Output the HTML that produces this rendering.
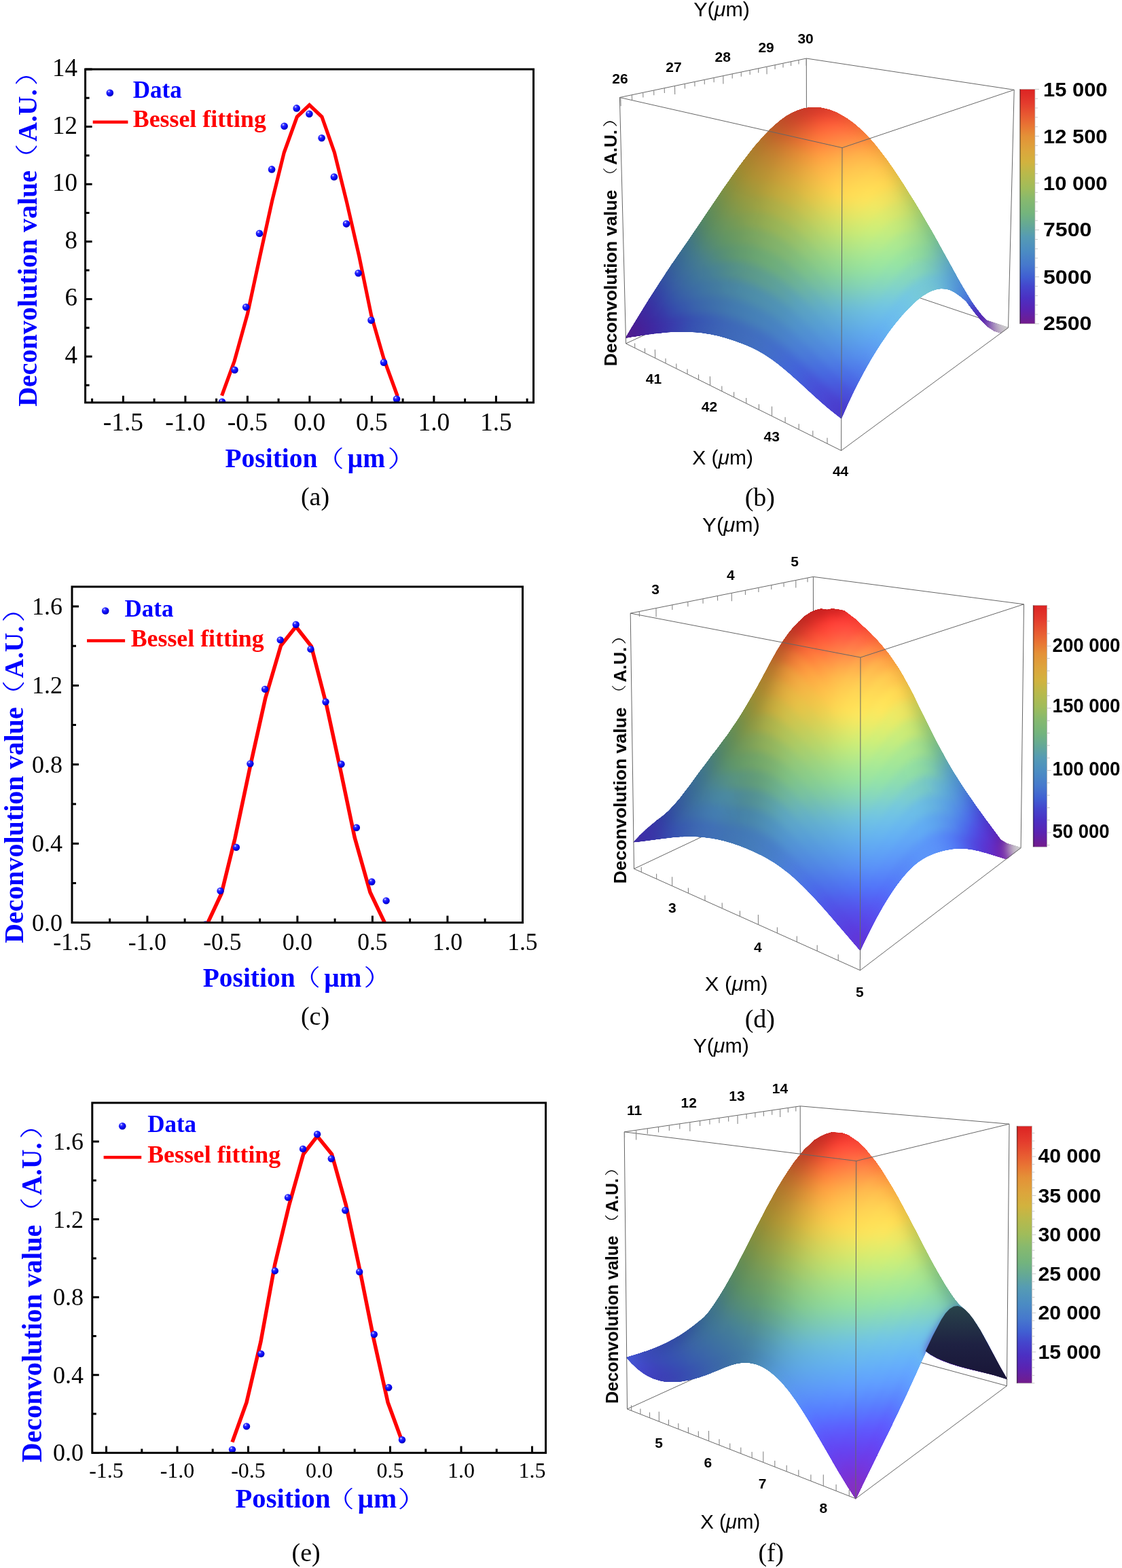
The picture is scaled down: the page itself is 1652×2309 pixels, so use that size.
<!DOCTYPE html>
<html><head><meta charset="utf-8"><title>Deconvolution profiles</title>
<style>html,body{margin:0;padding:0;background:#fff;}svg{display:block;}</style></head>
<body><svg width="1652" height="2309" viewBox="0 0 1652 2309" font-family="'Liberation Serif','Times New Roman',serif">
<rect width="1652" height="2309" fill="#fff"/>
<defs><linearGradient id="bkf" gradientUnits="userSpaceOnUse" x1="0" y1="1925" x2="0" y2="2025"><stop offset="0" stop-color="#28424a"/><stop offset="0.55" stop-color="#1e2142"/><stop offset="1" stop-color="#191638"/></linearGradient><filter id="sm" color-interpolation-filters="sRGB"><feGaussianBlur in="SourceGraphic" stdDeviation="6.5" result="b"/><feComponentTransfer in="b" result="o"><feFuncA type="linear" slope="100"/></feComponentTransfer><feComponentTransfer in="SourceAlpha" result="m"><feFuncA type="linear" slope="2.5"/></feComponentTransfer><feComposite in="o" in2="m" operator="in"/></filter><radialGradient id="ball" cx="0.35" cy="0.3" r="0.75"><stop offset="0" stop-color="#e8e8ff"/><stop offset="0.25" stop-color="#3030ff"/><stop offset="0.7" stop-color="#0000f0"/><stop offset="1" stop-color="#0000a0"/></radialGradient></defs>
<path d="M181.4 592.8v-10M272.9 592.8v-10M364.4 592.8v-10M455.9 592.8v-10M547.4 592.8v-10M638.9 592.8v-10M730.4 592.8v-10M135.6 592.8v-6M227.1 592.8v-6M318.6 592.8v-6M410.1 592.8v-6M501.6 592.8v-6M593.1 592.8v-6M684.6 592.8v-6M776.1 592.8v-6M125.6 525.0h10M125.6 440.4h10M125.6 355.8h10M125.6 271.2h10M125.6 186.6h10M125.6 102.0h10M125.6 567.3h6M125.6 482.7h6M125.6 398.1h6M125.6 313.5h6M125.6 228.9h6M125.6 144.3h6" stroke="#000" stroke-width="3" fill="none"/>
<clipPath id="clipa"><rect x="125.6" y="102" width="659.9" height="490.79999999999995"/></clipPath>
<g clip-path="url(#clipa)"><polyline points="326.6,582.6 345.1,531.8 364.5,462.0 382.8,377.0 400.6,296.0 418.3,224.5 437.3,172.0 455.6,154.5 473.9,172.0 492.4,224.5 510.6,298.0 528.7,377.0 546.8,465.0 565.0,528.0 585.3,583.5" fill="none" stroke="#ff0000" stroke-width="5.2" stroke-linejoin="miter"/>
<circle cx="327.0" cy="591.8" r="5.3" fill="url(#ball)"/>
<circle cx="345.5" cy="544.8" r="5.3" fill="url(#ball)"/>
<circle cx="362.2" cy="452.3" r="5.3" fill="url(#ball)"/>
<circle cx="382.0" cy="343.8" r="5.3" fill="url(#ball)"/>
<circle cx="400.1" cy="249.4" r="5.3" fill="url(#ball)"/>
<circle cx="418.6" cy="185.8" r="5.3" fill="url(#ball)"/>
<circle cx="436.7" cy="159.4" r="5.3" fill="url(#ball)"/>
<circle cx="455.4" cy="167.7" r="5.3" fill="url(#ball)"/>
<circle cx="473.6" cy="203.3" r="5.3" fill="url(#ball)"/>
<circle cx="491.9" cy="260.5" r="5.3" fill="url(#ball)"/>
<circle cx="510.0" cy="329.6" r="5.3" fill="url(#ball)"/>
<circle cx="527.6" cy="402.3" r="5.3" fill="url(#ball)"/>
<circle cx="546.5" cy="471.6" r="5.3" fill="url(#ball)"/>
<circle cx="565.0" cy="533.7" r="5.3" fill="url(#ball)"/>
<circle cx="584.0" cy="587.6" r="5.3" fill="url(#ball)"/>
</g>
<rect x="125.6" y="102" width="659.9" height="490.79999999999995" fill="none" stroke="#000" stroke-width="3"/>
<text x="181.4" y="634" font-size="37.5" text-anchor="middle">-1.5</text>
<text x="272.9" y="634" font-size="37.5" text-anchor="middle">-1.0</text>
<text x="364.4" y="634" font-size="37.5" text-anchor="middle">-0.5</text>
<text x="455.9" y="634" font-size="37.5" text-anchor="middle">0.0</text>
<text x="547.4" y="634" font-size="37.5" text-anchor="middle">0.5</text>
<text x="638.9" y="634" font-size="37.5" text-anchor="middle">1.0</text>
<text x="730.4" y="634" font-size="37.5" text-anchor="middle">1.5</text>
<text x="114" y="535.0" font-size="37" text-anchor="end">4</text>
<text x="114" y="450.4" font-size="37" text-anchor="end">6</text>
<text x="114" y="365.8" font-size="37" text-anchor="end">8</text>
<text x="114" y="281.2" font-size="37" text-anchor="end">10</text>
<text x="114" y="196.6" font-size="37" text-anchor="end">12</text>
<text x="114" y="112.0" font-size="37" text-anchor="end">14</text>
<g font-size="39.5" fill="#0000ff">
<text x="331.5" y="688.3" font-weight="bold" textLength="136" lengthAdjust="spacingAndGlyphs">Position</text>
<text transform="translate(456.91,687.03) scale(1.487,1)" font-size="33.33" font-family="'Liberation Sans','Noto Sans CJK SC',sans-serif" font-weight="300">（</text>
<text x="511.8" y="688.3" font-weight="bold">μm</text>
<text transform="translate(570.49,687.03) scale(1.565,1)" font-size="33.33" font-family="'Liberation Sans','Noto Sans CJK SC',sans-serif" font-weight="300">）</text>
</g>
<g transform="translate(54,598.8) rotate(-90)" font-size="41" fill="#0000ff">
<text x="0" y="0" font-weight="bold" textLength="347.8" lengthAdjust="spacingAndGlyphs">Deconvolution value</text>
<text transform="translate(333.62,-2.65) scale(1.628,1)" font-size="33.12" font-family="'Liberation Sans','Noto Sans CJK SC',sans-serif" font-weight="300">（</text>
<text x="390.4" y="0" font-weight="bold" textLength="77.0" lengthAdjust="spacingAndGlyphs">A.U.</text>
<text transform="translate(472.50,-2.65) scale(1.510,1)" font-size="33.12" font-family="'Liberation Sans','Noto Sans CJK SC',sans-serif" font-weight="300">）</text>
</g>
<circle cx="161.8" cy="136.7" r="5.3" fill="url(#ball)"/>
<text x="195.8" y="144" font-size="35" font-weight="bold" fill="#0000ff">Data</text>
<path d="M136.7 179.8H188.4" stroke="#ff0000" stroke-width="4.5"/>
<text x="195.8" y="187" font-size="35" font-weight="bold" fill="#ff0000" textLength="196" lengthAdjust="spacingAndGlyphs">Bessel fitting</text>
<text x="464" y="744.4" font-size="38" text-anchor="middle">(a)</text>
<path d="M216.9 1358.6v-10M327.4 1358.6v-10M437.9 1358.6v-10M548.4 1358.6v-10M658.9 1358.6v-10M161.6 1358.6v-6M272.1 1358.6v-6M382.6 1358.6v-6M493.1 1358.6v-6M603.6 1358.6v-6M714.1 1358.6v-6M106.0 1358.6h10M106.0 1242.2h10M106.0 1125.8h10M106.0 1009.4h10M106.0 893.0h10M106.0 1300.4h6M106.0 1184.0h6M106.0 1067.6h6M106.0 951.2h6" stroke="#000" stroke-width="3" fill="none"/>
<clipPath id="clipc"><rect x="106" y="864" width="663.5" height="494.5999999999999"/></clipPath>
<g clip-path="url(#clipc)"><polyline points="303.2,1364.7 326.0,1316.0 345.8,1235.3 369.0,1125.6 390.7,1028.3 413.5,950.7 435.7,922.8 458.4,951.7 480.8,1038.7 500.5,1129.8 522.2,1233.3 545.0,1314.0 567.7,1361.6" fill="none" stroke="#ff0000" stroke-width="5.5" stroke-linejoin="miter"/>
<circle cx="302.4" cy="1361.5" r="5.2" fill="url(#ball)"/>
<circle cx="324.5" cy="1311.9" r="5.2" fill="url(#ball)"/>
<circle cx="347.9" cy="1247.8" r="5.2" fill="url(#ball)"/>
<circle cx="368.4" cy="1124.6" r="5.2" fill="url(#ball)"/>
<circle cx="390.1" cy="1014.9" r="5.2" fill="url(#ball)"/>
<circle cx="412.7" cy="942.4" r="5.2" fill="url(#ball)"/>
<circle cx="435.7" cy="919.7" r="5.2" fill="url(#ball)"/>
<circle cx="457.4" cy="955.9" r="5.2" fill="url(#ball)"/>
<circle cx="479.5" cy="1033.5" r="5.2" fill="url(#ball)"/>
<circle cx="502.5" cy="1125.2" r="5.2" fill="url(#ball)"/>
<circle cx="524.9" cy="1218.8" r="5.2" fill="url(#ball)"/>
<circle cx="547.4" cy="1298.5" r="5.2" fill="url(#ball)"/>
<circle cx="568.6" cy="1326.4" r="5.2" fill="url(#ball)"/>
</g>
<rect x="106" y="864" width="663.5" height="494.5999999999999" fill="none" stroke="#000" stroke-width="3"/>
<text x="106.4" y="1399" font-size="35.5" text-anchor="middle">-1.5</text>
<text x="216.9" y="1399" font-size="35.5" text-anchor="middle">-1.0</text>
<text x="327.4" y="1399" font-size="35.5" text-anchor="middle">-0.5</text>
<text x="437.9" y="1399" font-size="35.5" text-anchor="middle">0.0</text>
<text x="548.4" y="1399" font-size="35.5" text-anchor="middle">0.5</text>
<text x="658.9" y="1399" font-size="35.5" text-anchor="middle">1.0</text>
<text x="769.4" y="1399" font-size="35.5" text-anchor="middle">1.5</text>
<text x="92" y="1370.6" font-size="36" text-anchor="end">0.0</text>
<text x="92" y="1254.2" font-size="36" text-anchor="end">0.4</text>
<text x="92" y="1137.8" font-size="36" text-anchor="end">0.8</text>
<text x="92" y="1021.4" font-size="36" text-anchor="end">1.2</text>
<text x="92" y="905.0" font-size="36" text-anchor="end">1.6</text>
<g font-size="39.5" fill="#0000ff">
<text x="298.7" y="1452.6" font-weight="bold" textLength="136" lengthAdjust="spacingAndGlyphs">Position</text>
<text transform="translate(422.85,1451.35) scale(1.487,1)" font-size="33.00" font-family="'Liberation Sans','Noto Sans CJK SC',sans-serif" font-weight="300">（</text>
<text x="477.2" y="1452.6" font-weight="bold">μm</text>
<text transform="translate(535.30,1451.35) scale(1.565,1)" font-size="33.00" font-family="'Liberation Sans','Noto Sans CJK SC',sans-serif" font-weight="300">）</text>
</g>
<g transform="translate(34.4,1389.1) rotate(-90)" font-size="41" fill="#0000ff">
<text x="0" y="0" font-weight="bold" textLength="347.8" lengthAdjust="spacingAndGlyphs">Deconvolution value</text>
<text transform="translate(333.62,-2.65) scale(1.628,1)" font-size="33.12" font-family="'Liberation Sans','Noto Sans CJK SC',sans-serif" font-weight="300">（</text>
<text x="390.4" y="0" font-weight="bold" textLength="77.0" lengthAdjust="spacingAndGlyphs">A.U.</text>
<text transform="translate(472.50,-2.65) scale(1.510,1)" font-size="33.12" font-family="'Liberation Sans','Noto Sans CJK SC',sans-serif" font-weight="300">）</text>
</g>
<circle cx="155.2" cy="899.5" r="5.3" fill="url(#ball)"/>
<text x="183.6" y="907.8" font-size="35" font-weight="bold" fill="#0000ff">Data</text>
<path d="M128 943.4H184.1" stroke="#ff0000" stroke-width="4.5"/>
<text x="192.7" y="951.7" font-size="35" font-weight="bold" fill="#ff0000" textLength="196" lengthAdjust="spacingAndGlyphs">Bessel fitting</text>
<text x="464" y="1509" font-size="38" text-anchor="middle">(c)</text>
<path d="M156.5 2139.4v-10M261.0 2139.4v-10M365.5 2139.4v-10M470.0 2139.4v-10M574.5 2139.4v-10M679.0 2139.4v-10M783.5 2139.4v-10M208.8 2139.4v-6M313.2 2139.4v-6M417.8 2139.4v-6M522.2 2139.4v-6M626.8 2139.4v-6M731.2 2139.4v-6M135.8 2139.4h10M135.8 2024.8h10M135.8 1910.2h10M135.8 1795.6h10M135.8 1681.0h10M135.8 2082.1h6M135.8 1967.5h6M135.8 1852.9h6M135.8 1738.3h6" stroke="#000" stroke-width="3" fill="none"/>
<clipPath id="clipe"><rect x="135.8" y="1624" width="667.7" height="515.4000000000001"/></clipPath>
<g clip-path="url(#clipe)"><polyline points="342.0,2123.6 363.0,2065.2 383.9,1976.0 404.8,1861.5 425.7,1774.4 446.7,1699.6 467.1,1673.1 488.5,1699.6 509.4,1774.4 530.3,1872.5 550.2,1971.6 571.1,2065.2 592.5,2123.6" fill="none" stroke="#ff0000" stroke-width="5.5" stroke-linejoin="miter"/>
<circle cx="342.0" cy="2134.6" r="5.2" fill="url(#ball)"/>
<circle cx="363.0" cy="2100.4" r="5.2" fill="url(#ball)"/>
<circle cx="384.3" cy="1993.6" r="5.2" fill="url(#ball)"/>
<circle cx="404.8" cy="1871.4" r="5.2" fill="url(#ball)"/>
<circle cx="424.0" cy="1763.4" r="5.2" fill="url(#ball)"/>
<circle cx="446.0" cy="1691.9" r="5.2" fill="url(#ball)"/>
<circle cx="467.1" cy="1670.3" r="5.2" fill="url(#ball)"/>
<circle cx="487.8" cy="1706.2" r="5.2" fill="url(#ball)"/>
<circle cx="508.3" cy="1782.2" r="5.2" fill="url(#ball)"/>
<circle cx="529.2" cy="1872.9" r="5.2" fill="url(#ball)"/>
<circle cx="550.8" cy="1965.0" r="5.2" fill="url(#ball)"/>
<circle cx="572.2" cy="2043.2" r="5.2" fill="url(#ball)"/>
<circle cx="592.0" cy="2120.3" r="5.2" fill="url(#ball)"/>
</g>
<rect x="135.8" y="1624" width="667.7" height="515.4000000000001" fill="none" stroke="#000" stroke-width="3"/>
<text x="156.5" y="2176" font-size="32" text-anchor="middle">-1.5</text>
<text x="261.0" y="2176" font-size="32" text-anchor="middle">-1.0</text>
<text x="365.5" y="2176" font-size="32" text-anchor="middle">-0.5</text>
<text x="470.0" y="2176" font-size="32" text-anchor="middle">0.0</text>
<text x="574.5" y="2176" font-size="32" text-anchor="middle">0.5</text>
<text x="679.0" y="2176" font-size="32" text-anchor="middle">1.0</text>
<text x="783.5" y="2176" font-size="32" text-anchor="middle">1.5</text>
<text x="123" y="2151.4" font-size="36" text-anchor="end">0.0</text>
<text x="123" y="2036.8" font-size="36" text-anchor="end">0.4</text>
<text x="123" y="1922.2" font-size="36" text-anchor="end">0.8</text>
<text x="123" y="1807.6" font-size="36" text-anchor="end">1.2</text>
<text x="123" y="1693.0" font-size="36" text-anchor="end">1.6</text>
<g font-size="41" fill="#0000ff">
<text x="346.5" y="2219.8" font-weight="bold" textLength="140" lengthAdjust="spacingAndGlyphs">Position</text>
<text transform="translate(471.91,2218.53) scale(1.487,1)" font-size="33.33" font-family="'Liberation Sans','Noto Sans CJK SC',sans-serif" font-weight="300">（</text>
<text x="526.8" y="2219.8" font-weight="bold">μm</text>
<text transform="translate(585.49,2218.53) scale(1.565,1)" font-size="33.33" font-family="'Liberation Sans','Noto Sans CJK SC',sans-serif" font-weight="300">）</text>
</g>
<g transform="translate(60.6,2153.6) rotate(-90)" font-size="41.5" fill="#0000ff">
<text x="0" y="0" font-weight="bold" textLength="350" lengthAdjust="spacingAndGlyphs">Deconvolution value</text>
<text transform="translate(336.29,-2.67) scale(1.628,1)" font-size="33.38" font-family="'Liberation Sans','Noto Sans CJK SC',sans-serif" font-weight="300">（</text>
<text x="393.5" y="0" font-weight="bold" textLength="77.6" lengthAdjust="spacingAndGlyphs">A.U.</text>
<text transform="translate(476.28,-2.67) scale(1.510,1)" font-size="33.38" font-family="'Liberation Sans','Noto Sans CJK SC',sans-serif" font-weight="300">）</text>
</g>
<circle cx="180.2" cy="1658.2" r="5.3" fill="url(#ball)"/>
<text x="217.2" y="1666.7" font-size="35" font-weight="bold" fill="#0000ff">Data</text>
<path d="M152.6 1704.2H208.2" stroke="#ff0000" stroke-width="4.5"/>
<text x="217.2" y="1711.7" font-size="35" font-weight="bold" fill="#ff0000" textLength="196" lengthAdjust="spacingAndGlyphs">Bessel fitting</text>
<text x="450.6" y="2298.5" font-size="38" text-anchor="middle">(e)</text>
<path d="M1484.5 482.6L1187.8 382.6M1187.8 382.6L921.6 505.9M1187.8 382.6L1187.3 86.0" stroke="#666" stroke-width="1.0" fill="none"/>
<g filter="url(#sm)">
<path d="M1181.2 350.7l7.5 -2.7 6.4 7.4 -7.4 2.2z" fill="#4b30c3"/>
<path d="M1188.3 348.2l7.4 -2.6 6.5 7.9 -7.5 2.1z" fill="#4937c6"/>
<path d="M1175.1 344l7.4 -3.2 6.5 7.6 -7.4 2.7z" fill="#463fca"/>
<path d="M1195.3 345.7l7.6 -2.4 6.4 8.5 -7.6 1.9z" fill="#473ec9"/>
<path d="M1182.1 341l7.5 -3.2 6.5 8.2 -7.5 2.6z" fill="#4446cd"/>
<path d="M1168.8 337.3l7.5 -3.8 6.6 7.7 -7.4 3.2z" fill="#4250cf"/>
<path d="M1202.5 343.4l7.6 -2.3 6.4 9.1 -7.6 1.7z" fill="#4544cc"/>
<path d="M1189.2 338l7.6 -3.1 6.5 8.9 -7.6 2.4z" fill="#4250cf"/>
<path d="M1175.9 333.6l7.5 -3.7 6.6 8.4 -7.5 3.1z" fill="#415bd1"/>
<path d="M1162.5 330.6l7.5 -4.5 6.7 7.8 -7.5 3.8z" fill="#4163d1"/>
<path d="M1209.7 341.2l7.7 -2.1 6.4 9.7 -7.7 1.5z" fill="#434bce"/>
<path d="M1196.3 335.1l7.7 -2.9 6.5 9.4 -7.7 2.3z" fill="#415ad1"/>
<path d="M1183 330.1l7.6 -3.7 6.5 9 -7.5 3.1z" fill="#4165d1"/>
<path d="M1169.6 326.3l7.5 -4.4 6.7 8.4 -7.5 3.8z" fill="#436dcf"/>
<path d="M1217 339.2l7.8 -1.8 6.3 10.2 -7.8 1.3z" fill="#4253d0"/>
<path d="M1156.1 324l7.5 -5.2 6.8 7.7 -7.5 4.5z" fill="#4573ce"/>
<path d="M1203.6 332.3l7.7 -2.6 6.5 10 -7.8 2.1z" fill="#4163d1"/>
<path d="M1190.1 326.6l7.7 -3.5 6.6 9.6 -7.7 2.9z" fill="#446ecf"/>
<path d="M1176.7 322.1l7.6 -4.3 6.6 9.1 -7.6 3.7z" fill="#4677cd"/>
<path d="M1224.3 337.5l7.9 -1.6 6.3 10.8 -7.8 1z" fill="#415bd1"/>
<path d="M1163.2 319.1l7.5 -5.1 6.8 8.4 -7.5 4.4z" fill="#477ccb"/>
<path d="M1210.9 329.8l7.8 -2.4 6.4 10.6 -7.8 1.8z" fill="#436ad0"/>
<path d="M1149.7 317.6l7.5 -5.8 6.8 7.4 -7.5 5.2z" fill="#487fc9"/>
<path d="M1197.4 323.3l7.7 -3.3 6.6 10.2 -7.8 2.7z" fill="#4676cd"/>
<path d="M1183.9 318l7.7 -4.1 6.6 9.7 -7.7 3.5z" fill="#477eca"/>
<path d="M1231.7 336l8 -1.2 6.3 11.3 -7.9 0.7z" fill="#4061d2"/>
<path d="M1170.3 314.3l7.6 -5 6.8 9 -7.6 4.3z" fill="#4983c7"/>
<path d="M1218.2 327.5l7.9 -2.2 6.4 11.2 -7.8 1.6z" fill="#4471ce"/>
<path d="M1156.7 312.1l7.6 -5.8 6.8 8.2 -7.5 5z" fill="#4a87c5"/>
<path d="M1143.1 311.5l7.5 -6.5 6.9 7.2 -7.4 5.8z" fill="#4a89c4"/>
<path d="M1204.7 320.1l7.8 -3 6.5 10.8 -7.8 2.5z" fill="#477ccb"/>
<path d="M1191.1 314.1l7.8 -4 6.6 10.4 -7.7 3.3z" fill="#4984c7"/>
<path d="M1239.2 334.8l8 -0.9 6.3 11.9 -8 0.3z" fill="#4266d1"/>
<path d="M1177.5 309.5l7.7 -4.8 6.7 9.7 -7.7 4.2z" fill="#4b8ac4"/>
<path d="M1225.7 325.4l7.9 -1.8 6.4 11.8 -7.9 1.2z" fill="#4677cd"/>
<path d="M1163.9 306.6l7.6 -5.7 6.8 8.9 -7.6 5z" fill="#4d8ec1"/>
<path d="M1212.1 317.2l7.9 -2.7 6.5 11.4 -7.9 2.2z" fill="#4881c8"/>
<path d="M1150.2 305.4l7.6 -6.5 6.9 7.8 -7.6 5.8z" fill="#4e90bf"/>
<path d="M1136.5 305.9l7.5 -7.2 7 6.7 -7.5 6.5z" fill="#4e91be"/>
<path d="M1246.8 334l8.1 -0.5 6.2 12.5 -8 -0.1z" fill="#436ad0"/>
<path d="M1198.4 310.3l7.9 -3.7 6.6 11.1 -7.8 3z" fill="#4b8ac4"/>
<path d="M1184.8 305l7.8 -4.7 6.7 10.4 -7.8 4z" fill="#4e90bf"/>
<path d="M1233.2 323.7l8 -1.4 6.4 12.3 -8 0.9z" fill="#477bcb"/>
<path d="M1171.1 301.2l7.7 -5.5 6.8 9.5 -7.7 4.9z" fill="#5094bb"/>
<path d="M1219.5 314.6l8 -2.4 6.5 12.1 -8 1.8z" fill="#4a86c6"/>
<path d="M1157.3 299.3l7.7 -6.4 6.9 8.5 -7.7 5.7z" fill="#5297b8"/>
<path d="M1254.4 333.5l8.2 0.1 6.2 12.9 -8.1 -0.5z" fill="#446ecf"/>
<path d="M1143.6 299.1l7.6 -7.1 7 7.3 -7.6 6.5z" fill="#5398b7"/>
<path d="M1205.9 306.8l7.9 -3.3 6.6 11.6 -7.9 2.7z" fill="#4d8fc0"/>
<path d="M1129.8 300.8l7.5 -7.8 7.1 6.1 -7.5 7.1z" fill="#5398b7"/>
<path d="M1240.8 322.3l8.1 -0.9 6.3 12.8 -8.1 0.5z" fill="#487eca"/>
<path d="M1192.1 300.6l7.9 -4.4 6.7 11 -7.9 3.7z" fill="#5195ba"/>
<path d="M1178.3 296l7.8 -5.3 6.8 10.2 -7.7 4.6z" fill="#549ab5"/>
<path d="M1227.1 312.3l8.1 -2 6.4 12.7 -8 1.4z" fill="#4b8ac4"/>
<path d="M1164.5 293.2l7.8 -6.2 6.9 9.2 -7.7 5.5z" fill="#579daf"/>
<path d="M1262.1 333.6l8.3 0.5 6.2 13.4 -8.2 -1z" fill="#4471ce"/>
<path d="M1213.3 303.6l8 -3 6.6 12.3 -8 2.4z" fill="#5093bc"/>
<path d="M1150.7 292.4l7.7 -7.1 7 8 -7.7 6.4z" fill="#5a9fab"/>
<path d="M1136.9 293.4l7.6 -7.8 7 6.8 -7.5 7.1z" fill="#5a9faa"/>
<path d="M1248.4 321.4l8.2 -0.5 6.4 13.4 -8.2 0z" fill="#4881c8"/>
<path d="M1199.5 296.5l8 -4 6.7 11.6 -8 3.4z" fill="#549ab5"/>
<path d="M1123 296.3l7.5 -8.3 7.2 5.3 -7.5 7.8z" fill="#589ead"/>
<path d="M1185.7 291l7.9 -5 6.8 10.8 -7.9 4.4z" fill="#5a9faa"/>
<path d="M1234.7 310.4l8.1 -1.5 6.5 13.2 -8.2 1z" fill="#4c8ec1"/>
<path d="M1269.9 334.1l8.4 1.1 6.1 13.8 -8.3 -1.5z" fill="#4573ce"/>
<path d="M1171.8 287.3l7.8 -5.9 6.9 9.8 -7.8 5.3z" fill="#5fa3a1"/>
<path d="M1220.9 300.8l8.1 -2.6 6.5 12.8 -8 2z" fill="#5296b9"/>
<path d="M1157.9 285.7l7.8 -6.9 7 8.7 -7.8 6.2z" fill="#62a69b"/>
<path d="M1256.2 320.9l8.3 0.1 6.2 13.9 -8.2 -0.6z" fill="#4984c7"/>
<path d="M1144 286.1l7.7 -7.8 7.1 7.4 -7.7 7.1z" fill="#63a799"/>
<path d="M1207 292.6l8.1 -3.5 6.6 12.2 -8 3z" fill="#589ead"/>
<path d="M1130.1 288.4l7.6 -8.4 7.2 6 -7.6 7.8z" fill="#62a69a"/>
<path d="M1116.2 292.6l7.5 -8.9 7.2 4.5 -7.5 8.4z" fill="#5fa4a0"/>
<path d="M1242.4 309l8.2 -1 6.4 13.7 -8.2 0.5z" fill="#4e90bf"/>
<path d="M1193.1 286.2l8 -4.6 6.8 11.5 -8 4z" fill="#60a49e"/>
<path d="M1277.8 335.1l8.4 1.8 6.1 14.1 -8.4 -2.1z" fill="#4574ce"/>
<path d="M1179.2 281.7l7.9 -5.7 6.9 10.6 -7.9 5z" fill="#66a993"/>
<path d="M1228.5 298.3l8.2 -2 6.5 13.4 -8.1 1.5z" fill="#549ab5"/>
<path d="M1165.2 279.1l7.9 -6.6 6.9 9.4 -7.8 6z" fill="#69ac8d"/>
<path d="M1264 321l8.3 0.7 6.3 14.3 -8.3 -1.2z" fill="#4985c6"/>
<path d="M1214.6 289.2l8.1 -3.1 6.7 12.8 -8.1 2.6z" fill="#5da2a4"/>
<path d="M1151.3 278.7l7.7 -7.6 7.1 8.1 -7.8 6.9z" fill="#6bae8a"/>
<path d="M1137.3 280.5l7.6 -8.4 7.2 6.6 -7.7 7.7z" fill="#6bae8a"/>
<path d="M1250.1 308l8.3 -0.3 6.4 14.1 -8.3 -0.1z" fill="#4f92bd"/>
<path d="M1123.3 284.2l7.5 -9 7.3 5.1 -7.6 8.4z" fill="#69ac8e"/>
<path d="M1200.7 281.8l8 -4.2 6.7 12.1 -8 3.6z" fill="#66a993"/>
<path d="M1285.7 336.8l8.5 2.4 6.1 14.3 -8.5 -2.7z" fill="#4574ce"/>
<path d="M1109.2 289.7l7.5 -9.3 7.4 3.5 -7.5 8.9z" fill="#65a995"/>
<path d="M1186.7 276.3l7.9 -5.3 6.9 11.2 -8 4.6z" fill="#6caf88"/>
<path d="M1236.2 296.4l8.3 -1.5 6.5 13.9 -8.3 0.9z" fill="#579db0"/>
<path d="M1271.9 321.7l8.4 1.4 6.2 14.6 -8.4 -1.8z" fill="#4a87c6"/>
<path d="M1172.6 272.8l7.9 -6.4 7 10.2 -7.9 5.6z" fill="#71b280"/>
<path d="M1222.3 286.2l8.2 -2.5 6.6 13.3 -8.2 2.1z" fill="#62a69b"/>
<path d="M1158.6 271.5l7.8 -7.3 7.1 8.8 -7.9 6.6z" fill="#74b47c"/>
<path d="M1258 307.7l8.4 0.3 6.3 14.5 -8.4 -0.7z" fill="#5094bb"/>
<path d="M1293.7 339.1l8.5 3.2 6.1 14.2 -8.5 -3.2z" fill="#4574ce"/>
<path d="M1144.5 272.5l7.7 -8.3 7.2 7.4 -7.7 7.6z" fill="#74b47c"/>
<path d="M1208.2 277.8l8.2 -3.7 6.7 12.7 -8.1 3.1z" fill="#6bad8b"/>
<path d="M1130.4 275.7l7.7 -9 7.2 5.7 -7.6 8.4z" fill="#73b47e"/>
<path d="M1116.3 280.9l7.6 -9.5 7.4 4.1 -7.6 9z" fill="#6fb184"/>
<path d="M1102.2 287.8l7.5 -9.7 7.5 2.5 -7.5 9.3z" fill="#6aad8c"/>
<path d="M1244 295l8.4 -0.9 6.4 14.4 -8.3 0.3z" fill="#5a9fab"/>
<path d="M1194.2 271.2l8.1 -4.8 6.8 11.9 -8.1 4.2z" fill="#72b47e"/>
<path d="M1279.8 323l8.5 2.3 6.2 14.8 -8.4 -2.5z" fill="#4a87c5"/>
<path d="M1180.1 266.8l8 -6 6.9 10.8 -8 5.3z" fill="#79b678"/>
<path d="M1230 283.8l8.3 -2 6.6 13.9 -8.3 1.5z" fill="#65a994"/>
<path d="M1265.9 307.9l8.5 1.2 6.3 14.9 -8.5 -1.5z" fill="#5195ba"/>
<path d="M1301.8 342.1l8.6 3.9 6 14.1 -8.6 -3.8z" fill="#4572ce"/>
<path d="M1166 264.5l7.9 -7 7 9.5 -7.9 6.3z" fill="#7db775"/>
<path d="M1215.9 274.3l8.2 -3.2 6.7 13.3 -8.2 2.6z" fill="#70b183"/>
<path d="M1151.8 264.7l7.8 -8.1 7.2 8 -7.8 7.4z" fill="#7fb774"/>
<path d="M1137.6 267.2l7.8 -9 7.3 6.4 -7.8 8.3z" fill="#7eb775"/>
<path d="M1251.9 294.2l8.4 -0.1 6.4 14.7 -8.4 -0.3z" fill="#5ca1a6"/>
<path d="M1123.5 271.9l7.7 -9.6 7.3 4.7 -7.7 9z" fill="#7bb677"/>
<path d="M1287.9 325.1l8.5 3.2 6.2 14.8 -8.6 -3.2z" fill="#4a87c6"/>
<path d="M1201.8 266.6l8.1 -4.3 6.9 12.5 -8.2 3.7z" fill="#79b678"/>
<path d="M1109.3 278.6l7.6 -9.9 7.4 2.9 -7.6 9.5z" fill="#75b47c"/>
<path d="M1095.2 287l7.5 -10.1 7.5 1.3 -7.5 9.7z" fill="#6eb086"/>
<path d="M1187.6 261.1l8.1 -5.5 6.9 11.4 -8 4.9z" fill="#81b872"/>
<path d="M1237.8 281.9l8.4 -1.3 6.5 14.3 -8.3 0.9z" fill="#69ac8e"/>
<path d="M1309.9 345.8l8.7 4.5 6 13.8 -8.7 -4.3z" fill="#4470cf"/>
<path d="M1273.9 309l8.5 2 6.3 15.1 -8.5 -2.2z" fill="#5195ba"/>
<path d="M1173.4 257.9l8 -6.7 7.1 10.2 -8 5.9z" fill="#87b96e"/>
<path d="M1223.7 271.3l8.3 -2.5 6.6 13.8 -8.2 1.9z" fill="#74b47c"/>
<path d="M1159.2 257l7.9 -7.7 7.2 8.7 -7.9 7z" fill="#8ab96b"/>
<path d="M1259.8 294l8.5 0.8 6.4 15.1 -8.5 -1.1z" fill="#5da2a3"/>
<path d="M1295.9 328.1l8.7 3.9 6.1 14.8 -8.6 -3.9z" fill="#4986c6"/>
<path d="M1145 258.7l7.8 -8.7 7.3 7 -7.9 8.1z" fill="#8ab96b"/>
<path d="M1209.5 262.5l8.2 -3.7 6.8 13 -8.2 3.2z" fill="#80b774"/>
<path d="M1130.7 262.9l7.8 -9.6 7.3 5.3 -7.7 8.9z" fill="#87b96e"/>
<path d="M1116.5 269.2l7.6 -10.1 7.5 3.4 -7.7 9.6z" fill="#81b872"/>
<path d="M1102.2 277.5l7.6 -10.5 7.5 1.8 -7.6 10z" fill="#7ab678"/>
<path d="M1088 287.4l7.5 -10.5 7.6 0 -7.5 10.1z" fill="#70b282"/>
<path d="M1318.1 350l8.8 5 6 13.6 -8.8 -4.7z" fill="#436dcf"/>
<path d="M1245.7 280.6l8.4 -0.5 6.6 14.8 -8.5 0.1z" fill="#6bae8a"/>
<path d="M1195.3 255.9l8.1 -5 6.9 12.1 -8.1 4.3z" fill="#89b96c"/>
<path d="M1281.9 310.8l8.6 3 6.3 15.3 -8.6 -3.1z" fill="#5195ba"/>
<path d="M1181 251.5l8.1 -6.1 7 10.8 -8.1 5.5z" fill="#92ba65"/>
<path d="M1231.5 268.9l8.4 -1.8 6.6 14.3 -8.3 1.3z" fill="#78b579"/>
<path d="M1304.1 331.8l8.7 4.6 6.1 14.7 -8.7 -4.5z" fill="#4984c7"/>
<path d="M1267.8 294.7l8.6 1.7 6.4 15.4 -8.6 -2z" fill="#5ea3a1"/>
<path d="M1166.7 249.7l8 -7.4 7.1 9.4 -8 6.7z" fill="#97bb61"/>
<path d="M1152.4 250.4l7.9 -8.5 7.2 7.8 -7.9 7.8z" fill="#98bb60"/>
<path d="M1217.3 259l8.3 -3 6.8 13.5 -8.3 2.5z" fill="#85b96f"/>
<path d="M1326.4 354.7l8.8 5.3 6 13.5 -8.8 -5.2z" fill="#4269d0"/>
<path d="M1138 253.8l7.9 -9.5 7.3 6 -7.8 8.8z" fill="#96bb62"/>
<path d="M1253.7 280.1l8.5 0.3 6.5 15.2 -8.5 -0.7z" fill="#6daf87"/>
<path d="M1290.1 313.6l8.6 3.9 6.3 15.4 -8.7 -4z" fill="#5195ba"/>
<path d="M1123.7 259.6l7.8 -10.2 7.4 4.1 -7.8 9.6z" fill="#90ba67"/>
<path d="M1109.4 267.6l7.7 -10.6 7.5 2.2 -7.7 10.2z" fill="#87b96e"/>
<path d="M1080.8 289.1l7.5 -10.8 7.6 -1.4 -7.5 10.4z" fill="#72b37f"/>
<path d="M1095.1 277.5l7.6 -10.8 7.5 0.4 -7.5 10.4z" fill="#7db775"/>
<path d="M1203 251.2l8.2 -4.3 6.9 12.6 -8.2 3.7z" fill="#92ba65"/>
<path d="M1312.4 336.1l8.8 5.1 6 14.6 -8.8 -5z" fill="#4882c8"/>
<path d="M1239.4 267.2l8.5 -1 6.6 14.7 -8.4 0.5z" fill="#7cb676"/>
<path d="M1188.6 245.7l8.2 -5.6 7 11.5 -8.2 4.9z" fill="#9cbb5d"/>
<path d="M1275.9 296.3l8.7 2.7 6.3 15.7 -8.6 -3z" fill="#5ea3a1"/>
<path d="M1174.3 242.7l8.1 -6.9 7.1 10.1 -8.1 6.2z" fill="#a2bc59"/>
<path d="M1225.1 256.1l8.4 -2.3 6.8 14.1 -8.4 1.8z" fill="#8bb96b"/>
<path d="M1334.7 359.7l9 5.5 5.9 13.5 -8.9 -5.5z" fill="#4265d1"/>
<path d="M1159.9 242.4l8 -8.1 7.2 8.5 -8 7.4z" fill="#a5bb57"/>
<path d="M1298.3 317.2l8.7 4.6 6.2 15.4 -8.7 -4.6z" fill="#5093bc"/>
<path d="M1261.7 280.4l8.6 1.3 6.5 15.6 -8.6 -1.7z" fill="#6eb085"/>
<path d="M1145.4 244.8l8 -9.1 7.3 6.6 -7.9 8.5z" fill="#a4bb57"/>
<path d="M1210.8 247.1l8.3 -3.6 6.9 13.2 -8.4 3z" fill="#99bb5f"/>
<path d="M1131 250l7.9 -10.1 7.4 4.7 -7.8 9.5z" fill="#a0bc5a"/>
<path d="M1116.6 257.6l7.8 -10.8 7.5 2.8 -7.8 10.2z" fill="#97bb61"/>
<path d="M1073.5 292.1l7.5 -11.1 7.7 -2.8 -7.5 10.7z" fill="#72b37e"/>
<path d="M1087.8 278.9l7.6 -11.2 7.7 -1 -7.6 10.8z" fill="#7fb774"/>
<path d="M1102.2 267.3l7.7 -11.1 7.6 0.8 -7.7 10.7z" fill="#8cba6a"/>
<path d="M1320.7 340.9l8.9 5.4 6 14.5 -8.9 -5.3z" fill="#487fc9"/>
<path d="M1247.4 266.2l8.6 0 6.6 15.1 -8.6 -0.4z" fill="#7fb774"/>
<path d="M1284.1 298.8l8.7 3.7 6.3 15.8 -8.7 -3.8z" fill="#5da2a3"/>
<path d="M1196.4 240.4l8.2 -4.9 7 12.1 -8.2 4.3z" fill="#a5bb57"/>
<path d="M1343.2 364.9l9 5.7 5.9 13.7 -9 -5.9z" fill="#4061d2"/>
<path d="M1181.9 236.2l8.2 -6.2 7.1 10.7 -8.2 5.6z" fill="#adba52"/>
<path d="M1233 253.9l8.5 -1.4 6.8 14.5 -8.5 1z" fill="#90ba67"/>
<path d="M1306.5 321.5l8.9 5.1 6.1 15.4 -8.8 -5z" fill="#4f91be"/>
<path d="M1269.8 281.6l8.7 2.4 6.4 15.9 -8.6 -2.7z" fill="#6eb085"/>
<path d="M1167.4 234.7l8.2 -7.5 7.2 9.2 -8.1 6.8z" fill="#b2ba4f"/>
<path d="M1152.9 236.2l8.1 -8.8 7.3 7.3 -8 8.1z" fill="#b2ba4f"/>
<path d="M1218.6 243.7l8.5 -2.8 6.8 13.7 -8.4 2.3z" fill="#a0bc5a"/>
<path d="M1329 346l9 5.5 6 14.5 -8.9 -5.5z" fill="#477ccb"/>
<path d="M1138.4 240.4l8 -9.8 7.4 5.4 -7.9 9.2z" fill="#afba51"/>
<path d="M1292.3 302.2l8.8 4.5 6.3 16 -8.8 -4.6z" fill="#5ca1a6"/>
<path d="M1066.1 296.4l7.5 -11.4 7.8 -4.2 -7.5 11.1z" fill="#71b380"/>
<path d="M1255.5 266.1l8.6 1 6.6 15.5 -8.6 -1.3z" fill="#80b773"/>
<path d="M1123.9 247.4l7.9 -10.7 7.5 3.4 -7.8 10.1z" fill="#a8bb55"/>
<path d="M1080.6 281.6l7.5 -11.5 7.8 -2.5 -7.6 11.2z" fill="#80b773"/>
<path d="M1109.5 256.8l7.7 -11.2 7.6 1.3 -7.7 10.8z" fill="#9dbc5c"/>
<path d="M1095 268.3l7.7 -11.5 7.6 -0.6 -7.6 11.1z" fill="#8fba67"/>
<path d="M1204.2 235.7l8.3 -4.1 7 12.6 -8.4 3.6z" fill="#adba52"/>
<path d="M1351.7 370.2l9.1 6.2 5.8 14 -9.1 -6.4z" fill="#415cd1"/>
<path d="M1314.9 326.3l8.9 5.5 6.1 15.3 -8.9 -5.3z" fill="#4d8fc0"/>
<path d="M1241.1 252.6l8.5 -0.5 6.7 14.9 -8.5 0z" fill="#93ba64"/>
<path d="M1189.6 230.3l8.3 -5.5 7.1 11.3 -8.3 4.9z" fill="#b7b94c"/>
<path d="M1278 283.8l8.8 3.5 6.4 16.1 -8.8 -3.7z" fill="#6eb086"/>
<path d="M1175.1 227.6l8.2 -6.9 7.2 9.8 -8.2 6.3z" fill="#bdb849"/>
<path d="M1337.5 351.2l9.1 5.7 5.9 14.5 -9 -5.7z" fill="#467acc"/>
<path d="M1226.6 241.1l8.5 -1.9 6.8 14.1 -8.5 1.4z" fill="#a5bb57"/>
<path d="M1300.6 306.5l8.9 5 6.2 16 -8.8 -5.1z" fill="#5a9faa"/>
<path d="M1160.5 227.8l8.2 -8.2 7.3 8.1 -8.2 7.5z" fill="#c0b747"/>
<path d="M1263.6 267l8.7 2 6.6 15.9 -8.7 -2.4z" fill="#81b773"/>
<path d="M1145.9 231.1l8.1 -9.4 7.4 6 -8 8.8z" fill="#beb848"/>
<path d="M1058.7 301.9l7.5 -11.7 7.9 -5.5 -7.5 11.4z" fill="#6fb183"/>
<path d="M1360.2 376.1l9.2 6.9 5.8 14 -9.1 -7z" fill="#4255d0"/>
<path d="M1073.2 285.6l7.6 -11.8 7.8 -3.9 -7.6 11.5z" fill="#7fb774"/>
<path d="M1131.4 237.3l7.9 -10.4 7.5 3.9 -7.9 9.9z" fill="#b8b94c"/>
<path d="M1212.1 231.8l8.4 -3.3 7 13.2 -8.5 2.7z" fill="#b4ba4e"/>
<path d="M1087.7 270.7l7.7 -11.8 7.7 -2.1 -7.7 11.4z" fill="#90ba66"/>
<path d="M1116.8 246.2l7.8 -11.2 7.6 1.9 -7.8 10.7z" fill="#aeba52"/>
<path d="M1102.2 257.5l7.8 -11.6 7.7 -0.3 -7.8 11.2z" fill="#a1bc5a"/>
<path d="M1323.3 331.5l9 5.6 6.1 15.2 -9 -5.5z" fill="#4c8dc2"/>
<path d="M1286.3 287l8.8 4.3 6.4 16.3 -8.8 -4.4z" fill="#6caf88"/>
<path d="M1249.2 252.1l8.6 0.5 6.7 15.3 -8.7 -0.9z" fill="#96bb62"/>
<path d="M1197.5 225l8.4 -4.7 7 12 -8.3 4.1z" fill="#c0b747"/>
<path d="M1346 356.5l9.2 6.2 5.9 14.6 -9.1 -6.3z" fill="#4576cd"/>
<path d="M1182.9 221l8.3 -6.1 7.2 10.5 -8.3 5.5z" fill="#c8b543"/>
<path d="M1309 311.2l8.9 5.5 6.2 16 -8.9 -5.5z" fill="#579daf"/>
<path d="M1234.6 239.3l8.6 -1 6.8 14.6 -8.6 0.5z" fill="#aabb54"/>
<path d="M1271.8 268.9l8.8 3.1 6.5 16.2 -8.7 -3.5z" fill="#80b773"/>
<path d="M1368.9 382.6l9.2 8 5.8 13.6 -9.2 -7.6z" fill="#434cce"/>
<path d="M1168.2 220l8.2 -7.6 7.3 8.8 -8.2 6.9z" fill="#ccb441"/>
<path d="M1051.2 308.5l7.5 -11.8 7.9 -6.8 -7.5 11.6z" fill="#6caf88"/>
<path d="M1331.8 336.8l9.1 5.8 6 15.1 -9.1 -5.7z" fill="#4b8bc4"/>
<path d="M1153.5 222.2l8.2 -9 7.4 6.8 -8.2 8.2z" fill="#ccb441"/>
<path d="M1220 228.7l8.6 -2.3 6.9 13.6 -8.5 1.8z" fill="#bab94a"/>
<path d="M1065.7 290.9l7.6 -12 7.9 -5.3 -7.6 11.8z" fill="#7db775"/>
<path d="M1138.9 227.4l8 -10.1 7.5 4.6 -8 9.5z" fill="#c8b543"/>
<path d="M1294.6 291.1l8.9 5 6.3 16.3 -8.8 -5z" fill="#6aad8c"/>
<path d="M1080.3 274.5l7.7 -12.1 7.8 -3.6 -7.7 11.8z" fill="#90ba67"/>
<path d="M1124.2 235.6l8 -10.9 7.5 2.3 -7.9 10.5z" fill="#bfb748"/>
<path d="M1094.9 259.6l7.8 -12 7.7 -1.8 -7.7 11.6z" fill="#a2bc59"/>
<path d="M1257.3 252.5l8.8 1.7 6.6 15.7 -8.7 -2z" fill="#97bb61"/>
<path d="M1109.6 246.5l7.8 -11.6 7.7 0.2 -7.9 11.2z" fill="#b2ba4f"/>
<path d="M1354.7 362.4l9.2 7 5.8 14.4 -9.1 -6.9z" fill="#4470cf"/>
<path d="M1205.4 220.6l8.5 -3.8 7 12.4 -8.4 3.3z" fill="#c8b543"/>
<path d="M1317.4 316.4l9.1 5.7 6.1 15.9 -9 -5.6z" fill="#559bb4"/>
<path d="M1242.8 238.4l8.7 0.1 6.7 15 -8.7 -0.6z" fill="#adba52"/>
<path d="M1280.1 271.8l8.9 4 6.5 16.5 -8.9 -4.3z" fill="#7fb774"/>
<path d="M1190.7 215.2l8.4 -5.3 7.2 11.1 -8.4 4.7z" fill="#d2b23e"/>
<path d="M1377.6 390.1l9.3 9.2 5.7 12.8 -9.2 -8.4z" fill="#4544cc"/>
<path d="M1340.3 342.2l9.2 6.4 6 15 -9.1 -6.2z" fill="#4a88c5"/>
<path d="M1176 212.8l8.3 -6.8 7.3 9.4 -8.3 6.2z" fill="#d4af3e"/>
<path d="M1043.6 316.2l7.5 -11.9 8 -8 -7.4 11.8z" fill="#68ac8f"/>
<path d="M1303 295.8l9 5.5 6.3 16.3 -9 -5.5z" fill="#68ab90"/>
<path d="M1228.1 226.4l8.6 -1.3 6.9 14 -8.6 0.9z" fill="#bfb748"/>
<path d="M1161.2 213.7l8.3 -8.3 7.4 7.5 -8.3 7.6z" fill="#d5ae3d"/>
<path d="M1058.2 297.4l7.6 -12.2 8 -6.6 -7.6 11.9z" fill="#7ab678"/>
<path d="M1265.6 254.1l8.8 2.7 6.6 16.1 -8.8 -3.1z" fill="#97bb61"/>
<path d="M1363.3 369l9.3 8.3 5.9 14.1 -9.3 -8z" fill="#4269d0"/>
<path d="M1072.9 279.6l7.6 -12.2 7.9 -5.2 -7.6 12z" fill="#8dba69"/>
<path d="M1146.5 217.9l8.1 -9.6 7.5 5.3 -8.1 8.9z" fill="#d4b03e"/>
<path d="M1087.5 263.1l7.8 -12.2 7.8 -3.4 -7.7 11.9z" fill="#a2bc59"/>
<path d="M1131.7 225.3l8.1 -10.7 7.5 2.9 -8 10.1z" fill="#cfb340"/>
<path d="M1102.2 248.3l7.9 -11.9 7.7 -1.6 -7.8 11.7z" fill="#b4ba4e"/>
<path d="M1117 235.5l7.9 -11.4 7.7 0.6 -8 11z" fill="#c4b645"/>
<path d="M1213.4 217l8.6 -2.8 7 12.9 -8.6 2.3z" fill="#ceb340"/>
<path d="M1326 321.8l9.1 6 6.1 15.6 -9.1 -5.8z" fill="#5398b7"/>
<path d="M1386.4 398.8l9.3 10.6 5.7 11.4 -9.3 -9.2z" fill="#473bc8"/>
<path d="M1288.5 275.6l9 4.8 6.4 16.6 -8.9 -5z" fill="#7cb676"/>
<path d="M1251 238.4l8.7 1.3 6.8 15.4 -8.8 -1.7z" fill="#aeba52"/>
<path d="M1198.6 210.2l8.5 -4.3 7.2 11.6 -8.5 3.7z" fill="#d5ae3d"/>
<path d="M1349 348.2l9.2 7.3 6 14.8 -9.2 -7.1z" fill="#4984c7"/>
<path d="M1311.5 301l9.1 5.8 6.2 16.2 -9 -5.7z" fill="#65a994"/>
<path d="M1183.8 206.4l8.5 -5.9 7.2 10 -8.4 5.2z" fill="#d8aa3d"/>
<path d="M1236.3 225.1l8.7 -0.2 6.8 14.4 -8.7 -0.1z" fill="#c2b646"/>
<path d="M1036 324.9l7.4 -11.9 8.1 -9.2 -7.4 11.9z" fill="#64a897"/>
<path d="M1273.9 256.6l8.9 3.8 6.6 16.3 -8.9 -4z" fill="#95bb63"/>
<path d="M1372.1 376.8l9.3 10 5.8 13.3 -9.3 -9.2z" fill="#4060d2"/>
<path d="M1050.7 305l7.5 -12.1 8 -8.1 -7.5 12.1z" fill="#75b57b"/>
<path d="M1169 205.9l8.3 -7.4 7.4 8 -8.3 6.8z" fill="#daa83c"/>
<path d="M1334.6 327.5l9.2 6.6 6.1 15.3 -9.2 -6.3z" fill="#5296b9"/>
<path d="M1065.4 285.9l7.6 -12.2 8 -6.7 -7.7 12.2z" fill="#89b96c"/>
<path d="M1395.2 408.8l9.4 11.6 5.7 9.7 -9.4 -9.9z" fill="#4a32c4"/>
<path d="M1154.2 208.8l8.2 -8.8 7.5 5.8 -8.3 8.3z" fill="#d9a93d"/>
<path d="M1080.1 268l7.7 -12.3 7.9 -5 -7.7 12.2z" fill="#a0bc5a"/>
<path d="M1221.5 214.3l8.6 -1.8 7 13.4 -8.6 1.3z" fill="#d3b13e"/>
<path d="M1297 280.1l9 5.6 6.4 16.5 -9 -5.5z" fill="#79b678"/>
<path d="M1139.3 215.2l8.2 -10.1 7.5 3.5 -8.1 9.5z" fill="#d7ab3d"/>
<path d="M1094.9 251.6l7.8 -12.1 7.8 -3.3 -7.8 12z" fill="#b4ba4e"/>
<path d="M1124.5 224.7l8 -11 7.7 1 -8.1 10.7z" fill="#d3b13e"/>
<path d="M1109.6 237l8 -11.7 7.8 -1.2 -8 11.4z" fill="#c6b544"/>
<path d="M1259.2 239.6l8.9 2.4 6.7 15.7 -8.8 -2.7z" fill="#aeba51"/>
<path d="M1357.7 355.1l9.3 8.7 5.9 14.3 -9.2 -8.3z" fill="#487fca"/>
<path d="M1206.6 206.1l8.6 -3.3 7.2 12.1 -8.6 2.8z" fill="#d8aa3d"/>
<path d="M1320.1 306.5l9.1 6.3 6.2 15.9 -9.1 -6z" fill="#62a69a"/>
<path d="M1380.9 386.2l9.4 11.6 5.8 12.3 -9.4 -10.6z" fill="#4254d0"/>
<path d="M1282.3 260.1l9 4.7 6.5 16.5 -8.9 -4.8z" fill="#92ba65"/>
<path d="M1244.5 224.8l8.8 0.9 6.8 14.8 -8.8 -1.2z" fill="#c4b645"/>
<path d="M1191.8 200.8l8.5 -4.9 7.2 10.6 -8.5 4.3z" fill="#dca53c"/>
<path d="M1028.3 334.4l7.4 -11.7 8.2 -10.2 -7.4 11.8z" fill="#5ea3a2"/>
<path d="M1343.3 333.7l9.2 7.7 6.1 15 -9.3 -7.3z" fill="#5093bc"/>
<path d="M1404.1 419.8l9.5 12.2 5.7 7.7 -9.5 -10.2z" fill="#502bbd"/>
<path d="M1043 313.7l7.6 -12 8.1 -9.3 -7.6 12.1z" fill="#70b182"/>
<path d="M1176.9 198.8l8.4 -6.4 7.4 8.6 -8.5 5.9z" fill="#dea13b"/>
<path d="M1057.8 293.6l7.6 -12.3 8.1 -8.1 -7.7 12.3z" fill="#84b870"/>
<path d="M1305.5 285.3l9.1 6.1 6.3 16.4 -9 -5.9z" fill="#76b57b"/>
<path d="M1229.7 212.6l8.7 -0.7 7 13.7 -8.8 0.3z" fill="#d4af3e"/>
<path d="M1366.5 363.3l9.4 10.5 5.9 13.7 -9.4 -9.9z" fill="#4679cd"/>
<path d="M1161.9 200.4l8.4 -8 7.5 6.4 -8.4 7.5z" fill="#dea03b"/>
<path d="M1072.6 274.4l7.7 -12.4 8 -6.6 -7.8 12.3z" fill="#9cbb5d"/>
<path d="M1267.6 241.8l8.9 3.4 6.7 16.1 -8.9 -3.8z" fill="#adba52"/>
<path d="M1087.4 256.4l7.9 -12.2 7.9 -5 -7.9 12.2z" fill="#b2ba4f"/>
<path d="M1147 205.6l8.3 -9.4 7.5 4 -8.2 8.9z" fill="#dda33c"/>
<path d="M1102.3 240.1l7.9 -11.9 7.8 -3 -7.9 11.7z" fill="#c6b544"/>
<path d="M1132.1 214.2l8.1 -10.5 7.7 1.5 -8.2 10.1z" fill="#d9a83d"/>
<path d="M1117.2 225.9l8 -11.4 7.8 -0.9 -8.1 11.1z" fill="#d4af3e"/>
<path d="M1328.7 312.5l9.2 7 6.2 15.5 -9.2 -6.6z" fill="#5fa3a1"/>
<path d="M1389.7 397.1l9.5 12.9 5.8 11 -9.5 -11.6z" fill="#4445cc"/>
<path d="M1214.8 202.9l8.6 -2.2 7.1 12.5 -8.6 1.8z" fill="#daa73c"/>
<path d="M1290.8 264.5l9.1 5.6 6.5 16.5 -9.1 -5.5z" fill="#8fba68"/>
<path d="M1252.8 225.6l8.9 2 6.8 15.2 -8.9 -2.4z" fill="#c5b645"/>
<path d="M1413.1 431.3l9.5 12.5 5.7 5.8 -9.6 -10.5z" fill="#5022a7"/>
<path d="M1352 341l9.3 9.1 6.1 14.6 -9.3 -8.8z" fill="#4d8fc0"/>
<path d="M1020.5 344.6l7.5 -11.4 8.2 -11.1 -7.4 11.7z" fill="#589daf"/>
<path d="M1199.8 196.2l8.6 -3.8 7.3 11 -8.6 3.3z" fill="#de9f3b"/>
<path d="M1035.3 323.3l7.5 -11.7 8.2 -10.5 -7.5 12z" fill="#6aad8c"/>
<path d="M1314.1 291l9.2 6.7 6.3 16 -9.2 -6.3z" fill="#72b37e"/>
<path d="M1375.3 373.2l9.5 12.3 5.8 13 -9.4 -11.6z" fill="#436dcf"/>
<path d="M1184.8 192.7l8.6 -5.4 7.3 9.2 -8.5 4.8z" fill="#e19939"/>
<path d="M1237.9 211.9l8.8 0.4 7 14.2 -8.8 -0.9z" fill="#d5ae3d"/>
<path d="M1050.1 302.4l7.7 -12.1 8.1 -9.5 -7.7 12.3z" fill="#7eb775"/>
<path d="M1276 245l9.1 4.5 6.6 16.2 -9 -4.6z" fill="#abbb54"/>
<path d="M1398.7 409.3l9.5 13.6 5.7 9.6 -9.5 -12.2z" fill="#4839c7"/>
<path d="M1065 282l7.7 -12.2 8.1 -8.2 -7.8 12.3z" fill="#96bb62"/>
<path d="M1169.8 192.8l8.5 -7 7.4 7 -8.4 6.5z" fill="#e29739"/>
<path d="M1337.4 319.1l9.3 8.1 6.2 15.1 -9.3 -7.7z" fill="#5ba0a9"/>
<path d="M1079.9 262.7l7.8 -12.2 8 -6.7 -7.8 12.3z" fill="#aeba51"/>
<path d="M1154.8 196.7l8.3 -8.5 7.6 4.5 -8.3 8z" fill="#e19939"/>
<path d="M1094.8 244.9l8 -12.1 7.9 -4.8 -8 11.9z" fill="#c4b645"/>
<path d="M1223 200.8l8.7 -1.1 7.1 12.9 -8.8 0.7z" fill="#dca53c"/>
<path d="M1299.4 269.7l9.1 6.3 6.5 16.3 -9.2 -6z" fill="#8ab96b"/>
<path d="M1139.8 204.3l8.2 -9.9 7.7 2 -8.3 9.4z" fill="#df9e3a"/>
<path d="M1109.8 228.8l8 -11.6 7.9 -2.8 -8.1 11.4z" fill="#d4af3e"/>
<path d="M1422.1 443.1l9.6 12.3 5.7 4.2 -9.6 -10.6z" fill="#5b20a1"/>
<path d="M1124.8 215.1l8.1 -10.9 7.8 -0.5 -8.2 10.6z" fill="#dba73c"/>
<path d="M1360.8 349.6l9.4 10.9 6 14.1 -9.4 -10.5z" fill="#4a89c4"/>
<path d="M1261.2 227.4l9 3.2 6.7 15.5 -8.9 -3.4z" fill="#c4b645"/>
<path d="M1012.7 355.4l7.4 -10.9 8.3 -11.9 -7.4 11.3z" fill="#5397b8"/>
<path d="M1384.2 384.8l9.5 13.8 5.8 12.1 -9.4 -12.9z" fill="#4060d2"/>
<path d="M1207.9 192.6l8.8 -2.7 7.2 11.5 -8.7 2.2z" fill="#e09a39"/>
<path d="M1322.7 297.3l9.3 7.5 6.3 15.6 -9.2 -7.1z" fill="#6fb084"/>
<path d="M1027.5 333.8l7.5 -11.4 8.3 -11.5 -7.5 11.8z" fill="#63a897"/>
<path d="M1407.6 422.2l9.6 13.8 5.8 8.2 -9.6 -12.4z" fill="#4d2ec0"/>
<path d="M1284.6 249.2l9.1 5.5 6.5 16.3 -9 -5.5z" fill="#a7bb56"/>
<path d="M1246.2 212.2l9 1.7 6.9 14.5 -8.9 -2z" fill="#d5ad3d"/>
<path d="M1042.4 312.2l7.6 -11.7 8.2 -10.8 -7.6 12.1z" fill="#77b57a"/>
<path d="M1192.9 187.6l8.6 -4.2 7.3 9.6 -8.6 3.7z" fill="#e39337"/>
<path d="M1346.2 326.7l9.4 9.6 6.1 14.7 -9.4 -9.2z" fill="#569cb3"/>
<path d="M1057.3 291l7.8 -12 8.1 -9.7 -7.8 12.2z" fill="#8eba68"/>
<path d="M1177.8 186.2l8.5 -5.9 7.5 7.5 -8.6 5.4z" fill="#e58d37"/>
<path d="M1431.2 454.8l9.8 11.7 5.6 2.9 -9.7 -10.5z" fill="#661e96"/>
<path d="M1308 275.6l9.2 7.1 6.4 15.9 -9.2 -6.6z" fill="#85b96f"/>
<path d="M1369.7 359.9l9.4 12.8 6 13.6 -9.4 -12.4z" fill="#4881c9"/>
<path d="M1072.3 270.5l7.8 -12.1 8.1 -8.3 -7.9 12.2z" fill="#a8bb55"/>
<path d="M1231.2 199.7l8.9 0.1 7 13.3 -8.8 -0.5z" fill="#dda33b"/>
<path d="M1162.7 188.6l8.4 -7.5 7.6 5.1 -8.5 6.9z" fill="#e58e37"/>
<path d="M1269.7 230.4l9 4.3 6.7 15.7 -9 -4.5z" fill="#c2b646"/>
<path d="M1087.3 251.2l7.9 -12.1 8 -6.6 -7.9 12z" fill="#c0b747"/>
<path d="M1393.2 397.8l9.5 14.6 5.8 11.1 -9.5 -13.6z" fill="#434dce"/>
<path d="M1102.3 233.5l8.1 -11.7 7.9 -4.8 -8.1 11.6z" fill="#d4b03e"/>
<path d="M1147.6 194.9l8.3 -9 7.7 2.4 -8.4 8.6z" fill="#e39338"/>
<path d="M1117.4 217.9l8.1 -11.1 7.9 -2.6 -8.2 10.8z" fill="#dba63c"/>
<path d="M1132.4 204.8l8.3 -10.2 7.8 -0.2 -8.3 9.9z" fill="#e09b3a"/>
<path d="M1331.5 304.4l9.3 8.6 6.3 15.1 -9.3 -8.1z" fill="#6aad8c"/>
<path d="M1004.7 366.6l7.5 -10.3 8.4 -12.5 -7.5 10.9z" fill="#3a6b8c"/>
<path d="M1416.7 435.3l9.7 13.6 5.7 6.8 -9.7 -12.2z" fill="#5024ab"/>
<path d="M1216.2 190.1l8.8 -1.5 7.1 11.8 -8.7 1.1z" fill="#e29738"/>
<path d="M1293.1 254.4l9.2 6.4 6.6 16.1 -9.2 -6.3z" fill="#a2bc59"/>
<path d="M1019.7 345.1l7.5 -10.9 8.3 -12.4 -7.5 11.4z" fill="#5ca1a6"/>
<path d="M1355.1 335.7l9.4 11.4 6.1 14.2 -9.4 -10.9z" fill="#5296b9"/>
<path d="M1254.7 213.8l9 2.8 6.9 14.8 -9 -3.1z" fill="#d5ae3d"/>
<path d="M1034.6 323.1l7.6 -11.4 8.3 -11.9 -7.6 11.8z" fill="#6fb183"/>
<path d="M1201 183.6l8.8 -3.1 7.3 10 -8.7 2.7z" fill="#e58b36"/>
<path d="M1378.6 372l9.5 14.3 5.9 13 -9.5 -13.8z" fill="#4677cd"/>
<path d="M1440.4 466l9.9 10.8 5.7 -3.8 -9.9 -4.1z" fill="#6b1b89"/>
<path d="M1316.7 282.2l9.3 8 6.4 15.5 -9.3 -7.5z" fill="#80b773"/>
<path d="M1049.6 301.1l7.7 -11.7 8.2 -11 -7.7 12z" fill="#85b96f"/>
<path d="M1402.2 411.6l9.6 14.9 5.8 10.1 -9.6 -13.9z" fill="#473dc9"/>
<path d="M1185.9 180.6l8.6 -4.7 7.4 8 -8.6 4.2z" fill="#e68235"/>
<path d="M1239.6 199.8l9 1.3 7 13.6 -9 -1.7z" fill="#dda23b"/>
<path d="M1278.2 234.4l9.1 5.4 6.7 15.8 -9.1 -5.5z" fill="#beb748"/>
<path d="M1064.6 279.6l7.9 -11.8 8.1 -9.9 -7.9 12.1z" fill="#a0bc5a"/>
<path d="M1340.3 312.5l9.4 10 6.2 14.7 -9.3 -9.6z" fill="#65a895"/>
<path d="M1079.7 259l7.9 -11.8 8.1 -8.5 -8 12z" fill="#bab94a"/>
<path d="M1170.7 181.5l8.5 -6.4 7.6 5.6 -8.6 5.8z" fill="#e77f35"/>
<path d="M1425.8 448.2l9.8 12.9 5.7 5.7 -9.8 -11.8z" fill="#5a20a0"/>
<path d="M1094.8 239.8l8 -11.7 8 -6.7 -8.1 11.7z" fill="#d2b23e"/>
<path d="M996.7 378.2l7.4 -9.5 8.5 -13.1 -7.4 10.3z" fill="#376791"/>
<path d="M1155.4 186.4l8.5 -7.9 7.7 2.8 -8.5 7.5z" fill="#e68335"/>
<path d="M1109.9 222.4l8.2 -11.2 7.9 -4.7 -8.2 11.2z" fill="#daa73c"/>
<path d="M1364 346.4l9.5 13.2 6 13.9 -9.5 -12.8z" fill="#4d90bf"/>
<path d="M1301.8 260.4l9.3 7.4 6.5 15.8 -9.2 -7.1z" fill="#9dbc5d"/>
<path d="M1140.2 195.2l8.4 -9.4 7.8 0.2 -8.4 9z" fill="#e48f37"/>
<path d="M1224.5 188.6l8.9 -0.2 7.1 12.1 -8.9 -0.1z" fill="#e39438"/>
<path d="M1125.1 207.4l8.2 -10.5 7.9 -2.4 -8.3 10.3z" fill="#e09a39"/>
<path d="M1011.7 356.9l7.6 -10.2 8.4 -13.2 -7.6 10.9z" fill="#3f7285"/>
<path d="M1263.2 216.4l9.1 4.1 6.8 15 -9.1 -4.3z" fill="#d4af3e"/>
<path d="M1387.6 385.5l9.6 15.2 5.8 12.4 -9.5 -14.6z" fill="#4267d0"/>
<path d="M1026.8 334.8l7.6 -10.8 8.3 -13 -7.6 11.4z" fill="#4c7e6a"/>
<path d="M1325.5 289.8l9.4 9.1 6.3 15 -9.3 -8.7z" fill="#7bb677"/>
<path d="M1449.7 476.5l10.1 3.7 5.8 -4.1 -10.1 -3.4z" fill="#cdcdcd"/>
<path d="M1411.2 425.7l9.7 14.6 5.8 9.1 -9.7 -13.6z" fill="#4b30c3"/>
<path d="M1209.3 180.6l8.8 -1.7 7.3 10.3 -8.8 1.5z" fill="#e68435"/>
<path d="M1041.8 312.4l7.7 -11.3 8.3 -12.3 -7.7 11.7z" fill="#7db676"/>
<path d="M1286.8 239.5l9.3 6.6 6.6 15.6 -9.2 -6.4z" fill="#bab94b"/>
<path d="M1248.1 201l9 2.6 7 13.8 -9 -2.8z" fill="#dda23b"/>
<path d="M1349.2 321.9l9.5 11.7 6.1 14.3 -9.4 -11.4z" fill="#5ea3a2"/>
<path d="M1435 460.4l9.9 11.6 5.7 4.9 -9.9 -10.8z" fill="#621d91"/>
<path d="M1194 176.1l8.8 -3.4 7.4 8.3 -8.8 3.1z" fill="#e87834"/>
<path d="M1056.9 290.1l7.8 -11.5 8.2 -11.4 -7.8 11.8z" fill="#97bb62"/>
<path d="M1372.9 358.8l9.6 14.7 6 13.6 -9.6 -14.3z" fill="#4a87c6"/>
<path d="M1072 268.4l7.9 -11.6 8.2 -10.2 -8 11.9z" fill="#b2ba4f"/>
<path d="M1178.7 175.5l8.7 -5.2 7.5 6 -8.6 4.7z" fill="#e87234"/>
<path d="M1310.6 267.4l9.3 8.4 6.5 15.3 -9.3 -8z" fill="#96bb62"/>
<path d="M1396.6 399.9l9.7 15.6 5.8 11.6 -9.6 -14.9z" fill="#4254d0"/>
<path d="M988.6 390.1l7.5 -8.5 8.5 -13.6 -7.4 9.4z" fill="#366195"/>
<path d="M1087.2 247.8l8 -11.5 8.1 -8.6 -8.1 11.7z" fill="#ccb441"/>
<path d="M1232.9 188.4l8.9 1.1 7.2 12.3 -9 -1.3z" fill="#e39337"/>
<path d="M1163.4 178.9l8.6 -6.8 7.7 3.3 -8.6 6.3z" fill="#e87434"/>
<path d="M1271.8 220.3l9.1 5.4 6.8 15 -9.1 -5.4z" fill="#d3b13e"/>
<path d="M1102.4 228.8l8.1 -11.2 8 -6.7 -8.2 11.2z" fill="#d9a93d"/>
<path d="M1003.7 369.3l7.5 -9.5 8.5 -13.9 -7.5 10.3z" fill="#3b6e8b"/>
<path d="M1148.1 186.3l8.5 -8.3 7.8 0.5 -8.5 8z" fill="#e77d35"/>
<path d="M1420.4 439.5l9.8 13.9 5.7 8.1 -9.8 -12.9z" fill="#5428b9"/>
<path d="M1117.6 211.8l8.3 -10.5 7.9 -4.6 -8.3 10.5z" fill="#e09c3a"/>
<path d="M1132.9 197.5l8.3 -9.6 7.9 -2.1 -8.4 9.3z" fill="#e58d37"/>
<path d="M1334.3 298.3l9.5 10.5 6.3 14.5 -9.4 -10z" fill="#74b47d"/>
<path d="M1018.8 347.3l7.6 -10.2 8.4 -13.9 -7.6 10.9z" fill="#477a76"/>
<path d="M1459.3 480l10.2 3.5 5.7 -4.2 -10.2 -3.4z" fill="#cdcdcd"/>
<path d="M1217.6 178.9l8.9 -0.5 7.3 10.7 -8.9 0.2z" fill="#e77f35"/>
<path d="M1358.1 332.9l9.6 13.4 6.1 14.1 -9.5 -13.2z" fill="#569cb2"/>
<path d="M1295.5 245.7l9.3 7.7 6.7 15.3 -9.3 -7.4z" fill="#b4ba4e"/>
<path d="M1033.9 324.6l7.8 -10.7 8.3 -13.5 -7.7 11.3z" fill="#55855d"/>
<path d="M1444.4 471.5l10 9.8 5.8 -1.2 -10.2 -3.7z" fill="#621980"/>
<path d="M1256.6 203.4l9.1 4 7 14 -9.1 -4.2z" fill="#dda33c"/>
<path d="M1381.9 372.6l9.7 15.6 5.9 13.3 -9.6 -15.3z" fill="#477ccb"/>
<path d="M1049.1 301.8l7.8 -11.1 8.3 -12.8 -7.8 11.5z" fill="#67894f"/>
<path d="M1202.3 172.9l8.8 -2.2 7.4 8.7 -8.8 1.8z" fill="#e87033"/>
<path d="M1405.7 414.6l9.8 15.4 5.8 10.9 -9.7 -14.6z" fill="#4641cb"/>
<path d="M1319.4 275.3l9.4 9.7 6.4 14.7 -9.4 -9.1z" fill="#8eba68"/>
<path d="M1064.3 279.2l7.9 -11.2 8.2 -11.8 -7.9 11.6z" fill="#a8bb55"/>
<path d="M980.5 402.3l7.4 -7.4 8.6 -14 -7.4 8.4z" fill="#355a99"/>
<path d="M1186.9 170.6l8.8 -3.8 7.5 6.3 -8.8 3.4z" fill="#e86833"/>
<path d="M1429.6 452.7l10 12.4 5.7 7.2 -9.9 -11.5z" fill="#5d22ae"/>
<path d="M1280.4 225.3l9.3 6.7 6.7 14.9 -9.2 -6.5z" fill="#d0b33f"/>
<path d="M1241.3 189.4l9.1 2.4 7.1 12.6 -9 -2.7z" fill="#e39337"/>
<path d="M1079.5 257.5l8 -11.3 8.2 -10.4 -8.1 11.5z" fill="#c3b646"/>
<path d="M1343.3 308.2l9.5 12 6.2 14.2 -9.4 -11.7z" fill="#6caf88"/>
<path d="M995.6 382.1l7.6 -8.5 8.5 -14.6 -7.5 9.5z" fill="#386991"/>
<path d="M1171.5 172.4l8.7 -5.4 7.6 3.6 -8.6 5.1z" fill="#e86733"/>
<path d="M1094.7 236.9l8.2 -11 8.1 -8.7 -8.2 11.1z" fill="#d6ad3d"/>
<path d="M1367.1 345.5l9.7 14.8 6 14 -9.5 -14.7z" fill="#5094bb"/>
<path d="M1110 218.2l8.3 -10.5 8 -6.8 -8.3 10.6z" fill="#de9f3a"/>
<path d="M1156.1 178.5l8.6 -7.2 7.7 0.9 -8.5 6.8z" fill="#e86d33"/>
<path d="M1468.9 483.3l10.3 3.5 5.7 -4.2 -10.3 -3.5z" fill="#cdcdcd"/>
<path d="M1010.8 360.4l7.6 -9.5 8.5 -14.6 -7.6 10.2z" fill="#417584"/>
<path d="M1125.4 201.8l8.4 -9.7 7.9 -4.4 -8.4 9.6z" fill="#e48f37"/>
<path d="M1140.7 188.4l8.5 -8.6 7.9 -1.8 -8.5 8.3z" fill="#e87b34"/>
<path d="M1304.3 252.9l9.4 8.9 6.6 14.9 -9.4 -8.5z" fill="#acbb53"/>
<path d="M1391 387.3l9.7 16 5.9 12.9 -9.6 -15.6z" fill="#436ccf"/>
<path d="M1226 178.4l9 0.9 7.2 10.8 -8.9 -1z" fill="#e77d35"/>
<path d="M1453.8 480.9l10.2 6.6 5.8 -4.2 -10.2 -3.5z" fill="#cdcdcd"/>
<path d="M1026 337.7l7.7 -10.1 8.4 -14.5 -7.7 10.7z" fill="#4f8168"/>
<path d="M1265.2 207.1l9.2 5.3 6.9 14.1 -9.2 -5.4z" fill="#dca63c"/>
<path d="M1414.9 429.2l9.9 14.7 5.7 10 -9.8 -13.8z" fill="#4a33c4"/>
<path d="M1328.3 284.4l9.5 10.9 6.4 14.3 -9.5 -10.4z" fill="#85b96f"/>
<path d="M1041.2 314.5l7.8 -10.5 8.4 -14 -7.8 11z" fill="#5f8855"/>
<path d="M1210.6 170.8l9 -0.7 7.3 8.9 -8.9 0.5z" fill="#e86b33"/>
<path d="M1439 464.5l10.1 10.5 5.6 6.5 -10 -9.8z" fill="#6620a0"/>
<path d="M1352.2 319.4l9.6 13.6 6.2 14.1 -9.5 -13.4z" fill="#64a896"/>
<path d="M1056.5 291.3l7.9 -10.7 8.3 -13.3 -8 11.3z" fill="#738b45"/>
<path d="M1289.1 231.6l9.4 8 6.7 14.7 -9.3 -7.8z" fill="#cab442"/>
<path d="M972.2 414.9l7.4 -6.3 8.8 -14.4 -7.4 7.3z" fill="#33519d"/>
<path d="M1249.9 191.6l9.2 3.9 7 12.6 -9.1 -3.9z" fill="#e39438"/>
<path d="M1376.2 359.4l9.7 15.7 6 13.9 -9.6 -15.6z" fill="#4b8bc3"/>
<path d="M1195.2 167l8.9 -2.4 7.4 6.6 -8.8 2.1z" fill="#e86032"/>
<path d="M1071.7 268.6l8.1 -10.8 8.2 -12.2 -8 11.3z" fill="#888938"/>
<path d="M987.5 395.4l7.5 -7.6 8.6 -15 -7.5 8.5z" fill="#376296"/>
<path d="M1400.2 402.4l9.8 16 5.8 12.3 -9.7 -15.4z" fill="#415ad1"/>
<path d="M1313.2 261.3l9.4 10.1 6.6 14.4 -9.5 -9.6z" fill="#a4bc58"/>
<path d="M1087.1 246.9l8.1 -10.8 8.2 -10.7 -8.2 11z" fill="#d3b13e"/>
<path d="M1179.7 167.2l8.8 -4.1 7.6 4 -8.8 3.8z" fill="#e85c32"/>
<path d="M1002.7 374.1l7.6 -8.6 8.6 -15.4 -7.6 9.5z" fill="#3c6f8c"/>
<path d="M1424.2 443.1l10 13.4 5.7 9.1 -9.9 -12.5z" fill="#512abc"/>
<path d="M1102.4 226.5l8.3 -10.4 8.1 -8.9 -8.3 10.6z" fill="#dca43c"/>
<path d="M1234.5 179.2l9.1 2.3 7.2 11 -9.1 -2.4z" fill="#e77c35"/>
<path d="M1164.2 171.7l8.7 -5.8 7.7 1.2 -8.6 5.5z" fill="#e86032"/>
<path d="M1273.9 212.1l9.3 6.7 6.9 14 -9.3 -6.7z" fill="#daa83c"/>
<path d="M1117.8 208.2l8.4 -9.7 8 -6.7 -8.4 9.7z" fill="#e39338"/>
<path d="M1463.4 487.2l10.4 3.6 5.8 -4.2 -10.4 -3.6z" fill="#cdcdcd"/>
<path d="M1148.7 180.3l8.6 -7.4 7.9 -1.6 -8.6 7.1z" fill="#e86a33"/>
<path d="M1337.2 294.7l9.6 12.2 6.3 14.1 -9.5 -12z" fill="#7cb676"/>
<path d="M1018 351.5l7.7 -9.4 8.5 -15.3 -7.7 10z" fill="#487c75"/>
<path d="M1133.3 192.6l8.5 -8.7 7.9 -4.2 -8.5 8.5z" fill="#e77c35"/>
<path d="M1361.3 332.2l9.6 14.8 6.2 14.1 -9.6 -14.8z" fill="#5ba0a8"/>
<path d="M1033.3 328.2l7.8 -9.9 8.4 -15.1 -7.8 10.5z" fill="#57875c"/>
<path d="M1448.5 474.5l10.2 7.9 5.7 5.2 -10.2 -6.6z" fill="#6c1e97"/>
<path d="M1219.1 170.1l9 0.7 7.3 9.1 -9 -0.9z" fill="#e86833"/>
<path d="M1298 239.1l9.4 9.2 6.7 14.4 -9.4 -8.9z" fill="#c2b646"/>
<path d="M1385.3 374.2l9.8 16.3 6 13.6 -9.7 -16z" fill="#4880c9"/>
<path d="M1048.6 304.6l7.9 -10.3 8.4 -14.5 -8 10.8z" fill="#6a8a4d"/>
<path d="M1258.5 195.2l9.3 5.2 7 12.8 -9.2 -5.3z" fill="#e29638"/>
<path d="M1409.4 417.5l9.9 15.5 5.8 11.5 -9.8 -14.7z" fill="#4445cd"/>
<path d="M963.9 427.9l7.4 -5.2 8.8 -14.9 -7.4 6.3z" fill="#3247a2"/>
<path d="M1203.5 164.7l9 -1 7.5 6.8 -9 0.8z" fill="#e75b31"/>
<path d="M1322.1 270.8l9.5 11.3 6.5 14 -9.5 -10.9z" fill="#9abb5f"/>
<path d="M1063.9 281.2l8.1 -10.5 8.3 -13.7 -8.1 10.9z" fill="#808b3d"/>
<path d="M979.2 409l7.5 -6.5 8.8 -15.5 -7.5 7.5z" fill="#355b9b"/>
<path d="M1433.6 455.8l10.1 11.5 5.7 8.1 -10.1 -10.5z" fill="#5924b4"/>
<path d="M1079.3 258.4l8.2 -10.5 8.2 -12.5 -8.2 10.8z" fill="#958632"/>
<path d="M994.6 388.3l7.6 -7.7 8.6 -16 -7.6 8.6z" fill="#396a92"/>
<path d="M1346.2 306.2l9.7 13.6 6.3 14 -9.6 -13.6z" fill="#72b37e"/>
<path d="M1188 163.3l8.9 -2.7 7.6 4.3 -8.9 2.4z" fill="#e75430"/>
<path d="M1282.7 218.4l9.3 8.1 6.9 13.9 -9.4 -8z" fill="#d7ac3d"/>
<path d="M1243.1 181.3l9.2 3.7 7.2 11.1 -9.2 -3.8z" fill="#e77e35"/>
<path d="M1094.8 236.7l8.2 -10.2 8.2 -11 -8.3 10.5z" fill="#a07d2d"/>
<path d="M1009.9 366l7.7 -8.5 8.6 -16.2 -7.7 9.3z" fill="#417684"/>
<path d="M1370.4 346.1l9.7 15.8 6.1 14 -9.6 -15.7z" fill="#5397b8"/>
<path d="M1172.4 166.2l8.8 -4.5 7.7 1.5 -8.8 4.2z" fill="#e75430"/>
<path d="M1110.2 216.7l8.4 -9.7 8.1 -9 -8.4 9.8z" fill="#e19839"/>
<path d="M1394.5 389.6l9.9 16.4 5.9 13.2 -9.8 -16z" fill="#4472ce"/>
<path d="M1156.9 173.3l8.6 -6.1 7.9 -1.3 -8.7 5.8z" fill="#e85c32"/>
<path d="M1125.7 199l8.5 -8.8 8 -6.6 -8.5 8.7z" fill="#e68235"/>
<path d="M1141.3 184.3l8.6 -7.6 7.9 -4 -8.6 7.4z" fill="#e86c33"/>
<path d="M1306.8 247.8l9.5 10.5 6.7 13.9 -9.5 -10.1z" fill="#b9b94b"/>
<path d="M1025.3 342.7l7.8 -9.2 8.5 -16.1 -7.8 9.9z" fill="#508268"/>
<path d="M1458.1 482.1l10.4 4.8 5.6 3.9 -10.3 -3.6z" fill="#6e1d94"/>
<path d="M1227.6 170.7l9.1 2.2 7.3 9.1 -9.1 -2.2z" fill="#e86833"/>
<path d="M1418.7 432.2l10 14.3 5.8 10.6 -10 -13.4z" fill="#4938c7"/>
<path d="M1267.3 200.1l9.3 6.7 7 12.8 -9.3 -6.7z" fill="#e09a39"/>
<path d="M1040.6 318.8l8 -9.6 8.4 -15.7 -7.9 10.2z" fill="#618955"/>
<path d="M1331.1 281.5l9.6 12.5 6.4 13.7 -9.5 -12.3z" fill="#8fba68"/>
<path d="M955.4 441.1l7.5 -4.1 8.9 -15.1 -7.4 5.1z" fill="#353aa2"/>
<path d="M1056.1 294.9l8 -9.9 8.3 -15.1 -8 10.5z" fill="#768c44"/>
<path d="M1212 163.7l9.1 0.6 7.4 7 -9 -0.8z" fill="#e75731"/>
<path d="M970.9 423l7.5 -5.5 8.8 -15.9 -7.5 6.6z" fill="#3351a0"/>
<path d="M1443.1 466.8l10.2 9 5.7 7 -10.2 -7.9z" fill="#5f22aa"/>
<path d="M1355.3 319l9.7 14.8 6.3 14 -9.7 -14.8z" fill="#69ac8e"/>
<path d="M1291.5 226l9.5 9.5 6.8 13.6 -9.5 -9.2z" fill="#d4b03e"/>
<path d="M1379.6 360.9l9.8 16.4 6 14 -9.7 -16.3z" fill="#4d8fc0"/>
<path d="M986.3 402.9l7.6 -6.7 8.8 -16.5 -7.6 7.7z" fill="#376398"/>
<path d="M1071.5 271.3l8.2 -10 8.2 -14.1 -8.1 10.4z" fill="#8c8937"/>
<path d="M1251.8 184.8l9.3 5.1 7.1 11.2 -9.3 -5.2z" fill="#e68335"/>
<path d="M1196.4 160.7l9 -1.1 7.5 4.4 -8.9 1z" fill="#e64e30"/>
<path d="M1403.8 405.1l9.9 16.1 5.9 12.5 -9.9 -15.5z" fill="#4060d2"/>
<path d="M1001.7 381.1l7.8 -7.7 8.6 -16.9 -7.7 8.6z" fill="#3d708d"/>
<path d="M1087 248.5l8.3 -9.8 8.2 -12.9 -8.3 10.2z" fill="#9e822e"/>
<path d="M1315.8 257.7l9.6 11.7 6.6 13.5 -9.5 -11.3z" fill="#afba51"/>
<path d="M1180.7 161.9l8.9 -2.9 7.7 1.8 -8.9 2.6z" fill="#e64b2f"/>
<path d="M1428.1 445.8l10.1 12.8 5.8 9.2 -10.1 -11.5z" fill="#4e2ec0"/>
<path d="M1102.5 227l8.4 -9.5 8.2 -11.1 -8.4 9.7z" fill="#a5772c"/>
<path d="M1017.2 358l7.8 -8.5 8.6 -16.9 -7.9 9.2z" fill="#497c76"/>
<path d="M1165.1 167.5l8.8 -4.7 7.8 -1.1 -8.8 4.5z" fill="#e65030"/>
<path d="M1118.1 207.5l8.5 -8.8 8.1 -9 -8.5 8.8z" fill="#aa6728"/>
<path d="M1236.2 172.7l9.2 3.6 7.3 9.3 -9.2 -3.7z" fill="#e86a33"/>
<path d="M1340.1 293.3l9.7 13.7 6.4 13.6 -9.6 -13.6z" fill="#83b871"/>
<path d="M1276.1 206.4l9.4 8.2 6.9 12.7 -9.3 -8.1z" fill="#dea03b"/>
<path d="M1149.4 177.1l8.7 -6.3 7.9 -3.8 -8.7 6.1z" fill="#e85d32"/>
<path d="M1133.7 190.6l8.6 -7.7 8 -6.5 -8.6 7.6z" fill="#e87133"/>
<path d="M1032.6 334l7.9 -9 8.5 -16.7 -7.9 9.6z" fill="#58885d"/>
<path d="M1364.5 332.9l9.7 15.8 6.3 13.9 -9.8 -15.7z" fill="#5fa4a0"/>
<path d="M946.9 454.8l7.5 -3.2 9 -15.4 -7.5 4.1z" fill="#3930a1"/>
<path d="M1388.8 376.4l9.9 16.7 6 13.6 -9.8 -16.3z" fill="#4983c7"/>
<path d="M1452.8 475.4l10.4 6.1 5.6 5.7 -10.4 -4.8z" fill="#6320a4"/>
<path d="M1048.1 309.8l8 -9.4 8.5 -16.3 -8.1 9.9z" fill="#6c8c4e"/>
<path d="M1220.6 164.2l9.1 2.1 7.4 7 -9.1 -2.1z" fill="#e75731"/>
<path d="M962.5 437.3l7.5 -4.4 8.9 -16.2 -7.5 5.4z" fill="#3345a4"/>
<path d="M1300.4 235l9.6 10.8 6.7 13.3 -9.5 -10.5z" fill="#cdb341"/>
<path d="M1413.2 420.3l10 15.4 5.8 11.5 -10 -14.4z" fill="#434cce"/>
<path d="M978 417.9l7.6 -5.7 8.8 -16.9 -7.6 6.7z" fill="#365b9f"/>
<path d="M1260.5 189.6l9.4 6.7 7.1 11.2 -9.3 -6.7z" fill="#e58936"/>
<path d="M1063.6 285.6l8.2 -9.5 8.3 -15.6 -8.1 10z" fill="#828c3d"/>
<path d="M1324.8 268.7l9.7 12.8 6.5 13.3 -9.6 -12.6z" fill="#a3bc58"/>
<path d="M1204.9 159.6l9 0.5 7.6 4.5 -9.1 -0.5z" fill="#e64a2f"/>
<path d="M993.5 396.6l7.7 -6.8 8.7 -17.4 -7.7 7.7z" fill="#396a95"/>
<path d="M1079.2 261.9l8.2 -9.5 8.3 -14.5 -8.2 9.9z" fill="#988731"/>
<path d="M1437.7 457.9l10.2 10.7 5.8 7.7 -10.3 -9.1z" fill="#5428b9"/>
<path d="M1349.3 306.2l9.7 14.9 6.4 13.5 -9.7 -14.8z" fill="#77b57a"/>
<path d="M1009 373.8l7.8 -7.6 8.7 -17.6 -7.8 8.4z" fill="#417687"/>
<path d="M1189.1 159.2l9 -1.3 7.7 1.9 -9 1.1z" fill="#e5452e"/>
<path d="M1094.8 239.2l8.4 -9.2 8.2 -13.1 -8.4 9.5z" fill="#a37d2d"/>
<path d="M1284.9 214.1l9.5 9.6 7 12.6 -9.5 -9.5z" fill="#dba63c"/>
<path d="M1244.9 176.1l9.3 5.1 7.3 9.3 -9.3 -5.2z" fill="#e86e33"/>
<path d="M1373.7 347.8l9.8 16.5 6.2 13.8 -9.8 -16.4z" fill="#559ab5"/>
<path d="M1110.4 218.1l8.5 -8.7 8.2 -11.3 -8.5 8.8z" fill="#a96f2a"/>
<path d="M1173.4 163l8.9 -3.1 7.8 -0.8 -8.9 2.9z" fill="#e5472f"/>
<path d="M1024.5 350l7.9 -8.3 8.6 -17.6 -7.9 9z" fill="#50826a"/>
<path d="M1398.1 392.2l10 16.7 6 13 -10 -16.1z" fill="#4677cd"/>
<path d="M1126.1 199.2l8.6 -7.8 8.1 -8.9 -8.6 7.7z" fill="#ad5b27"/>
<path d="M1157.6 171.1l8.8 -4.9 7.9 -3.6 -8.8 4.7z" fill="#e65130"/>
<path d="M1141.8 183.3l8.8 -6.5 7.9 -6.3 -8.7 6.3z" fill="#b04a26"/>
<path d="M1309.4 245.1l9.6 12.1 6.8 12.9 -9.6 -11.7z" fill="#c2b646"/>
<path d="M938.3 468.7l7.5 -2.3 9.1 -15.6 -7.5 3.1z" fill="#3e279e"/>
<path d="M1422.6 434.9l10.1 14.2 5.9 10.1 -10.1 -12.8z" fill="#473dc9"/>
<path d="M1040.1 325.6l8 -8.7 8.5 -17.4 -8 9.3z" fill="#618a57"/>
<path d="M1229.2 166.2l9.2 3.5 7.4 7.1 -9.2 -3.6z" fill="#e75831"/>
<path d="M954 451.8l7.5 -3.4 9 -16.4 -7.5 4.4z" fill="#3737a3"/>
<path d="M1269.4 195.8l9.4 8.2 7.1 11.2 -9.4 -8.1z" fill="#e49237"/>
<path d="M1333.9 280.8l9.7 14 6.6 13 -9.7 -13.8z" fill="#96bb62"/>
<path d="M969.6 433.2l7.6 -4.7 8.9 -17.2 -7.6 5.7z" fill="#334fa4"/>
<path d="M1055.7 301l8.1 -8.9 8.4 -16.9 -8.1 9.5z" fill="#778e45"/>
<path d="M1358.5 320.2l9.8 15.8 6.3 13.5 -9.8 -15.8z" fill="#6daf88"/>
<path d="M985.2 412.5l7.7 -5.8 8.8 -17.8 -7.7 6.8z" fill="#38629c"/>
<path d="M1213.4 160l9.2 2.1 7.5 4.5 -9.1 -2z" fill="#e6492f"/>
<path d="M1447.3 468.1l10.4 8.1 5.8 5.7 -10.4 -6.1z" fill="#5825b5"/>
<path d="M1071.3 276.6l8.2 -8.9 8.4 -16.1 -8.2 9.5z" fill="#8e8b37"/>
<path d="M1383 363.3l9.9 17 6.1 13.6 -9.9 -16.7z" fill="#4e91be"/>
<path d="M1293.9 223.1l9.6 11 6.8 12.4 -9.5 -10.8z" fill="#d8ab3d"/>
<path d="M1000.8 390.3l7.8 -6.8 8.7 -18.3 -7.8 7.7z" fill="#3d7091"/>
<path d="M1407.5 408l10.1 16.4 5.9 12 -10 -15.4z" fill="#4266d1"/>
<path d="M1253.7 180.9l9.4 6.6 7.2 9.3 -9.4 -6.6z" fill="#e87434"/>
<path d="M1087 253l8.3 -8.9 8.3 -14.9 -8.3 9.2z" fill="#a0832e"/>
<path d="M1197.6 157.9l9.1 0.4 7.7 2 -9.1 -0.5z" fill="#e5412e"/>
<path d="M1016.4 366.7l7.9 -7.6 8.6 -18.4 -7.9 8.3z" fill="#487c7b"/>
<path d="M1318.5 256.4l9.7 13.3 6.7 12.6 -9.7 -12.9z" fill="#b6b94d"/>
<path d="M1102.7 230.5l8.5 -8.4 8.2 -13.4 -8.5 8.7z" fill="#a8772c"/>
<path d="M1181.8 160l9 -1.4 7.8 -0.7 -9 1.3z" fill="#e5402e"/>
<path d="M1432.2 448.4l10.2 12.6 5.8 8.1 -10.2 -10.7z" fill="#4a33c4"/>
<path d="M1118.4 209.9l8.6 -7.7 8.2 -11.4 -8.6 7.8z" fill="#ae6629"/>
<path d="M1165.9 166.5l8.9 -3.3 7.9 -3.4 -8.9 3.1z" fill="#b83925"/>
<path d="M929.6 483l7.5 -1.6 9.2 -15.8 -7.5 2.3z" fill="#462198"/>
<path d="M1032 342.2l8 -8 8.6 -18.3 -8 8.7z" fill="#57885f"/>
<path d="M1134.2 191.8l8.7 -6.5 8.1 -8.9 -8.7 6.5z" fill="#b25227"/>
<path d="M1343.1 293.9l9.8 15.1 6.5 12.8 -9.8 -14.8z" fill="#87b96e"/>
<path d="M1150.1 177.2l8.8 -5.1 8 -6.2 -8.9 4.9z" fill="#b54326"/>
<path d="M1237.9 169.5l9.4 5.1 7.3 7.1 -9.3 -5.1z" fill="#e85d32"/>
<path d="M1278.3 203.5l9.5 9.7 7 11.2 -9.5 -9.7z" fill="#e19839"/>
<path d="M945.4 466.6l7.5 -2.6 9.1 -16.5 -7.5 3.4z" fill="#3b2ca1"/>
<path d="M1367.7 335.1l9.9 16.6 6.3 13.3 -9.9 -16.4z" fill="#62a69a"/>
<path d="M961.1 448.6l7.6 -3.7 9 -17.4 -7.6 4.7z" fill="#3540a5"/>
<path d="M1047.7 317.4l8.1 -8.4 8.5 -17.9 -8.1 8.9z" fill="#6b8d50"/>
<path d="M1392.3 379.4l10 17.3 6.1 12.9 -9.9 -16.7z" fill="#4a87c6"/>
<path d="M976.8 428.7l7.7 -4.8 8.9 -18.2 -7.7 5.9z" fill="#3558a2"/>
<path d="M1302.9 233.5l9.7 12.3 6.8 12.1 -9.6 -12.1z" fill="#d3b13e"/>
<path d="M1222.1 161.9l9.3 3.6 7.5 4.6 -9.3 -3.6z" fill="#e64b2f"/>
<path d="M1063.3 292.6l8.3 -8.5 8.4 -17.4 -8.2 9z" fill="#828d3f"/>
<path d="M1417 423.5l10.1 15.7 6 10.5 -10.2 -14.2z" fill="#4253d0"/>
<path d="M992.5 407.1l7.8 -5.9 8.8 -18.8 -7.8 6.8z" fill="#396999"/>
<path d="M1262.5 187.1l9.5 8.1 7.2 9.4 -9.4 -8.2z" fill="#e77d35"/>
<path d="M1327.6 268.9l9.8 14.4 6.6 12.2 -9.7 -14z" fill="#a9bb55"/>
<path d="M1079.1 268.2l8.3 -8.5 8.4 -16.5 -8.4 8.9z" fill="#988932"/>
<path d="M1206.2 158.2l9.2 2 7.6 2 -9.1 -2z" fill="#e4402e"/>
<path d="M1008.1 383.9l7.9 -6.7 8.8 -19.1 -7.9 7.5z" fill="#40768c"/>
<path d="M1441.8 460.4l10.4 10.6 5.9 5.6 -10.4 -8.1z" fill="#4f2dbf"/>
<path d="M1094.9 244.6l8.4 -8.1 8.3 -15.2 -8.5 8.4z" fill="#a57f2e"/>
<path d="M1352.3 308.1l9.9 16 6.4 12.6 -9.8 -15.8z" fill="#7bb677"/>
<path d="M1190.3 158.6l9.1 0.3 7.7 -0.6 -9.1 -0.4z" fill="#c13326"/>
<path d="M1287.3 212.6l9.6 11.2 7 11 -9.6 -11z" fill="#dea03b"/>
<path d="M1377.1 350.8l9.9 17.3 6.2 13 -9.9 -17z" fill="#579db0"/>
<path d="M1023.8 359.6l8 -7.3 8.7 -19.1 -8 8z" fill="#4f826f"/>
<path d="M1110.7 222.5l8.6 -7.5 8.2 -13.5 -8.6 7.7z" fill="#ad722b"/>
<path d="M1246.7 174.3l9.5 6.6 7.3 7.1 -9.4 -6.7z" fill="#e86332"/>
<path d="M920.9 497.7l7.4 -1.2 9.3 -16 -7.4 1.6z" fill="#501c8d"/>
<path d="M1174.3 163.3l9.1 -1.6 7.8 -3.2 -9 1.4z" fill="#bf3626"/>
<path d="M1401.8 395.7l10.1 17.4 6 12 -10.1 -16.4z" fill="#477acc"/>
<path d="M1126.5 202.6l8.7 -6.5 8.2 -11.4 -8.7 6.5z" fill="#b45d28"/>
<path d="M936.7 481.5l7.5 -1.8 9.2 -16.6 -7.5 2.6z" fill="#42249b"/>
<path d="M1158.4 172.4l8.9 -3.5 8 -6 -8.9 3.3z" fill="#bb3d26"/>
<path d="M1142.4 185.6l8.9 -5.1 8 -8.8 -8.8 5z" fill="#b84b28"/>
<path d="M1039.6 334.7l8.1 -7.7 8.6 -19 -8.2 8.3z" fill="#608b5a"/>
<path d="M952.5 464.2l7.6 -2.8 9.1 -17.5 -7.6 3.8z" fill="#3932a3"/>
<path d="M1312 245.1l9.8 13.6 6.8 11.7 -9.7 -13.3z" fill="#c8b543"/>
<path d="M1426.6 438.4l10.2 14.7 5.9 8.4 -10.2 -12.6z" fill="#4542cb"/>
<path d="M968.3 445.1l7.7 -3.9 9 -18.3 -7.7 4.8z" fill="#334aa7"/>
<path d="M1230.8 165.2l9.4 5.2 7.5 4.5 -9.4 -5.1z" fill="#e64f30"/>
<path d="M1055.3 309.5l8.2 -7.9 8.6 -18.5 -8.3 8.5z" fill="#768f48"/>
<path d="M1336.8 282.4l9.9 15.5 6.6 11.8 -9.8 -15z" fill="#9abb5f"/>
<path d="M1271.5 194.7l9.6 9.7 7.1 9.4 -9.5 -9.7z" fill="#e58936"/>
<path d="M984 424.2l7.9 -5 8.9 -19.1 -7.8 5.9z" fill="#3860a0"/>
<path d="M1071.1 284.6l8.4 -8 8.4 -17.8 -8.3 8.4z" fill="#8d8d3a"/>
<path d="M1361.6 323.2l10 16.9 6.4 12.3 -9.9 -16.6z" fill="#6fb184"/>
<path d="M1214.9 160.1l9.3 3.6 7.6 2 -9.3 -3.6z" fill="#c73a28"/>
<path d="M999.8 401.5l7.9 -5.8 8.8 -19.6 -7.9 6.7z" fill="#3c6f96"/>
<path d="M1386.5 367.1l10 17.9 6.2 12.4 -10 -17.3z" fill="#5093bc"/>
<path d="M1296.3 223.1l9.7 12.6 7 10.8 -9.7 -12.4z" fill="#daa83c"/>
<path d="M1087 260.2l8.4 -7.7 8.4 -16.9 -8.5 8.1z" fill="#a2872f"/>
<path d="M1411.3 412.1l10.2 17.2 6 10.5 -10.2 -15.7z" fill="#436ad0"/>
<path d="M1255.6 180.5l9.5 8.1 7.3 7.1 -9.4 -8.1z" fill="#e86c33"/>
<path d="M1198.9 158.9l9.2 2 7.7 -0.6 -9.2 -2z" fill="#c83527"/>
<path d="M1015.6 377.6l8 -6.6 8.7 -19.8 -8 7.3z" fill="#467c83"/>
<path d="M1102.8 236.9l8.6 -7.3 8.3 -15.4 -8.6 7.5z" fill="#ac7b2d"/>
<path d="M1321.2 257.9l9.8 14.9 6.8 11.1 -9.8 -14.3z" fill="#bab94a"/>
<path d="M1182.8 161.8l9.2 0.2 7.8 -3.2 -9.1 -0.3z" fill="#c73527"/>
<path d="M927.9 496.6l7.6 -1.3 9.3 -16.5 -7.6 1.8z" fill="#4b1d94"/>
<path d="M1118.8 215.4l8.7 -6.4 8.2 -13.6 -8.7 6.5z" fill="#b46b2a"/>
<path d="M1031.4 352.7l8.1 -7 8.7 -19.8 -8.2 7.7z" fill="#568866"/>
<path d="M1436.2 452.4l10.4 13.4 6 5.6 -10.4 -10.6z" fill="#4937c6"/>
<path d="M943.8 479.8l7.6 -1.9 9.2 -17.5 -7.6 2.8z" fill="#3e279f"/>
<path d="M1166.8 169.1l9 -1.7 8 -5.9 -9 1.5z" fill="#c23a27"/>
<path d="M1134.8 196.4l8.8 -5.2 8.1 -11.3 -8.8 5.1z" fill="#b95629"/>
<path d="M1150.8 180.7l8.9 -3.5 8.1 -8.7 -9 3.4z" fill="#be4528"/>
<path d="M1346.1 297l9.9 16.4 6.6 11.4 -9.9 -16z" fill="#8ab96b"/>
<path d="M1239.7 170l9.4 6.7 7.5 4.5 -9.5 -6.6z" fill="#d14e2c"/>
<path d="M959.7 461.6l7.7 -3 9.1 -18.4 -7.7 3.9z" fill="#3739a6"/>
<path d="M1280.5 203.8l9.7 11.3 7.1 9.2 -9.6 -11.1z" fill="#e39438"/>
<path d="M1047.2 327.4l8.2 -7.3 8.6 -19.6 -8.2 8z" fill="#688f55"/>
<path d="M1371 339.1l10 17.8 6.4 11.9 -10 -17.3z" fill="#64a897"/>
<path d="M975.6 441.5l7.8 -4.1 9 -19.2 -7.8 4.9z" fill="#3553a6"/>
<path d="M1395.9 384l10.2 18.3 6.1 11.5 -10.1 -17.4z" fill="#4a88c5"/>
<path d="M1063.1 302.1l8.3 -7.4 8.5 -19.1 -8.3 7.9z" fill="#809042"/>
<path d="M1223.6 163.4l9.4 5.2 7.6 1.9 -9.3 -5.1z" fill="#d1402a"/>
<path d="M1305.5 234.9l9.7 14.1 6.9 10.3 -9.7 -13.6z" fill="#d5ae3d"/>
<path d="M991.4 419.5l7.9 -5 8.9 -19.9 -7.9 5.8z" fill="#39679e"/>
<path d="M1420.9 428.4l10.3 16.8 6 8.4 -10.3 -14.7z" fill="#4157d0"/>
<path d="M1079 277.1l8.5 -7.3 8.4 -18.3 -8.5 7.7z" fill="#988d35"/>
<path d="M1264.6 188.1l9.6 9.7 7.3 7.1 -9.6 -9.7z" fill="#d76f30"/>
<path d="M1007.3 396l8 -5.7 8.8 -20.4 -8 6.5z" fill="#3f7592"/>
<path d="M1330.5 271.9l9.8 16 6.7 10.6 -9.8 -15.4z" fill="#abbb53"/>
<path d="M1207.6 160.7l9.3 3.6 7.7 -0.6 -9.3 -3.6z" fill="#cf3829"/>
<path d="M1094.9 252.9l8.6 -7 8.4 -17.2 -8.6 7.3z" fill="#a8842f"/>
<path d="M1355.5 312.5l9.9 17.4 6.5 10.9 -9.9 -16.9z" fill="#78af71"/>
<path d="M1023.1 371.4l8.2 -6.3 8.7 -20.5 -8.1 7z" fill="#4c8278"/>
<path d="M1191.5 162l9.2 1.9 7.8 -3.1 -9.2 -2.1z" fill="#ce3628"/>
<path d="M1110.9 230l8.7 -6.2 8.4 -15.6 -8.8 6.4z" fill="#b2772d"/>
<path d="M1380.5 355.9l10.1 18.5 6.3 11.3 -10.1 -17.9z" fill="#589dae"/>
<path d="M935 495.4l7.7 -1.2 9.3 -17.3 -7.7 2z" fill="#472098"/>
<path d="M1289.6 214.4l9.7 12.8 7.1 9.1 -9.7 -12.6z" fill="#d39537"/>
<path d="M1248.6 176.3l9.5 8.1 7.5 4.5 -9.6 -8.1z" fill="#db5a2f"/>
<path d="M1175.3 167.4l9.2 0.2 7.9 -5.8 -9.1 -0.3z" fill="#ca3928"/>
<path d="M1127 209.3l8.8 -5.1 8.2 -13.7 -8.8 5.2z" fill="#ba632a"/>
<path d="M1039 346.1l8.3 -6.7 8.6 -20.4 -8.2 7.3z" fill="#5d8d5f"/>
<path d="M951 478l7.7 -2 9.2 -18.4 -7.7 3z" fill="#3c2ca2"/>
<path d="M1405.5 401.3l10.2 18.6 6.1 10.1 -10.2 -17.2z" fill="#477ccb"/>
<path d="M1143.1 191.5l8.9 -3.6 8.2 -11.3 -9 3.6z" fill="#c05029"/>
<path d="M1159.2 177.3l9 -1.7 8.1 -8.6 -9 1.7z" fill="#c54229"/>
<path d="M967 458.8l7.8 -3.1 9.1 -19.3 -7.8 4z" fill="#3542a8"/>
<path d="M1314.7 248.2l9.8 15.4 6.9 9.8 -9.8 -14.9z" fill="#c3ad3f"/>
<path d="M1430.6 444.4l10.4 16.1 6 5.7 -10.4 -13.4z" fill="#4242c5"/>
<path d="M1055 320.5l8.3 -6.8 8.6 -20.1 -8.3 7.4z" fill="#73914e"/>
<path d="M1232.5 168.3l9.5 6.7 7.6 1.9 -9.5 -6.7z" fill="#dd4a2d"/>
<path d="M982.9 437.7l7.9 -4 9 -20.3 -7.9 5z" fill="#375ba5"/>
<path d="M1339.8 287l9.9 17.1 6.7 10 -9.9 -16.5z" fill="#97b65b"/>
<path d="M1273.7 197.2l9.6 11.3 7.3 7.1 -9.7 -11.3z" fill="#dc7f33"/>
<path d="M1071 295.1l8.4 -6.8 8.5 -19.6 -8.4 7.3z" fill="#8b913e"/>
<path d="M998.9 414.8l8 -4.8 8.9 -20.9 -8 5.8z" fill="#3b6d9c"/>
<path d="M1364.9 328.9l10 18.3 6.5 10.3 -10 -17.7z" fill="#6dad80"/>
<path d="M1216.4 164.1l9.4 5.2 7.7 -0.6 -9.4 -5.2z" fill="#dc3f2c"/>
<path d="M1087 270.2l8.5 -6.6 8.5 -18.7 -8.6 7z" fill="#a38c31"/>
<path d="M1390 373.3l10.1 19.2 6.3 10.4 -10.1 -18.3z" fill="#4e8fb7"/>
<path d="M1014.8 390.6l8.1 -5.5 8.8 -21.2 -8.1 6.3z" fill="#437a8e"/>
<path d="M1298.8 226.5l9.8 14.4 7 8.6 -9.7 -14z" fill="#d4a23b"/>
<path d="M1415.1 418.9l10.3 18.7 6.1 8.2 -10.3 -16.9z" fill="#4168cb"/>
<path d="M1200.2 163.8l9.3 3.6 7.8 -3.2 -9.3 -3.6z" fill="#d83a2b"/>
<path d="M1103 246.3l8.7 -6 8.4 -17.4 -8.7 6.2z" fill="#af822f"/>
<path d="M1257.6 183.9l9.6 9.8 7.4 4.4 -9.6 -9.7z" fill="#e36832"/>
<path d="M1030.8 365.5l8.2 -6 8.8 -21.2 -8.3 6.6z" fill="#53876f"/>
<path d="M1119.1 224.1l8.9 -5 8.3 -15.7 -8.8 5.1z" fill="#b8732c"/>
<path d="M1324 262.7l9.9 16.6 6.8 9.2 -9.9 -16z" fill="#b8b649"/>
<path d="M1183.9 167.5l9.3 2 7.9 -5.8 -9.2 -2z" fill="#d13a2a"/>
<path d="M942.2 494.3l7.8 -1.2 9.3 -18.2 -7.8 2.1z" fill="#44239c"/>
<path d="M1135.3 204.4l8.9 -3.6 8.3 -13.6 -9 3.6z" fill="#c05d2b"/>
<path d="M1167.7 175.6l9.2 0.1 8 -8.5 -9.1 -0.2z" fill="#cc402a"/>
<path d="M1151.5 188l9 -1.8 8.2 -11.2 -9.1 1.8z" fill="#c64c2a"/>
<path d="M958.3 476.1l7.8 -2.1 9.2 -19.3 -7.8 3z" fill="#3a32a5"/>
<path d="M1046.8 339.8l8.3 -6.2 8.7 -21.1 -8.3 6.9z" fill="#65905a"/>
<path d="M1349.2 303.1l10 18.1 6.6 9.3 -10 -17.4z" fill="#89b86b"/>
<path d="M1241.4 174.6l9.6 8.2 7.6 1.8 -9.6 -8.2z" fill="#e75631"/>
<path d="M1282.8 207.8l9.8 13 7.2 6.9 -9.8 -12.8z" fill="#e09137"/>
<path d="M974.3 456l7.9 -3.1 9.1 -20.4 -7.9 4.1z" fill="#344baa"/>
<path d="M1374.4 346.2l10.1 19.1 6.4 9.7 -10.1 -18.5z" fill="#62a697"/>
<path d="M1062.8 314.1l8.5 -6.3 8.6 -20.7 -8.5 6.9z" fill="#7d9448"/>
<path d="M1399.6 391.4l10.2 19.8 6.2 9.2 -10.2 -18.5z" fill="#4987c3"/>
<path d="M990.4 433.9l8 -4 9 -21.1 -8 4.9z" fill="#3963a3"/>
<path d="M1225.2 169l9.5 6.8 7.7 -0.8 -9.5 -6.7z" fill="#e84930"/>
<path d="M1308 240l9.9 15.9 7 8.2 -9.8 -15.4z" fill="#d4ae3d"/>
<path d="M1424.8 436.6l10.4 18.7 6.1 5.6 -10.4 -16.1z" fill="#4257d2"/>
<path d="M1078.9 288.6l8.6 -6.1 8.5 -20 -8.5 6.6z" fill="#95913a"/>
<path d="M1006.4 410.3l8.1 -4.8 8.9 -21.6 -8.1 5.5z" fill="#3e7298"/>
<path d="M1266.7 193.1l9.7 11.4 7.4 4.3 -9.7 -11.3z" fill="#eb7935"/>
<path d="M1333.3 278.4l10 17.8 6.8 8.4 -10 -17.1z" fill="#abbc55"/>
<path d="M1209 167.2l9.4 5.3 7.8 -3.3 -9.4 -5.2z" fill="#e4412e"/>
<path d="M1095.1 264l8.7 -5.7 8.4 -19 -8.7 6z" fill="#aa8b31"/>
<path d="M1022.5 385.4l8.2 -5.2 8.8 -21.9 -8.2 6z" fill="#498084"/>
<path d="M1358.6 320.2l10.1 19 6.6 8.6 -10.1 -18.3z" fill="#7db879"/>
<path d="M1111.2 240.6l8.9 -4.8 8.3 -17.6 -8.8 5z" fill="#b57f2f"/>
<path d="M1192.7 169.3l9.3 3.6 7.9 -5.7 -9.3 -3.7z" fill="#dd3e2c"/>
<path d="M1383.9 364.2l10.2 20 6.4 8.9 -10.2 -19.2z" fill="#589eb3"/>
<path d="M1127.5 219.4l8.9 -3.6 8.3 -15.8 -8.9 3.6z" fill="#be6e2c"/>
<path d="M949.5 493.2l7.8 -1.1 9.3 -19.2 -7.8 2.1z" fill="#4026a0"/>
<path d="M1038.5 359.8l8.4 -5.5 8.7 -21.9 -8.3 6.2z" fill="#598d66"/>
<path d="M1292 220l9.8 14.7 7.2 6.6 -9.8 -14.4z" fill="#e2a13c"/>
<path d="M1176.4 175.6l9.2 1.8 8 -8.4 -9.2 -1.9z" fill="#d3412b"/>
<path d="M1250.5 182.3l9.6 9.8 7.5 1.7 -9.6 -9.7z" fill="#f16636"/>
<path d="M1143.7 201l9.1 -2 8.2 -13.5 -9 1.8z" fill="#c65a2b"/>
<path d="M1160 186.2l9.2 -0.1 8.1 -11 -9.1 0z" fill="#cc4b2b"/>
<path d="M1409.2 410.1l10.3 20.3 6.2 7.7 -10.2 -18.8z" fill="#487ccf"/>
<path d="M965.7 474.2l7.9 -2.1 9.2 -20.4 -7.9 3.1z" fill="#3838a8"/>
<path d="M1054.7 333.9l8.4 -5.6 8.7 -21.7 -8.5 6.3z" fill="#6d9356"/>
<path d="M1317.4 255l9.9 17.3 7 7.5 -9.9 -16.6z" fill="#cdb945"/>
<path d="M981.8 453.1l8 -3 9.1 -21.3 -8 3.9z" fill="#3553a9"/>
<path d="M1234.2 175.4l9.6 8.3 7.7 -0.8 -9.6 -8.3z" fill="#f35835"/>
<path d="M1070.8 308.1l8.6 -5.6 8.6 -21.1 -8.6 6.1z" fill="#869543"/>
<path d="M1342.7 295.2l10.1 18.8 6.8 7.7 -10.1 -18.1z" fill="#9dc164"/>
<path d="M997.9 430.2l8.1 -3.9 9 -22 -8.1 4.7z" fill="#3a68a1"/>
<path d="M1275.8 203.8l9.8 13.1 7.4 4.2 -9.8 -12.9z" fill="#f08f3a"/>
<path d="M1368.1 338.1l10.2 19.8 6.6 8 -10.2 -19.2z" fill="#71b58c"/>
<path d="M1217.9 172.1l9.5 6.9 7.8 -3.3 -9.5 -6.8z" fill="#f24d33"/>
<path d="M1087 282.9l8.7 -5.3 8.5 -20.4 -8.7 5.7z" fill="#9f9136"/>
<path d="M1014.1 405.8l8.2 -4.4 8.9 -22.4 -8.2 5.2z" fill="#417795"/>
<path d="M1393.5 383.1l10.3 20.6 6.4 8 -10.3 -19.8z" fill="#5296c3"/>
<path d="M1301.3 233.8l9.9 16.4 7.1 6.2 -9.9 -16z" fill="#e3b141"/>
<path d="M1103.3 258.6l8.8 -4.6 8.4 -19.2 -8.8 4.8z" fill="#b08931"/>
<path d="M1201.5 172.7l9.4 5.2 7.9 -5.7 -9.4 -5.3z" fill="#eb4730"/>
<path d="M1419 429.3l10.3 20.7 6.2 5.7 -10.3 -18.7z" fill="#466cda"/>
<path d="M1030.2 380.5l8.3 -4.8 8.9 -22.7 -8.4 5.6z" fill="#4e857b"/>
<path d="M1259.6 191.5l9.7 11.5 7.5 1.6 -9.7 -11.4z" fill="#fa793a"/>
<path d="M1119.6 236l8.9 -3.5 8.4 -17.7 -9 3.6z" fill="#bb7d2f"/>
<path d="M1185.1 177.3l9.3 3.5 8.1 -8.3 -9.4 -3.6z" fill="#e0472e"/>
<path d="M1326.7 271.3l10.1 18.5 6.9 6.9 -10 -17.9z" fill="#c0c352"/>
<path d="M1135.9 215.9l9 -2 8.4 -15.7 -9.1 1.9z" fill="#c56a2d"/>
<path d="M956.9 492.2l7.9 -1.1 9.3 -20.1 -7.9 2z" fill="#3e2aa3"/>
<path d="M1168.7 186.1l9.2 1.6 8.2 -10.8 -9.3 -1.9z" fill="#d44c2c"/>
<path d="M1152.3 199.1l9.1 -0.3 8.3 -13.4 -9.2 0.1z" fill="#cc582c"/>
<path d="M1046.4 354.6l8.4 -5 8.8 -22.6 -8.5 5.7z" fill="#609161"/>
<path d="M1352.2 312.9l10.2 19.8 6.7 6.9 -10.1 -19z" fill="#8ec376"/>
<path d="M973.1 472.2l8 -2 9.2 -21.3 -8 3z" fill="#3740aa"/>
<path d="M1243.3 183.2l9.6 9.9 7.7 -0.9 -9.7 -9.9z" fill="#fe683a"/>
<path d="M1285.1 216.1l9.9 14.8 7.3 4.1 -9.9 -14.7z" fill="#f3a33f"/>
<path d="M1062.6 328.6l8.6 -5.1 8.7 -22.2 -8.6 5.6z" fill="#769550"/>
<path d="M1377.7 356.8l10.3 20.6 6.5 7.3 -10.2 -20z" fill="#66ada7"/>
<path d="M989.3 450.2l8.2 -2.8 9 -22.3 -8.1 3.8z" fill="#375ba8"/>
<path d="M1403.2 402.6l10.4 21.3 6.3 6.9 -10.3 -20.2z" fill="#4e8cd1"/>
<path d="M1226.9 178.5l9.6 8.4 7.7 -3.3 -9.6 -8.3z" fill="#fd5c38"/>
<path d="M1078.9 302.8l8.7 -4.8 8.6 -21.6 -8.7 5.3z" fill="#909640"/>
<path d="M1005.6 426.6l8.2 -3.6 9 -22.9 -8.2 4.5z" fill="#3c6e9f"/>
<path d="M1310.6 249.2l10 17.8 7.1 5.7 -9.9 -17.3z" fill="#e2be45"/>
<path d="M1095.2 277.9l8.8 -4.3 8.5 -20.7 -8.8 4.6z" fill="#a99234"/>
<path d="M1268.8 202.3l9.8 13.2 7.5 1.5 -9.8 -13.1z" fill="#ff8f3e"/>
<path d="M1210.4 177.6l9.6 6.8 7.8 -5.7 -9.5 -6.8z" fill="#f85436"/>
<path d="M1336.2 288.8l10.1 19.5 6.9 6.1 -10.1 -18.8z" fill="#b1c960"/>
<path d="M1021.8 401.7l8.3 -4.1 8.9 -23.2 -8.3 4.8z" fill="#447c92"/>
<path d="M1111.6 254.3l8.9 -3.4 8.5 -19.4 -9 3.5z" fill="#b68932"/>
<path d="M1361.8 331.6l10.2 20.5 6.7 6.3 -10.2 -19.9z" fill="#80c285"/>
<path d="M1193.9 180.5l9.5 5.2 8 -8.2 -9.5 -5.2z" fill="#ee5032"/>
<path d="M1038.1 375.9l8.4 -4.3 8.8 -23.3 -8.4 5z" fill="#548a73"/>
<path d="M1128 232.7l9 -2 8.4 -17.7 -9 2z" fill="#c17c2f"/>
<path d="M1177.4 187.6l9.4 3.3 8.1 -10.7 -9.4 -3.5z" fill="#e1522f"/>
<path d="M1387.4 376.3l10.3 21.2 6.5 6.7 -10.3 -20.7z" fill="#5ba4c3"/>
<path d="M1294.4 230l10 16.6 7.2 3.9 -9.9 -16.4z" fill="#f3b445"/>
<path d="M1144.4 214l9.2 -0.4 8.3 -15.6 -9.2 0.2z" fill="#cb692d"/>
<path d="M1160.9 198.8l9.3 1.5 8.2 -13.2 -9.3 -1.7z" fill="#d55a2e"/>
<path d="M1252.4 192.5l9.8 11.5 7.6 -1 -9.8 -11.4z" fill="#ff7b3e"/>
<path d="M964.4 491.2l8 -0.9 9.3 -21.3 -8 2z" fill="#3c2fa6"/>
<path d="M1413 422.7l10.4 21.9 6.3 5.7 -10.4 -20.7z" fill="#4c7edd"/>
<path d="M1054.4 349.9l8.5 -4.5 8.8 -23.1 -8.6 5z" fill="#67945d"/>
<path d="M980.7 470.4l8.1 -1.9 9.2 -22.4 -8.1 2.9z" fill="#3648ac"/>
<path d="M1320.1 266l10 19.1 7.1 5.1 -10.1 -18.5z" fill="#d4c850"/>
<path d="M1235.9 186.4l9.7 10 7.8 -3.4 -9.7 -9.9z" fill="#ff6d3d"/>
<path d="M1070.7 323.8l8.7 -4.3 8.7 -22.7 -8.7 4.8z" fill="#7f984b"/>
<path d="M997 447.5l8.2 -2.6 9.1 -23.2 -8.2 3.6z" fill="#3962a7"/>
<path d="M1345.7 307.2l10.2 20.4 6.8 5.4 -10.1 -19.7z" fill="#9fcc72"/>
<path d="M1278.1 214.7l9.9 14.9 7.4 1.5 -9.9 -14.9z" fill="#ffa643"/>
<path d="M1087.1 298.3l8.8 -3.9 8.6 -22 -8.8 4.3z" fill="#98973d"/>
<path d="M1371.4 350.9l10.3 21.2 6.6 5.7 -10.2 -20.6z" fill="#73bb9d"/>
<path d="M1013.3 423.2l8.3 -3.2 9 -23.7 -8.3 4.1z" fill="#3e739d"/>
<path d="M1219.4 184l9.7 8.4 7.8 -5.7 -9.6 -8.4z" fill="#ff623b"/>
<path d="M1397.1 396.3l10.4 21.9 6.4 6.1 -10.3 -21.3z" fill="#549ad1"/>
<path d="M1103.5 273.8l8.9 -3.1 8.6 -20.9 -9 3.3z" fill="#b09233"/>
<path d="M1303.8 245.6l10 18.1 7.2 3.6 -10 -17.8z" fill="#f0c248"/>
<path d="M1202.8 185.4l9.6 6.7 8 -8.1 -9.5 -6.8z" fill="#fa5c37"/>
<path d="M1029.6 397.8l8.5 -3.6 8.9 -23.9 -8.4 4.3z" fill="#49818b"/>
<path d="M1261.6 203.3l9.9 13.1 7.5 -0.9 -9.8 -13.2z" fill="#ff9042"/>
<path d="M1120 251.1l9 -2 8.5 -19.5 -9 2z" fill="#bb8832"/>
<path d="M1186.3 190.7l9.4 5 8.1 -10.5 -9.4 -5.2z" fill="#ed5a33"/>
<path d="M1136.5 230.8l9.2 -0.5 8.4 -17.6 -9.2 0.3z" fill="#c67b2f"/>
<path d="M1329.5 284l10.2 20.1 7 4.5 -10.1 -19.5z" fill="#c3cf5d"/>
<path d="M1169.7 200.2l9.3 3.1 8.3 -13 -9.4 -3.4z" fill="#e06031"/>
<path d="M1046 371.8l8.6 -3.7 8.8 -24 -8.5 4.4z" fill="#598f6c"/>
<path d="M1153.1 213.6l9.3 1.3 8.3 -15.4 -9.3 -1.5z" fill="#d36b2f"/>
<path d="M971.9 490.4l8.1 -0.8 9.3 -22.4 -8.1 1.9z" fill="#3b34a8"/>
<path d="M1355.3 326.5l10.3 21 6.8 4.9 -10.2 -20.5z" fill="#8ecb83"/>
<path d="M1245.1 195.8l9.8 11.5 7.7 -3.4 -9.8 -11.5z" fill="#ff7f41"/>
<path d="M1062.4 345.7l8.7 -3.7 8.8 -23.8 -8.7 4.3z" fill="#6d975a"/>
<path d="M1287.4 228.7l10 16.6 7.4 1.5 -10 -16.6z" fill="#ffb748"/>
<path d="M988.3 468.6l8.2 -1.7 9.2 -23.3 -8.2 2.7z" fill="#3550ad"/>
<path d="M1381.1 370.9l10.4 21.6 6.6 5.4 -10.4 -21.3z" fill="#66b0bb"/>
<path d="M1406.9 416.9l10.5 22.4 6.4 5.6 -10.5 -21.9z" fill="#518bdc"/>
<path d="M1078.9 319.8l8.8 -3.5 8.7 -23.1 -8.8 3.8z" fill="#879a48"/>
<path d="M1004.7 445l8.4 -2.3 9 -24.1 -8.3 3.3z" fill="#3b67a6"/>
<path d="M1228.5 191.9l9.7 9.9 7.9 -5.7 -9.7 -9.9z" fill="#ff7340"/>
<path d="M1313.3 262.7l10.1 19.3 7.1 3.3 -10 -19z" fill="#e5cd4f"/>
<path d="M1095.4 294.6l8.9 -2.8 8.6 -22.3 -8.9 3.1z" fill="#a0983b"/>
<path d="M1021.2 420.2l8.4 -2.9 9 -24.4 -8.4 3.6z" fill="#41779b"/>
<path d="M1270.9 215.7l10 14.8 7.5 -0.9 -9.9 -14.9z" fill="#ffa846"/>
<path d="M1211.9 191.7l9.6 8.3 8 -8 -9.6 -8.4z" fill="#ff6b3c"/>
<path d="M1339.1 302.9l10.2 21 7 4 -10.2 -20.4z" fill="#afd36d"/>
<path d="M1111.9 270.9l9.1 -1.8 8.5 -21.1 -9 1.9z" fill="#b59234"/>
<path d="M1195.2 195.3l9.6 6.6 8.1 -10.3 -9.6 -6.8z" fill="#fa6738"/>
<path d="M1365 346.4l10.3 21.6 6.8 4.4 -10.3 -21.2z" fill="#7ec695"/>
<path d="M1037.6 394.4l8.5 -3 9 -24.7 -8.6 3.8z" fill="#4d8683"/>
<path d="M1128.5 249.2l9.2 -0.4 8.5 -19.5 -9.2 0.4z" fill="#c18832"/>
<path d="M1178.5 203.1l9.5 4.7 8.2 -12.8 -9.5 -5z" fill="#eb6834"/>
<path d="M1145.2 230.3l9.2 1.2 8.4 -17.5 -9.3 -1.3z" fill="#cf7e31"/>
<path d="M1161.8 214.8l9.4 2.9 8.3 -15.2 -9.4 -3.1z" fill="#de7031"/>
<path d="M1390.9 391.3l10.4 22.1 6.6 5.1 -10.4 -21.8z" fill="#5ba4cf"/>
<path d="M1296.8 244.3l10.1 18.1 7.3 1.5 -10 -18.1z" fill="#fbc64c"/>
<path d="M1254.3 206.6l9.9 13.1 7.7 -3.4 -9.8 -13.1z" fill="#ff9445"/>
<path d="M1054.1 368.3l8.6 -3.1 8.9 -24.6 -8.7 3.7z" fill="#5f9466"/>
<path d="M979.6 489.6l8.2 -0.6 9.3 -23.4 -8.2 1.7z" fill="#3939ab"/>
<path d="M1322.8 280.9l10.2 20.4 7.1 3 -10.2 -20.1z" fill="#d2d55c"/>
<path d="M1070.6 342.2l8.8 -3 8.8 -24.2 -8.8 3.4z" fill="#749957"/>
<path d="M1237.7 201.2l9.8 11.4 7.8 -5.6 -9.8 -11.5z" fill="#ff8543"/>
<path d="M996.1 467l8.3 -1.4 9.2 -24.3 -8.3 2.4z" fill="#3756ad"/>
<path d="M1348.7 322.7l10.3 21.5 7 3.6 -10.3 -21.1z" fill="#9ad281"/>
<path d="M1280.3 229.6l10 16.5 7.5 -0.8 -10 -16.6z" fill="#ffba4a"/>
<path d="M1087.2 316.5l8.9 -2.4 8.7 -23.6 -8.9 2.8z" fill="#8e9b45"/>
<path d="M1012.6 442.8l8.4 -2 9.1 -24.8 -8.4 2.8z" fill="#3c6ca5"/>
<path d="M1221 199.4l9.7 9.8 8 -7.8 -9.7 -9.9z" fill="#ff7b41"/>
<path d="M1374.7 366.7l10.4 22 6.8 4.1 -10.4 -21.7z" fill="#70bbb1"/>
<path d="M1103.8 291.9l9 -1.6 8.7 -22.5 -9.1 1.8z" fill="#a89939"/>
<path d="M1400.7 412.1l10.6 22.3 6.5 5.2 -10.5 -22.3z" fill="#5496db"/>
<path d="M1029.1 417.5l8.5 -2.3 9.1 -25.2 -8.6 3z" fill="#437c98"/>
<path d="M1204.2 201.5l9.7 8 8.1 -10.1 -9.7 -8.2z" fill="#ff753d"/>
<path d="M1306.3 261.3l10.2 19.4 7.3 1.5 -10.1 -19.4z" fill="#f4d14f"/>
<path d="M1120.4 269.1l9.2 -0.4 8.6 -21.1 -9.2 0.5z" fill="#ba9334"/>
<path d="M1263.7 218.9l10 14.6 7.6 -3.1 -9.9 -14.9z" fill="#ffac48"/>
<path d="M1187.5 207.5l9.6 6.2 8.1 -12.5 -9.5 -6.5z" fill="#f67438"/>
<path d="M1137.2 248.7l9.2 1 8.5 -19.3 -9.3 -1.1z" fill="#c98c34"/>
<path d="M1045.7 391.5l8.6 -2.4 8.9 -25.3 -8.6 3.1z" fill="#528a7d"/>
<path d="M1170.7 217.5l9.5 4.4 8.3 -14.9 -9.5 -4.7z" fill="#e77734"/>
<path d="M1153.9 231.3l9.4 2.7 8.4 -17.2 -9.4 -2.9z" fill="#d88333"/>
<path d="M1332.4 300.1l10.2 21.3 7.1 2.7 -10.2 -21z" fill="#bcd96a"/>
<path d="M1358.4 343l10.4 22 6.9 3.2 -10.3 -21.6z" fill="#88cf90"/>
<path d="M1062.3 365.3l8.7 -2.3 8.9 -25.2 -8.8 3z" fill="#649664"/>
<path d="M1247 211.9l9.9 13 7.8 -5.5 -9.9 -13.1z" fill="#ff9a46"/>
<path d="M987.3 489.1l8.3 -0.5 9.3 -24.3 -8.3 1.4z" fill="#383fad"/>
<path d="M1289.8 245.1l10.1 17.9 7.4 -0.6 -10 -18.1z" fill="#ffc94e"/>
<path d="M1384.5 387.4l10.5 22.1 6.7 4.1 -10.4 -22z" fill="#61adcd"/>
<path d="M1078.9 339.4l8.9 -2.1 8.8 -24.6 -8.9 2.5z" fill="#7b9b53"/>
<path d="M1003.9 465.7l8.4 -1.1 9.2 -25.2 -8.4 2z" fill="#385cac"/>
<path d="M1230.2 208.6l9.8 11.3 8 -7.6 -9.9 -11.5z" fill="#ff8d44"/>
<path d="M1315.9 279.6l10.2 20.4 7.3 1.4 -10.2 -20.4z" fill="#ded95b"/>
<path d="M1095.6 314.2l9 -1.4 8.7 -23.8 -9 1.6z" fill="#959d44"/>
<path d="M1020.5 441l8.6 -1.6 9.1 -25.6 -8.6 2.3z" fill="#3d71a4"/>
<path d="M1273.1 232.7l10 16.2 7.7 -3 -10.1 -16.4z" fill="#ffbd4d"/>
<path d="M1213.4 209l9.7 9.6 8.1 -9.9 -9.8 -9.8z" fill="#ff8541"/>
<path d="M1342.1 320.2l10.3 21.8 7 2.4 -10.3 -21.5z" fill="#a6d87d"/>
<path d="M1112.3 290.4l9.2 -0.3 8.6 -22.6 -9.2 0.4z" fill="#af9b38"/>
<path d="M1196.5 213.3l9.7 7.8 8.2 -12.2 -9.7 -8.1z" fill="#ff813d"/>
<path d="M1037.2 415.3l8.6 -1.8 9 -25.9 -8.6 2.5z" fill="#467f96"/>
<path d="M1129.1 268.7l9.3 0.9 8.5 -21 -9.3 -1z" fill="#c29736"/>
<path d="M1368.2 363.7l10.5 22.1 6.8 3.1 -10.4 -22z" fill="#79c4a9"/>
<path d="M1179.6 221.6l9.6 6 8.3 -14.6 -9.6 -6.3z" fill="#f18338"/>
<path d="M1145.9 249.6l9.4 2.5 8.5 -19.1 -9.4 -2.7z" fill="#d19136"/>
<path d="M1162.8 233.8l9.5 4.2 8.3 -17 -9.5 -4.4z" fill="#e08a35"/>
<path d="M1299.3 261.9l10.2 19.2 7.4 -0.4 -10.2 -19.4z" fill="#fcd550"/>
<path d="M1256.3 224.1l10 14.5 7.8 -5.3 -10 -14.7z" fill="#ffb14a"/>
<path d="M1394.4 408.2l10.6 22.1 6.6 4.4 -10.5 -22.3z" fill="#58a0d9"/>
<path d="M1053.8 389.2l8.8 -1.8 8.9 -25.9 -8.7 2.4z" fill="#568e78"/>
<path d="M1325.5 298.8l10.3 21.3 7.2 1.4 -10.2 -21.2z" fill="#c8dd69"/>
<path d="M1070.5 363.1l8.9 -1.6 8.9 -25.6 -8.9 2.1z" fill="#699962"/>
<path d="M995.2 488.7l8.4 -0.2 9.3 -25.3 -8.5 1.1z" fill="#3745ae"/>
<path d="M1239.5 219.2l9.9 12.8 7.9 -7.5 -9.9 -12.9z" fill="#ffa248"/>
<path d="M1351.8 340.7l10.4 22.2 7 2.2 -10.4 -21.9z" fill="#92d48d"/>
<path d="M1282.6 247.9l10.1 17.6 7.6 -2.6 -10.1 -17.9z" fill="#ffcd51"/>
<path d="M1087.3 337.4l9 -1 8.8 -24.9 -9 1.3z" fill="#819e51"/>
<path d="M1011.9 464.7l8.5 -0.8 9.2 -25.9 -8.6 1.5z" fill="#3a62ac"/>
<path d="M1222.6 218l9.9 11 8 -9.6 -9.9 -11.3z" fill="#ff9745"/>
<path d="M1378.1 384.6l10.5 22 6.8 3.1 -10.5 -22.1z" fill="#69b6c7"/>
<path d="M1104.1 312.9l9.1 -0.2 8.8 -24 -9.2 0.4z" fill="#9ba043"/>
<path d="M1028.6 439.5l8.6 -1.1 9.1 -26.3 -8.6 1.8z" fill="#3f75a3"/>
<path d="M1205.7 220.6l9.7 9.3 8.2 -11.9 -9.8 -9.6z" fill="#ff9141"/>
<path d="M1308.9 280l10.3 20.3 7.3 -0.2 -10.2 -20.5z" fill="#e8dc5b"/>
<path d="M1120.9 290l9.3 1 8.7 -22.6 -9.3 -0.9z" fill="#b79f39"/>
<path d="M1265.8 237.7l10.1 15.9 7.7 -5 -10.1 -16.2z" fill="#ffc14e"/>
<path d="M1188.7 227.2l9.7 7.4 8.3 -14.3 -9.7 -7.7z" fill="#f9903d"/>
<path d="M1137.8 269.5l9.4 2.4 8.6 -20.9 -9.4 -2.5z" fill="#c99c38"/>
<path d="M1045.3 413.6l8.8 -1.2 9 -26.5 -8.8 1.8z" fill="#498393"/>
<path d="M1171.7 237.7l9.6 5.6 8.4 -16.6 -9.6 -6z" fill="#e89439"/>
<path d="M1154.8 251.9l9.5 3.9 8.4 -18.9 -9.5 -4.1z" fill="#d89738"/>
<path d="M1335.3 318.9l10.3 21.9 7.2 1.3 -10.3 -21.8z" fill="#b0dc7a"/>
<path d="M1062.1 387.5l8.9 -1.1 8.9 -26.4 -8.9 1.6z" fill="#5a9273"/>
<path d="M1248.9 231.2l10 14.2 7.9 -7.2 -10 -14.5z" fill="#ffb74c"/>
<path d="M1361.6 361.7l10.5 22.2 7 2.1 -10.5 -22.1z" fill="#80cba3"/>
<path d="M1292.1 264.5l10.3 18.8 7.5 -2.2 -10.2 -19.2z" fill="#ffd852"/>
<path d="M1078.9 361.6l9 -0.8 8.9 -25.9 -9 1.1z" fill="#6d9b60"/>
<path d="M1388 405.4l10.7 21.7 6.7 3.4 -10.6 -22z" fill="#5ea8d7"/>
<path d="M1003.1 488.5l8.5 0 9.3 -26.1 -8.5 0.8z" fill="#374bb0"/>
<path d="M1231.9 228.4l10 12.4 8 -9.3 -10 -12.7z" fill="#ffac49"/>
<path d="M1318.6 299.1l10.3 21.2 7.3 -0.1 -10.2 -21.3z" fill="#d1e068"/>
<path d="M1095.8 336.4l9.1 0 8.8 -25.1 -9.1 0.2z" fill="#87a250"/>
<path d="M1019.9 463.9l8.7 -0.4 9.1 -26.6 -8.6 1.1z" fill="#3b66ab"/>
<path d="M1214.9 229.3l9.9 10.7 8.1 -11.6 -9.9 -11z" fill="#ffa345"/>
<path d="M1275.3 252.6l10.2 17.3 7.7 -4.6 -10.2 -17.6z" fill="#ffd052"/>
<path d="M1112.7 312.6l9.3 1 8.7 -23.9 -9.3 -1z" fill="#a2a443"/>
<path d="M1345 339.6l10.5 22.3 7.1 1.1 -10.4 -22.2z" fill="#9ad98c"/>
<path d="M1036.7 438.4l8.8 -0.6 9.1 -26.9 -8.8 1.2z" fill="#4178a1"/>
<path d="M1197.8 234.1l9.9 8.9 8.2 -13.9 -9.8 -9.2z" fill="#ffa041"/>
<path d="M1129.7 290.9l9.4 2.2 8.6 -22.5 -9.4 -2.3z" fill="#bea43a"/>
<path d="M1180.8 242.9l9.7 7.1 8.4 -16.3 -9.7 -7.4z" fill="#f09e3d"/>
<path d="M1146.7 271.7l9.5 3.7 8.6 -20.7 -9.6 -3.9z" fill="#cfa13a"/>
<path d="M1163.7 255.6l9.6 5.3 8.5 -18.6 -9.6 -5.6z" fill="#df9e3a"/>
<path d="M1371.5 382.7l10.6 22.1 6.9 2 -10.5 -22.1z" fill="#70bdbf"/>
<path d="M1258.3 244.5l10.2 15.6 7.8 -6.9 -10.1 -15.9z" fill="#ffc650"/>
<path d="M1301.8 282.2l10.3 20 7.5 -2 -10.3 -20.3z" fill="#efdf5c"/>
<path d="M1053.6 412.5l8.9 -0.6 9 -27 -8.9 1.1z" fill="#4c868e"/>
<path d="M1070.5 386.4l9 -0.3 8.9 -26.7 -9 0.7z" fill="#5e9670"/>
<path d="M1328.3 319l10.5 21.9 7.2 -0.1 -10.3 -21.9z" fill="#b8e178"/>
<path d="M1241.3 240.1l10.1 13.8 8 -9 -10.1 -14.2z" fill="#ffbc4d"/>
<path d="M1087.4 360.9l9.2 0.2 8.8 -26.2 -9.1 0.1z" fill="#739f60"/>
<path d="M1284.9 268.9l10.2 18.4 7.7 -4.2 -10.2 -18.8z" fill="#ffdb54"/>
<path d="M1011.2 488.5l8.6 0.4 9.3 -26.9 -8.7 0.4z" fill="#3651b1"/>
<path d="M1354.9 360.6l10.6 22.4 7 1 -10.5 -22.2z" fill="#87d29d"/>
<path d="M1224.2 239.3l10 12.2 8.1 -11.3 -9.9 -12.4z" fill="#ffb44a"/>
<path d="M1104.4 336.4l9.3 1 8.8 -25.2 -9.3 -0.9z" fill="#8da650"/>
<path d="M1381.5 403.6l10.7 21.7 6.9 2 -10.7 -21.8z" fill="#63afd6"/>
<path d="M1028.1 463.6l8.7 0 9.2 -27.3 -8.7 0.6z" fill="#3c6aab"/>
<path d="M1207.1 242.5l9.9 10.3 8.3 -13.5 -9.9 -10.7z" fill="#ffae46"/>
<path d="M1121.5 313.5l9.3 2.2 8.8 -23.9 -9.4 -2.2z" fill="#a8a945"/>
<path d="M1311.5 301l10.4 20.9 7.4 -1.7 -10.3 -21.2z" fill="#d7e368"/>
<path d="M1267.9 259.2l10.2 16.8 7.8 -6.4 -10.2 -17.3z" fill="#ffd453"/>
<path d="M1190 249.5l9.8 8.5 8.3 -15.8 -9.8 -8.9z" fill="#f6aa42"/>
<path d="M1138.5 292.9l9.5 3.5 8.7 -22.3 -9.5 -3.6z" fill="#c3a93c"/>
<path d="M1045 437.9l8.9 -0.1 9.1 -27.5 -8.9 0.6z" fill="#437ba0"/>
<path d="M1155.7 275.1l9.6 5.1 8.5 -20.4 -9.6 -5.4z" fill="#d5a83c"/>
<path d="M1172.8 260.5l9.7 6.7 8.5 -18.2 -9.7 -7.1z" fill="#e6a83f"/>
<path d="M1338.2 339.6l10.5 22.3 7.2 0 -10.4 -22.3z" fill="#a1dd8b"/>
<path d="M1062 411.9l9 0.1 9 -27.4 -9 0.3z" fill="#508a8b"/>
<path d="M1250.8 253.1l10.2 15.2 7.9 -8.7 -10.1 -15.5z" fill="#ffcb51"/>
<path d="M1364.9 381.8l10.6 22.4 7 0.7 -10.6 -22.1z" fill="#77c4b9"/>
<path d="M1294.6 286.2l10.3 19.6 7.6 -3.8 -10.3 -19.9z" fill="#f2e25d"/>
<path d="M1079 386.1l9.1 0.5 9 -27 -9.2 -0.2z" fill="#629a6f"/>
<path d="M1233.6 250.7l10.1 13.5 8.1 -10.8 -10 -13.9z" fill="#ffc34e"/>
<path d="M1096 361l9.3 1.2 8.9 -26.2 -9.3 -1.1z" fill="#77a361"/>
<path d="M1321.3 320.7l10.5 21.6 7.4 -1.5 -10.4 -21.8z" fill="#bfe578"/>
<path d="M1019.3 488.9l8.8 0.6 9.2 -27.4 -8.7 -0.1z" fill="#3855b2"/>
<path d="M1216.5 252.1l10 11.8 8.2 -13.1 -10 -12.2z" fill="#ffbb4b"/>
<path d="M1277.5 275l10.3 18.1 7.8 -6.1 -10.3 -18.4z" fill="#ffde55"/>
<path d="M1113.2 337.3l9.3 2.2 8.8 -25.2 -9.3 -2.2z" fill="#92aa51"/>
<path d="M1348.1 360.7l10.6 22.6 7.2 -0.2 -10.6 -22.5z" fill="#8dd89a"/>
<path d="M1036.3 463.6l8.9 0.5 9.2 -27.8 -8.9 0z" fill="#3d6dab"/>
<path d="M1199.2 257.5l9.9 9.9 8.4 -15.5 -9.9 -10.3z" fill="#fbb647"/>
<path d="M1130.3 315.5l9.5 3.4 8.7 -23.8 -9.5 -3.5z" fill="#adad46"/>
<path d="M1147.5 296.2l9.6 4.8 8.7 -22.1 -9.7 -5z" fill="#c7ae3f"/>
<path d="M1182 266.8l9.8 8.1 8.5 -17.8 -9.9 -8.5z" fill="#ecb343"/>
<path d="M1164.7 279.8l9.8 6.4 8.5 -20.1 -9.7 -6.7z" fill="#daaf3f"/>
<path d="M1053.4 437.8l9 0.5 9.1 -27.9 -9 -0.1z" fill="#457fa1"/>
<path d="M1374.9 402.9l10.7 22.1 7 0.4 -10.7 -21.8z" fill="#68b7d6"/>
<path d="M1260.4 267.4l10.2 16.5 7.9 -8.3 -10.2 -16.9z" fill="#ffd754"/>
<path d="M1304.3 304.6l10.5 20.5 7.5 -3.4 -10.4 -20.8z" fill="#dbe76a"/>
<path d="M1070.5 412l9.1 0.7 9 -27.7 -9.1 -0.4z" fill="#538f89"/>
<path d="M1243.2 263.4l10.1 14.9 8.1 -10.5 -10.1 -15.2z" fill="#ffd052"/>
<path d="M1331.2 341.1l10.5 22.2 7.4 -1.4 -10.5 -22.3z" fill="#a6e18b"/>
<path d="M1087.6 386.5l9.2 1.4 9 -27.2 -9.3 -1.2z" fill="#659f6f"/>
<path d="M1287.2 292l10.4 19.1 7.8 -5.6 -10.4 -19.6z" fill="#f3e55f"/>
<path d="M1225.9 263.2l10.1 13.1 8.2 -12.8 -10.1 -13.5z" fill="#ffc94f"/>
<path d="M1358.1 382l10.7 22.7 7.1 -0.5 -10.6 -22.4z" fill="#7ccbb5"/>
<path d="M1104.8 362.1l9.3 2.2 8.9 -26.3 -9.3 -2.1z" fill="#7ba762"/>
<path d="M1027.6 489.5l8.8 1 9.3 -28 -8.9 -0.5z" fill="#3959b3"/>
<path d="M1208.6 266.8l10 11.3 8.3 -15 -10 -11.8z" fill="#fec24b"/>
<path d="M1122 339.3l9.5 3.3 8.8 -25.1 -9.5 -3.4z" fill="#96af53"/>
<path d="M1314.2 323.9l10.5 21.4 7.5 -3.1 -10.5 -21.7z" fill="#c3e878"/>
<path d="M1139.3 318.7l9.6 4.6 8.7 -23.6 -9.6 -4.8z" fill="#b0b249"/>
<path d="M1191.2 274.4l10 9.5 8.4 -17.4 -9.9 -9.9z" fill="#f0bc47"/>
<path d="M1270 282.9l10.4 17.7 7.9 -8 -10.3 -18z" fill="#ffe158"/>
<path d="M1156.6 300.7l9.7 6.1 8.6 -21.8 -9.7 -6.4z" fill="#c9b442"/>
<path d="M1173.9 285.8l9.8 7.8 8.6 -19.8 -9.8 -8.1z" fill="#dfb842"/>
<path d="M1044.7 464.1l9 0.9 9.2 -28.2 -9 -0.6z" fill="#3f71ac"/>
<path d="M1341.1 362l10.7 22.7 7.3 -1.5 -10.6 -22.6z" fill="#92dc99"/>
<path d="M1061.9 438.3l9.1 1.1 9.1 -28.2 -9.1 -0.8z" fill="#4782a1"/>
<path d="M1252.8 277.4l10.2 16.1 8.1 -10.1 -10.3 -16.5z" fill="#ffdb54"/>
<path d="M1297 310l10.5 20.2 7.7 -5.3 -10.4 -20.5z" fill="#dce96c"/>
<path d="M1079.1 412.7l9.2 1.5 9 -27.9 -9.2 -1.3z" fill="#569289"/>
<path d="M1368.2 403.4l10.7 22.5 7.1 -0.9 -10.7 -22.1z" fill="#6dbdd5"/>
<path d="M1235.4 275.5l10.2 14.5 8.2 -12.4 -10.2 -14.8z" fill="#ffd452"/>
<path d="M1096.3 387.8l9.4 2.2 9 -27.2 -9.4 -2.2z" fill="#68a270"/>
<path d="M1324.1 344.1l10.6 22.1 7.5 -3 -10.6 -22.3z" fill="#aae58c"/>
<path d="M1218 277.4l10.2 12.7 8.3 -14.6 -10.1 -13.1z" fill="#ffcd4e"/>
<path d="M1113.6 364.1l9.5 3.2 8.9 -26.2 -9.5 -3.2z" fill="#7fab64"/>
<path d="M1279.8 299.5l10.4 18.8 7.9 -7.5 -10.4 -19.2z" fill="#f0e863"/>
<path d="M1131 342.4l9.6 4.4 8.8 -24.9 -9.6 -4.6z" fill="#99b355"/>
<path d="M1200.6 283.3l10.1 10.9 8.4 -17 -10 -11.3z" fill="#f3c74a"/>
<path d="M1035.9 490.5l9 1.4 9.3 -28.5 -9 -0.9z" fill="#3a5db4"/>
<path d="M1148.3 323l9.8 5.8 8.7 -23.3 -9.7 -6.1z" fill="#b2b74d"/>
<path d="M1351.2 383.4l10.7 23 7.3 -1.8 -10.7 -22.7z" fill="#81d0b3"/>
<path d="M1183.2 293.1l9.9 9.1 8.6 -19.4 -10 -9.5z" fill="#e4c146"/>
<path d="M1165.8 306.4l9.8 7.4 8.6 -21.4 -9.8 -7.8z" fill="#cbbb48"/>
<path d="M1053.2 465l9.1 1.4 9.2 -28.6 -9.1 -1.1z" fill="#4074ad"/>
<path d="M1262.5 292.5l10.3 17.3 8 -9.7 -10.3 -17.7z" fill="#fce35b"/>
<path d="M1306.9 329l10.6 21 7.6 -4.9 -10.5 -21.4z" fill="#c5eb7b"/>
<path d="M1070.4 439.3l9.3 1.8 9.1 -28.5 -9.2 -1.5z" fill="#4985a3"/>
<path d="M1245.1 289.1l10.3 15.7 8.1 -11.9 -10.3 -16.2z" fill="#ffde56"/>
<path d="M1334.1 364.9l10.7 22.7 7.4 -3 -10.6 -22.7z" fill="#96df9b"/>
<path d="M1087.8 414.1l9.3 2.3 9.1 -28 -9.4 -2.2z" fill="#599689"/>
<path d="M1289.6 317.2l10.5 19.8 7.8 -7.2 -10.4 -20.1z" fill="#daec6f"/>
<path d="M1227.6 289.3l10.2 14.1 8.3 -14.2 -10.2 -14.5z" fill="#fed852"/>
<path d="M1105.1 389.8l9.5 3.2 9 -27.2 -9.5 -3.2z" fill="#6ba672"/>
<path d="M1361.3 405.1l10.8 23.1 7.3 -2.3 -10.8 -22.6z" fill="#71c2d4"/>
<path d="M1122.6 367.1l9.6 4.3 8.9 -26.1 -9.6 -4.4z" fill="#81af67"/>
<path d="M1210.1 293.5l10.1 12.3 8.4 -16.6 -10.1 -12.7z" fill="#f3d14e"/>
<path d="M1140 346.5l9.8 5.6 8.8 -24.6 -9.8 -5.9z" fill="#9ab759"/>
<path d="M1192.6 301.6l10 10.4 8.5 -18.9 -10 -10.8z" fill="#e1c94d"/>
<path d="M1316.9 348.8l10.6 21.9 7.6 -4.8 -10.6 -22z" fill="#ade88e"/>
<path d="M1272.2 308.8l10.5 18.4 8 -9.4 -10.5 -18.8z" fill="#e9ea66"/>
<path d="M1157.5 328.4l9.9 7.1 8.7 -23 -9.9 -7.4z" fill="#b3bc51"/>
<path d="M1175 313.3l10 8.7 8.6 -21 -9.9 -9.1z" fill="#cbc34e"/>
<path d="M1044.4 491.8l9.1 1.9 9.3 -28.9 -9.1 -1.4z" fill="#3b61b5"/>
<path d="M1061.7 466.4l9.3 1.9 9.2 -28.8 -9.2 -1.8z" fill="#4177af"/>
<path d="M1344.2 386.3l10.7 23.1 7.4 -3.1 -10.7 -23z" fill="#85d4b4"/>
<path d="M1254.8 303.9l10.4 16.9 8.1 -11.6 -10.4 -17.3z" fill="#f1e560"/>
<path d="M1079.1 441l9.4 2.4 9.1 -28.6 -9.3 -2.3z" fill="#4a88a4"/>
<path d="M1299.5 335.8l10.6 20.7 7.8 -6.8 -10.6 -21.1z" fill="#c4ec7f"/>
<path d="M1237.2 302.5l10.4 15.3 8.2 -13.7 -10.3 -15.7z" fill="#f2df5b"/>
<path d="M1096.6 416.3l9.5 3.1 9 -28 -9.4 -3.1z" fill="#5b998a"/>
<path d="M1219.7 305l10.2 13.6 8.4 -16.1 -10.2 -14z" fill="#ebd957"/>
<path d="M1114.1 392.8l9.6 4.1 9 -27 -9.6 -4.3z" fill="#6da974"/>
<path d="M1326.9 369.4l10.7 22.5 7.6 -4.5 -10.7 -22.7z" fill="#98e29d"/>
<path d="M1282.1 326.1l10.6 19.4 7.9 -9 -10.5 -19.8z" fill="#d5ed73"/>
<path d="M1131.6 371.1l9.8 5.3 8.9 -25.7 -9.8 -5.6z" fill="#82b26a"/>
<path d="M1202.1 311.4l10.1 11.7 8.5 -18.4 -10.1 -12.2z" fill="#ddd255"/>
<path d="M1149.2 351.7l9.9 6.8 8.8 -24.3 -9.9 -7.1z" fill="#9abb5e"/>
<path d="M1184.4 321.5l10.1 10 8.6 -20.6 -10 -10.4z" fill="#c9ca55"/>
<path d="M1166.8 335.1l10 8.3 8.7 -22.6 -10 -8.7z" fill="#b3c258"/>
<path d="M1354.3 408.1l10.9 23.5 7.3 -3.6 -10.8 -23z" fill="#74c6d4"/>
<path d="M1053 493.6l9.2 2.2 9.3 -29.1 -9.2 -2z" fill="#3d64b7"/>
<path d="M1264.6 319.8l10.5 17.9 8.1 -11.1 -10.5 -18.4z" fill="#e0ea6b"/>
<path d="M1309.5 355.3l10.7 21.5 7.8 -6.5 -10.7 -21.8z" fill="#ace991"/>
<path d="M1070.4 468.2l9.4 2.5 9.2 -29 -9.3 -2.3z" fill="#427ab0"/>
<path d="M1247 316.9l10.4 16.5 8.2 -13.3 -10.4 -16.9z" fill="#e4e665"/>
<path d="M1088 443.2l9.4 3.1 9.2 -28.5 -9.5 -3.1z" fill="#4c8ba6"/>
<path d="M1337 390.7l10.9 23.1 7.5 -4.6 -10.8 -23.1z" fill="#87d7b5"/>
<path d="M1292.1 344.3l10.6 20.3 7.9 -8.5 -10.6 -20.7z" fill="#bfed83"/>
<path d="M1229.3 317.8l10.4 14.8 8.3 -15.6 -10.3 -15.3z" fill="#e0e061"/>
<path d="M1105.5 419.2l9.6 3.9 9.1 -27.8 -9.6 -4.1z" fill="#5c9b8d"/>
<path d="M1123.1 396.6l9.8 5.1 9 -26.8 -9.8 -5.3z" fill="#6eac77"/>
<path d="M1211.6 322.4l10.3 13.1 8.5 -17.9 -10.3 -13.6z" fill="#d6d95e"/>
<path d="M1140.8 376.1l9.9 6.4 8.9 -25.5 -9.9 -6.7z" fill="#82b56e"/>
<path d="M1193.9 330.9l10.2 11.2 8.6 -20.1 -10.2 -11.7z" fill="#c5d15e"/>
<path d="M1158.5 358l10 7.9 8.8 -23.9 -10 -8.3z" fill="#9abf65"/>
<path d="M1176.2 342.8l10.1 9.5 8.7 -22.1 -10.1 -9.9z" fill="#b1c95f"/>
<path d="M1274.5 336.7l10.6 18.9 8 -10.7 -10.5 -19.4z" fill="#ccee78"/>
<path d="M1319.6 375.6l10.8 22.2 7.7 -6.2 -10.8 -22.5z" fill="#98e49f"/>
<path d="M1061.6 495.7l9.4 2.6 9.3 -29.2 -9.3 -2.5z" fill="#3d67b8"/>
<path d="M1256.8 332.4l10.5 17.5 8.2 -12.9 -10.5 -17.9z" fill="#d3ea71"/>
<path d="M1347.2 412.5l11 23.6 7.4 -4.7 -10.8 -23.5z" fill="#76c8d5"/>
<path d="M1079.2 470.6l9.5 3 9.3 -28.9 -9.5 -3.1z" fill="#437cb2"/>
<path d="M1302.1 363.5l10.7 21.1 7.9 -8.2 -10.7 -21.5z" fill="#a9ea95"/>
<path d="M1239.1 331.7l10.4 15.9 8.4 -15 -10.4 -16.5z" fill="#d3e56c"/>
<path d="M1096.9 446.1l9.6 3.8 9.1 -28.4 -9.6 -3.9z" fill="#4d8da8"/>
<path d="M1221.3 334.7l10.4 14.2 8.5 -17.3 -10.4 -14.8z" fill="#ccdf68"/>
<path d="M1114.6 422.8l9.7 4.8 9.1 -27.5 -9.7 -5z" fill="#5d9e90"/>
<path d="M1329.8 396.6l10.9 22.9 7.6 -6 -10.8 -23.1z" fill="#87d8b9"/>
<path d="M1284.5 354.5l10.6 19.8 8 -10.2 -10.6 -20.3z" fill="#b8ec8a"/>
<path d="M1132.3 401.3l9.9 6.1 9 -26.4 -9.9 -6.4z" fill="#6eae7c"/>
<path d="M1203.5 341.4l10.3 12.5 8.6 -19.5 -10.3 -13.1z" fill="#bfd767"/>
<path d="M1150.1 382.1l10 7.5 8.9 -25.1 -10 -7.9z" fill="#82b873"/>
<path d="M1185.7 351.8l10.2 10.7 8.7 -21.6 -10.2 -11.2z" fill="#adce68"/>
<path d="M1167.9 365.4l10.1 9.1 8.8 -23.5 -10.1 -9.5z" fill="#98c36d"/>
<path d="M1266.7 348.8l10.7 18.5 8.1 -12.4 -10.6 -18.9z" fill="#c1ec80"/>
<path d="M1312.2 383.3l10.8 21.9 7.8 -7.8 -10.7 -22.2z" fill="#96e5a3"/>
<path d="M1070.4 498.2l9.5 3 9.3 -29.2 -9.4 -3.1z" fill="#3e69b9"/>
<path d="M1249 346.6l10.5 16.9 8.3 -14.4 -10.5 -17.5z" fill="#c4e978"/>
<path d="M1088.2 473.4l9.5 3.6 9.3 -28.8 -9.6 -3.7z" fill="#447eb4"/>
<path d="M1340 418.2l11 23.4 7.6 -5.8 -10.9 -23.6z" fill="#76c9d9"/>
<path d="M1231.1 348l10.5 15.3 8.4 -16.6 -10.4 -15.9z" fill="#c1e374"/>
<path d="M1294.5 373.2l10.8 20.5 8 -9.7 -10.8 -21.1z" fill="#a4e999"/>
<path d="M1105.9 449.6l9.7 4.5 9.2 -28 -9.7 -4.8z" fill="#4e8fab"/>
<path d="M1123.7 427.3l9.9 5.7 9.1 -27.1 -9.9 -6.1z" fill="#5e9f95"/>
<path d="M1213.2 353.1l10.4 13.6 8.6 -18.8 -10.4 -14.3z" fill="#b7db72"/>
<path d="M1141.6 407l10 7.1 9 -26 -10 -7.5z" fill="#6eaf82"/>
<path d="M1195.3 361.8l10.3 11.9 8.7 -21 -10.3 -12.4z" fill="#a8d273"/>
<path d="M1159.5 389.1l10.1 8.5 8.9 -24.5 -10.1 -9z" fill="#81bc7a"/>
<path d="M1177.4 373.9l10.2 10.2 8.8 -22.9 -10.2 -10.7z" fill="#95c876"/>
<path d="M1276.8 366.2l10.7 19.2 8.1 -11.7 -10.7 -19.8z" fill="#aeea91"/>
<path d="M1322.4 403.9l10.9 22.5 7.8 -7.3 -10.9 -22.9z" fill="#86d7bd"/>
<path d="M1258.9 362.5l10.7 17.8 8.2 -13.8 -10.6 -18.4z" fill="#b4e888"/>
<path d="M1079.3 501l9.6 3.4 9.4 -29 -9.6 -3.6z" fill="#3f6bbb"/>
<path d="M1304.7 392.5l10.9 21.3 7.9 -9.1 -10.8 -21.9z" fill="#93e2aa"/>
<path d="M1241 362.4l10.6 16.2 8.4 -15.9 -10.6 -16.9z" fill="#b3e482"/>
<path d="M1097.2 476.8l9.7 4.2 9.3 -28.5 -9.7 -4.5z" fill="#4580b6"/>
<path d="M1223 365.9l10.5 14.6 8.6 -18.2 -10.5 -15.3z" fill="#acdd7f"/>
<path d="M1115.1 453.8l9.8 5.3 9.2 -27.7 -9.8 -5.6z" fill="#4f90ae"/>
<path d="M1286.9 384.3l10.8 19.9 8.1 -11.1 -10.8 -20.6z" fill="#9de79e"/>
<path d="M1133 432.7l10 6.5 9.1 -26.6 -10 -7.1z" fill="#5da19c"/>
<path d="M1332.7 425.1l11 23 7.7 -6.8 -10.9 -23.5z" fill="#75c9dd"/>
<path d="M1205 373l10.4 12.9 8.7 -20.3 -10.4 -13.6z" fill="#a0d57e"/>
<path d="M1151 413.6l10.1 8 9 -25.4 -10.1 -8.5z" fill="#6eb18a"/>
<path d="M1187 383.4l10.3 11.3 8.8 -22.3 -10.3 -11.8z" fill="#91cb7f"/>
<path d="M1169 397.1l10.2 9.6 8.9 -24 -10.2 -10.1z" fill="#7fbf81"/>
<path d="M1269 379.3l10.7 18.5 8.2 -13.1 -10.7 -19.2z" fill="#a4e796"/>
<path d="M1314.9 412.6l11 21.8 7.9 -8.5 -10.9 -22.5z" fill="#83d5c4"/>
<path d="M1251 377.7l10.6 17 8.4 -15.2 -10.6 -17.8z" fill="#a5e490"/>
<path d="M1088.4 504.2l9.7 3.8 9.3 -28.6 -9.7 -4.2z" fill="#406cbc"/>
<path d="M1232.9 379.6l10.6 15.5 8.5 -17.4 -10.5 -16.2z" fill="#a1de8c"/>
<path d="M1297.1 403.1l10.9 20.5 8 -10.4 -10.8 -21.2z" fill="#8edeb2"/>
<path d="M1106.3 480.7l9.9 4.9 9.2 -28.1 -9.8 -5.2z" fill="#4681b9"/>
<path d="M1214.8 385.1l10.5 13.9 8.7 -19.6 -10.5 -14.6z" fill="#99d689"/>
<path d="M1124.4 458.8l9.9 6.1 9.2 -27.2 -10 -6.6z" fill="#4f91b2"/>
<path d="M1142.4 438.8l10.1 7.5 9.1 -26.1 -10.1 -8.1z" fill="#5da1a3"/>
<path d="M1196.7 394l10.4 12.2 8.8 -21.5 -10.4 -12.9z" fill="#8ccd88"/>
<path d="M1160.5 421.1l10.2 9.1 9 -24.9 -10.2 -9.6z" fill="#6db294"/>
<path d="M1178.6 406.1l10.3 10.6 8.9 -23.3 -10.3 -11.3z" fill="#7dc28a"/>
<path d="M1279.1 396.7l10.8 19.2 8.2 -12.3 -10.8 -20z" fill="#95e3a4"/>
<path d="M1325.3 433.1l11.1 22.3 7.8 -7.7 -11 -23.1z" fill="#73c7e3"/>
<path d="M1261 393.7l10.8 17.8 8.4 -14.5 -10.8 -18.5z" fill="#98e29c"/>
<path d="M1307.4 422.4l11 21.1 8 -9.6 -11 -21.9z" fill="#7fd2cc"/>
<path d="M1242.9 394.2l10.7 16.2 8.5 -16.6 -10.7 -17z" fill="#97de97"/>
<path d="M1097.5 507.8l9.8 4.3 9.4 -28.1 -9.8 -4.9z" fill="#416ebf"/>
<path d="M1224.8 398.1l10.6 14.7 8.6 -18.8 -10.6 -15.4z" fill="#90d793"/>
<path d="M1115.6 485.3l10 5.5 9.2 -27.5 -9.9 -6.1z" fill="#4782bc"/>
<path d="M1206.6 405.5l10.5 13.1 8.7 -20.8 -10.5 -13.9z" fill="#86ce92"/>
<path d="M1133.8 464.5l10 7 9.2 -26.7 -10.1 -7.5z" fill="#4f92b7"/>
<path d="M1289.3 414.8l11 19.7 8.1 -11.5 -10.9 -20.6z" fill="#87d8bb"/>
<path d="M1151.9 445.9l10.2 8.4 9.1 -25.6 -10.2 -9z" fill="#5ca2ad"/>
<path d="M1188.3 416.1l10.5 11.5 8.8 -22.6 -10.4 -12.3z" fill="#7ac197"/>
<path d="M1170.1 429.6l10.3 10 9 -24.2 -10.3 -10.7z" fill="#6cb39f"/>
<path d="M1271.2 410.4l10.9 18.3 8.3 -13.5 -10.8 -19.2z" fill="#8cdbaf"/>
<path d="M1317.7 442.2l11.2 21.5 7.9 -8.7 -11.1 -22.4z" fill="#71c4e7"/>
<path d="M1253 409.4l10.8 16.9 8.5 -15.7 -10.8 -17.8z" fill="#8cdaa7"/>
<path d="M1234.8 411.9l10.7 15.3 8.6 -17.8 -10.7 -16.2z" fill="#88d4a2"/>
<path d="M1106.8 511.8l9.9 5 9.4 -27.5 -10 -5.6z" fill="#416ec1"/>
<path d="M1299.7 433.4l11 20.1 8.1 -10.6 -11 -21.1z" fill="#7acdd6"/>
<path d="M1216.5 417.8l10.6 13.8 8.8 -19.9 -10.7 -14.7z" fill="#80cba1"/>
<path d="M1125 490.5l10.1 6.4 9.3 -27 -10.1 -6.9z" fill="#4782c0"/>
<path d="M1198.2 426.9l10.5 12.3 8.9 -21.9 -10.5 -13z" fill="#76bfa4"/>
<path d="M1143.3 471l10.2 7.9 9.1 -26.1 -10.2 -8.4z" fill="#4f92bc"/>
<path d="M1179.9 439l10.4 10.8 9 -23.5 -10.5 -11.6z" fill="#69b2ac"/>
<path d="M1161.5 453.8l10.4 9.3 9.1 -24.9 -10.4 -10z" fill="#5aa2b9"/>
<path d="M1281.5 427.7l11 18.7 8.2 -12.6 -10.9 -19.7z" fill="#80d2c6"/>
<path d="M1263.2 425.3l10.9 17.3 8.5 -14.7 -10.9 -18.3z" fill="#82d2bb"/>
<path d="M1244.9 426.3l10.8 15.9 8.6 -16.9 -10.8 -16.8z" fill="#80ceb5"/>
<path d="M1310.1 452.3l11.2 20.4 8 -9.6 -11.1 -21.4z" fill="#6ec0ea"/>
<path d="M1226.5 430.8l10.8 14.4 8.7 -19 -10.7 -15.4z" fill="#7ac7b2"/>
<path d="M1116.1 516.5l10.1 5.8 9.4 -27 -10.1 -6.4z" fill="#426ec5"/>
<path d="M1208.1 438.4l10.7 13 8.8 -21 -10.6 -13.8z" fill="#71bdb4"/>
<path d="M1134.5 496.5l10.2 7.3 9.3 -26.4 -10.2 -7.9z" fill="#4882c4"/>
<path d="M1189.7 449.1l10.6 11.6 8.9 -22.8 -10.5 -12.3z" fill="#65b0bb"/>
<path d="M1291.8 445.3l11.2 19.1 8.2 -11.6 -11.1 -20.1z" fill="#73c7e0"/>
<path d="M1152.9 478.4l10.3 8.8 9.2 -25.5 -10.3 -9.4z" fill="#5093c3"/>
<path d="M1171.3 462.6l10.4 10.1 9.1 -24.3 -10.4 -10.8z" fill="#5aa2c2"/>
<path d="M1273.5 441.6l11.1 17.7 8.3 -13.7 -10.9 -18.7z" fill="#77c9d3"/>
<path d="M1255.1 441.2l11 16.3 8.5 -15.8 -10.9 -17.3z" fill="#77c7ca"/>
<path d="M1236.7 444.3l10.8 14.9 8.7 -18 -10.8 -15.9z" fill="#73c2c6"/>
<path d="M1302.3 463.2l11.2 19.3 8.2 -10.4 -11.2 -20.4z" fill="#6bbced"/>
<path d="M1218.2 450.6l10.7 13.5 8.9 -20.1 -10.8 -14.4z" fill="#6bb9c6"/>
<path d="M1125.6 522l10.2 6.7 9.4 -26.5 -10.2 -7.2z" fill="#426ec9"/>
<path d="M1199.7 460l10.6 12.1 9 -21.9 -10.7 -13z" fill="#61adc9"/>
<path d="M1144.1 503.3l10.3 8.2 9.3 -25.8 -10.3 -8.8z" fill="#4982c9"/>
<path d="M1181.1 472.1l10.6 10.8 9.1 -23.6 -10.6 -11.5z" fill="#59a1c9"/>
<path d="M1162.6 486.6l10.5 9.6 9.1 -24.9 -10.4 -10.1z" fill="#5093ca"/>
<path d="M1283.9 458.2l11.2 18 8.3 -12.6 -11.1 -19z" fill="#6ec0e5"/>
<path d="M1265.5 456.6l11 16.6 8.5 -14.8 -11 -17.7z" fill="#6ebfdf"/>
<path d="M1246.9 458.3l11 15.2 8.7 -16.9 -11 -16.3z" fill="#6bbbd9"/>
<path d="M1228.3 463.3l10.9 13.9 8.8 -19.1 -10.8 -14.9z" fill="#66b4d5"/>
<path d="M1209.7 471.4l10.8 12.6 9 -21.1 -10.8 -13.5z" fill="#5faad2"/>
<path d="M1135.2 528.3l10.4 7.6 9.4 -25.9 -10.4 -8.2z" fill="#436ccd"/>
<path d="M1191.1 482.3l10.7 11.3 9 -22.8 -10.6 -12.1z" fill="#579fd0"/>
<path d="M1153.8 511l10.5 9 9.3 -25.3 -10.5 -9.5z" fill="#4a81cf"/>
<path d="M1172.5 495.6l10.5 10.2 9.2 -24.3 -10.6 -10.8z" fill="#5091d0"/>
<path d="M1294.4 475.1l11.3 18 8.3 -11.3 -11.2 -19.2z" fill="#67b6ef"/>
<path d="M1275.9 472.2l11.2 16.7 8.4 -13.5 -11.1 -17.9z" fill="#68b7e9"/>
<path d="M1257.3 472.6l11.1 15.5 8.6 -15.8 -11.1 -16.6z" fill="#67b5e2"/>
<path d="M1238.6 476.4l11 14.1 8.8 -18 -11 -15.2z" fill="#63afdd"/>
<path d="M1219.9 483.2l10.9 13 8.9 -20.2 -10.9 -13.8z" fill="#5da6d9"/>
<path d="M1201.2 492.9l10.8 11.8 9 -22 -10.8 -12.5z" fill="#569cd7"/>
<path d="M1145 535.5l10.4 8.5 9.4 -25.5 -10.4 -9z" fill="#436ad1"/>
<path d="M1182.4 505.1l10.7 10.7 9.2 -23.5 -10.7 -11.4z" fill="#508ed5"/>
<path d="M1163.7 519.4l10.6 9.6 9.3 -24.6 -10.6 -10.2z" fill="#4a7fd4"/>
<path d="M1286.4 487.9l11.4 16.8 8.4 -12.3 -11.3 -18z" fill="#63aef1"/>
<path d="M1267.8 487.1l11.2 15.6 8.6 -14.6 -11.2 -16.7z" fill="#62aeeb"/>
<path d="M1249 489.7l11.1 14.3 8.8 -16.9 -11.1 -15.4z" fill="#5fa9e6"/>
<path d="M1230.2 495.4l11 13.1 8.9 -19.1 -11 -14.1z" fill="#5aa2e1"/>
<path d="M1211.4 504l10.9 12 9 -21 -10.9 -13z" fill="#5597dd"/>
<path d="M1192.5 515.2l10.8 11 9.2 -22.8 -10.8 -11.7z" fill="#508ada"/>
<path d="M1154.8 543.5l10.6 9.1 9.4 -25 -10.6 -9.6z" fill="#4367d6"/>
<path d="M1173.7 528.5l10.7 10 9.2 -24.1 -10.6 -10.6z" fill="#4a7bd8"/>
<path d="M1278.3 501.7l11.4 15.5 8.5 -13.3 -11.3 -16.7z" fill="#5fa4f1"/>
<path d="M1259.5 503.1l11.3 14.3 8.7 -15.6 -11.3 -15.5z" fill="#5da2ec"/>
<path d="M1240.6 507.7l11.2 13.2 8.8 -17.9 -11.1 -14.3z" fill="#599be6"/>
<path d="M1221.7 515.3l11 12.2 9 -20.1 -11 -13.1z" fill="#5491e2"/>
<path d="M1202.7 525.5l11 11.3 9.1 -22 -10.9 -12z" fill="#4f86de"/>
<path d="M1183.8 537.9l10.8 10.4 9.3 -23.4 -10.9 -11.1z" fill="#4975db"/>
<path d="M1164.8 552.1l10.7 9.6 9.4 -24.6 -10.7 -10z" fill="#4362d9"/>
<path d="M1270.1 516.6l11.4 14.1 8.7 -14.3 -11.4 -15.5z" fill="#5b99f1"/>
<path d="M1251.1 520.2l11.3 13.1 8.9 -16.8 -11.3 -14.3z" fill="#5794eb"/>
<path d="M1232.1 526.8l11.2 12.1 9 -19.1 -11.2 -13.1z" fill="#538be6"/>
<path d="M1213 536.1l11.1 11.3 9.1 -21.1 -11 -12.2z" fill="#4e7fe2"/>
<path d="M1194 547.7l10.9 10.6 9.3 -22.8 -11 -11.2z" fill="#486fde"/>
<path d="M1174.9 561.1l10.8 10 9.4 -24.1 -10.8 -10.4z" fill="#455cd9"/>
<path d="M1261.8 532.5l11.4 12.9 8.8 -15.5 -11.4 -14.2z" fill="#558bee"/>
<path d="M1242.6 538.2l11.4 12 8.9 -18 -11.3 -13.1z" fill="#5183e9"/>
<path d="M1223.5 546.8l11.2 11.2 9.1 -20.2 -11.2 -12.2z" fill="#4c76e4"/>
<path d="M1204.3 557.7l11.1 10.6 9.2 -22.1 -11 -11.3z" fill="#4768e0"/>
<path d="M1185.1 570.5l11 10.1 9.4 -23.6 -11 -10.6z" fill="#4754d8"/>
<path d="M1253.3 549.5l11.5 11.7 8.9 -16.8 -11.4 -12.9z" fill="#4f79ea"/>
<path d="M1234.1 557.3l11.3 11 9.1 -19.2 -11.3 -12z" fill="#4a6ee5"/>
<path d="M1214.8 567.7l11.2 10.4 9.2 -21.3 -11.2 -11.2z" fill="#485fdf"/>
<path d="M1195.5 580l11.1 10 9.3 -23 -11.1 -10.6z" fill="#484dd7"/>
<path d="M1244.8 567.7l11.4 10.6 9.1 -18.1 -11.5 -11.7z" fill="#4a65e4"/>
<path d="M1225.4 577.5l11.3 10.1 9.2 -20.4 -11.3 -11z" fill="#4956dc"/>
<path d="M1205.9 589.5l11.3 9.8 9.3 -22.5 -11.2 -10.4z" fill="#4a47d4"/>
<path d="M1236.1 587l11.5 9.6 9.1 -19.4 -11.4 -10.6z" fill="#494ed9"/>
<path d="M1216.5 598.7l11.4 9.4 9.3 -21.7 -11.3 -10.1z" fill="#4a41d0"/>
<path d="M1227.3 607.6l11.5 8.8 9.3 -20.9 -11.5 -9.7z" fill="#4a3ccc"/>
</g>
<path d="M921.6 505.9L1238.6 663.5M1238.6 663.5L1484.5 482.6M912.4 143.5L1240.0 217.6M1240.0 217.6L1493.2 132.3M1493.2 132.3L1187.3 86.0M1187.3 86.0L912.4 143.5M921.6 505.9L912.4 143.5M1238.6 663.5L1240.0 217.6M1484.5 482.6L1493.2 132.3" stroke="#666" stroke-width="1.0" fill="none"/>
<path d="M934.8 512.5L934.6 505.4M949.6 519.8L949.4 512.7M964.7 527.4L964.4 514.7M980.1 535.0L980.0 527.7M995.9 542.9L995.8 535.5M1012.1 550.9L1012.0 543.4M1028.6 559.1L1028.5 551.6M1045.6 567.5L1045.4 554.2M1062.9 576.2L1062.8 568.4M1080.6 585.0L1080.6 577.2M1098.8 594.0L1098.7 586.1M1117.5 603.3L1117.4 595.3M1136.5 612.8L1136.5 598.6M1156.1 622.5L1156.1 614.3M1176.2 632.5L1176.2 624.2M1196.8 642.7L1196.8 634.3M1218.0 653.2L1218.0 644.7M913.8 143.2L914.1 156.3M930.4 139.7L930.6 147.1M946.7 136.3L946.9 143.6M962.7 133.0L962.8 140.2M978.2 129.7L978.4 136.9M993.5 126.5L993.7 138.9M1008.3 123.4L1008.5 130.4M1022.9 120.4L1023.0 127.3M1037.2 117.4L1037.3 124.2M1051.1 114.5L1051.2 121.3M1064.8 111.6L1064.9 123.4M1078.2 108.8L1078.2 115.5M1091.3 106.1L1091.3 112.7M1104.1 103.4L1104.2 109.9M1116.7 100.8L1116.7 107.2M1129.0 98.2L1129.1 109.3M1141.1 95.7L1141.1 102.0M1153.0 93.2L1153.0 99.4M1164.6 90.7L1164.6 97.0M1176.0 88.4L1176.0 94.5M1187.2 86.0L1187.2 96.7" stroke="#888" stroke-width="1.1" fill="none"/>
<text x="962.5" y="565" font-size="21" font-weight="bold" font-family="'Liberation Sans',Arial,sans-serif" text-anchor="middle">41</text>
<text x="1044.5" y="606" font-size="21" font-weight="bold" font-family="'Liberation Sans',Arial,sans-serif" text-anchor="middle">42</text>
<text x="1136.2" y="650" font-size="21" font-weight="bold" font-family="'Liberation Sans',Arial,sans-serif" text-anchor="middle">43</text>
<text x="1237.6" y="701" font-size="21" font-weight="bold" font-family="'Liberation Sans',Arial,sans-serif" text-anchor="middle">44</text>
<text x="912.9" y="123" font-size="21" font-weight="bold" font-family="'Liberation Sans',Arial,sans-serif" text-anchor="middle">26</text>
<text x="992" y="106" font-size="21" font-weight="bold" font-family="'Liberation Sans',Arial,sans-serif" text-anchor="middle">27</text>
<text x="1064.3" y="91" font-size="21" font-weight="bold" font-family="'Liberation Sans',Arial,sans-serif" text-anchor="middle">28</text>
<text x="1128.1" y="77" font-size="21" font-weight="bold" font-family="'Liberation Sans',Arial,sans-serif" text-anchor="middle">29</text>
<text x="1186.1" y="64" font-size="21" font-weight="bold" font-family="'Liberation Sans',Arial,sans-serif" text-anchor="middle">30</text>
<text x="1021.3" y="24.1" font-size="29" font-family="'Liberation Sans',Arial,sans-serif" textLength="82.7" lengthAdjust="spacingAndGlyphs">Y(<tspan font-style="italic">μ</tspan>m)</text>
<text x="1019.2" y="684.4" font-size="29" font-family="'Liberation Sans',Arial,sans-serif" textLength="89.8" lengthAdjust="spacingAndGlyphs">X (<tspan font-style="italic">μ</tspan>m)</text>
<g transform="translate(908,539.2) rotate(-90)" font-size="26.5" font-family="'Liberation Sans',Arial,sans-serif">
<text x="0" y="0" font-weight="bold" textLength="259.6" lengthAdjust="spacingAndGlyphs">Deconvolution value</text>
<text transform="translate(262.80,-2.48) scale(1.431,1)" font-size="20.97" font-family="'Liberation Sans','Noto Sans CJK SC',sans-serif" font-weight="300">（</text>
<text x="296.3" y="0" font-weight="bold" textLength="52.0" lengthAdjust="spacingAndGlyphs">A.U.</text>
<text transform="translate(351.69,-2.48) scale(1.534,1)" font-size="20.97" font-family="'Liberation Sans','Noto Sans CJK SC',sans-serif" font-weight="300">）</text>
</g>
<linearGradient id="cgb" x1="0" y1="0" x2="0" y2="1"><stop offset="0.00" stop-color="#dc2323"/><stop offset="0.06" stop-color="#e43c2d"/><stop offset="0.12" stop-color="#e85f32"/><stop offset="0.16" stop-color="#e87834"/><stop offset="0.20" stop-color="#e49137"/><stop offset="0.26" stop-color="#dca53c"/><stop offset="0.31" stop-color="#d2b23e"/><stop offset="0.36" stop-color="#b9b94b"/><stop offset="0.42" stop-color="#a0bc5a"/><stop offset="0.47" stop-color="#87b96e"/><stop offset="0.53" stop-color="#73b47d"/><stop offset="0.58" stop-color="#64a896"/><stop offset="0.63" stop-color="#559bb4"/><stop offset="0.69" stop-color="#4b8cc3"/><stop offset="0.75" stop-color="#4678cd"/><stop offset="0.80" stop-color="#405fd2"/><stop offset="0.84" stop-color="#4446cd"/><stop offset="0.89" stop-color="#4b30c3"/><stop offset="0.94" stop-color="#5a23b2"/><stop offset="1.00" stop-color="#731c8c"/></linearGradient>
<rect x="1501.4" y="131.4" width="22.5" height="345.4" fill="url(#cgb)" stroke="#aaa" stroke-width="0.6"/>
<path d="M1523.9 476.8h6M1523.9 463.0h4M1523.9 449.2h4M1523.9 435.4h4M1523.9 421.5h4M1523.9 407.7h6M1523.9 393.9h4M1523.9 380.1h4M1523.9 366.3h4M1523.9 352.5h4M1523.9 338.6h6M1523.9 324.8h4M1523.9 311.0h4M1523.9 297.2h4M1523.9 283.4h4M1523.9 269.6h6M1523.9 255.7h4M1523.9 241.9h4M1523.9 228.1h4M1523.9 214.3h4M1523.9 200.5h6M1523.9 186.7h4M1523.9 172.8h4M1523.9 159.0h4M1523.9 145.2h4M1523.9 131.4h6" stroke="#c8c8c8" stroke-width="1"/>
<path d="M1502.2 131.4V476.8" stroke="#000" stroke-opacity="0.35" stroke-width="1.5"/>
<text x="1536" y="142" font-size="29.5" font-weight="bold" font-family="'Liberation Sans',Arial,sans-serif" textLength="94.5" lengthAdjust="spacingAndGlyphs">15 000</text>
<text x="1536" y="210.8" font-size="29.5" font-weight="bold" font-family="'Liberation Sans',Arial,sans-serif" textLength="94.5" lengthAdjust="spacingAndGlyphs">12 500</text>
<text x="1536" y="280.3" font-size="29.5" font-weight="bold" font-family="'Liberation Sans',Arial,sans-serif" textLength="94.5" lengthAdjust="spacingAndGlyphs">10 000</text>
<text x="1536" y="348.1" font-size="29.5" font-weight="bold" font-family="'Liberation Sans',Arial,sans-serif" textLength="71.5" lengthAdjust="spacingAndGlyphs">7500</text>
<text x="1536" y="417.7" font-size="29.5" font-weight="bold" font-family="'Liberation Sans',Arial,sans-serif" textLength="71.5" lengthAdjust="spacingAndGlyphs">5000</text>
<text x="1536" y="486.3" font-size="29.5" font-weight="bold" font-family="'Liberation Sans',Arial,sans-serif" textLength="71.5" lengthAdjust="spacingAndGlyphs">2500</text>
<text x="1118.8" y="745.2" font-size="38" text-anchor="middle" font-family="'Liberation Serif','Times New Roman',serif">(b)</text>
<path d="M1503.1 1248.6L1198.0 1154.7M1198.0 1154.7L933.5 1279.4M1198.0 1154.7L1197.4 849.3" stroke="#666" stroke-width="1.0" fill="none"/>
<g filter="url(#sm)">
<path d="M1191.5 1133.1l7.7 -4.4 6.4 3.9 -7.7 3.7z" fill="#5428b9"/>
<path d="M1198.8 1128.9l7.7 -4.3 6.4 4.6 -7.8 3.7z" fill="#4e2ec0"/>
<path d="M1185.5 1129.9l7.7 -5 6.4 4 -7.7 4.4z" fill="#4e2ec0"/>
<path d="M1206.1 1124.8l7.8 -4.3 6.3 5.3 -7.8 3.6z" fill="#4a34c5"/>
<path d="M1192.7 1125.2l7.8 -5 6.4 4.6 -7.8 4.3z" fill="#4936c6"/>
<path d="M1179.3 1126.8l7.7 -5.7 6.5 4 -7.7 5z" fill="#4935c5"/>
<path d="M1213.5 1120.8l7.8 -4.2 6.3 5.9 -7.8 3.5z" fill="#473dc9"/>
<path d="M1200 1120.4l7.9 -4.9 6.4 5.3 -7.9 4.3z" fill="#463fca"/>
<path d="M1186.6 1121.4l7.8 -5.7 6.4 4.7 -7.7 5z" fill="#463fca"/>
<path d="M1173.1 1123.7l7.7 -6.3 6.6 3.9 -7.7 5.7z" fill="#473ec9"/>
<path d="M1220.9 1116.8l8 -3.9 6.2 6.5 -7.9 3.3z" fill="#4445cc"/>
<path d="M1207.4 1115.7l7.9 -4.8 6.4 6.1 -7.9 4.1z" fill="#4449ce"/>
<path d="M1193.9 1116l7.9 -5.6 6.4 5.4 -7.8 4.9z" fill="#434bce"/>
<path d="M1180.4 1117.7l7.8 -6.3 6.5 4.6 -7.7 5.7z" fill="#434ace"/>
<path d="M1228.4 1113.1l8 -3.8 6.3 7.1 -8 3.2z" fill="#434fcf"/>
<path d="M1166.9 1120.6l7.7 -6.8 6.6 3.8 -7.7 6.3z" fill="#4446cd"/>
<path d="M1214.9 1111.2l8 -4.7 6.3 6.7 -7.9 4z" fill="#4255d0"/>
<path d="M1201.3 1110.7l7.9 -5.5 6.5 6.1 -7.9 4.8z" fill="#4159d1"/>
<path d="M1187.7 1111.7l7.9 -6.3 6.5 5.3 -7.8 5.6z" fill="#415ad1"/>
<path d="M1236 1109.5l8.1 -3.5 6.2 7.6 -8.1 3z" fill="#415ad1"/>
<path d="M1174.1 1114.2l7.8 -7 6.7 4.4 -7.8 6.4z" fill="#4157d0"/>
<path d="M1160.5 1117.8l7.7 -7.4 6.8 3.6 -7.8 6.8z" fill="#4252cf"/>
<path d="M1222.4 1106.8l8.1 -4.5 6.3 7.4 -8 3.8z" fill="#4061d2"/>
<path d="M1208.8 1105.5l8 -5.5 6.4 6.9 -8 4.6z" fill="#4165d1"/>
<path d="M1195.2 1105.7l7.9 -6.3 6.5 6.1 -7.9 5.5z" fill="#4267d0"/>
<path d="M1243.6 1106.1l8.2 -3.2 6.2 8.2 -8.1 2.7z" fill="#4163d1"/>
<path d="M1181.5 1107.5l7.9 -7.1 6.6 5.3 -7.9 6.3z" fill="#4266d1"/>
<path d="M1230 1102.5l8.1 -4.2 6.3 8.1 -8.1 3.5z" fill="#436ad0"/>
<path d="M1167.8 1110.8l7.8 -7.7 6.7 4.3 -7.8 7z" fill="#4163d1"/>
<path d="M1154.1 1115.1l7.7 -8 6.8 3.5 -7.7 7.4z" fill="#405ed2"/>
<path d="M1216.3 1100.3l8.1 -5.2 6.4 7.6 -8 4.5z" fill="#4470cf"/>
<path d="M1202.6 1099.7l8.1 -6.2 6.5 6.9 -8 5.4z" fill="#4573ce"/>
<path d="M1251.3 1103l8.3 -3 6.2 8.9 -8.2 2.4z" fill="#436ad0"/>
<path d="M1188.9 1100.8l8 -7.1 6.6 6 -8 6.3z" fill="#4574ce"/>
<path d="M1237.7 1098.5l8.2 -4 6.3 8.8 -8.2 3.3z" fill="#4573ce"/>
<path d="M1175.2 1103.5l7.9 -7.9 6.6 5.1 -7.8 7.1z" fill="#4472ce"/>
<path d="M1161.4 1107.6l7.8 -8.4 6.8 4.1 -7.8 7.7z" fill="#436dcf"/>
<path d="M1223.9 1095.4l8.2 -5.1 6.4 8.4 -8.1 4.3z" fill="#467acc"/>
<path d="M1147.6 1112.8l7.8 -8.7 6.8 3.2 -7.7 8z" fill="#4267d0"/>
<path d="M1210.2 1093.8l8.1 -6.1 6.5 7.8 -8.1 5.2z" fill="#477dcb"/>
<path d="M1259.1 1100.2l8.4 -2.6 6.1 9.5 -8.3 1.9z" fill="#4471ce"/>
<path d="M1196.4 1094l8 -7.1 6.6 7 -8 6.2z" fill="#477eca"/>
<path d="M1245.4 1094.7l8.3 -3.6 6.3 9.4 -8.3 3z" fill="#477acc"/>
<path d="M1182.6 1096l8 -8 6.6 6 -7.9 7.1z" fill="#477dca"/>
<path d="M1231.6 1090.6l8.3 -4.7 6.3 9.1 -8.2 4z" fill="#4880c9"/>
<path d="M1168.8 1099.6l7.9 -8.6 6.7 4.9 -7.8 7.9z" fill="#477bcb"/>
<path d="M1154.9 1104.6l7.8 -9.1 6.9 3.9 -7.8 8.4z" fill="#4677cd"/>
<path d="M1217.8 1088.1l8.2 -5.9 6.5 8.6 -8.2 5z" fill="#4984c7"/>
<path d="M1267 1097.7l8.4 -2.2 6.2 10.1 -8.4 1.6z" fill="#4678cd"/>
<path d="M1141 1110.7l7.8 -9.3 6.9 2.9 -7.7 8.6z" fill="#446fcf"/>
<path d="M1204 1087.3l8.1 -6.9 6.6 7.8 -8.1 6z" fill="#4a87c6"/>
<path d="M1253.2 1091.3l8.4 -3.3 6.2 10.1 -8.3 2.6z" fill="#4880c9"/>
<path d="M1190.1 1088.5l8.1 -8 6.6 6.8 -8 7.1z" fill="#4a87c5"/>
<path d="M1239.4 1086.1l8.3 -4.4 6.3 9.9 -8.2 3.7z" fill="#4a86c6"/>
<path d="M1176.2 1091.4l8 -8.8 6.7 5.7 -7.9 8z" fill="#4986c6"/>
<path d="M1162.3 1096l7.9 -9.5 6.9 4.7 -7.9 8.7z" fill="#4982c8"/>
<path d="M1225.5 1082.5l8.3 -5.6 6.4 9.5 -8.2 4.7z" fill="#4b8cc3"/>
<path d="M1274.9 1095.6l8.5 -1.8 6.1 10.8 -8.4 1.1z" fill="#477ccb"/>
<path d="M1148.4 1102l7.8 -9.9 6.9 3.6 -7.8 9.1z" fill="#477dca"/>
<path d="M1211.6 1080.7l8.2 -6.7 6.6 8.7 -8.2 5.8z" fill="#4d8ec1"/>
<path d="M1134.4 1109.1l7.8 -10 7 2.5 -7.8 9.3z" fill="#4677cd"/>
<path d="M1261.1 1088.1l8.4 -2.9 6.3 10.8 -8.5 2.3z" fill="#4985c7"/>
<path d="M1197.7 1080.9l8.1 -7.9 6.7 7.8 -8.1 6.9z" fill="#4d8fc0"/>
<path d="M1247.2 1081.9l8.4 -4 6.3 10.6 -8.3 3.3z" fill="#4b8cc3"/>
<path d="M1183.7 1083.1l8.1 -8.9 6.7 6.6 -8 8z" fill="#4d8fc0"/>
<path d="M1233.3 1077.2l8.3 -5.2 6.4 10.3 -8.3 4.4z" fill="#4e91be"/>
<path d="M1282.9 1093.9l8.6 -1.2 6.1 11.5 -8.5 0.5z" fill="#487fca"/>
<path d="M1169.8 1087.1l7.9 -9.7 6.9 5.5 -8 8.8z" fill="#4c8dc2"/>
<path d="M1155.7 1092.7l8 -10.3 6.9 4.4 -7.9 9.4z" fill="#4a89c5"/>
<path d="M1219.3 1074.3l8.3 -6.4 6.5 9.6 -8.2 5.5z" fill="#5194bb"/>
<path d="M1269 1085.4l8.6 -2.4 6.2 11.4 -8.5 1.8z" fill="#4a89c4"/>
<path d="M1141.7 1099.7l7.9 -10.6 7 3.2 -7.9 9.8z" fill="#4983c7"/>
<path d="M1205.4 1073.5l8.1 -7.7 6.7 8.6 -8.2 6.8z" fill="#5296b9"/>
<path d="M1127.7 1107.9l7.8 -10.7 7.1 2 -7.8 10z" fill="#477ccb"/>
<path d="M1255.1 1078.1l8.5 -3.6 6.3 11.3 -8.5 2.9z" fill="#4e90bf"/>
<path d="M1191.3 1074.7l8.2 -8.8 6.7 7.5 -8.1 7.9z" fill="#5297b8"/>
<path d="M1291 1092.8l8.6 -0.5 6.1 12 -8.6 -0.1z" fill="#4882c8"/>
<path d="M1241.1 1072.3l8.4 -4.8 6.5 11 -8.4 4z" fill="#5296b9"/>
<path d="M1177.3 1077.9l8 -9.8 6.9 6.4 -8.1 8.9z" fill="#5195ba"/>
<path d="M1163.2 1083l8 -10.5 6.9 5.2 -8 9.6z" fill="#4f93bc"/>
<path d="M1227.1 1068.2l8.4 -6 6.5 10.4 -8.3 5.2z" fill="#549ab5"/>
<path d="M1277.1 1083.1l8.6 -1.8 6.1 12.1 -8.5 1.1z" fill="#4b8dc2"/>
<path d="M1149.1 1089.7l7.9 -11.1 7.1 4 -8 10.3z" fill="#4d8fc0"/>
<path d="M1213.1 1066.2l8.3 -7.3 6.6 9.5 -8.3 6.4z" fill="#579daf"/>
<path d="M1135 1097.8l7.9 -11.4 7.1 2.8 -7.9 10.6z" fill="#4a88c5"/>
<path d="M1263.1 1074.7l8.5 -3 6.3 11.9 -8.5 2.4z" fill="#5094bb"/>
<path d="M1120.9 1107.3l7.8 -11.6 7.2 1.5 -7.8 10.8z" fill="#4880c9"/>
<path d="M1199 1066.3l8.2 -8.5 6.7 8.5 -8.2 7.6z" fill="#599eac"/>
<path d="M1299.2 1092.3l8.7 0.4 6 12.3 -8.7 -0.7z" fill="#4984c7"/>
<path d="M1249.1 1067.7l8.4 -4.2 6.4 11.7 -8.4 3.5z" fill="#559bb4"/>
<path d="M1184.9 1068.7l8.1 -9.7 6.8 7.3 -8.1 8.8z" fill="#589eae"/>
<path d="M1285.2 1081.4l8.6 -0.9 6.2 12.5 -8.6 0.5z" fill="#4d8fc0"/>
<path d="M1235 1062.5l8.4 -5.6 6.5 11.2 -8.4 4.8z" fill="#5ba0a9"/>
<path d="M1170.8 1073.1l8 -10.7 6.9 6.1 -8 9.7z" fill="#569cb3"/>
<path d="M1156.6 1079.2l8 -11.3 7 4.8 -8 10.5z" fill="#5398b7"/>
<path d="M1220.9 1059.2l8.3 -6.9 6.6 10.5 -8.3 6z" fill="#5fa4a0"/>
<path d="M1271.1 1071.8l8.7 -2.3 6.2 12.5 -8.6 1.8z" fill="#5397b8"/>
<path d="M1142.4 1087l8 -11.7 7 3.5 -7.9 11.1z" fill="#5093bc"/>
<path d="M1307.4 1092.7l8.8 1.3 6 12.5 -8.8 -1.5z" fill="#4985c7"/>
<path d="M1206.7 1058.2l8.3 -8.2 6.7 9.4 -8.2 7.3z" fill="#62a69b"/>
<path d="M1128.2 1096.3l7.9 -12.1 7.2 2.3 -7.9 11.4z" fill="#4c8dc2"/>
<path d="M1257.1 1063.7l8.5 -3.7 6.4 12.3 -8.5 3.1z" fill="#599fab"/>
<path d="M1114 1107.1l7.8 -12.3 7.3 0.9 -7.8 11.6z" fill="#4984c7"/>
<path d="M1192.6 1059.5l8.2 -9.5 6.8 8.2 -8.2 8.6z" fill="#62a69a"/>
<path d="M1293.4 1080.5l8.7 0 6.1 12.9 -8.7 -0.4z" fill="#4e91be"/>
<path d="M1242.9 1057.2l8.5 -5 6.5 11.9 -8.5 4.3z" fill="#61a59d"/>
<path d="M1178.4 1063l8.1 -10.6 6.9 7 -8.1 9.6z" fill="#60a59d"/>
<path d="M1164.1 1068.6l8.1 -11.5 7 5.6 -8.1 10.7z" fill="#5da2a5"/>
<path d="M1279.3 1069.6l8.7 -1.5 6.2 13.1 -8.7 0.9z" fill="#549ab5"/>
<path d="M1228.8 1052.7l8.4 -6.4 6.6 11.3 -8.4 5.5z" fill="#66aa92"/>
<path d="M1149.9 1075.9l8 -12 7.1 4.3 -8 11.3z" fill="#579daf"/>
<path d="M1315.7 1093.9l8.8 2.4 6 12.3 -8.8 -2.2z" fill="#4985c6"/>
<path d="M1214.6 1050.4l8.3 -7.8 6.7 10.3 -8.3 6.9z" fill="#6aad8c"/>
<path d="M1135.6 1084.9l8 -12.5 7.2 3 -8 11.8z" fill="#5297b8"/>
<path d="M1265.1 1060.2l8.7 -2.9 6.3 12.9 -8.6 2.3z" fill="#5ea3a2"/>
<path d="M1121.4 1095.5l7.8 -12.8 7.3 1.6 -7.9 12.1z" fill="#4e90bf"/>
<path d="M1200.3 1050.5l8.3 -9.1 6.8 9.1 -8.3 8.2z" fill="#6bae8a"/>
<path d="M1301.6 1080.4l8.8 1.1 6.1 13.3 -8.8 -1.4z" fill="#4f92bd"/>
<path d="M1107.1 1107.4l7.8 -12.9 7.3 0.3 -7.8 12.3z" fill="#4a87c6"/>
<path d="M1251 1052.5l8.5 -4.3 6.5 12.5 -8.6 3.7z" fill="#66aa92"/>
<path d="M1186.1 1053l8.2 -10.4 6.9 7.8 -8.2 9.5z" fill="#6bad8b"/>
<path d="M1287.5 1068.1l8.7 -0.4 6.2 13.5 -8.7 0z" fill="#569cb1"/>
<path d="M1236.7 1046.7l8.6 -5.7 6.5 11.9 -8.5 5z" fill="#6daf87"/>
<path d="M1171.8 1057.8l8.1 -11.4 7 6.4 -8.1 10.6z" fill="#68ab8f"/>
<path d="M1324 1096.1l9 3.2 6 12.1 -9 -2.9z" fill="#4985c7"/>
<path d="M1157.5 1064.5l8.1 -12.2 7 5.1 -8.1 11.4z" fill="#63a797"/>
<path d="M1222.5 1043l8.4 -7.1 6.7 11.1 -8.5 6.3z" fill="#72b37f"/>
<path d="M1273.3 1057.4l8.7 -2 6.3 13.4 -8.7 1.5z" fill="#62a69b"/>
<path d="M1143.1 1073.1l8.1 -12.8 7.1 3.8 -8 12z" fill="#5da2a4"/>
<path d="M1309.9 1081.4l8.9 2.2 6.1 13.4 -8.9 -2.3z" fill="#4f92bd"/>
<path d="M1128.8 1083.4l7.9 -13.2 7.3 2.3 -8 12.5z" fill="#559bb4"/>
<path d="M1208.2 1041.9l8.4 -8.7 6.7 10 -8.3 7.8z" fill="#75b47c"/>
<path d="M1259.1 1048.4l8.6 -3.5 6.4 13.1 -8.6 2.9z" fill="#6bae8a"/>
<path d="M1114.4 1095.3l7.9 -13.4 7.3 0.8 -7.8 12.8z" fill="#5093bc"/>
<path d="M1193.8 1043.2l8.4 -10 6.8 8.7 -8.3 9.1z" fill="#75b57b"/>
<path d="M1100 1108.3l7.8 -13.3 7.5 -0.5 -7.8 12.9z" fill="#4a89c4"/>
<path d="M1295.8 1067.6l8.8 0.7 6.2 14 -8.8 -1.1z" fill="#589eae"/>
<path d="M1244.8 1041.3l8.6 -5 6.5 12.6 -8.6 4.3z" fill="#73b47d"/>
<path d="M1332.5 1099.1l9 4.1 5.9 11.8 -9 -3.8z" fill="#4984c7"/>
<path d="M1179.5 1047l8.2 -11.2 7 7.2 -8.2 10.4z" fill="#73b47d"/>
<path d="M1165.1 1053l8.2 -12.1 7 5.8 -8.1 11.4z" fill="#6fb183"/>
<path d="M1281.5 1055.5l8.8 -1 6.3 13.9 -8.8 0.5z" fill="#64a895"/>
<path d="M1230.5 1036.2l8.5 -6.4 6.6 11.8 -8.5 5.7z" fill="#7ab678"/>
<path d="M1318.3 1083.4l9 3.3 6 13.4 -8.9 -3.3z" fill="#4f92bd"/>
<path d="M1150.7 1061l8.1 -12.8 7.2 4.4 -8.1 12.2z" fill="#69ac8d"/>
<path d="M1216.1 1033.7l8.5 -8 6.7 10.8 -8.4 7.1z" fill="#7fb774"/>
<path d="M1136.3 1070.9l8 -13.4 7.3 3 -8.1 12.8z" fill="#62a69b"/>
<path d="M1267.2 1045.1l8.8 -2.6 6.4 13.6 -8.7 2.1z" fill="#6fb183"/>
<path d="M1121.8 1082.6l8 -13.8 7.3 1.5 -7.9 13.2z" fill="#589ead"/>
<path d="M1304.1 1068.3l8.9 1.8 6.2 14.3 -8.9 -2.2z" fill="#599ead"/>
<path d="M1201.7 1033.7l8.4 -9.4 6.9 9.5 -8.4 8.6z" fill="#81b872"/>
<path d="M1107.4 1095.8l7.9 -13.8 7.4 -0.1 -7.9 13.4z" fill="#5195ba"/>
<path d="M1341 1102.9l9.1 4.8 5.9 11.4 -9.1 -4.4z" fill="#4882c8"/>
<path d="M1252.9 1036.6l8.7 -4.1 6.5 13.1 -8.7 3.5z" fill="#79b678"/>
<path d="M1092.9 1109.6l7.8 -13.2 7.6 -1.4 -7.8 13.2z" fill="#4b8bc4"/>
<path d="M1187.3 1036.4l8.3 -10.8 7 8 -8.4 10z" fill="#80b773"/>
<path d="M1289.8 1054.5l8.9 0.2 6.3 14.4 -8.9 -0.7z" fill="#66aa92"/>
<path d="M1238.5 1030.2l8.6 -5.6 6.7 12.4 -8.6 4.9z" fill="#82b872"/>
<path d="M1172.8 1041.5l8.3 -11.9 7 6.6 -8.2 11.2z" fill="#7db676"/>
<path d="M1326.8 1086.4l9.1 4.2 6 13.3 -9.1 -4.1z" fill="#4e91be"/>
<path d="M1158.3 1048.9l8.2 -12.8 7.2 5.1 -8.2 12.1z" fill="#76b57b"/>
<path d="M1275.5 1042.6l8.8 -1.5 6.4 14.2 -8.8 0.9z" fill="#72b47e"/>
<path d="M1224.1 1026.1l8.6 -7.1 6.7 11.5 -8.6 6.4z" fill="#89b96d"/>
<path d="M1143.9 1058.3l8.1 -13.5 7.2 3.6 -8.1 12.9z" fill="#6fb184"/>
<path d="M1312.5 1070l9 3 6.1 14.4 -8.9 -3.2z" fill="#589ead"/>
<path d="M1129.3 1069.6l8.1 -14 7.3 2.1 -8 13.4z" fill="#66aa93"/>
<path d="M1349.6 1107.5l9.2 5.4 5.8 11.1 -9.1 -5.1z" fill="#4880c9"/>
<path d="M1209.6 1024.7l8.5 -8.7 6.9 10.3 -8.5 7.9z" fill="#8dba69"/>
<path d="M1261.1 1032.7l8.8 -3.2 6.4 13.8 -8.7 2.5z" fill="#7fb774"/>
<path d="M1114.8 1082.7l8 -14.3 7.4 0.5 -7.9 13.8z" fill="#5ba1a7"/>
<path d="M1100.3 1097.1l7.9 -14 7.5 -1.2 -7.9 13.8z" fill="#5296b9"/>
<path d="M1195.1 1026.2l8.5 -10.3 6.9 8.9 -8.4 9.4z" fill="#8eba68"/>
<path d="M1298.2 1054.6l9 1.5 6.2 14.9 -8.9 -1.9z" fill="#67ab91"/>
<path d="M1085.8 1111.6l7.8 -13.1 7.6 -2.2 -7.8 13.2z" fill="#4b8cc3"/>
<path d="M1335.3 1090.3l9.2 5 5.9 13.1 -9.1 -4.8z" fill="#4d8fc0"/>
<path d="M1246.7 1024.8l8.7 -4.6 6.6 13 -8.7 4.1z" fill="#8ab96c"/>
<path d="M1180.6 1030.3l8.4 -11.6 7 7.3 -8.3 10.8z" fill="#8bb96b"/>
<path d="M1283.8 1041.1l8.9 -0.3 6.4 14.7 -8.9 -0.2z" fill="#75b57b"/>
<path d="M1166.1 1036.8l8.3 -12.6 7.1 5.7 -8.3 12z" fill="#85b96f"/>
<path d="M1232.2 1019.3l8.6 -6.2 6.7 12.1 -8.6 5.6z" fill="#94bb64"/>
<path d="M1321 1072.8l9.1 4 6.1 14.6 -9.1 -4.2z" fill="#579db0"/>
<path d="M1151.5 1045.5l8.2 -13.5 7.2 4.3 -8.2 12.8z" fill="#7db775"/>
<path d="M1358.3 1112.6l9.2 6.2 5.9 10.7 -9.3 -5.9z" fill="#477dcb"/>
<path d="M1217.6 1016.4l8.6 -7.9 6.8 11.1 -8.5 7.1z" fill="#9abb5f"/>
<path d="M1136.9 1056.4l8.2 -14.2 7.3 2.7 -8.1 13.5z" fill="#73b47d"/>
<path d="M1269.4 1029.7l8.8 -2.1 6.5 14.3 -8.8 1.5z" fill="#83b871"/>
<path d="M1122.3 1069.2l8.1 -14.6 7.4 1 -8 14.1z" fill="#69ac8d"/>
<path d="M1306.7 1056l9 2.6 6.2 15.2 -9 -3z" fill="#67ab91"/>
<path d="M1203.1 1016.4l8.5 -9.5 6.9 9.6 -8.5 8.8z" fill="#9dbc5d"/>
<path d="M1344 1095l9.2 5.8 5.9 12.8 -9.2 -5.5z" fill="#4c8dc2"/>
<path d="M1107.7 1083.9l8 -14.7 7.5 -0.8 -7.9 14.3z" fill="#5da2a3"/>
<path d="M1254.9 1020.4l8.8 -3.7 6.5 13.6 -8.7 3.1z" fill="#91ba66"/>
<path d="M1093.1 1099.3l7.9 -14.1 7.6 -2.2 -7.9 14z" fill="#5297b8"/>
<path d="M1188.5 1019.3l8.4 -11 7.1 8.1 -8.5 10.2z" fill="#9cbb5e"/>
<path d="M1078.5 1114.3l7.8 -12.8 7.7 -3.1 -7.8 13z" fill="#4b8cc3"/>
<path d="M1292.2 1040.7l9 0.9 6.3 15.3 -8.9 -1.4z" fill="#77b57a"/>
<path d="M1329.6 1076.6l9.2 5 6 14.5 -9.1 -5z" fill="#559bb3"/>
<path d="M1240.3 1013.4l8.8 -5.3 6.7 12.8 -8.8 4.7z" fill="#9dbc5c"/>
<path d="M1173.9 1024.8l8.3 -12.2 7.2 6.5 -8.4 11.5z" fill="#97bb62"/>
<path d="M1367 1118.4l9.3 6.9 5.8 10.4 -9.3 -6.6z" fill="#4679cd"/>
<path d="M1159.2 1032.8l8.3 -13.3 7.3 4.9 -8.3 12.7z" fill="#8eba68"/>
<path d="M1277.7 1027.7l9 -1 6.4 14.9 -8.9 0.3z" fill="#87b96e"/>
<path d="M1225.7 1008.9l8.7 -6.9 6.8 11.7 -8.6 6.3z" fill="#a5bb57"/>
<path d="M1144.6 1043l8.2 -14.1 7.3 3.3 -8.2 13.5z" fill="#84b871"/>
<path d="M1315.2 1058.4l9.1 3.8 6.2 15.5 -9.1 -4.1z" fill="#66aa92"/>
<path d="M1352.6 1100.4l9.3 6.5 5.9 12.5 -9.2 -6.1z" fill="#4b8ac4"/>
<path d="M1129.9 1055.5l8.2 -14.8 7.4 1.6 -8.2 14.2z" fill="#78b579"/>
<path d="M1211.1 1007.4l8.6 -8.7 6.9 10.4 -8.6 7.9z" fill="#aabb54"/>
<path d="M1263.2 1016.8l8.9 -2.6 6.5 14.2 -8.9 2.1z" fill="#97bb61"/>
<path d="M1115.3 1070l8 -15.1 7.5 -0.3 -8 14.7z" fill="#6cae89"/>
<path d="M1100.6 1086l7.9 -15 7.6 -1.9 -7.9 14.7z" fill="#5fa3a1"/>
<path d="M1300.7 1041.5l9.1 2.2 6.3 15.7 -9.1 -2.6z" fill="#77b57a"/>
<path d="M1196.5 1008.9l8.5 -10.3 7 8.8 -8.5 9.5z" fill="#abbb53"/>
<path d="M1085.9 1102.3l7.9 -14.1 7.7 -3.2 -7.9 14.2z" fill="#5397b8"/>
<path d="M1338.3 1081.3l9.2 5.9 6 14.3 -9.2 -5.7z" fill="#5499b6"/>
<path d="M1375.8 1124.9l9.4 7.6 5.8 10.2 -9.4 -7.4z" fill="#4573ce"/>
<path d="M1071.2 1117.9l7.8 -12.6 7.8 -4 -7.9 12.8z" fill="#4b8cc3"/>
<path d="M1248.6 1008.3l8.8 -4.3 6.7 13.4 -8.8 3.7z" fill="#a5bb57"/>
<path d="M1181.8 1013.3l8.4 -11.8 7.1 7.2 -8.4 11z" fill="#a8bb55"/>
<path d="M1286.2 1026.7l9 0.3 6.4 15.5 -9 -0.9z" fill="#89b96c"/>
<path d="M1167.1 1020.2l8.3 -12.9 7.3 5.6 -8.4 12.3z" fill="#a1bc59"/>
<path d="M1233.9 1002.3l8.8 -5.9 6.8 12.4 -8.8 5.3z" fill="#b0ba51"/>
<path d="M1323.8 1061.9l9.2 4.9 6.1 15.6 -9.2 -5z" fill="#64a895"/>
<path d="M1361.4 1106.5l9.4 7.2 5.9 12.2 -9.4 -6.8z" fill="#4a86c6"/>
<path d="M1152.3 1029.7l8.3 -14 7.3 4 -8.2 13.3z" fill="#97bb61"/>
<path d="M1219.2 999.2l8.7 -7.7 6.9 11.1 -8.7 7z" fill="#b7b94c"/>
<path d="M1137.6 1041.5l8.2 -14.8 7.4 2.3 -8.2 14.1z" fill="#89b96c"/>
<path d="M1271.6 1014.3l8.9 -1.6 6.5 14.8 -8.9 1z" fill="#9cbc5d"/>
<path d="M1122.8 1055.7l8.2 -15.4 7.5 0.4 -8.2 14.8z" fill="#7bb677"/>
<path d="M1309.3 1043.5l9.1 3.4 6.3 16.2 -9.2 -3.8z" fill="#76b57b"/>
<path d="M1347 1086.8l9.3 6.8 6 14.1 -9.3 -6.5z" fill="#5296b9"/>
<path d="M1384.7 1132l9.5 8.5 5.7 10 -9.4 -8.3z" fill="#436bd0"/>
<path d="M1108.1 1071.9l8 -15.6 7.6 -1.5 -8 15.1z" fill="#6daf87"/>
<path d="M1204.5 999.1l8.6 -9.4 7 9.6 -8.6 8.6z" fill="#b9b94b"/>
<path d="M1093.3 1089l8 -15.1 7.7 -3 -8 15z" fill="#5fa3a0"/>
<path d="M1256.9 1004.2l8.9 -3.2 6.6 14 -8.8 2.6z" fill="#acbb53"/>
<path d="M1078.5 1106.1l7.9 -14.1 7.8 -4 -7.9 14.1z" fill="#5297b8"/>
<path d="M1189.8 1002.1l8.5 -11 7.1 7.9 -8.5 10.3z" fill="#b8b94b"/>
<path d="M1063.7 1122.6l7.9 -12.8 7.8 -4.7 -7.8 12.6z" fill="#4b8bc4"/>
<path d="M1294.7 1026.9l9.1 1.6 6.3 16.1 -9 -2.2z" fill="#8ab96b"/>
<path d="M1332.5 1066.5l9.3 6 6 15.5 -9.2 -5.9z" fill="#62a69b"/>
<path d="M1370.3 1113.3l9.4 8 5.9 11.8 -9.5 -7.6z" fill="#4882c8"/>
<path d="M1242.2 996.7l8.9 -4.9 6.7 13 -8.8 4.3z" fill="#b8b94b"/>
<path d="M1175 1008l8.4 -12.4 7.2 6.3 -8.4 11.7z" fill="#b3ba4f"/>
<path d="M1160.2 1016.5l8.4 -13.6 7.3 4.7 -8.4 12.9z" fill="#aabb54"/>
<path d="M1280 1012.8l9.1 -0.4 6.5 15.5 -9.1 -0.3z" fill="#9fbc5a"/>
<path d="M1227.4 991.9l8.8 -6.6 6.9 11.8 -8.8 5.9z" fill="#c1b747"/>
<path d="M1317.9 1046.7l9.2 4.6 6.2 16.4 -9.2 -4.9z" fill="#74b47c"/>
<path d="M1145.3 1027.5l8.4 -14.6 7.4 3 -8.3 13.9z" fill="#9ebc5c"/>
<path d="M1355.8 1093.2l9.4 7.6 5.9 13.7 -9.3 -7.2z" fill="#5093bc"/>
<path d="M1393.6 1140l9.6 9.3 5.7 9.9 -9.5 -9.2z" fill="#4163d1"/>
<path d="M1130.5 1041.1l8.2 -15.5 7.5 1.2 -8.2 14.8z" fill="#8eba68"/>
<path d="M1212.6 990.2l8.8 -8.5 6.9 10.4 -8.7 7.7z" fill="#c6b544"/>
<path d="M1265.3 1001.1l9 -2.1 6.6 14.5 -9 1.6z" fill="#b1ba50"/>
<path d="M1115.7 1057.2l8.1 -16.1 7.6 -0.8 -8.1 15.4z" fill="#7eb775"/>
<path d="M1100.8 1074.8l8.1 -16 7.7 -2.7 -8.1 15.7z" fill="#6db086"/>
<path d="M1303.3 1028.4l9.2 2.9 6.3 16.5 -9.2 -3.4z" fill="#8ab96c"/>
<path d="M1086 1092.9l8 -15.3 7.7 -3.9 -7.9 15.1z" fill="#5ea3a2"/>
<path d="M1341.2 1072.1l9.4 7 6 15.3 -9.3 -6.7z" fill="#5ea3a2"/>
<path d="M1379.2 1120.9l9.5 8.8 5.8 11.4 -9.5 -8.5z" fill="#477dcb"/>
<path d="M1197.8 991.7l8.7 -10.2 7 8.7 -8.6 9.4z" fill="#c7b544"/>
<path d="M1071.1 1110.6l7.9 -14.1 7.9 -4.7 -7.9 14z" fill="#5296b9"/>
<path d="M1250.5 992l9 -3.8 6.7 13.5 -8.9 3.3z" fill="#c0b747"/>
<path d="M1056.2 1128.6l7.9 -13.5 7.9 -5.6 -7.8 12.8z" fill="#4a89c5"/>
<path d="M1183 996.3l8.5 -11.8 7.2 7 -8.5 11.1z" fill="#c4b645"/>
<path d="M1288.6 1012.4l9.1 1 6.5 16 -9.2 -1.6z" fill="#a1bc59"/>
<path d="M1168.1 1003.6l8.5 -13.1 7.3 5.4 -8.5 12.4z" fill="#bdb849"/>
<path d="M1364.7 1100.4l9.4 8.5 5.9 13.2 -9.4 -8.1z" fill="#4d8fc0"/>
<path d="M1326.6 1051l9.3 6 6.2 16.4 -9.3 -6z" fill="#71b380"/>
<path d="M1402.7 1148.8l9.6 10.2 5.7 9.9 -9.6 -10.2z" fill="#4157d0"/>
<path d="M1235.7 985.6l8.9 -5.6 6.8 12.5 -8.8 4.9z" fill="#cbb442"/>
<path d="M1153.2 1013.7l8.4 -14.3 7.4 3.7 -8.4 13.6z" fill="#b2ba4f"/>
<path d="M1273.8 999l9.1 -0.9 6.6 15.2 -9.1 0.3z" fill="#b5b94d"/>
<path d="M1138.3 1026.5l8.3 -15.4 7.5 1.9 -8.3 14.6z" fill="#a4bc58"/>
<path d="M1220.9 982.2l8.8 -7.4 6.9 11.1 -8.8 6.6z" fill="#d2b23e"/>
<path d="M1311.9 1031.1l9.3 4.4 6.3 16.8 -9.2 -4.7z" fill="#87b96e"/>
<path d="M1388.2 1129.2l9.6 9.8 5.8 10.9 -9.6 -9.3z" fill="#4576cd"/>
<path d="M1350.1 1078.7l9.4 8.1 6 14.8 -9.4 -7.6z" fill="#5a9faa"/>
<path d="M1123.4 1042l8.2 -16.3 7.6 -0.1 -8.3 15.5z" fill="#92ba65"/>
<path d="M1108.4 1059.7l8.2 -16.5 7.7 -2.2 -8.2 16.1z" fill="#7fb774"/>
<path d="M1206 982l8.7 -9.2 7.1 9.5 -8.8 8.4z" fill="#d3b03e"/>
<path d="M1093.5 1078.5l8.1 -16.1 7.7 -3.8 -8 16z" fill="#6daf87"/>
<path d="M1259 988.3l9 -2.7 6.7 14.2 -9 2.1z" fill="#c6b544"/>
<path d="M1078.6 1097.3l8 -15.2 7.8 -4.7 -8 15.2z" fill="#5da2a4"/>
<path d="M1063.6 1115.8l7.9 -14.4 8 -5.2 -7.9 14.1z" fill="#5195ba"/>
<path d="M1191 985.1l8.7 -10.9 7.2 7.7 -8.7 10.2z" fill="#d3b13e"/>
<path d="M1297.2 1013.3l9.2 2.4 6.4 16.5 -9.2 -2.9z" fill="#a1bc59"/>
<path d="M1373.6 1108.4l9.6 9.5 5.8 12.5 -9.5 -8.8z" fill="#4b8bc4"/>
<path d="M1411.8 1158.4l9.7 11.1 5.7 9.7 -9.7 -10.9z" fill="#434ace"/>
<path d="M1048.7 1135.7l7.8 -14.8 8 -6.2 -7.8 13.5z" fill="#4986c6"/>
<path d="M1335.4 1056.6l9.4 7.3 6.1 16.1 -9.3 -7z" fill="#6eb086"/>
<path d="M1244.1 980.3l9 -4.4 6.8 13 -9 3.8z" fill="#d2b13e"/>
<path d="M1176.1 991.2l8.6 -12.5 7.2 6.1 -8.5 11.8z" fill="#cfb340"/>
<path d="M1161.1 1000.1l8.5 -13.8 7.4 4.5 -8.5 13.1z" fill="#c6b544"/>
<path d="M1282.4 998.1l9.2 0.4 6.5 15.8 -9.2 -1z" fill="#b8b94c"/>
<path d="M1397.2 1138.4l9.7 10.7 5.8 10.5 -9.7 -10.2z" fill="#436ccf"/>
<path d="M1359 1086.3l9.5 9.2 6 14.2 -9.5 -8.5z" fill="#559bb4"/>
<path d="M1229.2 975.2l8.9 -6.2 6.9 11.7 -8.9 5.6z" fill="#d6ad3d"/>
<path d="M1320.7 1035.2l9.3 5.9 6.3 16.8 -9.3 -5.9z" fill="#84b870"/>
<path d="M1146.1 1011.9l8.4 -15.1 7.5 2.7 -8.4 14.4z" fill="#b9b94b"/>
<path d="M1131.1 1026.6l8.4 -16.2 7.5 0.7 -8.3 15.4z" fill="#a8bb55"/>
<path d="M1214.2 973.3l8.8 -8.1 7.1 10.2 -8.8 7.4z" fill="#d8aa3d"/>
<path d="M1116.1 1044.1l8.3 -16.9 7.6 -1.5 -8.2 16.2z" fill="#94bb64"/>
<path d="M1267.5 985.7l9.1 -1.4 6.7 14.6 -9.1 1z" fill="#cbb442"/>
<path d="M1101.1 1063.3l8.2 -16.8 7.7 -3.5 -8.1 16.5z" fill="#7eb775"/>
<path d="M1421 1168.8l9.8 11.8 5.6 9.6 -9.8 -11.6z" fill="#473ec9"/>
<path d="M1382.6 1117.4l9.7 10.4 5.8 11.8 -9.6 -9.7z" fill="#4984c7"/>
<path d="M1344.3 1063.4l9.5 8.6 6.1 15.7 -9.5 -8.1z" fill="#69ac8d"/>
<path d="M1305.9 1015.5l9.3 4.1 6.4 16.8 -9.3 -4.4z" fill="#9fbc5b"/>
<path d="M1086.1 1083l8.1 -16.1 7.8 -4.8 -8 16.2z" fill="#6cae89"/>
<path d="M1199.2 974.7l8.8 -9.9 7.1 8.5 -8.7 9.2z" fill="#d9a93d"/>
<path d="M1071.1 1102.3l8 -15.2 7.9 -5.3 -8 15.2z" fill="#5ba1a7"/>
<path d="M1056 1121.8l7.9 -14.9 8.1 -5.8 -7.9 14.4z" fill="#5093bc"/>
<path d="M1252.6 976.1l9 -3.2 6.8 13.5 -9 2.7z" fill="#d5ae3d"/>
<path d="M1041 1143.6l7.8 -16.2 8.1 -6.9 -7.8 14.8z" fill="#4882c8"/>
<path d="M1184.2 979.4l8.7 -11.7 7.2 6.8 -8.6 11z" fill="#d7ab3d"/>
<path d="M1406.4 1148.5l9.8 11.5 5.7 10 -9.8 -11z" fill="#4060d2"/>
<path d="M1368 1095l9.6 10.2 5.9 13.5 -9.6 -9.5z" fill="#5296b9"/>
<path d="M1291 998.4l9.3 2 6.5 16.2 -9.2 -2.4z" fill="#b8b94b"/>
<path d="M1329.5 1040.7l9.4 7.4 6.3 16.7 -9.4 -7.2z" fill="#80b773"/>
<path d="M1169.1 987l8.6 -13.2 7.4 5.2 -8.6 12.5z" fill="#d4af3e"/>
<path d="M1237.6 969.3l9 -4.9 6.9 12.2 -9 4.4z" fill="#daa83c"/>
<path d="M1154.1 997.6l8.5 -14.6 7.4 3.5 -8.5 13.8z" fill="#cdb341"/>
<path d="M1430.2 1179.9l9.9 12.4 5.6 9.4 -9.9 -12.2z" fill="#4a33c4"/>
<path d="M1276.1 984.3l9.2 -0.1 6.6 15.2 -9.1 -0.5z" fill="#cdb340"/>
<path d="M1139 1011.3l8.4 -15.9 7.6 1.5 -8.5 15.1z" fill="#beb849"/>
<path d="M1391.7 1127.2l9.8 11.4 5.8 11.1 -9.7 -10.7z" fill="#477dcb"/>
<path d="M1222.5 965.6l9 -6.8 7 10.8 -8.9 6.2z" fill="#dda43c"/>
<path d="M1353.2 1071.5l9.6 9.8 6 15.1 -9.5 -9.2z" fill="#64a896"/>
<path d="M1314.7 1019.3l9.4 5.7 6.3 17 -9.4 -5.9z" fill="#9cbb5d"/>
<path d="M1123.9 1028.2l8.3 -16.9 7.7 -0.9 -8.3 16.2z" fill="#abbb54"/>
<path d="M1108.8 1047.4l8.2 -17.2 7.8 -3.1 -8.2 16.8z" fill="#94bb64"/>
<path d="M1207.5 965.3l8.8 -8.8 7.1 9.2 -8.8 8.1z" fill="#dea13b"/>
<path d="M1093.7 1067.8l8.2 -16.7 7.8 -4.9 -8.1 16.8z" fill="#7db676"/>
<path d="M1261.1 973l9.2 -1.9 6.7 13.9 -9.1 1.5z" fill="#d7ab3d"/>
<path d="M1078.6 1088l8.1 -15.7 7.9 -5.7 -8 16.1z" fill="#6aad8c"/>
<path d="M1415.6 1159.3l9.9 12.3 5.6 9.5 -9.8 -11.7z" fill="#4251cf"/>
<path d="M1063.5 1107.7l8 -14.9 8 -6 -8 15.2z" fill="#599fab"/>
<path d="M1377 1104.6l9.7 11.4 5.9 12.5 -9.6 -10.4z" fill="#4e91be"/>
<path d="M1048.4 1128.3l7.9 -15.3 8.1 -6.5 -7.9 14.9z" fill="#4e91be"/>
<path d="M1338.4 1047.7l9.5 8.9 6.2 16.3 -9.5 -8.5z" fill="#7ab678"/>
<path d="M1299.8 1000.3l9.3 3.6 6.5 16.6 -9.3 -4z" fill="#b7b94c"/>
<path d="M1192.4 968.3l8.7 -10.7 7.3 7.6 -8.8 10z" fill="#dda23b"/>
<path d="M1033.3 1151.9l7.8 -17.4 8.2 -7.5 -7.8 16.2z" fill="#477eca"/>
<path d="M1246.1 964.6l9 -3.6 6.9 12.6 -9.1 3.2z" fill="#dca43c"/>
<path d="M1177.2 974.5l8.7 -12.4 7.4 5.9 -8.7 11.7z" fill="#dba63c"/>
<path d="M1439.6 1191.6l10 12.9 5.5 8.9 -10 -12.5z" fill="#512bbc"/>
<path d="M1400.9 1138l9.8 12.3 5.8 10.3 -9.8 -11.5z" fill="#4573ce"/>
<path d="M1362.2 1080.7l9.7 11.1 6 14.2 -9.6 -10.2z" fill="#5da2a3"/>
<path d="M1162.1 983.7l8.6 -13.9 7.4 4.3 -8.6 13.2z" fill="#d8ab3d"/>
<path d="M1284.8 984.2l9.3 1.5 6.6 15.6 -9.3 -2z" fill="#cfb340"/>
<path d="M1323.5 1024.7l9.5 7.5 6.3 16.9 -9.4 -7.5z" fill="#96bb62"/>
<path d="M1231 959.1l9 -5.4 7 11.3 -9 5z" fill="#e09c3a"/>
<path d="M1146.9 996.2l8.5 -15.4 7.6 2.3 -8.5 14.6z" fill="#d2b23e"/>
<path d="M1131.7 1012.2l8.5 -16.6 7.6 -0.2 -8.4 15.9z" fill="#c1b747"/>
<path d="M1424.9 1170.9l9.9 13 5.7 8.9 -9.9 -12.4z" fill="#4543cb"/>
<path d="M1215.8 956.9l9 -7.5 7.1 10 -9 6.8z" fill="#e19839"/>
<path d="M1116.6 1031.2l8.3 -17.3 7.8 -2.7 -8.4 16.9z" fill="#abbb53"/>
<path d="M1269.7 971.2l9.3 -0.4 6.7 14.3 -9.2 0z" fill="#d8aa3d"/>
<path d="M1386.1 1115.3l9.8 12.4 5.9 11.6 -9.7 -11.4z" fill="#4b8bc4"/>
<path d="M1101.4 1052l8.3 -17.1 7.8 -4.9 -8.3 17.2z" fill="#92ba65"/>
<path d="M1347.4 1056.1l9.6 10.5 6.1 15.6 -9.5 -9.8z" fill="#73b47d"/>
<path d="M1308.6 1003.7l9.4 5.5 6.4 16.8 -9.4 -5.8z" fill="#b4ba4e"/>
<path d="M1086.2 1073.2l8.2 -16.2 7.9 -6.2 -8.1 16.7z" fill="#7ab678"/>
<path d="M1071 1093.6l8.1 -15.1 8 -6.6 -8 15.8z" fill="#68ab90"/>
<path d="M1200.6 958.2l8.9 -9.6 7.2 8.3 -8.8 8.8z" fill="#e29738"/>
<path d="M1055.8 1113.8l8 -14.7 8.1 -6.7 -7.9 15z" fill="#579db0"/>
<path d="M1040.6 1135.4l7.9 -15.7 8.2 -7.1 -7.9 15.3z" fill="#4c8ec1"/>
<path d="M1254.6 961.2l9.2 -2.2 6.8 12.9 -9.1 1.9z" fill="#dea03b"/>
<path d="M1449 1203.8l10.1 13.4 5.4 8.1 -10 -12.6z" fill="#5924b3"/>
<path d="M1025.4 1160.2l7.8 -18.1 8.3 -8.1 -7.8 17.4z" fill="#4679cc"/>
<path d="M1410.2 1149.6l9.8 13.2 5.8 9.4 -9.9 -12.3z" fill="#4266d1"/>
<path d="M1371.3 1091.2l9.7 12.3 6 13.2 -9.6 -11.3z" fill="#569cb1"/>
<path d="M1185.4 962.8l8.8 -11.4 7.3 6.6 -8.7 10.7z" fill="#e19939"/>
<path d="M1293.5 985.6l9.4 3.4 6.6 15.8 -9.4 -3.6z" fill="#ceb340"/>
<path d="M1332.5 1031.7l9.5 9.3 6.3 16.6 -9.5 -9z" fill="#8fba68"/>
<path d="M1170.2 970.5l8.7 -13 7.4 4.9 -8.6 12.4z" fill="#de9f3a"/>
<path d="M1239.5 953.9l9.1 -3.9 6.9 11.7 -9.1 3.6z" fill="#e29638"/>
<path d="M1434.3 1183.2l10 13.7 5.6 8.1 -10 -12.9z" fill="#4937c6"/>
<path d="M1155 981.6l8.6 -14.6 7.5 3 -8.6 13.9z" fill="#daa73c"/>
<path d="M1395.4 1127l9.8 13.4 5.8 10.5 -9.8 -12.3z" fill="#4882c8"/>
<path d="M1356.4 1065.9l9.7 12 6.1 14.8 -9.6 -11.1z" fill="#6cae89"/>
<path d="M1278.4 970.8l9.4 1.2 6.6 14.6 -9.2 -1.6z" fill="#d9a93d"/>
<path d="M1139.7 996.5l8.5 -16.1 7.7 0.5 -8.6 15.4z" fill="#d4af3e"/>
<path d="M1224.3 949.8l9 -6 7.1 10.5 -9 5.4z" fill="#e48f37"/>
<path d="M1317.5 1008.9l9.5 7.5 6.4 16.7 -9.5 -7.5z" fill="#aeba52"/>
<path d="M1124.4 1014.9l8.5 -17.1 7.7 -2.3 -8.4 16.6z" fill="#c2b646"/>
<path d="M1109.2 1035.9l8.3 -17.3 7.9 -4.9 -8.4 17.3z" fill="#a9bb54"/>
<path d="M1458.5 1216.4l10.2 13.8 5.4 7.1 -10.1 -12.7z" fill="#6420a3"/>
<path d="M1093.9 1057.9l8.3 -16.5 7.9 -6.8 -8.2 17.1z" fill="#8eba68"/>
<path d="M1419.5 1162l10 14 5.7 8.5 -10 -13.1z" fill="#4157d0"/>
<path d="M1209 949.1l9 -8.1 7.2 8.9 -9 7.5z" fill="#e58a36"/>
<path d="M1078.7 1079.4l8.1 -15.2 8 -7.6 -8.1 16.2z" fill="#77b57a"/>
<path d="M1263.3 959.1l9.2 -0.6 6.8 13.1 -9.2 0.4z" fill="#df9d3a"/>
<path d="M1380.5 1102.8l9.8 13.6 5.9 12 -9.7 -12.4z" fill="#5195ba"/>
<path d="M1063.4 1099.9l8.1 -14.2 8.1 -7.6 -8.1 15.2z" fill="#65a995"/>
<path d="M1341.5 1040.5l9.6 11 6.2 16 -9.6 -10.5z" fill="#85b96f"/>
<path d="M1048.1 1120.6l8 -14.4 8.2 -7.5 -8 14.7z" fill="#549ab5"/>
<path d="M1302.4 988.7l9.5 5.4 6.5 16.1 -9.5 -5.6z" fill="#cab442"/>
<path d="M1032.8 1143l7.9 -15.7 8.3 -8 -7.9 15.7z" fill="#4b8bc4"/>
<path d="M1193.7 952l8.9 -10.1 7.3 7.2 -8.9 9.5z" fill="#e58b36"/>
<path d="M1017.5 1168.1l7.8 -18 8.4 -8.5 -7.8 18.1z" fill="#4573ce"/>
<path d="M1248.1 950.2l9.2 -2.4 6.9 11.9 -9.2 2.2z" fill="#e49237"/>
<path d="M1443.7 1196.1l10.1 14.3 5.6 7.2 -10.1 -13.3z" fill="#4f2cbe"/>
<path d="M1404.6 1139.7l10 14.3 5.8 9.3 -9.9 -13.1z" fill="#4678cd"/>
<path d="M1178.4 958.2l8.8 -12 7.4 5.5 -8.8 11.4z" fill="#e49137"/>
<path d="M1365.6 1077.2l9.7 13.5 6.1 13.6 -9.7 -12.3z" fill="#64a896"/>
<path d="M1287.2 971.9l9.4 3.1 6.7 14.8 -9.4 -3.3z" fill="#d9a93d"/>
<path d="M1326.4 1015.9l9.6 9.6 6.4 16.5 -9.6 -9.3z" fill="#a6bb56"/>
<path d="M1163.1 967.8l8.7 -13.7 7.5 3.6 -8.7 13.1z" fill="#e19939"/>
<path d="M1232.8 944.1l9.1 -4.2 7.1 10.7 -9.1 3.9z" fill="#e68435"/>
<path d="M1147.7 981.2l8.7 -15.3 7.6 1.2 -8.6 14.6z" fill="#dca43c"/>
<path d="M1468.1 1229.5l10.2 14 5.5 -0.7 -10.3 -6.2z" fill="#641b89"/>
<path d="M1428.9 1175.2l10 14.6 5.7 7.6 -10 -13.7z" fill="#3f3fbc"/>
<path d="M1389.7 1115.7l9.9 14.6 5.9 10.7 -9.8 -13.3z" fill="#4c8ec1"/>
<path d="M1132.4 998.7l8.5 -16.6 7.8 -1.8 -8.6 16.1z" fill="#d5ae3d"/>
<path d="M1272 958.4l9.4 1.1 6.7 13.3 -9.3 -1.3z" fill="#e09b3a"/>
<path d="M1117.1 1019.6l8.4 -17.2 7.8 -4.8 -8.4 17.1z" fill="#c1b747"/>
<path d="M1217.5 941.4l9 -6.4 7.2 9.4 -9 5.9z" fill="#e77b34"/>
<path d="M1350.6 1050.9l9.7 12.8 6.2 15.1 -9.7 -12z" fill="#7cb676"/>
<path d="M1101.7 1042.4l8.4 -16.7 7.9 -7.4 -8.4 17.2z" fill="#a5bb57"/>
<path d="M1311.3 993.7l9.6 7.5 6.4 16.1 -9.5 -7.5z" fill="#c5b645"/>
<path d="M1086.4 1065.1l8.2 -15.4 8 -8.7 -8.2 16.5z" fill="#89b96d"/>
<path d="M1071 1086.5l8.2 -14 8.1 -8.8 -8.2 15.3z" fill="#72b37e"/>
<path d="M1453.3 1209.6l10.1 14.8 5.6 6.2 -10.2 -13.8z" fill="#5322a9"/>
<path d="M1055.6 1107l8.1 -13.3 8.2 -8.5 -8.1 14.3z" fill="#61a59c"/>
<path d="M1202.1 942.4l9 -8.7 7.3 7.8 -9 8.1z" fill="#e87934"/>
<path d="M1414 1153.2l10 15.1 5.8 8.2 -10 -14z" fill="#4269d0"/>
<path d="M1040.2 1128.1l8 -13.8 8.3 -8.5 -8 14.3z" fill="#5297b8"/>
<path d="M1256.7 947.9l9.3 -0.7 6.9 12 -9.2 0.6z" fill="#e58d36"/>
<path d="M1374.8 1089.9l9.8 14.9 6 12.3 -9.8 -13.5z" fill="#5ba0a8"/>
<path d="M1024.8 1151l7.9 -15.3 8.4 -8.9 -7.9 15.7z" fill="#4a86c6"/>
<path d="M1009.5 1175.3l7.8 -16.8 8.5 -8.9 -7.8 18z" fill="#436dcf"/>
<path d="M1186.7 946.9l8.9 -10.7 7.4 6 -8.9 10.2z" fill="#e77d35"/>
<path d="M1335.5 1024.9l9.6 11.6 6.4 15.9 -9.7 -11z" fill="#9cbc5d"/>
<path d="M1296.1 974.7l9.5 5.2 6.6 15 -9.4 -5.3z" fill="#d8ab3d"/>
<path d="M1438.4 1189l10.1 15.3 5.6 6.5 -10.1 -14.3z" fill="#4534bc"/>
<path d="M1241.4 940l9.2 -2.4 7 10.9 -9.2 2.3z" fill="#e77c34"/>
<path d="M1171.3 954.8l8.8 -12.4 7.5 4.1 -8.8 11.9z" fill="#e68736"/>
<path d="M1477.7 1243.1l10.5 6.6 5.4 -4.2 -10.4 -3.2z" fill="#cdcdcd"/>
<path d="M1399 1129.5l10 15.7 5.9 9.3 -9.9 -14.3z" fill="#4984c7"/>
<path d="M1359.7 1062.9l9.8 14.6 6.2 14 -9.8 -13.5z" fill="#72b37f"/>
<path d="M1155.9 966.7l8.7 -14.2 7.6 1.7 -8.7 13.7z" fill="#e39538"/>
<path d="M1280.8 959.4l9.5 2.9 6.7 13.5 -9.4 -3.1z" fill="#e09c3a"/>
<path d="M1320.3 1000.7l9.6 9.7 6.5 16 -9.6 -9.5z" fill="#bdb849"/>
<path d="M1140.4 983l8.7 -15.8 7.7 -1.3 -8.6 15.3z" fill="#dda23b"/>
<path d="M1226 935.3l9.2 -4.7 7.1 9.8 -9.1 4.3z" fill="#e87033"/>
<path d="M1462.9 1223.6l10.2 15.2 5.5 4.9 -10.2 -13.9z" fill="#601f9d"/>
<path d="M1125 1003.4l8.6 -16.8 7.8 -4.7 -8.6 16.6z" fill="#d4af3e"/>
<path d="M1423.4 1167.4l10.1 15.9 5.8 7 -10.1 -14.7z" fill="#3e53c6"/>
<path d="M1109.6 1026.7l8.4 -16.7 7.9 -7.9 -8.4 17.1z" fill="#bcb849"/>
<path d="M1094.2 1050.6l8.3 -15.5 8 -9.9 -8.3 16.7z" fill="#9fbc5b"/>
<path d="M1384 1104l9.9 16.1 6 10.9 -9.8 -14.7z" fill="#5398b7"/>
<path d="M1078.7 1073.3l8.3 -13.9 8.1 -10.2 -8.3 15.4z" fill="#83b871"/>
<path d="M1210.6 934.1l9.1 -7 7.2 8.3 -9 6.5z" fill="#e86933"/>
<path d="M1265.5 947.2l9.4 1.1 6.9 12 -9.4 -1.1z" fill="#e58a36"/>
<path d="M1063.3 1094.5l8.2 -12.6 8.1 -9.9 -8.1 14z" fill="#6eb086"/>
<path d="M1344.6 1035.8l9.7 13.6 6.3 15.2 -9.7 -12.9z" fill="#90ba67"/>
<path d="M1047.8 1115.1l8.1 -12.3 8.3 -9.5 -8.1 13.3z" fill="#5da2a5"/>
<path d="M1305.1 979.5l9.5 7.3 6.6 15.3 -9.5 -7.5z" fill="#d6ad3d"/>
<path d="M1032.3 1136.5l8 -13 8.4 -9.7 -8 13.8z" fill="#5093bc"/>
<path d="M1447.9 1203.5l10.3 15.9 5.6 5.3 -10.2 -14.7z" fill="#4e2bb8"/>
<path d="M1016.8 1159.4l7.9 -14.3 8.5 -9.9 -7.9 15.3z" fill="#4881c8"/>
<path d="M1195.1 936.7l9 -9.2 7.4 6.6 -9 8.7z" fill="#e86a33"/>
<path d="M1408.4 1144.3l10.1 16.5 5.8 8 -10 -15.1z" fill="#4272c1"/>
<path d="M1001.3 1182.1l7.8 -14.9 8.6 -9.2 -7.8 16.9z" fill="#4267d0"/>
<path d="M1250.1 937.6l9.3 -0.7 7 11 -9.3 0.7z" fill="#e87634"/>
<path d="M1487.6 1249.4l10.5 3.3 5.5 -4.1 -10.6 -3.3z" fill="#cdcdcd"/>
<path d="M1368.9 1076.7l9.9 16.2 6.1 12.6 -9.8 -14.8z" fill="#68ab8f"/>
<path d="M1179.6 943l8.9 -11.2 7.5 4.7 -8.9 10.6z" fill="#e87133"/>
<path d="M1329.4 1009.7l9.7 12 6.4 15.7 -9.7 -11.6z" fill="#b3ba4f"/>
<path d="M1289.7 962.1l9.6 4.9 6.7 13.7 -9.5 -5.2z" fill="#df9e3a"/>
<path d="M1164.1 953.3l8.8 -13 7.6 2.2 -8.8 12.5z" fill="#e77e35"/>
<path d="M1472.6 1238.1l10.3 15.6 5.6 -4.1 -10.5 -6.6z" fill="#6f1d93"/>
<path d="M1432.9 1182.4l10.2 16.5 5.7 5.8 -10.1 -15.3z" fill="#4342c7"/>
<path d="M1234.6 930.8l9.3 -2.7 7.1 10 -9.2 2.5z" fill="#e86733"/>
<path d="M1393.4 1119.2l10 17.1 5.9 9.4 -9.9 -15.6z" fill="#4d8fc0"/>
<path d="M1148.6 968l8.7 -14.7 7.7 -0.8 -8.7 14.2z" fill="#e49237"/>
<path d="M1133.1 987.5l8.6 -16.1 7.8 -4.4 -8.6 15.8z" fill="#dda33c"/>
<path d="M1353.8 1048.6l9.8 15.6 6.3 14.1 -9.8 -14.5z" fill="#83b871"/>
<path d="M1274.3 948.2l9.5 2.8 6.9 12.1 -9.5 -3z" fill="#e58b36"/>
<path d="M1117.6 1010.9l8.5 -16.5 7.9 -8.1 -8.5 16.7z" fill="#d2b23e"/>
<path d="M1219.1 927.4l9.2 -5.1 7.3 8.8 -9.2 4.7z" fill="#e85d32"/>
<path d="M1102.1 1036l8.4 -15.7 8 -10.8 -8.5 16.6z" fill="#b5ba4e"/>
<path d="M1314.1 986.3l9.7 9.6 6.5 15.3 -9.6 -9.6z" fill="#d2b23e"/>
<path d="M1086.5 1060.3l8.4 -14.1 8.1 -11.7 -8.4 15.5z" fill="#96bb62"/>
<path d="M1457.6 1218.5l10.3 16.4 5.6 4.2 -10.3 -15.2z" fill="#5923b2"/>
<path d="M1071 1082.6l8.3 -12.3 8.2 -11.4 -8.3 13.9z" fill="#7cb676"/>
<path d="M1417.9 1159.9l10.1 17.2 5.8 6.6 -10 -15.9z" fill="#4065ca"/>
<path d="M1055.4 1103.5l8.2 -11.3 8.3 -10.9 -8.2 12.7z" fill="#69ac8e"/>
<path d="M1039.9 1124.2l8.1 -11.4 8.4 -10.6 -8.1 12.3z" fill="#589daf"/>
<path d="M1378.2 1092l10 17.6 6.1 11.1 -9.9 -16.1z" fill="#5da2a4"/>
<path d="M1203.6 927.9l9.1 -7.6 7.4 7.2 -9.1 7z" fill="#e75a31"/>
<path d="M1024.3 1145.9l8 -12.2 8.5 -10.8 -8 13.1z" fill="#4d8fc0"/>
<path d="M1258.9 936.9l9.4 1.1 7 10.9 -9.4 -1z" fill="#e87434"/>
<path d="M1008.7 1168l7.9 -12.8 8.6 -10.6 -7.9 14.2z" fill="#477ccb"/>
<path d="M1338.5 1020.9l9.8 14.2 6.4 15.1 -9.7 -13.6z" fill="#a6bb56"/>
<path d="M993.1 1188.5l7.8 -12.3 8.7 -9.5 -7.8 14.9z" fill="#4060d2"/>
<path d="M1298.7 966.7l9.6 7 6.7 13.9 -9.6 -7.3z" fill="#dda23b"/>
<path d="M1188 932.4l9 -9.7 7.5 5.1 -9 9.2z" fill="#e85d32"/>
<path d="M1442.5 1198l10.3 17 5.7 4.7 -10.2 -15.9z" fill="#4a34c5"/>
<path d="M1482.3 1253.3l10.6 3.4 5.5 -4.2 -10.5 -3.3z" fill="#cdcdcd"/>
<path d="M1402.8 1135.4l10.1 18 5.9 7.9 -10 -16.5z" fill="#467fc0"/>
<path d="M1243.4 928.2l9.3 -0.8 7.1 10.1 -9.3 0.7z" fill="#e86232"/>
<path d="M1172.4 941l9 -11.7 7.6 2.7 -9 11.2z" fill="#e86833"/>
<path d="M1363 1063.3l9.9 17.6 6.3 12.8 -9.9 -16.3z" fill="#76b57b"/>
<path d="M1156.8 954.1l8.9 -13.5 7.7 -0.2 -8.9 12.9z" fill="#e87a34"/>
<path d="M1283.3 950.8l9.5 4.7 6.9 12.2 -9.6 -4.9z" fill="#e48e37"/>
<path d="M1323.2 995.3l9.8 12.1 6.5 15.1 -9.7 -11.9z" fill="#c8b543"/>
<path d="M1467.3 1234l10.4 16.9 5.5 2.9 -10.3 -15.6z" fill="#6b21a1"/>
<path d="M1427.4 1176.1l10.2 17.8 5.8 5.3 -10.1 -16.5z" fill="#4253cf"/>
<path d="M1141.2 972.3l8.8 -15.3 7.8 -3.8 -8.8 14.7z" fill="#e39337"/>
<path d="M1227.8 922.5l9.3 -3.1 7.2 9.3 -9.3 2.7z" fill="#e75430"/>
<path d="M1125.6 995.3l8.7 -16.2 7.9 -8.1 -8.7 16.2z" fill="#dba63c"/>
<path d="M1387.6 1108.6l10 18.8 6.1 9.5 -10 -17.2z" fill="#4f91ae"/>
<path d="M1110 1021.2l8.6 -15.8 8 -11.5 -8.6 16.5z" fill="#cab442"/>
<path d="M1094.4 1047.1l8.5 -14.3 8.1 -13.1 -8.5 15.6z" fill="#aabb54"/>
<path d="M1078.8 1071.1l8.4 -12.4 8.2 -13.1 -8.4 14z" fill="#8bba6a"/>
<path d="M1063.2 1092.8l8.3 -10.8 8.3 -12.3 -8.3 12.3z" fill="#55845b"/>
<path d="M1347.8 1034.3l9.8 16.6 6.4 14.1 -9.9 -15.6z" fill="#97bb62"/>
<path d="M1267.8 937.9l9.5 2.8 6.9 11 -9.5 -2.9z" fill="#e87434"/>
<path d="M1212.2 920.7l9.2 -5.8 7.3 7.9 -9.1 5.1z" fill="#e64d2f"/>
<path d="M1047.5 1113.5l8.2 -10.3 8.4 -11.6 -8.2 11.3z" fill="#497b70"/>
<path d="M1452.2 1214l10.4 17.5 5.6 3.7 -10.3 -16.5z" fill="#562bbf"/>
<path d="M1307.8 973.2l9.7 9.4 6.6 14.2 -9.6 -9.6z" fill="#dba73c"/>
<path d="M1031.8 1134.4l8.2 -10.6 8.5 -11.6 -8.2 11.4z" fill="#5398b7"/>
<path d="M1412.3 1152.4l10.1 18.7 5.9 6.4 -10.1 -17.2z" fill="#4575cc"/>
<path d="M1016.2 1155.9l8 -11.1 8.6 -11.7 -8 12.2z" fill="#4a89c4"/>
<path d="M1000.5 1176.9l7.9 -11 8.7 -11.2 -7.9 12.8z" fill="#4575ce"/>
<path d="M1196.5 923.2l9.2 -8.3 7.4 5.8 -9.1 7.6z" fill="#e64c2f"/>
<path d="M1372.4 1079.9l10 19.2 6.1 11.2 -9.9 -17.6z" fill="#69ac8d"/>
<path d="M984.7 1194.8l7.9 -9.4 8.8 -9.7 -7.8 12.4z" fill="#4159d1"/>
<path d="M1252.2 927.4l9.4 1 7.1 10.2 -9.4 -1.1z" fill="#e85f32"/>
<path d="M1180.9 929.9l9 -10.3 7.6 3.3 -9 9.7z" fill="#e75330"/>
<path d="M1332.4 1006.6l9.8 14.7 6.5 14.7 -9.8 -14.2z" fill="#bbb84a"/>
<path d="M1437.1 1192.9l10.3 18.2 5.7 4.2 -10.2 -17.1z" fill="#4941d0"/>
<path d="M1477.1 1250.2l10.6 10.6 5.5 -4.3 -10.6 -3.3z" fill="#cdcdcd"/>
<path d="M1292.3 955.1l9.7 6.7 6.7 12.6 -9.6 -7z" fill="#e39338"/>
<path d="M1397.1 1126.4l10.1 19.7 6 7.8 -10.1 -18z" fill="#4b8bbe"/>
<path d="M1165.2 941.3l8.9 -12.2 7.7 0.3 -8.9 11.7z" fill="#e86232"/>
<path d="M1236.6 919.5l9.3 -1.1 7.2 9.5 -9.3 0.9z" fill="#e64e30"/>
<path d="M1149.5 957.9l8.8 -14.2 7.8 -3.2 -8.8 13.5z" fill="#e87934"/>
<path d="M1357.1 1049.9l9.9 18.8 6.3 12.9 -9.9 -17.5z" fill="#85b96f"/>
<path d="M1133.8 980l8.7 -15.7 7.9 -7.6 -8.7 15.2z" fill="#e29638"/>
<path d="M1462 1230.6l10.4 17.8 5.6 2.7 -10.4 -16.9z" fill="#6625b3"/>
<path d="M1118.1 1006.3l8.7 -16 7.9 -11.7 -8.6 16.2z" fill="#d8ab3d"/>
<path d="M1276.7 940.5l9.6 4.6 6.9 11 -9.5 -4.7z" fill="#e87834"/>
<path d="M1102.4 1033.6l8.6 -14.8 8 -14.1 -8.5 15.8z" fill="#bfb748"/>
<path d="M1421.9 1170.1l10.2 19.1 5.9 5 -10.2 -17.8z" fill="#4365d7"/>
<path d="M1317 982l9.7 11.9 6.6 14.3 -9.7 -12z" fill="#d6ac3d"/>
<path d="M1086.7 1059.4l8.5 -12.8 8.2 -14.6 -8.5 14.3z" fill="#748a43"/>
<path d="M1220.9 915.2l9.3 -3.8 7.3 8.5 -9.3 3.1z" fill="#e5432e"/>
<path d="M1071 1082.7l8.4 -10.9 8.3 -13.8 -8.4 12.3z" fill="#608855"/>
<path d="M1055.3 1103.8l8.3 -9.6 8.4 -12.9 -8.4 10.9z" fill="#518264"/>
<path d="M1381.8 1098l10 20.4 6.2 9.6 -10 -18.8z" fill="#599ca1"/>
<path d="M1039.5 1124.4l8.3 -9.4 8.4 -12.4 -8.2 10.2z" fill="#44787b"/>
<path d="M1023.7 1145.5l8.2 -9.9 8.6 -12.4 -8.2 10.5z" fill="#3b6d8b"/>
<path d="M1205.1 915.3l9.3 -6.5 7.4 6.5 -9.2 5.8z" fill="#e43e2d"/>
<path d="M1261.1 928.3l9.5 2.9 7.1 10.1 -9.5 -2.8z" fill="#e86032"/>
<path d="M1008 1166.5l8 -9.9 8.7 -12.4 -8 11.1z" fill="#356093"/>
<path d="M1341.7 1020.4l9.9 17.3 6.4 14 -9.9 -16.6z" fill="#abbb53"/>
<path d="M1446.8 1210.1l10.3 18.5 5.8 3.2 -10.4 -17.5z" fill="#5333cc"/>
<path d="M992.2 1185.9l7.9 -9 8.8 -11.6 -7.9 11z" fill="#436ccf"/>
<path d="M1406.6 1145l10.2 20.2 6 6.3 -10.2 -18.7z" fill="#4a83cc"/>
<path d="M1301.4 961.4l9.7 9 6.8 12.9 -9.7 -9.3z" fill="#e19939"/>
<path d="M976.3 1201.2l7.9 -6.6 8.9 -9.7 -7.9 9.5z" fill="#4252cf"/>
<path d="M1189.4 920.2l9.1 -8.9 7.6 3.9 -9.1 8.2z" fill="#e5412e"/>
<path d="M1366.4 1067.6l10 20.7 6.3 11.4 -10 -19.1z" fill="#70ac75"/>
<path d="M1245.4 918.4l9.5 0.9 7.1 9.7 -9.4 -1.1z" fill="#e64c2f"/>
<path d="M1173.6 929.7l9.1 -10.9 7.6 0.9 -9 10.3z" fill="#e64d2f"/>
<path d="M1471.8 1247.5l10.5 17.5 5.7 -4.3 -10.6 -10.5z" fill="#7924a3"/>
<path d="M1431.5 1188.2l10.3 19.4 5.9 3.8 -10.3 -18.2z" fill="#494fd9"/>
<path d="M1326.2 993.2l9.8 14.7 6.6 14.2 -9.8 -14.6z" fill="#d0b33f"/>
<path d="M1285.8 944.8l9.7 6.5 6.8 11.2 -9.6 -6.7z" fill="#e77e35"/>
<path d="M1157.8 944.5l9 -13 7.7 -2.5 -8.9 12.2z" fill="#e86132"/>
<path d="M1391.3 1117.3l10.1 21.4 6.1 7.9 -10.1 -19.7z" fill="#5296ba"/>
<path d="M1142 965.2l8.9 -15 7.9 -6.8 -8.9 14.2z" fill="#e77e35"/>
<path d="M1229.6 911.5l9.4 -1.6 7.3 9 -9.3 1.1z" fill="#e43c2d"/>
<path d="M1126.3 991.2l8.7 -16.1 8 -11.3 -8.8 15.7z" fill="#df9d3a"/>
<path d="M1110.5 1019.7l8.7 -15.6 8 -14.5 -8.6 16z" fill="#d3b13e"/>
<path d="M1094.7 1047.4l8.6 -13.7 8.1 -15.7 -8.5 14.8z" fill="#83893b"/>
<path d="M1078.9 1072.5l8.5 -11.4 8.3 -15.3 -8.5 12.8z" fill="#6b8a4c"/>
<path d="M1063.1 1094.8l8.4 -9.7 8.4 -14 -8.4 10.8z" fill="#59875b"/>
<path d="M1351 1036.7l10 19.9 6.4 12.9 -10 -18.8z" fill="#98bb60"/>
<path d="M1456.6 1227.6l10.4 18.6 5.7 2.4 -10.4 -17.9z" fill="#612ac1"/>
<path d="M1047.3 1115.5l8.3 -8.9 8.5 -13.1 -8.3 9.6z" fill="#4c7e6e"/>
<path d="M1416.2 1164.1l10.3 20.6 5.9 4.8 -10.2 -19.1z" fill="#4875d9"/>
<path d="M1270.1 931l9.6 4.6 7 10.1 -9.6 -4.6z" fill="#e86332"/>
<path d="M1213.8 909.1l9.4 -4.7 7.4 7.4 -9.3 3.8z" fill="#e2372b"/>
<path d="M1031.4 1136.2l8.3 -8.9 8.5 -13 -8.2 9.4z" fill="#3f7486"/>
<path d="M1310.6 969.8l9.8 11.8 6.7 13.1 -9.8 -12z" fill="#dea13b"/>
<path d="M1015.6 1157.2l8.1 -9.1 8.7 -13.2 -8.2 9.8z" fill="#386990"/>
<path d="M1375.9 1087.2l10.1 22.1 6.2 9.7 -10.1 -20.4z" fill="#66a88f"/>
<path d="M999.7 1177.5l8 -8.7 8.8 -12.9 -8 10z" fill="#355b97"/>
<path d="M983.7 1195.1l8 -7 8.9 -11.8 -7.9 9z" fill="#304a9b"/>
<path d="M1198 911.7l9.2 -7.3 7.6 4.7 -9.2 6.5z" fill="#e2362b"/>
<path d="M1441.2 1206.5l10.5 19.5 5.8 2.8 -10.4 -18.5z" fill="#513dd5"/>
<path d="M1254.3 919.2l9.6 2.9 7.1 9.6 -9.5 -2.8z" fill="#e64c2f"/>
<path d="M967.7 1207.7l8 -3.8 9 -9.8 -7.9 6.6z" fill="#33399c"/>
<path d="M1335.5 1007l9.9 17.8 6.5 13.7 -9.9 -17.3z" fill="#bfb748"/>
<path d="M1400.8 1137.5l10.2 21.9 6.1 6.2 -10.2 -20.2z" fill="#4e8fcc"/>
<path d="M1294.9 950.8l9.8 8.9 6.8 11.4 -9.7 -9z" fill="#e68836"/>
<path d="M1182.1 919.4l9.2 -9.6 7.7 1.6 -9.2 8.9z" fill="#e43b2d"/>
<path d="M1166.3 932.2l9 -11.6 7.8 -1.8 -9.1 10.9z" fill="#e64b2f"/>
<path d="M1360.4 1055.4l10 22.1 6.4 11.5 -10 -20.7z" fill="#80b36d"/>
<path d="M1238.5 909.9l9.5 0.6 7.3 9.4 -9.5 -0.9z" fill="#e33a2c"/>
<path d="M1466.4 1245.2l10.6 18.7 5.7 1.2 -10.6 -17.5z" fill="#7325ac"/>
<path d="M1425.9 1183.6l10.3 20.7 6 3.5 -10.4 -19.4z" fill="#495fe0"/>
<path d="M1150.4 951l8.9 -13.9 7.9 -5.9 -8.9 13z" fill="#e86532"/>
<path d="M1134.5 975.9l8.9 -15.8 7.9 -10.4 -8.8 14.9z" fill="#e58936"/>
<path d="M1118.7 1005l8.7 -16.4 8.1 -14.3 -8.8 16.2z" fill="#dba63c"/>
<path d="M1102.8 1034.6l8.7 -14.9 8.1 -16.5 -8.6 15.6z" fill="#918633"/>
<path d="M1279.2 935.3l9.7 6.6 7 10 -9.7 -6.5z" fill="#e86933"/>
<path d="M1087 1061.8l8.5 -12.4 8.3 -16.6 -8.6 13.7z" fill="#788b42"/>
<path d="M1319.9 980.8l9.9 14.8 6.6 13.1 -9.8 -14.8z" fill="#d9a93d"/>
<path d="M1071.1 1085.7l8.5 -10.1 8.3 -15.3 -8.5 11.4z" fill="#628a54"/>
<path d="M1385.4 1108l10.1 23.1 6.2 8.1 -10.1 -21.4z" fill="#5aa1b1"/>
<path d="M1055.1 1107.1l8.5 -8.8 8.4 -13.9 -8.4 9.6z" fill="#538463"/>
<path d="M1222.6 904.6l9.5 -2.4 7.4 8.1 -9.4 1.7z" fill="#e13229"/>
<path d="M1039.2 1127.8l8.3 -8.5 8.6 -13.4 -8.3 8.9z" fill="#467a79"/>
<path d="M1023.2 1148.6l8.3 -8.5 8.7 -13.6 -8.3 8.9z" fill="#3d6f8b"/>
<path d="M1451.1 1224.9l10.5 19.3 5.7 2.2 -10.4 -18.7z" fill="#5d30cb"/>
<path d="M1344.8 1023.7l10.1 20.8 6.4 12.8 -9.9 -19.9z" fill="#a3b14f"/>
<path d="M1007.3 1169.3l8.1 -8.4 8.8 -13.6 -8.1 9.1z" fill="#376494"/>
<path d="M1410.5 1158.2l10.3 22.1 6 4.8 -10.3 -20.7z" fill="#4d83da"/>
<path d="M1263.3 921.9l9.7 4.9 7.1 9.4 -9.6 -4.7z" fill="#e65030"/>
<path d="M1206.7 904.7l9.4 -5.5 7.5 5.5 -9.3 4.7z" fill="#e02f28"/>
<path d="M991.3 1188.5l8 -7.3 8.9 -13.1 -8 8.7z" fill="#33559a"/>
<path d="M1304.1 959.1l9.9 11.6 6.8 11.6 -9.8 -11.8z" fill="#e39338"/>
<path d="M975.2 1204.2l8 -5 9 -11.7 -8 7z" fill="#31439e"/>
<path d="M1369.9 1076.2l10.1 23.7 6.3 10 -10.1 -22.1z" fill="#72b37f"/>
<path d="M1190.8 910.3l9.2 -8.1 7.7 2.3 -9.3 7.4z" fill="#e13129"/>
<path d="M959.1 1214.7l7.9 -1.6 9.2 -9.7 -8 3.9z" fill="#3737a3"/>
<path d="M1435.6 1203.1l10.5 20.5 5.9 2.6 -10.4 -19.5z" fill="#5047dc"/>
<path d="M1247.5 910.4l9.6 3 7.2 9.3 -9.6 -2.9z" fill="#e43a2c"/>
<path d="M1174.8 921.2l9.2 -10.2 7.7 -1.2 -9.1 9.6z" fill="#e3392c"/>
<path d="M1329.2 994.6l10 18.1 6.6 12.9 -9.9 -17.8z" fill="#d2b23e"/>
<path d="M1395 1129.8l10.2 23.6 6.2 6.4 -10.2 -21.9z" fill="#5499c8"/>
<path d="M1288.3 941.4l9.8 9 7 9.9 -9.8 -8.9z" fill="#e87334"/>
<path d="M1158.8 937.8l9.1 -12.5 7.9 -4.9 -9.1 11.6z" fill="#e64e30"/>
<path d="M1142.9 960.9l8.9 -15 8 -9.3 -9 13.9z" fill="#e86f33"/>
<path d="M1095.1 1050.2l8.6 -14.1 8.3 -17.4 -8.7 14.9z" fill="#868939"/>
<path d="M1461 1243.2l10.6 18.9 5.7 1.9 -10.5 -18.7z" fill="#6d28b7"/>
<path d="M1126.9 989.5l8.9 -16.7 8 -13.4 -8.8 15.8z" fill="#e29638"/>
<path d="M1231.5 902.2l9.6 0.2 7.3 8.6 -9.5 -0.6z" fill="#e03028"/>
<path d="M1111 1020.6l8.8 -16.5 8.1 -16.4 -8.8 16.4z" fill="#9d802d"/>
<path d="M1079.1 1076.2l8.6 -11.3 8.3 -16.4 -8.6 12.4z" fill="#6e8b4b"/>
<path d="M1354.3 1043.3l10.1 23.3 6.4 11.6 -10 -22.1z" fill="#92b861"/>
<path d="M1063.1 1098.9l8.5 -9.4 8.4 -14.8 -8.5 10.2z" fill="#5b885a"/>
<path d="M1420.2 1179.1l10.4 21.9 6 3.5 -10.4 -20.7z" fill="#496de4"/>
<path d="M1047.1 1119.8l8.4 -8.4 8.5 -13.9 -8.4 8.9z" fill="#4d806d"/>
<path d="M1272.5 926.5l9.7 7.1 7.1 8.8 -9.7 -6.6z" fill="#e75731"/>
<path d="M1031 1140.5l8.4 -8.1 8.6 -13.8 -8.3 8.4z" fill="#417585"/>
<path d="M1313.4 969.9l10 14.8 6.7 11.6 -9.9 -14.8z" fill="#df9e3a"/>
<path d="M1379.4 1098.6l10.2 24.7 6.3 8.3 -10.2 -23.1z" fill="#66aca0"/>
<path d="M1015 1161.4l8.2 -8.1 8.8 -14 -8.3 8.5z" fill="#3a6b91"/>
<path d="M1215.5 899.4l9.5 -3.2 7.5 6.4 -9.4 2.4z" fill="#de2926"/>
<path d="M998.9 1181.6l8.1 -7.6 8.9 -13.8 -8.1 8.4z" fill="#365e98"/>
<path d="M1445.5 1222.5l10.5 19.9 5.9 2 -10.5 -19.4z" fill="#5935d3"/>
<path d="M982.8 1199.5l8.1 -6 9 -13 -8.1 7.3z" fill="#324e9e"/>
<path d="M1404.6 1152.1l10.4 23.7 6.1 4.8 -10.3 -22.1z" fill="#508dd8"/>
<path d="M1199.5 902.6l9.4 -6.2 7.6 3 -9.3 5.5z" fill="#de2925"/>
<path d="M1338.6 1011.6l10 21.5 6.6 12.2 -10 -20.8z" fill="#b8b246"/>
<path d="M1256.5 913.1l9.7 5.5 7.2 8.8 -9.6 -5z" fill="#e43e2d"/>
<path d="M966.6 1213.3l8 -3.3 9.1 -11.4 -8 5z" fill="#343da2"/>
<path d="M1297.6 949.8l9.9 11.8 6.9 9.7 -9.9 -11.6z" fill="#e78135"/>
<path d="M950.3 1222.3l8 -0.2 9.2 -9.5 -7.9 1.6z" fill="#3b35a9"/>
<path d="M1183.5 911.5l9.2 -8.5 7.8 -0.7 -9.3 8z" fill="#e02f28"/>
<path d="M1363.8 1065.2l10.2 25.1 6.4 10.2 -10.2 -23.7z" fill="#81ba76"/>
<path d="M1430 1199.9l10.5 21.4 5.9 2.4 -10.4 -20.4z" fill="#4e51e2"/>
<path d="M1167.4 926l9.2 -10.8 7.8 -4.4 -9.1 10.2z" fill="#e33a2c"/>
<path d="M1240.5 902.3l9.6 3.1 7.4 8.5 -9.6 -3z" fill="#e03028"/>
<path d="M1151.3 946.7l9.1 -13.5 8 -8.3 -9.1 12.5z" fill="#e75631"/>
<path d="M1389 1121.9l10.3 25.2 6.3 6.7 -10.3 -23.6z" fill="#5aa2c3"/>
<path d="M1322.8 983.8l10 18.3 6.7 11.3 -9.9 -18.1z" fill="#cfa23a"/>
<path d="M1087.2 1065.6l8.7 -13.1 8.3 -17.4 -8.7 14.1z" fill="#7a8b41"/>
<path d="M1103.2 1037l8.8 -16.2 8.2 -17.7 -8.7 16.5z" fill="#948531"/>
<path d="M1135.3 973.7l9 -16 8 -12.4 -9 15z" fill="#e77d35"/>
<path d="M1119.3 1005.1l8.8 -17.3 8.2 -15.9 -8.9 16.8z" fill="#a2762b"/>
<path d="M1281.7 933.2l9.8 9.6 7 8.1 -9.8 -8.9z" fill="#e86132"/>
<path d="M1071.1 1090.1l8.6 -10.4 8.5 -15.7 -8.6 11.3z" fill="#638a53"/>
<path d="M1055 1111.9l8.5 -8.7 8.6 -14.5 -8.5 9.3z" fill="#548562"/>
<path d="M1455.5 1241.3l10.6 19.1 5.8 1.8 -10.6 -18.9z" fill="#662ac3"/>
<path d="M1038.9 1132.8l8.4 -8.1 8.7 -14 -8.5 8.3z" fill="#477b79"/>
<path d="M1224.5 896.3l9.5 1.2 7.5 5.3 -9.6 -0.2z" fill="#dd2725"/>
<path d="M1022.7 1153.7l8.4 -8 8.8 -14.1 -8.4 8.2z" fill="#3d718c"/>
<path d="M1414.4 1174.5l10.4 23.3 6.1 3.5 -10.4 -22z" fill="#4d7ae4"/>
<path d="M1348.1 1031.8l10.1 24.3 6.5 11.1 -10 -23.2z" fill="#a6bc56"/>
<path d="M1006.6 1174.5l8.2 -7.7 8.9 -14.3 -8.2 8.1z" fill="#376595"/>
<path d="M1265.7 918.3l9.7 8.1 7.2 7.7 -9.7 -7.1z" fill="#e5452e"/>
<path d="M990.4 1193.9l8.2 -6.7 9 -13.9 -8.2 7.6z" fill="#34579c"/>
<path d="M1208.3 896.6l9.5 1.5 7.6 -1.7 -9.4 3.2z" fill="#dc2424"/>
<path d="M1306.9 960.8l10 15.1 6.9 9.4 -10 -14.8z" fill="#d78a34"/>
<path d="M1373.4 1088.9l10.2 26.2 6.4 8.7 -10.2 -24.7z" fill="#71b691"/>
<path d="M974.2 1210.2l8.1 -4.6 9.1 -12.8 -8.1 6z" fill="#3246a2"/>
<path d="M1439.9 1220.1l10.5 20.5 6 1.9 -10.6 -19.9z" fill="#553cd9"/>
<path d="M957.8 1222.2l8.1 -1.9 9.2 -10.9 -8 3.3z" fill="#3738a6"/>
<path d="M1192.2 903.4l9.4 -5.1 7.7 -1.8 -9.4 6.2z" fill="#dd2624"/>
<path d="M1398.7 1145.8l10.4 25.2 6.2 5.1 -10.3 -23.7z" fill="#5397d6"/>
<path d="M1249.6 905.1l9.7 6.4 7.3 7.6 -9.7 -5.5z" fill="#e13329"/>
<path d="M1332.3 1001l10 22 6.7 10.8 -10 -21.5z" fill="#ceb240"/>
<path d="M941.4 1230.7l8 0.2 9.4 -9.3 -8 0.2z" fill="#3d31aa"/>
<path d="M1176.1 915.7l9.3 -8.6 7.8 -4.3 -9.3 8.6z" fill="#e02f28"/>
<path d="M1290.9 942.2l10 12.5 7 7.4 -9.9 -11.8z" fill="#d96830"/>
<path d="M1159.9 933.9l9.2 -11.2 7.9 -7.9 -9.2 10.8z" fill="#e4402e"/>
<path d="M1357.6 1054.7l10.2 26.2 6.5 10 -10.1 -25.1z" fill="#92c06e"/>
<path d="M1424.2 1196.5l10.5 22.4 6.1 2.5 -10.5 -21.4z" fill="#4d5ee6"/>
<path d="M1095.4 1053.3l8.8 -15.4 8.3 -18.1 -8.8 16.2z" fill="#888938"/>
<path d="M1143.7 958.5l9.1 -14.4 8.1 -11.4 -9.1 13.4z" fill="#e86332"/>
<path d="M1079.2 1080.4l8.7 -12.1 8.5 -16.8 -8.7 13.1z" fill="#6f8b4a"/>
<path d="M1111.5 1021.8l8.9 -17.4 8.2 -17.6 -8.9 17.3z" fill="#9e7e2d"/>
<path d="M1127.6 988.7l9 -16.8 8.1 -15 -9 16z" fill="#a76928"/>
<path d="M1233.5 897.4l9.6 1.9 7.5 6.5 -9.7 -3.1z" fill="#dd2725"/>
<path d="M1063.1 1103.7l8.6 -9.6 8.5 -15.3 -8.6 10.4z" fill="#5b885a"/>
<path d="M1046.8 1125.2l8.6 -8.4 8.6 -14.4 -8.5 8.7z" fill="#4e806d"/>
<path d="M1383 1113.7l10.3 26.8 6.4 7.1 -10.3 -25.3z" fill="#62abb7"/>
<path d="M1030.6 1146.2l8.5 -8 8.7 -14.3 -8.4 8.1z" fill="#417685"/>
<path d="M1316.3 974.9l10.1 18.7 6.8 9.1 -10 -18.4z" fill="#dd9f3a"/>
<path d="M1274.9 925.9l9.9 11 7.1 6.3 -9.8 -9.6z" fill="#d44a2c"/>
<path d="M1014.4 1167.2l8.3 -7.8 8.9 -14.5 -8.4 8z" fill="#3a6c91"/>
<path d="M1449.8 1239.5l10.7 19.2 5.9 1.8 -10.6 -19.1z" fill="#612ec9"/>
<path d="M1217.3 898l9.6 1.5 7.5 -1.9 -9.5 -1.2z" fill="#c11f1f"/>
<path d="M998.1 1187.6l8.3 -7.1 8.9 -14.5 -8.2 7.7z" fill="#365f99"/>
<path d="M1408.5 1169.6l10.5 24.6 6.2 3.8 -10.5 -23.3z" fill="#5086e3"/>
<path d="M981.8 1205.9l8.2 -5.7 9.1 -13.7 -8.2 6.7z" fill="#334fa0"/>
<path d="M1341.8 1021.7l10.1 25 6.7 10 -10.1 -24.2z" fill="#bcc050"/>
<path d="M965.4 1220.5l8.1 -3.4 9.3 -12.2 -8.1 4.7z" fill="#353ea4"/>
<path d="M1201.1 898.4l9.5 1.5 7.7 -1.9 -9.5 -1.4z" fill="#c11f1f"/>
<path d="M1258.8 911l9.8 9.8 7.2 6.1 -9.7 -8.2z" fill="#e3382c"/>
<path d="M1300.3 953.9l10 15.7 7 6.7 -10 -15z" fill="#e58135"/>
<path d="M1367.2 1079.4l10.3 27.6 6.5 8.7 -10.3 -26.3z" fill="#7ec084"/>
<path d="M949 1231l8 -1.1 9.4 -10.2 -8 2z" fill="#3a33a7"/>
<path d="M1434.1 1217.7l10.7 21.1 6 1.9 -10.6 -20.5z" fill="#5344de"/>
<path d="M1184.8 907.5l9.4 -6.1 7.8 -3.2 -9.3 5z" fill="#dd2725"/>
<path d="M932.5 1240.2l7.9 -0.8 9.6 -9 -8 -0.2z" fill="#3f2ca7"/>
<path d="M1392.8 1139l10.4 26.8 6.3 5.5 -10.4 -25.2z" fill="#589fd1"/>
<path d="M1168.6 923.2l9.3 -8.4 7.9 -8.1 -9.3 8.7z" fill="#a7261f"/>
<path d="M1242.6 899l9.7 7.4 7.4 5.5 -9.7 -6.4z" fill="#de2a26"/>
<path d="M1325.8 992.5l10.1 22.5 6.8 8.6 -10.1 -22z" fill="#dfb441"/>
<path d="M1152.3 944.9l9.2 -11.6 8 -11.2 -9.1 11.3z" fill="#aa3823"/>
<path d="M1087.4 1069.1l8.8 -14.1 8.4 -18.1 -8.7 15.4z" fill="#7c8b3f"/>
<path d="M1284.2 936.3l10 13.9 7.1 4.8 -10 -12.5z" fill="#e76132"/>
<path d="M1103.7 1038.9l8.8 -16.8 8.3 -18.7 -8.8 17.4z" fill="#97842f"/>
<path d="M1071.2 1094.7l8.7 -10.8 8.5 -16.5 -8.7 12.1z" fill="#648a53"/>
<path d="M1136.1 972.8l9.1 -14.9 8.1 -14.5 -9.1 14.3z" fill="#ab5626"/>
<path d="M1119.9 1005.4l8.9 -17.1 8.3 -17.3 -9 16.8z" fill="#a4742b"/>
<path d="M1054.9 1117.3l8.6 -8.8 8.7 -15.2 -8.7 9.6z" fill="#548562"/>
<path d="M1418.4 1192.9l10.5 23.5 6.2 2.7 -10.5 -22.4z" fill="#4b6be9"/>
<path d="M1038.6 1138.6l8.5 -8 8.8 -14.6 -8.6 8.3z" fill="#487c79"/>
<path d="M1351.4 1045.2l10.2 27.2 6.6 9.1 -10.2 -26.3z" fill="#a6c765"/>
<path d="M1226.3 899.5l9.7 1.5 7.5 -1.6 -9.6 -1.8z" fill="#c21f1f"/>
<path d="M1022.2 1159.8l8.5 -7.7 8.9 -14.7 -8.5 7.9z" fill="#3e718d"/>
<path d="M1005.9 1180.9l8.3 -7.4 9 -14.9 -8.3 7.8z" fill="#386696"/>
<path d="M1376.9 1105.5l10.4 28.3 6.4 7.1 -10.3 -26.8z" fill="#6db5a7"/>
<path d="M989.5 1200.6l8.3 -6.3 9.1 -14.7 -8.3 7.2z" fill="#35589e"/>
<path d="M1268 920.2l9.9 13 7.3 4.1 -9.9 -11z" fill="#e2432e"/>
<path d="M1309.7 968.6l10.1 19.4 7 6.1 -10.1 -18.7z" fill="#ee9f3d"/>
<path d="M1210 899.8l9.6 1.6 7.7 -2 -9.6 -1.5z" fill="#c11f1f"/>
<path d="M1444.2 1237.7l10.7 19.3 6 1.8 -10.7 -19.2z" fill="#5c33cf"/>
<path d="M973.1 1217.4l8.2 -4.5 9.2 -13.4 -8.2 5.7z" fill="#3347a4"/>
<path d="M1402.6 1164.3l10.5 26.1 6.2 4.1 -10.4 -24.6z" fill="#538ee0"/>
<path d="M956.6 1230l8.1 -2.2 9.4 -11.3 -8.2 3.3z" fill="#3837a5"/>
<path d="M1193.7 901.5l9.5 0.2 7.8 -1.9 -9.5 -1.5z" fill="#c01f1f"/>
<path d="M1335.4 1013.6l10.2 25.6 6.7 8 -10.1 -25z" fill="#d3c44d"/>
<path d="M1251.8 905.9l9.8 11.6 7.4 3.6 -9.8 -9.7z" fill="#db3028"/>
<path d="M940 1239.5l8.1 -1 9.5 -9.2 -8.1 1.2z" fill="#3c2fa5"/>
<path d="M1293.6 949.4l10 17.1 7.1 3.4 -10 -15.7z" fill="#f9803a"/>
<path d="M1177.3 915.2l9.5 -5.1 7.9 -9.1 -9.4 6.1z" fill="#b0221e"/>
<path d="M1361 1070.9l10.3 28.7 6.6 8 -10.3 -27.7z" fill="#8dc77e"/>
<path d="M1428.3 1215.2l10.7 21.8 6.1 1.9 -10.6 -21.1z" fill="#514ce2"/>
<path d="M1161 933.8l9.3 -7.8 8 -11.8 -9.3 8.5z" fill="#ae2d22"/>
<path d="M1079.4 1084.6l8.8 -12.5 8.5 -18.1 -8.8 14.1z" fill="#708b48"/>
<path d="M1095.7 1055.8l8.9 -15.4 8.4 -19.4 -8.9 16.8z" fill="#8b8837"/>
<path d="M1144.7 958.6l9.2 -11.7 8.1 -14.4 -9.2 11.6z" fill="#ad4625"/>
<path d="M1112 1023.1l9 -16.5 8.3 -19.3 -9 17z" fill="#a07d2d"/>
<path d="M1128.3 989.2l9.1 -15 8.2 -17.3 -9.1 15z" fill="#aa6628"/>
<path d="M1063 1109l8.7 -9.6 8.7 -16.4 -8.7 10.8z" fill="#5c895a"/>
<path d="M1235.4 900.8l9.8 3.7 7.5 2.1 -9.7 -7.4z" fill="#d02322"/>
<path d="M1386.7 1132.2l10.4 28.2 6.4 5.7 -10.4 -26.7z" fill="#5da7cc"/>
<path d="M1046.6 1131.1l8.7 -8.1 8.7 -15.4 -8.6 8.9z" fill="#4e816d"/>
<path d="M1319.3 986.8l10.1 22.9 6.9 5.7 -10.1 -22.5z" fill="#f0b845"/>
<path d="M1277.4 932.4l9.9 16.1 7.3 2 -10 -14z" fill="#fa6038"/>
<path d="M1030.2 1152.5l8.5 -7.6 8.9 -15.1 -8.5 8z" fill="#427787"/>
<path d="M1013.8 1173.9l8.4 -7.3 9 -15.4 -8.5 7.8z" fill="#3a6d93"/>
<path d="M1412.5 1189l10.6 24.7 6.2 2.9 -10.6 -23.5z" fill="#4d75e9"/>
<path d="M1219.1 901.3l9.7 1.5 7.6 -1.9 -9.7 -1.5z" fill="#c11f1f"/>
<path d="M997.3 1194.7l8.4 -6.7 9.1 -15.4 -8.4 7.4z" fill="#37609b"/>
<path d="M1345 1037.7l10.3 27.8 6.7 7.4 -10.3 -27.2z" fill="#bacd5f"/>
<path d="M980.8 1213.2l8.3 -5.1 9.2 -14.6 -8.3 6.3z" fill="#3350a2"/>
<path d="M964.2 1228l8.3 -3 9.3 -12.8 -8.2 4.4z" fill="#353ea5"/>
<path d="M1261 916.8l10 15.2 7.3 1.4 -9.9 -13z" fill="#f74333"/>
<path d="M1202.7 901.7l9.6 1.5 7.8 -1.9 -9.6 -1.6z" fill="#c11f1f"/>
<path d="M1303.1 965.4l10.1 20.4 7 2.4 -10.1 -19.3z" fill="#ffa342"/>
<path d="M1370.7 1098l10.4 29.4 6.6 6.8 -10.4 -28.3z" fill="#78c09a"/>
<path d="M1438.4 1235.8l10.8 19.5 6.1 1.8 -10.8 -19.3z" fill="#5737d5"/>
<path d="M947.6 1238.6l8.1 -1.1 9.5 -10.3 -8.1 2.2z" fill="#3a33a6"/>
<path d="M1186.2 910.3l9.6 -1.5 7.9 -7.4 -9.6 -0.2z" fill="#c32220"/>
<path d="M1396.5 1158.9l10.6 27.4 6.3 4.4 -10.5 -26.1z" fill="#5597dd"/>
<path d="M1328.9 1008.3l10.2 26 6.9 5.2 -10.2 -25.5z" fill="#e9ca4b"/>
<path d="M1244.7 904l9.8 13.3 7.5 0.3 -9.8 -11.5z" fill="#f2332d"/>
<path d="M1169.8 926.3l9.4 -3.7 8 -13.1 -9.4 5.1z" fill="#ba2a22"/>
<path d="M1286.8 947.6l10.1 18.9 7.1 0.1 -10 -17.1z" fill="#ff8240"/>
<path d="M1153.3 947.4l9.4 -7 8.1 -15.2 -9.3 7.9z" fill="#b53b25"/>
<path d="M1087.7 1072.8l8.9 -13.4 8.5 -20 -8.9 15.4z" fill="#7e8b3f"/>
<path d="M1071.2 1100l8.9 -10.6 8.6 -18.3 -8.8 12.5z" fill="#658b52"/>
<path d="M1104.1 1041.3l9 -15.1 8.4 -20.8 -9 16.5z" fill="#9b852f"/>
<path d="M1422.5 1212.3l10.7 22.7 6.2 2.1 -10.7 -21.8z" fill="#4f55e6"/>
<path d="M1136.9 974.9l9.2 -11.4 8.2 -17.5 -9.2 11.7z" fill="#af5627"/>
<path d="M1120.5 1007.4l9.1 -14.5 8.3 -19.8 -9.1 15.1z" fill="#a7742b"/>
<path d="M1354.7 1063.9l10.3 29.5 6.7 6.6 -10.3 -28.7z" fill="#9dcf79"/>
<path d="M1054.8 1123.5l8.7 -8.4 8.7 -16.6 -8.7 9.6z" fill="#548662"/>
<path d="M1038.3 1145.4l8.6 -7.4 8.9 -15.9 -8.7 8.1z" fill="#487d7b"/>
<path d="M1228.2 902.7l9.8 4.3 7.7 -2.5 -9.8 -3.8z" fill="#ce2221"/>
<path d="M1021.7 1167l8.6 -7.1 9 -15.8 -8.6 7.6z" fill="#3e728f"/>
<path d="M1380.5 1125.8l10.5 29.4 6.5 5.6 -10.4 -28.2z" fill="#64b0c4"/>
<path d="M1005.2 1188.4l8.5 -6.6 9 -16.1 -8.4 7.3z" fill="#396799"/>
<path d="M1312.6 984.5l10.2 23.5 7 1.9 -10.1 -22.9z" fill="#ffbd4a"/>
<path d="M1270.4 931.1l10 18.4 7.4 -0.9 -10 -16.1z" fill="#ff623d"/>
<path d="M988.6 1208.4l8.4 -5.5 9.2 -15.8 -8.4 6.7z" fill="#3559a1"/>
<path d="M1211.7 903.1l9.8 1.7 7.7 -2.1 -9.7 -1.5z" fill="#c21f1f"/>
<path d="M972 1225.3l8.3 -3.5 9.3 -14.5 -8.3 5.1z" fill="#3447a7"/>
<path d="M1406.5 1184.8l10.6 25.9 6.3 3.2 -10.6 -24.7z" fill="#5081e8"/>
<path d="M1338.5 1032.7l10.3 28.2 6.9 5 -10.3 -27.9z" fill="#cdd45d"/>
<path d="M955.3 1237.6l8.2 -1.2 9.5 -12 -8.2 2.9z" fill="#3937a8"/>
<path d="M1195.2 908.8l9.7 2.5 7.8 -8.4 -9.6 -1.5z" fill="#cc2321"/>
<path d="M1254 916.5l9.9 17.4 7.5 -1.8 -9.9 -15.3z" fill="#ff4839"/>
<path d="M1296.3 965.4l10.1 21.7 7.2 -1.3 -10.1 -20.3z" fill="#ffa647"/>
<path d="M1364.5 1091.7l10.4 30.3 6.6 5.8 -10.4 -29.4z" fill="#83ca90"/>
<path d="M1432.6 1233.8l10.8 19.9 6.1 1.7 -10.7 -19.5z" fill="#543ed9"/>
<path d="M1178.7 922.8l9.6 0.4 7.9 -15 -9.5 1.4z" fill="#c62a23"/>
<path d="M1162.2 940.7l9.4 -2.2 8.1 -16.7 -9.5 3.7z" fill="#c23727"/>
<path d="M1390.4 1153.6l10.6 28.6 6.4 4.4 -10.5 -27.4z" fill="#59a0da"/>
<path d="M1145.6 964l9.4 -6.2 8.1 -18.4 -9.3 7.1z" fill="#ba4e28"/>
<path d="M1237.5 906.5l9.9 14.7 7.6 -3.9 -9.9 -13.3z" fill="#ff3a35"/>
<path d="M1079.6 1090l8.9 -11 8.6 -20.7 -8.9 13.5z" fill="#728c49"/>
<path d="M1322.2 1006.6l10.3 26.1 7 1.8 -10.3 -25.9z" fill="#f9d04e"/>
<path d="M1096.1 1060.2l9 -13.1 8.5 -22 -9 15.1z" fill="#8d8a37"/>
<path d="M1112.6 1027.1l9.1 -13.2 8.4 -22.1 -9.1 14.5z" fill="#a37f2e"/>
<path d="M1129.1 993.7l9.2 -10.8 8.3 -20.5 -9.2 11.5z" fill="#ae6a29"/>
<path d="M1063 1115.7l8.8 -8.6 8.8 -18.7 -8.9 10.6z" fill="#5c895b"/>
<path d="M1279.9 948.5l10.1 21 7.3 -3 -10.1 -19z" fill="#ff8645"/>
<path d="M1046.4 1138.4l8.8 -7 8.8 -17.2 -8.7 8.3z" fill="#4f8371"/>
<path d="M1029.8 1160.3l8.7 -6.4 8.9 -16.8 -8.6 7.4z" fill="#42798b"/>
<path d="M1416.5 1209.3l10.8 23.6 6.2 2.2 -10.7 -22.6z" fill="#4d62e9"/>
<path d="M1013.2 1182.2l8.5 -6.3 9.1 -16.9 -8.6 7.1z" fill="#3b6e97"/>
<path d="M1348.3 1059.3l10.4 29.8 6.7 4.6 -10.3 -29.4z" fill="#add674"/>
<path d="M1220.9 904.5l9.9 10.6 7.7 -8.3 -9.8 -4.3z" fill="#ef2c2a"/>
<path d="M996.5 1203.3l8.5 -5.4 9.2 -17 -8.5 6.6z" fill="#38619f"/>
<path d="M979.8 1222.1l8.4 -3.7 9.3 -16.3 -8.4 5.4z" fill="#3450a7"/>
<path d="M1374.3 1120.3l10.5 30.3 6.6 4.9 -10.5 -29.4z" fill="#6ebab8"/>
<path d="M1305.9 985.8l10.2 24.1 7.1 -1.9 -10.2 -23.4z" fill="#ffc34e"/>
<path d="M1263.4 932.9l10 20.5 7.5 -3.9 -10.1 -18.4z" fill="#ff6742"/>
<path d="M963.1 1236.5l8.3 -1.2 9.4 -14.2 -8.3 3.4z" fill="#383eaa"/>
<path d="M1204.3 911.1l9.8 6.7 7.8 -13.4 -9.7 -1.6z" fill="#de2825"/>
<path d="M1400.4 1180.7l10.7 27 6.4 3.2 -10.7 -25.9z" fill="#538be7"/>
<path d="M1187.7 923.1l9.7 4.3 7.9 -16.8 -9.6 -2.5z" fill="#db2e27"/>
<path d="M1331.9 1031.2l10.4 28.1 6.9 1.8 -10.3 -28.2z" fill="#dedb5d"/>
<path d="M1246.8 920.3l10 18.9 7.6 -5.5 -10 -17.3z" fill="#ff4e3e"/>
<path d="M1171.1 938.6l9.5 2.3 8.1 -18.6 -9.6 -0.4z" fill="#d4382a"/>
<path d="M1289.4 968.3l10.2 23 7.2 -4.4 -10.1 -21.6z" fill="#ffac4b"/>
<path d="M1154.4 958l9.5 -0.6 8.2 -19.8 -9.5 2.1z" fill="#c84c2a"/>
<path d="M1358.1 1087.4l10.4 30.6 6.8 4.3 -10.5 -30.3z" fill="#8fd28c"/>
<path d="M1426.7 1231.7l10.8 20.6 6.3 1.5 -10.9 -19.9z" fill="#5246de"/>
<path d="M1137.8 983.4l9.4 -5.3 8.2 -21.4 -9.3 6.2z" fill="#bd652b"/>
<path d="M1088 1079.6l9 -10.5 8.6 -23.2 -9 13.1z" fill="#7f8d41"/>
<path d="M1104.6 1047.9l9.1 -11.3 8.5 -24 -9.1 13.2z" fill="#9c8831"/>
<path d="M1071.3 1107.6l9 -8.5 8.7 -21.3 -8.9 11.1z" fill="#658c55"/>
<path d="M1121.2 1014.5l9.2 -9.6 8.4 -23.2 -9.2 10.8z" fill="#ac7a2d"/>
<path d="M1054.7 1131.9l8.8 -6.6 8.8 -19.2 -8.8 8.5z" fill="#568968"/>
<path d="M1230.2 914.5l9.9 15.5 7.7 -9.1 -9.9 -14.8z" fill="#ff423a"/>
<path d="M1038 1154.2l8.7 -5.6 9 -18.1 -8.8 7z" fill="#497f82"/>
<path d="M1384.2 1148.9l10.6 29.6 6.6 4 -10.6 -28.6z" fill="#5ea8d7"/>
<path d="M1315.5 1008.5l10.3 26 7.1 -1.8 -10.3 -26.1z" fill="#ffd652"/>
<path d="M1272.9 952.2l10.1 22.8 7.4 -5.7 -10.1 -21z" fill="#ff8c48"/>
<path d="M1021.2 1176.3l8.7 -5.4 9.1 -18 -8.7 6.5z" fill="#3f7495"/>
<path d="M1004.5 1198.2l8.6 -5 9.1 -18.2 -8.5 6.2z" fill="#3a689e"/>
<path d="M987.7 1218.6l8.5 -3.6 9.3 -18.1 -8.5 5.4z" fill="#3658a7"/>
<path d="M1213.5 917.4l9.9 11.3 7.8 -14.1 -9.8 -10.6z" fill="#ff3b34"/>
<path d="M1410.5 1206.3l10.8 24.6 6.3 2.2 -10.7 -23.6z" fill="#4c6eec"/>
<path d="M1341.7 1057.7l10.5 29.5 6.8 2.1 -10.4 -29.8z" fill="#bcdf72"/>
<path d="M970.9 1235.5l8.4 -1.2 9.4 -16.8 -8.3 3.7z" fill="#3745ac"/>
<path d="M1196.8 927.1l9.8 8.2 7.9 -18.3 -9.7 -6.7z" fill="#f2392f"/>
<path d="M1256.2 938.1l10.1 22 7.6 -7 -10.1 -20.5z" fill="#ff6f46"/>
<path d="M1299 990l10.3 24.6 7.2 -4.9 -10.2 -24.1z" fill="#ffc951"/>
<path d="M1368 1116.2l10.5 30.7 6.7 4 -10.5 -30.3z" fill="#77c3ad"/>
<path d="M1180.1 940.7l9.7 6.2 8 -20.5 -9.6 -4.3z" fill="#e7402f"/>
<path d="M1163.4 957.3l9.6 4 8.1 -21.5 -9.6 -2.3z" fill="#df542f"/>
<path d="M1394.2 1176.9l10.8 28 6.4 3 -10.6 -27z" fill="#5694e5"/>
<path d="M1325.3 1033l10.4 27.7 7 -1.4 -10.4 -28.1z" fill="#e9e15f"/>
<path d="M1239.6 929l10 19.5 7.6 -9.7 -10 -18.9z" fill="#ff5743"/>
<path d="M1146.6 978.3l9.5 0.4 8.3 -22.5 -9.5 0.7z" fill="#cf672e"/>
<path d="M1282.4 973.7l10.2 24.2 7.4 -6.9 -10.2 -23z" fill="#ffb44d"/>
<path d="M1129.9 1005.4l9.4 -4.5 8.3 -24 -9.3 5.2z" fill="#bb7c2e"/>
<path d="M1096.5 1069.7l9.1 -9 8.6 -25.5 -9.1 11.3z" fill="#8d8f3b"/>
<path d="M1079.8 1099.7l9 -7.8 8.7 -24.1 -9 10.6z" fill="#71904e"/>
<path d="M1113.2 1037.2l9.2 -8.1 8.5 -25.5 -9.2 9.6z" fill="#a88830"/>
<path d="M1063 1125.8l9 -5.9 8.8 -21.9 -9 8.5z" fill="#5d8f61"/>
<path d="M1046.2 1148.9l8.9 -4.5 8.9 -20.1 -8.8 6.5z" fill="#4f867a"/>
<path d="M1351.6 1085.5l10.5 30.3 6.8 2.3 -10.5 -30.5z" fill="#9ad98b"/>
<path d="M1420.7 1229.6l10.9 21.5 6.3 1.3 -10.9 -20.6z" fill="#504ee3"/>
<path d="M1029.4 1171.2l8.8 -4.3 9 -19.3 -8.7 5.6z" fill="#437b93"/>
<path d="M1222.8 928l10 15.6 7.8 -14.3 -10 -15.5z" fill="#ff4c3e"/>
<path d="M1012.6 1193.5l8.7 -4.2 9.1 -19.5 -8.6 5.5z" fill="#3c6f9e"/>
<path d="M1308.7 1013.1l10.4 26 7.2 -4.7 -10.4 -26.1z" fill="#ffdb55"/>
<path d="M995.7 1215.3l8.6 -3.3 9.3 -19.8 -8.6 5z" fill="#3961a7"/>
<path d="M1265.7 958.8l10.2 24 7.5 -8.2 -10.1 -22.7z" fill="#ff964a"/>
<path d="M1377.9 1145.2l10.7 30.1 6.6 3.4 -10.6 -29.5z" fill="#63b0d4"/>
<path d="M978.8 1234.5l8.6 -1.1 9.4 -19.4 -8.5 3.6z" fill="#364daf"/>
<path d="M1206 934.8l9.9 11.8 7.9 -18.8 -9.8 -11.3z" fill="#ff4838"/>
<path d="M1189.2 946.5l9.8 9.5 8 -21.8 -9.7 -8.2z" fill="#f85036"/>
<path d="M1404.4 1203.4l10.8 25.6 6.4 2.1 -10.8 -24.7z" fill="#4f78ec"/>
<path d="M1335.1 1059.1l10.5 28.8 7 -0.7 -10.5 -29.5z" fill="#c6e572"/>
<path d="M1249 947.4l10.1 22.4 7.7 -10.2 -10.1 -21.9z" fill="#ff7b49"/>
<path d="M1292.1 996.5l10.3 25 7.3 -7.3 -10.3 -24.6z" fill="#ffcf53"/>
<path d="M1172.4 961l9.7 7.7 8.1 -23 -9.6 -6.2z" fill="#f06035"/>
<path d="M1361.5 1114.1l10.6 30.5 6.8 2.5 -10.6 -30.7z" fill="#80cca7"/>
<path d="M1155.6 978.6l9.6 5 8.2 -23.5 -9.6 -4z" fill="#e47233"/>
<path d="M1138.7 1001.1l9.5 0.9 8.4 -24.6 -9.5 -0.4z" fill="#ce8532"/>
<path d="M1232.2 942.6l10.1 19.1 7.7 -13.8 -10 -19.5z" fill="#ff6845"/>
<path d="M1121.9 1029.4l9.4 -3.6 8.4 -26.3 -9.3 4.5z" fill="#b58c32"/>
<path d="M1105.1 1061.2l9.3 -6.4 8.5 -27.2 -9.2 8.1z" fill="#9c9238"/>
<path d="M1088.3 1092.3l9.2 -6.5 8.6 -26.5 -9.1 9z" fill="#7e9548"/>
<path d="M1071.5 1120.3l9 -5.1 8.8 -24.6 -9 7.8z" fill="#66935d"/>
<path d="M1318.5 1037.5l10.4 27 7.2 -4 -10.4 -27.6z" fill="#eee661"/>
<path d="M1388 1173.6l10.7 28.7 6.6 2.7 -10.7 -27.9z" fill="#599ce4"/>
<path d="M1054.6 1144.7l9 -3.5 8.9 -22.5 -9 5.9z" fill="#568c74"/>
<path d="M1275.3 981.5l10.3 24.8 7.5 -8.8 -10.3 -24.2z" fill="#ffbe4f"/>
<path d="M1037.7 1167.1l8.9 -2.7 9 -21.1 -8.9 4.5z" fill="#488291"/>
<path d="M1020.8 1189.6l8.8 -3 9.1 -20.8 -8.8 4.3z" fill="#3f769e"/>
<path d="M1215.4 945.8l9.9 15.2 7.9 -18.3 -9.9 -15.6z" fill="#ff6040"/>
<path d="M1003.8 1212.2l8.7 -2.6 9.3 -21.4 -8.7 4.2z" fill="#3b67a7"/>
<path d="M1345 1086.2l10.6 29.6 6.9 0.1 -10.5 -30.3z" fill="#a3df8b"/>
<path d="M1414.6 1227.7l10.9 22.5 6.4 1 -10.9 -21.5z" fill="#5058e8"/>
<path d="M986.9 1233.5l8.6 -0.9 9.4 -21.7 -8.6 3.2z" fill="#3754b0"/>
<path d="M1258.5 968.4l10.2 24.2 7.6 -10.3 -10.1 -24z" fill="#ffa34c"/>
<path d="M1198.5 955.4l9.9 12.1 8 -22 -9.9 -11.9z" fill="#ff633c"/>
<path d="M1301.8 1020l10.4 25.6 7.3 -6.9 -10.4 -25.9z" fill="#ffe056"/>
<path d="M1371.5 1142.9l10.7 30.1 6.8 2.5 -10.7 -30.1z" fill="#68b7d2"/>
<path d="M1181.6 968.2l9.8 10.4 8.1 -23.9 -9.8 -9.5z" fill="#fd713a"/>
<path d="M1164.6 983.2l9.8 8.5 8.2 -24.3 -9.7 -7.7z" fill="#f38239"/>
<path d="M1241.7 960.5l10.1 21.6 7.8 -13 -10.2 -22.4z" fill="#ff8c4a"/>
<path d="M1328.3 1063l10.6 27.8 7.1 -3 -10.5 -28.8z" fill="#cbe974"/>
<path d="M1398.1 1200.8l10.9 26.5 6.6 1.8 -10.9 -25.6z" fill="#5283ed"/>
<path d="M1285 1004.9l10.4 25 7.4 -8.9 -10.3 -24.9z" fill="#ffd555"/>
<path d="M1147.7 1001.9l9.6 5.2 8.4 -24.9 -9.7 -5z" fill="#e19137"/>
<path d="M1130.8 1025.9l9.5 1.1 8.4 -26.4 -9.5 -1z" fill="#c89737"/>
<path d="M1113.8 1055.1l9.4 -2.8 8.6 -28 -9.4 3.6z" fill="#aa9737"/>
<path d="M1096.9 1086.2l9.3 -4.6 8.7 -28.3 -9.3 6.4z" fill="#8a9945"/>
<path d="M1080 1115.6l9.2 -4.1 8.8 -27.1 -9.2 6.5z" fill="#6e975a"/>
<path d="M1355 1114.1l10.6 29.7 6.9 0.9 -10.6 -30.5z" fill="#87d3a4"/>
<path d="M1063.1 1141.5l9.1 -2.5 8.8 -25.1 -9 5z" fill="#5b926f"/>
<path d="M1224.8 960.1l10 17.9 7.9 -17.2 -10.1 -19.1z" fill="#ff7f47"/>
<path d="M1046.1 1164.5l9 -1.4 9 -23.1 -9 3.4z" fill="#4d878c"/>
<path d="M1029.1 1186.8l8.9 -1.3 9.1 -22.3 -8.9 2.7z" fill="#437c9f"/>
<path d="M1268.2 991.2l10.3 24.7 7.5 -10.1 -10.2 -24.9z" fill="#ffc552"/>
<path d="M1311.6 1044.1l10.5 26.2 7.2 -6.1 -10.4 -27z" fill="#ede964"/>
<path d="M1012 1209.8l8.8 -1.6 9.3 -22.8 -8.8 3z" fill="#3d6da8"/>
<path d="M1207.8 966.8l10 14.3 8 -21.2 -10 -15.2z" fill="#ff7c42"/>
<path d="M1381.6 1171.3l10.8 29 6.7 2.2 -10.7 -28.7z" fill="#5ca4e3"/>
<path d="M995 1232.7l8.7 -0.6 9.4 -23.7 -8.7 2.6z" fill="#385ab0"/>
<path d="M1190.8 978l9.9 12.1 8.1 -23.9 -9.9 -12.1z" fill="#ff843e"/>
<path d="M1338.3 1089.1l10.6 28.4 7.1 -1.8 -10.6 -29.5z" fill="#a8e38c"/>
<path d="M1251.2 980.9l10.3 23.1 7.7 -12.1 -10.2 -24.1z" fill="#ffb34e"/>
<path d="M1408.4 1225.9l11 23.7 6.5 0.6 -11 -22.4z" fill="#4f63ec"/>
<path d="M1294.8 1028.4l10.4 25.1 7.4 -8.3 -10.4 -25.6z" fill="#ffe458"/>
<path d="M1173.8 991.1l9.8 10.8 8.2 -24.7 -9.8 -10.3z" fill="#fb943e"/>
<path d="M1156.8 1006.7l9.7 8.4 8.3 -24.8 -9.7 -8.5z" fill="#eda03d"/>
<path d="M1365 1142.1l10.8 29.6 6.8 1.4 -10.7 -30.1z" fill="#6fbecb"/>
<path d="M1234.3 976.9l10.1 20 7.9 -15.6 -10.2 -21.6z" fill="#ffa14b"/>
<path d="M1139.7 1026.8l9.7 4.9 8.4 -26 -9.6 -5.3z" fill="#d7a33b"/>
<path d="M1122.7 1052.3l9.5 1 8.6 -27.8 -9.6 -1.1z" fill="#bca23a"/>
<path d="M1321.5 1068.8l10.6 26.6 7.2 -4.9 -10.6 -27.8z" fill="#ccec76"/>
<path d="M1277.9 1014.5l10.4 24.5 7.5 -9.7 -10.4 -25z" fill="#ffda56"/>
<path d="M1105.7 1081.8l9.4 -2 8.6 -29.1 -9.4 2.8z" fill="#959d44"/>
<path d="M1088.7 1111.8l9.3 -2.8 8.7 -28.9 -9.3 4.5z" fill="#769b57"/>
<path d="M1071.6 1139.2l9.2 -1.8 8.9 -27.3 -9.2 4z" fill="#609669"/>
<path d="M1391.8 1198.7l10.9 27.3 6.7 1.4 -10.9 -26.5z" fill="#558ded"/>
<path d="M1054.6 1163.3l9.1 -0.4 9 -25.3 -9.1 2.5z" fill="#518b88"/>
<path d="M1217.2 980.2l10.1 16.3 8 -19.6 -10.1 -17.9z" fill="#ff9847"/>
<path d="M1037.5 1185.5l9 0.1 9.1 -23.7 -9 1.4z" fill="#46809f"/>
<path d="M1020.3 1208.3l9 -0.4 9.2 -23.7 -8.9 1.3z" fill="#3f73a9"/>
<path d="M1348.3 1115.9l10.7 28.6 7 -0.7 -10.6 -29.8z" fill="#8cd8a2"/>
<path d="M1003.2 1232.2l8.8 -0.4 9.4 -24.9 -8.8 1.6z" fill="#3a5fb0"/>
<path d="M1260.9 1002.7l10.3 23.7 7.7 -11.1 -10.3 -24.7z" fill="#ffce54"/>
<path d="M1200.2 989.4l10 13.3 8.1 -22.9 -10 -14.3z" fill="#ff9a43"/>
<path d="M1304.6 1052.1l10.6 25.2 7.3 -7.4 -10.5 -26.2z" fill="#e9ec68"/>
<path d="M1183.1 1001.2l9.9 11.8 8.2 -24.3 -9.9 -12.1z" fill="#fea542"/>
<path d="M1375.2 1170l10.8 28.9 6.8 1.5 -10.8 -29z" fill="#5faae1"/>
<path d="M1166 1014.6l9.8 10.3 8.3 -24.4 -9.8 -10.8z" fill="#f3ad43"/>
<path d="M1243.9 995.6l10.2 21.5 7.8 -13.9 -10.2 -23.1z" fill="#ffc251"/>
<path d="M1331.5 1093.8l10.7 27.1 7.1 -3.6 -10.6 -28.3z" fill="#aae68e"/>
<path d="M1287.7 1037.6l10.4 24.5 7.5 -9.1 -10.4 -25.1z" fill="#ffe75d"/>
<path d="M1148.8 1031.3l9.8 7.7 8.4 -25.3 -9.8 -8.4z" fill="#e2b040"/>
<path d="M1402.1 1224.5l11.1 24.9 6.6 0.2 -11 -23.6z" fill="#4f6ef1"/>
<path d="M1131.7 1053.1l9.6 4.1 8.5 -27 -9.6 -4.9z" fill="#c8ad3e"/>
<path d="M1226.8 995.5l10.2 17.9 7.9 -17.5 -10.2 -20z" fill="#ffb84c"/>
<path d="M1114.6 1079.8l9.5 0.7 8.6 -28.8 -9.5 -1z" fill="#a2a747"/>
<path d="M1097.4 1109.2l9.5 -1.3 8.7 -29.7 -9.4 2z" fill="#7ea056"/>
<path d="M1358.4 1142.9l10.8 28.7 7 0.1 -10.8 -29.5z" fill="#74c4c7"/>
<path d="M1080.3 1137.6l9.3 -1.1 8.9 -29.1 -9.3 2.8z" fill="#659967"/>
<path d="M1063.2 1162.9l9.2 0.2 8.9 -27.1 -9.2 1.7z" fill="#558f84"/>
<path d="M1270.6 1025l10.5 23.8 7.6 -10.3 -10.4 -24.6z" fill="#ffdf57"/>
<path d="M1046 1185.6l9.1 1.1 9.1 -25.2 -9.1 0.4z" fill="#4885a1"/>
<path d="M1314.6 1075.9l10.6 25.5 7.3 -6.4 -10.6 -26.6z" fill="#caed7a"/>
<path d="M1209.6 1001.9l10.1 14.5 8.1 -21.1 -10.1 -16.3z" fill="#ffb148"/>
<path d="M1028.7 1207.9l9.1 0.8 9.2 -24.4 -9 -0.1z" fill="#4178ac"/>
<path d="M1011.5 1231.8l9 0 9.3 -25.3 -8.9 0.4z" fill="#3c65b1"/>
<path d="M1385.4 1197.3l11 27.8 6.7 1 -10.9 -27.3z" fill="#5894ed"/>
<path d="M1192.4 1012.3l10.1 12.4 8.1 -23.3 -10 -13.4z" fill="#fdb246"/>
<path d="M1253.5 1015.8l10.4 22.2 7.8 -12.3 -10.4 -23.7z" fill="#ffd756"/>
<path d="M1341.6 1119.3l10.7 27.4 7.1 -2.3 -10.7 -28.7z" fill="#8fdca1"/>
<path d="M1297.6 1060.7l10.5 24.5 7.5 -8.3 -10.6 -25.3z" fill="#e3ed6c"/>
<path d="M1175.2 1024.3l10 11.2 8.3 -23.9 -10 -11.8z" fill="#f4b846"/>
<path d="M1158 1038.5l9.9 9.4 8.4 -24.4 -9.9 -10.3z" fill="#e7ba44"/>
<path d="M1236.4 1012.3l10.3 19.3 7.9 -15.4 -10.3 -21.5z" fill="#ffcd52"/>
<path d="M1368.6 1170l10.9 28.4 6.9 0.6 -10.8 -28.9z" fill="#63b0e0"/>
<path d="M1140.8 1056.8l9.7 6.5 8.5 -25.8 -9.7 -7.6z" fill="#ceb743"/>
<path d="M1280.5 1047.4l10.5 23.7 7.6 -9.5 -10.5 -24.5z" fill="#f8e961"/>
<path d="M1324.6 1099.9l10.7 25.8 7.3 -5.1 -10.7 -27z" fill="#aae891"/>
<path d="M1123.5 1080.3l9.7 3 8.6 -27.7 -9.6 -4z" fill="#aab04a"/>
<path d="M1106.3 1107.9l9.5 0.2 8.8 -29.3 -9.6 -0.6z" fill="#87a757"/>
<path d="M1089.1 1136.6l9.4 -0.7 8.8 -29.7 -9.4 1.3z" fill="#6a9d67"/>
<path d="M1219.2 1015.5l10.2 15.9 8 -19.1 -10.2 -17.9z" fill="#ffc44e"/>
<path d="M1071.8 1163.1l9.4 0.3 8.9 -28.5 -9.3 1.1z" fill="#589381"/>
<path d="M1395.8 1223.6l11 26.2 6.7 -0.3 -11 -24.9z" fill="#5177f4"/>
<path d="M1054.6 1186.6l9.2 1.5 9.1 -26.5 -9.2 -0.2z" fill="#4a88a2"/>
<path d="M1037.3 1208.6l9.1 1.5 9.2 -24.8 -9.1 -1z" fill="#437caf"/>
<path d="M1351.7 1145.1l10.9 27.7 7 -1.3 -10.8 -28.7z" fill="#78c8c4"/>
<path d="M1201.9 1023.9l10.1 13.1 8.2 -21.8 -10.1 -14.6z" fill="#fec04a"/>
<path d="M1263.3 1036.7l10.5 22.6 7.7 -11.2 -10.4 -23.7z" fill="#ffe458"/>
<path d="M1019.9 1231.8l9.1 0.4 9.3 -24.9 -9 -0.8z" fill="#3e6ab4"/>
<path d="M1307.5 1083.8l10.7 24.5 7.4 -7.3 -10.6 -25.5z" fill="#c5ed7f"/>
<path d="M1184.6 1034.8l10.1 11.5 8.2 -23 -10 -12.3z" fill="#f2c048"/>
<path d="M1378.9 1196.8l11 28 6.9 0.3 -11 -27.7z" fill="#5a9aed"/>
<path d="M1246.1 1030.4l10.4 20.4 7.8 -13.6 -10.3 -22.2z" fill="#ffdc56"/>
<path d="M1167.3 1047.4l10 10.2 8.4 -23.5 -10 -11.1z" fill="#e7c347"/>
<path d="M1334.7 1124.2l10.8 26.1 7.2 -3.8 -10.7 -27.4z" fill="#91dea3"/>
<path d="M1290.4 1069.8l10.6 23.7 7.6 -8.8 -10.6 -24.5z" fill="#dcee71"/>
<path d="M1150 1062.8l9.8 8.2 8.5 -24.5 -9.8 -9.4z" fill="#d0c04a"/>
<path d="M1132.6 1083l9.8 5 8.6 -26.2 -9.7 -6.5z" fill="#afb74e"/>
<path d="M1228.8 1030.4l10.3 17.1 8 -16.9 -10.3 -19.3z" fill="#ffd453"/>
<path d="M1115.3 1108.1l9.6 1.8 8.8 -28.2 -9.7 -3z" fill="#8dad59"/>
<path d="M1098 1136l9.5 -0.1 8.8 -29.4 -9.5 -0.3z" fill="#6fa268"/>
<path d="M1362 1171.2l10.9 27.8 7 -0.6 -10.9 -28.5z" fill="#66b4e0"/>
<path d="M1080.6 1163.5l9.5 0 8.9 -29.2 -9.4 0.6z" fill="#5a957e"/>
<path d="M1273.2 1058l10.5 22.8 7.7 -10.3 -10.5 -23.7z" fill="#efec66"/>
<path d="M1063.3 1188l9.3 1.3 9.1 -27.4 -9.3 -0.3z" fill="#4b89a1"/>
<path d="M1317.6 1106.9l10.8 24.8 7.3 -6.4 -10.7 -25.8z" fill="#a8e893"/>
<path d="M1211.5 1036.2l10.2 14 8.1 -20 -10.2 -15.8z" fill="#fdcc4e"/>
<path d="M1045.9 1210l9.2 1.9 9.2 -25.3 -9.2 -1.4z" fill="#447eb0"/>
<path d="M1028.5 1232.2l9.1 0.8 9.3 -24.3 -9.1 -1.5z" fill="#3f6db5"/>
<path d="M1194.1 1045.6l10.1 12 8.3 -21.9 -10.1 -13.1z" fill="#f0c94a"/>
<path d="M1389.3 1223.3l11.1 27.2 6.8 -0.7 -11.1 -26.2z" fill="#537ff5"/>
<path d="M1255.9 1049.6l10.5 21.2 7.8 -12.2 -10.4 -22.6z" fill="#fee75e"/>
<path d="M1344.9 1148.8l10.9 26.5 7.2 -2.7 -10.9 -27.6z" fill="#7bcbc4"/>
<path d="M1176.7 1057l10.1 10.7 8.3 -22.8 -10 -11.4z" fill="#e1c84c"/>
<path d="M1300.4 1092.2l10.7 23.9 7.5 -8.2 -10.6 -24.6z" fill="#bfed84"/>
<path d="M1159.3 1070.5l9.9 9.2 8.5 -23.4 -9.9 -10.3z" fill="#cdc650"/>
<path d="M1238.5 1046.5l10.4 18.5 8 -15 -10.4 -20.4z" fill="#ffe157"/>
<path d="M1372.3 1197.4l11.1 27.9 6.9 -0.5 -11 -28z" fill="#5ca0ed"/>
<path d="M1141.8 1087.7l9.9 6.7 8.6 -24.8 -9.8 -8.2z" fill="#b2bf54"/>
<path d="M1283.1 1079.5l10.7 23.1 7.6 -9.6 -10.6 -23.8z" fill="#d4ef75"/>
<path d="M1327.8 1130.2l10.8 25.2 7.3 -5.4 -10.8 -26.1z" fill="#91dfa6"/>
<path d="M1124.4 1109.7l9.8 3.5 8.7 -26.7 -9.8 -5z" fill="#92b35c"/>
<path d="M1107 1135.9l9.6 0.9 8.8 -28.5 -9.6 -1.9z" fill="#73a669"/>
<path d="M1221.1 1049.4l10.4 15.3 8.1 -18.2 -10.4 -17.2z" fill="#fbd953"/>
<path d="M1089.5 1163.5l9.6 0 8.9 -29.2 -9.5 0z" fill="#5d977c"/>
<path d="M1072.1 1189.3l9.4 0.8 9.1 -28.2 -9.4 0z" fill="#4c899d"/>
<path d="M1054.6 1211.8l9.3 1.8 9.2 -25.7 -9.3 -1.4z" fill="#447fae"/>
<path d="M1203.7 1056.8l10.2 12.9 8.3 -20.6 -10.3 -14.1z" fill="#ebd151"/>
<path d="M1265.8 1069.6l10.6 21.9 7.8 -11.3 -10.6 -22.9z" fill="#e4ed6c"/>
<path d="M1037.1 1232.9l9.2 1.3 9.3 -23.7 -9.2 -1.8z" fill="#406fb6"/>
<path d="M1355.2 1173.8l11 27 7.1 -1.9 -10.9 -27.8z" fill="#69b8e1"/>
<path d="M1310.5 1114.7l10.8 24.1 7.5 -7.5 -10.8 -24.8z" fill="#a5e897"/>
<path d="M1186.2 1067l10.2 11.3 8.3 -22 -10.1 -12z" fill="#d9cd53"/>
<path d="M1248.4 1063.9l10.5 19.8 7.9 -13.6 -10.5 -21.3z" fill="#efe964"/>
<path d="M1168.7 1079.2l10.1 9.9 8.4 -22.7 -10 -10.7z" fill="#c7cb56"/>
<path d="M1382.7 1223.7l11.2 28 6.9 -1.2 -11.1 -27.2z" fill="#5685f6"/>
<path d="M1293.2 1101.3l10.7 23.4 7.6 -9.1 -10.7 -23.9z" fill="#b8ec89"/>
<path d="M1338 1153.9l11 25.5 7.2 -4.3 -10.9 -26.5z" fill="#7ccdc6"/>
<path d="M1151.1 1093.9l10 8.1 8.6 -23.6 -9.9 -9.3z" fill="#b1c55b"/>
<path d="M1230.9 1063.8l10.4 16.9 8.1 -16.6 -10.4 -18.6z" fill="#eee25e"/>
<path d="M1133.6 1113l9.9 5.2 8.7 -25.3 -9.9 -6.7z" fill="#94b961"/>
<path d="M1116.1 1136.7l9.7 2.2 8.9 -27.2 -9.8 -3.5z" fill="#77ab6b"/>
<path d="M1098.5 1163.4l9.7 0.4 8.9 -28.6 -9.6 -0.9z" fill="#609b7a"/>
<path d="M1365.6 1199.2l11.1 27.5 7.1 -1.4 -11.1 -28z" fill="#5ea5ee"/>
<path d="M1275.8 1090.2l10.6 22.5 7.8 -10.7 -10.6 -23.1z" fill="#cbef7b"/>
<path d="M1081 1190l9.5 0.3 9.1 -28.5 -9.6 0.1z" fill="#4d8a98"/>
<path d="M1213.3 1068.9l10.4 14.2 8.2 -19.5 -10.3 -15.3z" fill="#e2da5b"/>
<path d="M1320.7 1137.4l10.9 24.3 7.4 -6.7 -10.8 -25.1z" fill="#8fdeab"/>
<path d="M1063.4 1213.6l9.4 1.4 9.2 -26.5 -9.4 -0.7z" fill="#447fab"/>
<path d="M1045.8 1234.1l9.3 1.6 9.4 -23.5 -9.4 -1.8z" fill="#4071b6"/>
<path d="M1195.8 1077.6l10.3 12.2 8.3 -21.3 -10.3 -12.9z" fill="#d2d45a"/>
<path d="M1258.3 1082.5l10.6 21 7.9 -12.7 -10.6 -21.9z" fill="#d8ee72"/>
<path d="M1178.2 1088.5l10.2 10.8 8.4 -22.3 -10.1 -11.2z" fill="#c1cf5e"/>
<path d="M1348.4 1177.9l11 26.1 7.2 -3.4 -11 -27z" fill="#6bbbe3"/>
<path d="M1303.3 1123.3l10.9 23.6 7.5 -8.6 -10.8 -24.1z" fill="#a1e79b"/>
<path d="M1160.6 1101.5l10.1 9.3 8.5 -23 -10 -9.9z" fill="#aeca62"/>
<path d="M1240.7 1079.6l10.6 18.6 8 -15.3 -10.5 -19.9z" fill="#dde96b"/>
<path d="M1142.9 1117.8l10 7 8.7 -24.1 -10 -8.1z" fill="#95bf69"/>
<path d="M1376.1 1225.2l11.2 28.1 7 -1.7 -11.2 -27.9z" fill="#588bf7"/>
<path d="M1285.8 1111.4l10.8 22.9 7.8 -10.2 -10.8 -23.4z" fill="#b1ec90"/>
<path d="M1331 1160.3l11 24.7 7.4 -5.9 -11 -25.5z" fill="#7cceca"/>
<path d="M1125.3 1138.7l9.8 3.9 8.9 -25.9 -9.9 -5.2z" fill="#7bb06f"/>
<path d="M1223.1 1082.2l10.5 15.7 8.2 -18.2 -10.5 -17z" fill="#d7e166"/>
<path d="M1107.6 1163.7l9.8 1.3 8.9 -27.7 -9.7 -2.2z" fill="#639f7b"/>
<path d="M1090 1190.3l9.6 0.3 9.1 -28.4 -9.7 -0.4z" fill="#508d95"/>
<path d="M1072.3 1214.9l9.6 1.1 9.1 -27.3 -9.5 -0.2z" fill="#447fa9"/>
<path d="M1205.5 1089.1l10.4 13.3 8.3 -20.5 -10.4 -14.1z" fill="#cad964"/>
<path d="M1054.6 1235.6l9.4 2.1 9.4 -24.1 -9.5 -1.5z" fill="#4072b5"/>
<path d="M1268.3 1102.2l10.7 21.8 7.9 -11.9 -10.7 -22.5z" fill="#c0ee84"/>
<path d="M1358.8 1202.5l11.2 26.7 7.1 -2.6 -11.1 -27.5z" fill="#60a8f0"/>
<path d="M1313.5 1145.6l11 23.8 7.5 -8.1 -10.9 -24.4z" fill="#8dddb1"/>
<path d="M1187.8 1098.7l10.3 11.8 8.4 -21.9 -10.2 -12.2z" fill="#bad466"/>
<path d="M1250.7 1097.1l10.6 19.9 8 -14.3 -10.6 -21z" fill="#c9ed7a"/>
<path d="M1170.1 1110.2l10.2 10.5 8.6 -22.7 -10.2 -10.8z" fill="#a9ce6b"/>
<path d="M1296 1133l10.9 23.2 7.7 -9.8 -10.9 -23.6z" fill="#9be69f"/>
<path d="M1341.4 1183.6l11.1 25.1 7.3 -4.9 -11 -26.1z" fill="#6cbde5"/>
<path d="M1152.3 1124.3l10.1 8.7 8.7 -23.5 -10.1 -9.3z" fill="#95c572"/>
<path d="M1233 1097l10.6 17.4 8.1 -17.2 -10.5 -18.5z" fill="#c9e873"/>
<path d="M1134.6 1142.3l10 5.9 8.8 -24.8 -10 -7z" fill="#7db675"/>
<path d="M1116.8 1164.9l9.9 2.9 8.9 -26.7 -9.8 -3.9z" fill="#67a57e"/>
<path d="M1278.4 1122.7l10.8 22.4 7.9 -11.4 -10.8 -22.9z" fill="#a9ea96"/>
<path d="M1099.1 1190.6l9.8 1 9 -28.2 -9.8 -1.3z" fill="#529095"/>
<path d="M1215.3 1101.6l10.5 14.9 8.3 -19.7 -10.5 -15.7z" fill="#c0e070"/>
<path d="M1369.3 1227.7l11.3 27.5 7.1 -2.1 -11.2 -28.1z" fill="#5a90f8"/>
<path d="M1081.3 1216l9.7 1.1 9.1 -28.1 -9.6 -0.3z" fill="#4681a8"/>
<path d="M1323.9 1168l11 24 7.5 -7.4 -11 -24.7z" fill="#7bcdd0"/>
<path d="M1063.5 1237.6l9.6 2.6 9.3 -25.7 -9.6 -1z" fill="#4174b4"/>
<path d="M1197.5 1109.7l10.4 13 8.4 -21.5 -10.4 -13.3z" fill="#b2d770"/>
<path d="M1260.7 1115.8l10.8 20.9 8 -13.4 -10.8 -21.8z" fill="#b4eb8d"/>
<path d="M1179.7 1120.1l10.3 11.6 8.6 -22.5 -10.3 -11.8z" fill="#a3d075"/>
<path d="M1306.3 1154.8l11 23.3 7.6 -9.2 -10.9 -23.8z" fill="#89dab8"/>
<path d="M1351.9 1207.3l11.2 25.6 7.3 -3.9 -11.2 -26.7z" fill="#61abf2"/>
<path d="M1161.9 1132.4l10.2 10.2 8.7 -23.2 -10.2 -10.5z" fill="#92c97b"/>
<path d="M1243 1113.3l10.7 18.9 8.1 -16.1 -10.7 -19.9z" fill="#b8e984"/>
<path d="M1144 1147.8l10.1 8 8.8 -24.2 -10.1 -8.7z" fill="#7fbd7d"/>
<path d="M1288.6 1143.8l11 22.7 7.8 -10.9 -10.9 -23.2z" fill="#95e4a6"/>
<path d="M1126.2 1167.5l10 5.1 8.9 -25.9 -10 -5.9z" fill="#6aab85"/>
<path d="M1334.3 1190.6l11.2 24.1 7.4 -6.3 -11.1 -25.1z" fill="#6cbde8"/>
<path d="M1225.2 1115.6l10.6 16.4 8.2 -18.7 -10.5 -17.4z" fill="#b4e37f"/>
<path d="M1108.3 1191.5l9.9 2.5 9 -27.8 -9.9 -2.9z" fill="#569597"/>
<path d="M1090.4 1217.1l9.8 1.6 9.2 -28.7 -9.8 -1z" fill="#4784a9"/>
<path d="M1072.5 1240.1l9.7 2.9 9.3 -27.4 -9.7 -1.2z" fill="#4276b5"/>
<path d="M1207.3 1121.9l10.5 14.3 8.4 -20.9 -10.5 -14.8z" fill="#a9da7d"/>
<path d="M1270.9 1135.5l10.8 21.6 8 -12.7 -10.8 -22.4z" fill="#a0e79c"/>
<path d="M1316.7 1176.8l11.1 23.3 7.6 -8.6 -11.1 -24z" fill="#78cbd8"/>
<path d="M1362.5 1231.4l11.3 26.2 7.2 -2.6 -11.3 -27.5z" fill="#5b93f9"/>
<path d="M1189.4 1131l10.5 12.7 8.5 -22.3 -10.4 -12.9z" fill="#9bd380"/>
<path d="M1253.1 1131l10.7 19.9 8.1 -15 -10.7 -20.9z" fill="#a6e795"/>
<path d="M1171.5 1142l10.3 11.4 8.7 -23 -10.3 -11.6z" fill="#8ecb83"/>
<path d="M1298.9 1165.2l11.1 22.7 7.7 -10.3 -11 -23.3z" fill="#84d6c1"/>
<path d="M1153.6 1155.3l10.2 9.8 8.8 -23.8 -10.2 -10.2z" fill="#7fc286"/>
<path d="M1344.8 1213.3l11.3 24.3 7.4 -5 -11.2 -25.6z" fill="#62abf3"/>
<path d="M1235.2 1131l10.7 17.8 8.2 -17.6 -10.7 -18.9z" fill="#a6e38f"/>
<path d="M1135.6 1172.2l10.1 7.4 8.9 -25.2 -10.1 -8z" fill="#6cb08f"/>
<path d="M1117.6 1193.8l10 4.4 9.1 -27.1 -10 -5.1z" fill="#599b9e"/>
<path d="M1281.1 1155.8l11 22 7.9 -12 -10.9 -22.7z" fill="#8fdfb0"/>
<path d="M1217.2 1135.3l10.7 15.6 8.4 -20 -10.7 -16.4z" fill="#9fdc8b"/>
<path d="M1099.7 1218.6l9.9 2.7 9.1 -28.9 -9.9 -2.5z" fill="#4a88ac"/>
<path d="M1327.1 1198.7l11.3 23.1 7.5 -7.5 -11.2 -24.1z" fill="#6bbceb"/>
<path d="M1081.7 1242.9l9.8 3.4 9.2 -29.2 -9.7 -1.7z" fill="#4278b6"/>
<path d="M1199.3 1142.9l10.5 13.8 8.5 -21.8 -10.5 -14.2z" fill="#95d48a"/>
<path d="M1263.2 1149.8l10.9 20.6 8.1 -14.1 -10.9 -21.6z" fill="#96e4a3"/>
<path d="M1181.3 1152.7l10.4 12.6 8.7 -22.9 -10.5 -12.7z" fill="#89cd8c"/>
<path d="M1309.3 1186.6l11.2 22.5 7.7 -9.6 -11.1 -23.2z" fill="#74c7e0"/>
<path d="M1355.5 1236.2l11.4 24.3 7.3 -3.1 -11.3 -26.2z" fill="#5b95f9"/>
<path d="M1163.2 1164.5l10.4 11.2 8.7 -23.6 -10.3 -11.5z" fill="#7cc392"/>
<path d="M1245.3 1147.7l10.8 18.8 8.2 -16.5 -10.8 -19.9z" fill="#98e29c"/>
<path d="M1145.1 1179.1l10.3 9.3 8.9 -24.7 -10.2 -9.8z" fill="#6eb49b"/>
<path d="M1291.5 1176.5l11.1 22 7.8 -11.2 -11 -22.8z" fill="#7fd1cc"/>
<path d="M1227.3 1150l10.7 16.7 8.4 -19 -10.8 -17.7z" fill="#95dd97"/>
<path d="M1127.1 1197.9l10.1 6.6 9 -26.4 -10.1 -7.4z" fill="#5ba0a7"/>
<path d="M1337.7 1220.5l11.3 22.8 7.5 -6.1 -11.2 -24.2z" fill="#62abf5"/>
<path d="M1109 1221.2l10 4.1 9.2 -28.7 -10.1 -4.4z" fill="#4c8cb1"/>
<path d="M1090.9 1246.2l9.9 3.9 9.3 -30.4 -9.9 -2.7z" fill="#437ab8"/>
<path d="M1209.2 1155.9l10.7 14.8 8.5 -21 -10.7 -15.6z" fill="#8dd595"/>
<path d="M1273.5 1169.2l11 21 8 -13.1 -10.9 -22z" fill="#87d8bc"/>
<path d="M1319.9 1207.8l11.2 22.1 7.7 -8.5 -11.2 -23.1z" fill="#69b9ee"/>
<path d="M1191.1 1164.5l10.6 13.4 8.6 -22.5 -10.5 -13.7z" fill="#83cc97"/>
<path d="M1255.5 1165.4l10.9 19.4 8.2 -15.3 -10.9 -20.6z" fill="#8bdbb1"/>
<path d="M1173 1175l10.5 12.3 8.7 -23.4 -10.4 -12.5z" fill="#79c29f"/>
<path d="M1301.9 1197.3l11.2 21.6 7.8 -10.4 -11.1 -22.5z" fill="#70c3e6"/>
<path d="M1154.8 1187.8l10.4 10.7 8.9 -24.2 -10.4 -11.2z" fill="#6cb5a9"/>
<path d="M1237.4 1165.7l10.9 17.5 8.3 -17.7 -10.8 -18.8z" fill="#8ad8a9"/>
<path d="M1348.4 1242l11.5 22.3 7.4 -4 -11.4 -24.4z" fill="#5c96f9"/>
<path d="M1136.6 1204.1l10.3 8.4 9 -25.6 -10.2 -9.2z" fill="#5ca4b5"/>
<path d="M1118.4 1225l10.2 5.9 9.1 -27.9 -10.1 -6.7z" fill="#4e90b8"/>
<path d="M1219.3 1169.8l10.7 15.7 8.5 -20 -10.8 -16.7z" fill="#85d1a6"/>
<path d="M1283.9 1188.9l11.1 21 8 -12.1 -11.1 -22z" fill="#78cbd8"/>
<path d="M1100.3 1249.9l10 4.3 9.2 -30.5 -10 -4.2z" fill="#457cbb"/>
<path d="M1330.5 1228.6l11.4 21.3 7.6 -7 -11.3 -22.8z" fill="#62a8f6"/>
<path d="M1201.1 1177.1l10.7 14 8.6 -21.6 -10.7 -14.8z" fill="#7dc8a7"/>
<path d="M1265.8 1183.7l11.1 19.8 8.1 -14.1 -11 -21z" fill="#7ed0ca"/>
<path d="M1182.9 1186.6l10.5 12.8 8.8 -22.8 -10.6 -13.4z" fill="#73bead"/>
<path d="M1312.5 1217.7l11.3 20.9 7.8 -9.3 -11.3 -22z" fill="#67b5f1"/>
<path d="M1164.6 1197.9l10.5 11.7 8.8 -23.7 -10.4 -12.2z" fill="#69b4b8"/>
<path d="M1247.6 1182.2l11 18.1 8.3 -16.4 -10.9 -19.4z" fill="#80d0bf"/>
<path d="M1146.3 1212l10.4 9.8 9 -24.7 -10.4 -10.7z" fill="#5ca5c2"/>
<path d="M1294.4 1208.7l11.2 20.6 8 -11 -11.2 -21.7z" fill="#6dbeea"/>
<path d="M1229.4 1184.5l10.9 16.3 8.4 -18.6 -10.8 -17.6z" fill="#7ccbba"/>
<path d="M1128 1230.5l10.3 7.2 9.1 -26.7 -10.3 -8.4z" fill="#4f92c0"/>
<path d="M1341.2 1248.7l11.5 20.3 7.6 -5 -11.5 -22.3z" fill="#5b95f9"/>
<path d="M1109.7 1254l10.2 4.9 9.2 -29.7 -10.1 -5.8z" fill="#467dbf"/>
<path d="M1211.2 1190.3l10.7 14.6 8.6 -20.6 -10.8 -15.7z" fill="#76c3b9"/>
<path d="M1276.2 1202.3l11.2 19.8 8.1 -12.9 -11.1 -21z" fill="#71c4e4"/>
<path d="M1192.8 1198.7l10.7 13.3 8.7 -22.1 -10.6 -14.1z" fill="#6dbabe"/>
<path d="M1323.1 1237.4l11.5 20 7.7 -7.9 -11.4 -21.3z" fill="#61a5f7"/>
<path d="M1258 1199.2l11.1 18.5 8.2 -15.1 -11 -19.8z" fill="#74c6d9"/>
<path d="M1174.5 1208.9l10.6 12.2 8.8 -23 -10.5 -12.9z" fill="#64b0c7"/>
<path d="M1305 1228.2l11.3 19.8 7.9 -9.9 -11.3 -21z" fill="#64b1f4"/>
<path d="M1156.1 1221.2l10.5 10.8 9 -23.8 -10.5 -11.7z" fill="#5ca5ca"/>
<path d="M1239.7 1199.9l11 16.7 8.4 -17.3 -11 -18.1z" fill="#73c4d1"/>
<path d="M1137.7 1237.2l10.4 8.5 9.1 -25.3 -10.4 -9.8z" fill="#5194c8"/>
<path d="M1119.3 1258.5l10.3 5.6 9.2 -28 -10.3 -7.2z" fill="#477ec4"/>
<path d="M1221.3 1204.1l10.9 15 8.6 -19.4 -10.9 -16.3z" fill="#6ebece"/>
<path d="M1286.7 1221l11.3 19.4 8.1 -11.7 -11.3 -20.7z" fill="#69b8ee"/>
<path d="M1333.9 1256.2l11.6 18.6 7.7 -6.2 -11.5 -20.3z" fill="#5a92f9"/>
<path d="M1202.9 1211.2l10.8 13.6 8.7 -21.1 -10.8 -14.6z" fill="#67b5d0"/>
<path d="M1268.4 1216.6l11.2 18.5 8.2 -13.8 -11.1 -19.8z" fill="#6bbce8"/>
<path d="M1184.5 1220.4l10.7 12.5 8.8 -22.2 -10.7 -13.3z" fill="#60acd0"/>
<path d="M1315.7 1246.9l11.5 18.7 7.8 -8.7 -11.4 -20z" fill="#5fa0f8"/>
<path d="M1166 1231.4l10.6 11.3 9 -22.9 -10.6 -12.2z" fill="#5aa2d1"/>
<path d="M1250.1 1215.6l11.1 17.1 8.3 -15.9 -11 -18.5z" fill="#6bbce2"/>
<path d="M1147.5 1245.1l10.5 9.4 9.1 -23.8 -10.5 -10.8z" fill="#5194d0"/>
<path d="M1297.4 1239.3l11.4 18.8 8 -10.7 -11.4 -19.9z" fill="#62abf5"/>
<path d="M1231.6 1218.2l11 15.5 8.6 -18.1 -11 -16.8z" fill="#68b7dd"/>
<path d="M1129 1263.7l10.4 6.3 9.2 -25.8 -10.4 -8.5z" fill="#477ec9"/>
<path d="M1213.1 1224l11 13.9 8.6 -19.9 -10.9 -15.1z" fill="#63b0d9"/>
<path d="M1279 1234l11.3 18.3 8.2 -12.6 -11.3 -19.5z" fill="#64b1f1"/>
<path d="M1194.6 1232.1l10.8 12.7 8.8 -21.2 -10.8 -13.6z" fill="#5ea8d7"/>
<path d="M1326.5 1264.6l11.6 17.2 7.8 -7.5 -11.5 -18.5z" fill="#598ef8"/>
<path d="M1260.5 1231.7l11.3 17.2 8.3 -14.7 -11.2 -18.4z" fill="#65b3ec"/>
<path d="M1176 1242l10.8 11.6 8.9 -22 -10.7 -12.5z" fill="#579ed8"/>
<path d="M1157.4 1253.9l10.6 10 9.1 -22.5 -10.6 -11.3z" fill="#5292d6"/>
<path d="M1308.1 1257l11.6 17.8 7.9 -9.7 -11.5 -18.8z" fill="#5e9bf9"/>
<path d="M1242 1232.8l11.2 15.7 8.5 -16.8 -11.2 -17z" fill="#64b1e6"/>
<path d="M1138.8 1269.5l10.5 7.2 9.2 -23.6 -10.5 -9.4z" fill="#497fcf"/>
<path d="M1223.4 1237.1l11.1 14.2 8.6 -18.7 -11 -15.4z" fill="#60abe2"/>
<path d="M1289.7 1251.2l11.4 17.7 8.1 -11.5 -11.4 -18.7z" fill="#60a3f6"/>
<path d="M1204.8 1244.1l11 12.9 8.8 -20.2 -11 -14z" fill="#5ba3df"/>
<path d="M1271.1 1247.9l11.4 17 8.3 -13.4 -11.3 -18.3z" fill="#61a8f3"/>
<path d="M1186.2 1252.9l10.8 11.8 8.9 -21.1 -10.8 -12.7z" fill="#5699dd"/>
<path d="M1319 1273.8l11.7 16.4 7.9 -8.9 -11.6 -17.2z" fill="#5889f8"/>
<path d="M1167.4 1263.3l10.8 10.4 9.1 -21.4 -10.8 -11.5z" fill="#528edb"/>
<path d="M1252.5 1247.6l11.3 15.8 8.5 -15.4 -11.3 -17.2z" fill="#60a8ee"/>
<path d="M1148.7 1276.2l10.6 8.2 9.3 -21.8 -10.7 -10z" fill="#4b7fd6"/>
<path d="M1233.9 1250.5l11.2 14.4 8.6 -17.4 -11.2 -15.7z" fill="#5da4e9"/>
<path d="M1300.5 1267.9l11.5 16.9 8.1 -10.6 -11.5 -17.8z" fill="#5c95f9"/>
<path d="M1215.2 1256.2l11 13.2 8.8 -19.2 -11.1 -14.2z" fill="#599de5"/>
<path d="M1281.9 1263.9l11.4 16.7 8.3 -12.4 -11.5 -17.7z" fill="#5d9cf7"/>
<path d="M1196.4 1264l11 12 8.9 -20.2 -11 -12.9z" fill="#5594e2"/>
<path d="M1263.2 1262.5l11.4 15.9 8.4 -14.3 -11.4 -17.1z" fill="#5d9ef4"/>
<path d="M1177.6 1273.1l10.9 11 9 -20.6 -10.8 -11.8z" fill="#518ae0"/>
<path d="M1158.7 1283.8l10.8 9.3 9.2 -20.6 -10.7 -10.5z" fill="#4c7cdc"/>
<path d="M1244.4 1264.1l11.3 14.7 8.6 -16.3 -11.3 -15.9z" fill="#5b9cef"/>
<path d="M1311.4 1283.9l11.7 15.8 8 -10.1 -11.6 -16.4z" fill="#5683f8"/>
<path d="M1225.6 1268.6l11.2 13.4 8.7 -18.1 -11.1 -14.5z" fill="#5896ea"/>
<path d="M1292.7 1279.7l11.6 16.2 8.2 -11.7 -11.6 -16.9z" fill="#598cf9"/>
<path d="M1206.8 1275.3l11.1 12.3 8.8 -19.4 -11 -13.1z" fill="#548ee7"/>
<path d="M1273.9 1277.5l11.5 15.8 8.4 -13.4 -11.5 -16.7z" fill="#5a92f8"/>
<path d="M1187.9 1283.4l11 11.4 9 -20 -11 -12z" fill="#5084e4"/>
<path d="M1168.9 1292.5l10.9 10.2 9.2 -19.8 -10.9 -11z" fill="#4c78e1"/>
<path d="M1255.1 1277.9l11.4 14.9 8.5 -15.3 -11.4 -15.9z" fill="#5992f4"/>
<path d="M1236.2 1281.2l11.3 13.7 8.7 -17.1 -11.3 -14.7z" fill="#578ef0"/>
<path d="M1303.6 1295l11.8 15.5 8.1 -11.4 -11.7 -15.8z" fill="#547bf9"/>
<path d="M1217.2 1286.9l11.3 12.7 8.8 -18.7 -11.2 -13.4z" fill="#5386eb"/>
<path d="M1284.8 1292.4l11.6 15.6 8.4 -12.8 -11.7 -16.2z" fill="#5682f9"/>
<path d="M1198.2 1294.1l11.2 11.9 9 -19.5 -11.1 -12.3z" fill="#4f7ce8"/>
<path d="M1265.9 1291.9l11.5 15.1 8.5 -14.5 -11.5 -15.9z" fill="#5684f7"/>
<path d="M1179.2 1302.1l11 11 9.2 -19.4 -11 -11.4z" fill="#4b72e6"/>
<path d="M1246.9 1294.1l11.4 14.1 8.7 -16.3 -11.4 -14.9z" fill="#5482f3"/>
<path d="M1227.8 1298.9l11.4 13 8.8 -18 -11.3 -13.7z" fill="#517cef"/>
<path d="M1295.8 1307.1l11.7 15.4 8.3 -12.7 -11.7 -15.5z" fill="#5372f9"/>
<path d="M1208.7 1305.3l11.3 12.3 9 -19.1 -11.3 -12.7z" fill="#4e74eb"/>
<path d="M1276.8 1306.1l11.6 15.2 8.5 -14.1 -11.6 -15.6z" fill="#5276fa"/>
<path d="M1189.6 1312.5l11.2 11.8 9.1 -19.4 -11.2 -11.9z" fill="#4b6ae9"/>
<path d="M1257.7 1307.4l11.6 14.4 8.6 -15.7 -11.6 -15.1z" fill="#5176f7"/>
<path d="M1238.6 1311.2l11.4 13.4 8.8 -17.4 -11.4 -14z" fill="#4f72f2"/>
<path d="M1219.4 1316.9l11.4 12.8 8.9 -18.8 -11.4 -13.1z" fill="#4e6aed"/>
<path d="M1287.8 1320.4l11.8 15.2 8.4 -13.9 -11.8 -15.3z" fill="#5465f6"/>
<path d="M1200.1 1323.6l11.3 12.5 9.1 -19.6 -11.3 -12.3z" fill="#4e60e9"/>
<path d="M1268.6 1320.9l11.7 14.8 8.6 -15.3 -11.7 -15.1z" fill="#5367f5"/>
<path d="M1249.4 1323.8l11.6 14 8.8 -17 -11.6 -14.4z" fill="#5264f1"/>
<path d="M1230.1 1329l11.5 13.2 9 -18.6 -11.5 -13.5z" fill="#515eec"/>
<path d="M1210.8 1335.3l11.4 13 9.1 -19.7 -11.4 -12.8z" fill="#5055e8"/>
<path d="M1279.7 1334.8l11.8 15.2 8.6 -15.2 -11.8 -15.2z" fill="#5658f2"/>
<path d="M1260.4 1337l11.7 14.4 8.7 -16.6 -11.7 -14.8z" fill="#5556ef"/>
<path d="M1241 1341.4l11.6 13.7 8.9 -18.3 -11.6 -14z" fill="#5452ea"/>
<path d="M1221.5 1347.6l11.6 13.3 9 -19.8 -11.5 -13.2z" fill="#544ce5"/>
<path d="M1271.5 1350.6l11.9 14.9 8.6 -16.4 -11.8 -15.2z" fill="#594cec"/>
<path d="M1252 1354.3l11.8 14.1 8.8 -18 -11.7 -14.4z" fill="#5749e7"/>
<path d="M1232.4 1360.2l11.7 13.6 9.1 -19.8 -11.7 -13.7z" fill="#5744e2"/>
<path d="M1263.1 1367.6l11.9 14.6 8.9 -17.7 -11.9 -14.9z" fill="#5b40e4"/>
<path d="M1243.5 1373.1l11.8 13.8 9 -19.5 -11.8 -14.2z" fill="#5b3bde"/>
<path d="M1254.6 1386.1l12 13.9 9 -18.9 -12 -14.5z" fill="#6136d8"/>
</g>
<path d="M933.5 1279.4L1266.5 1428.9M1266.5 1428.9L1503.1 1248.6M928.2 903.1L1267.0 968.1M1267.0 968.1L1507.5 889.8M1507.5 889.8L1197.4 849.3M1197.4 849.3L928.2 903.1M933.5 1279.4L928.2 903.1M1266.5 1428.9L1267.0 968.1M1503.1 1248.6L1507.5 889.8" stroke="#666" stroke-width="1.0" fill="none"/>
<path d="M944.3 1284.2L944.2 1276.8M966.7 1294.3L966.6 1286.7M989.7 1304.6L989.6 1291.2M1013.5 1315.3L1013.4 1307.5M1038.0 1326.3L1037.9 1318.4M1063.3 1337.6L1063.2 1329.6M1089.5 1349.4L1089.4 1341.2M1116.5 1361.5L1116.4 1347.0M1144.4 1374.0L1144.4 1365.6M1173.3 1387.0L1173.3 1378.4M1203.2 1400.5L1203.2 1391.7M1234.2 1414.4L1234.2 1405.5M1266.3 1428.8L1266.3 1413.0M941.3 900.5L941.4 908.0M966.0 895.5L966.1 908.5M989.8 890.7L989.9 898.1M1012.8 886.1L1012.9 893.3M1035.0 881.7L1035.1 888.8M1056.5 877.4L1056.6 884.4M1077.3 873.3L1077.4 885.2M1097.4 869.2L1097.5 876.0M1116.9 865.3L1116.9 872.0M1135.8 861.6L1135.8 868.1M1154.0 857.9L1154.1 864.3M1171.8 854.4L1171.8 865.5M1189.0 850.9L1189.0 857.2" stroke="#888" stroke-width="1.1" fill="none"/>
<text x="989.9" y="1344" font-size="21" font-weight="bold" font-family="'Liberation Sans',Arial,sans-serif" text-anchor="middle">3</text>
<text x="1115.8" y="1401.5" font-size="21" font-weight="bold" font-family="'Liberation Sans',Arial,sans-serif" text-anchor="middle">4</text>
<text x="1265.8" y="1467.5" font-size="21" font-weight="bold" font-family="'Liberation Sans',Arial,sans-serif" text-anchor="middle">5</text>
<text x="965" y="874.6" font-size="21" font-weight="bold" font-family="'Liberation Sans',Arial,sans-serif" text-anchor="middle">3</text>
<text x="1075.8" y="853.7" font-size="21" font-weight="bold" font-family="'Liberation Sans',Arial,sans-serif" text-anchor="middle">4</text>
<text x="1170.1" y="833.5" font-size="21" font-weight="bold" font-family="'Liberation Sans',Arial,sans-serif" text-anchor="middle">5</text>
<text x="1034" y="783.4" font-size="29" font-family="'Liberation Sans',Arial,sans-serif" textLength="85" lengthAdjust="spacingAndGlyphs">Y(<tspan font-style="italic">μ</tspan>m)</text>
<text x="1037.7" y="1458.6" font-size="29" font-family="'Liberation Sans',Arial,sans-serif" textLength="93" lengthAdjust="spacingAndGlyphs">X (<tspan font-style="italic">μ</tspan>m)</text>
<g transform="translate(921.7,1301.2) rotate(-90)" font-size="26.5" font-family="'Liberation Sans',Arial,sans-serif">
<text x="0" y="0" font-weight="bold" textLength="259.7" lengthAdjust="spacingAndGlyphs">Deconvolution value</text>
<text transform="translate(262.90,-2.48) scale(1.431,1)" font-size="20.98" font-family="'Liberation Sans','Noto Sans CJK SC',sans-serif" font-weight="300">（</text>
<text x="296.4" y="0" font-weight="bold" textLength="52.0" lengthAdjust="spacingAndGlyphs">A.U.</text>
<text transform="translate(351.83,-2.48) scale(1.534,1)" font-size="20.98" font-family="'Liberation Sans','Noto Sans CJK SC',sans-serif" font-weight="300">）</text>
</g>
<linearGradient id="cgd" x1="0" y1="0" x2="0" y2="1"><stop offset="0.00" stop-color="#dc2323"/><stop offset="0.06" stop-color="#e43c2d"/><stop offset="0.12" stop-color="#e85f32"/><stop offset="0.16" stop-color="#e87834"/><stop offset="0.20" stop-color="#e49137"/><stop offset="0.26" stop-color="#dca53c"/><stop offset="0.31" stop-color="#d2b23e"/><stop offset="0.36" stop-color="#b9b94b"/><stop offset="0.42" stop-color="#a0bc5a"/><stop offset="0.47" stop-color="#87b96e"/><stop offset="0.53" stop-color="#73b47d"/><stop offset="0.58" stop-color="#64a896"/><stop offset="0.63" stop-color="#559bb4"/><stop offset="0.69" stop-color="#4b8cc3"/><stop offset="0.75" stop-color="#4678cd"/><stop offset="0.80" stop-color="#405fd2"/><stop offset="0.84" stop-color="#4446cd"/><stop offset="0.89" stop-color="#4b30c3"/><stop offset="0.94" stop-color="#5a23b2"/><stop offset="1.00" stop-color="#731c8c"/></linearGradient>
<rect x="1521" y="891.4" width="20.59999999999991" height="355.69999999999993" fill="url(#cgd)" stroke="#aaa" stroke-width="0.6"/>
<path d="M1541.6 1244.4h4M1541.6 1226.0h6M1541.6 1207.7h4M1541.6 1189.4h4M1541.6 1171.1h4M1541.6 1152.8h4M1541.6 1134.5h6M1541.6 1116.1h4M1541.6 1097.8h4M1541.6 1079.5h4M1541.6 1061.2h4M1541.6 1042.9h6M1541.6 1024.6h4M1541.6 1006.2h4M1541.6 987.9h4M1541.6 969.6h4M1541.6 951.3h6M1541.6 933.0h4M1541.6 914.7h4M1541.6 896.3h4" stroke="#c8c8c8" stroke-width="1"/>
<path d="M1521.8 891.4V1247.1" stroke="#000" stroke-opacity="0.35" stroke-width="1.5"/>
<text x="1549.5" y="960" font-size="29.5" font-weight="bold" font-family="'Liberation Sans',Arial,sans-serif" textLength="100" lengthAdjust="spacingAndGlyphs">200 000</text>
<text x="1549.5" y="1049" font-size="29.5" font-weight="bold" font-family="'Liberation Sans',Arial,sans-serif" textLength="100" lengthAdjust="spacingAndGlyphs">150 000</text>
<text x="1549.5" y="1142.4" font-size="29.5" font-weight="bold" font-family="'Liberation Sans',Arial,sans-serif" textLength="100" lengthAdjust="spacingAndGlyphs">100 000</text>
<text x="1549.5" y="1234" font-size="29.5" font-weight="bold" font-family="'Liberation Sans',Arial,sans-serif" textLength="84" lengthAdjust="spacingAndGlyphs">50 000</text>
<text x="1118.8" y="1512.8" font-size="38" text-anchor="middle" font-family="'Liberation Serif','Times New Roman',serif">(d)</text>
<path d="M1482.4 2040.8L1178.7 1958.5M1178.7 1958.5L923.5 2074.9M1178.7 1958.5L1178.2 1628.8" stroke="#666" stroke-width="1.0" fill="none"/>
<g filter="url(#sm)">
<path d="M1172.4 1903.7l7.7 -6.4 6.1 3.3 -7.6 5.8z" fill="#4252cf"/>
<path d="M1179.7 1897.6l7.8 -6.1 6 4 -7.7 5.5z" fill="#4060d2"/>
<path d="M1166.6 1901.2l7.7 -7 6.2 3.3 -7.7 6.3z" fill="#415cd1"/>
<path d="M1187 1891.8l7.8 -5.8 6.1 4.8 -7.8 5z" fill="#436ad0"/>
<path d="M1173.9 1894.6l7.7 -6.8 6.2 3.9 -7.8 6.1z" fill="#4268d0"/>
<path d="M1160.7 1898.9l7.7 -7.6 6.3 3.1 -7.7 6.9z" fill="#4164d1"/>
<path d="M1194.4 1886.3l7.9 -5.4 6 5.6 -7.8 4.6z" fill="#4574ce"/>
<path d="M1181.2 1888.1l7.9 -6.6 6.1 4.7 -7.8 5.9z" fill="#4574ce"/>
<path d="M1168 1891.7l7.8 -7.5 6.2 3.8 -7.8 6.8z" fill="#4471ce"/>
<path d="M1154.7 1896.9l7.8 -8.3 6.3 2.9 -7.7 7.6z" fill="#436bd0"/>
<path d="M1201.8 1881.1l8 -4.9 6 6.6 -7.9 4z" fill="#477ccb"/>
<path d="M1188.6 1881.9l7.9 -6.3 6.1 5.6 -7.9 5.4z" fill="#477dcb"/>
<path d="M1175.3 1884.6l7.9 -7.4 6.2 4.6 -7.8 6.6z" fill="#477ccb"/>
<path d="M1162 1889.1l7.8 -8.3 6.3 3.6 -7.8 7.5z" fill="#4679cd"/>
<path d="M1209.4 1876.4l8 -4.4 6 7.6 -8 3.4z" fill="#4881c8"/>
<path d="M1148.7 1895.1l7.7 -8.9 6.4 2.6 -7.7 8.2z" fill="#4572ce"/>
<path d="M1196.1 1875.9l8 -5.9 6.1 6.5 -8 5z" fill="#4984c7"/>
<path d="M1182.8 1877.6l7.9 -7.3 6.2 5.5 -7.9 6.4z" fill="#4984c7"/>
<path d="M1169.4 1881.3l7.9 -8.3 6.3 4.4 -7.9 7.4z" fill="#4882c8"/>
<path d="M1216.9 1872.2l8.2 -3.8 5.9 8.7 -8 2.7z" fill="#4a86c6"/>
<path d="M1156 1886.7l7.8 -9 6.4 3.3 -7.8 8.3z" fill="#477eca"/>
<path d="M1203.6 1870.3l8.1 -5.5 6 7.6 -8 4.4z" fill="#4b8ac4"/>
<path d="M1142.6 1893.6l7.8 -9.5 6.4 2.2 -7.7 8.9z" fill="#4678cd"/>
<path d="M1190.2 1870.7l8 -6.9 6.2 6.5 -8 5.9z" fill="#4b8bc3"/>
<path d="M1176.8 1873.4l8 -8.1 6.2 5.3 -7.9 7.2z" fill="#4b8ac4"/>
<path d="M1224.6 1868.6l8.2 -3.1 5.9 9.8 -8.1 1.9z" fill="#4b8bc4"/>
<path d="M1163.4 1878.2l7.9 -9.1 6.3 4.1 -7.8 8.3z" fill="#4a87c5"/>
<path d="M1211.2 1865.1l8.1 -4.9 6.1 8.7 -8.1 3.8z" fill="#4d8fc0"/>
<path d="M1149.9 1884.6l7.9 -9.7 6.4 2.9 -7.8 9.1z" fill="#4982c8"/>
<path d="M1197.8 1864.2l8.1 -6.5 6.1 7.5 -8 5.5z" fill="#4e91be"/>
<path d="M1136.4 1892.5l7.8 -10.1 6.5 1.8 -7.7 9.5z" fill="#477ccb"/>
<path d="M1232.3 1865.6l8.3 -2.3 5.9 10.9 -8.2 1.2z" fill="#4c8ec1"/>
<path d="M1184.3 1865.7l8 -7.8 6.3 6.3 -8 6.9z" fill="#4e91be"/>
<path d="M1170.8 1869.6l8 -9.1 6.3 5.1 -7.9 8.1z" fill="#4d90bf"/>
<path d="M1218.9 1860.4l8.2 -4.2 6 9.8 -8.2 3.1z" fill="#5093bc"/>
<path d="M1157.3 1875.4l7.9 -9.9 6.4 3.8 -7.9 9.1z" fill="#4b8dc2"/>
<path d="M1205.4 1858l8.2 -5.9 6.1 8.6 -8.1 4.8z" fill="#5296b9"/>
<path d="M1143.8 1882.9l7.8 -10.5 6.5 2.6 -7.8 9.8z" fill="#4a87c6"/>
<path d="M1240.1 1863.4l8.3 -1.4 5.9 12 -8.3 0.3z" fill="#4d90bf"/>
<path d="M1191.9 1858.3l8.1 -7.5 6.2 7.3 -8.1 6.5z" fill="#5397b8"/>
<path d="M1130.2 1891.9l7.8 -10.9 6.6 1.4 -7.8 10.2z" fill="#487fc9"/>
<path d="M1178.3 1861l8.1 -8.8 6.3 6 -8 7.9z" fill="#5297b8"/>
<path d="M1226.6 1856.4l8.3 -3.4 6 10.9 -8.2 2.3z" fill="#5296b9"/>
<path d="M1164.8 1866l8 -9.9 6.4 4.7 -8 9z" fill="#5194bb"/>
<path d="M1213.1 1852.3l8.2 -5.3 6.1 9.7 -8.2 4.2z" fill="#559bb4"/>
<path d="M1151.2 1873l7.9 -10.7 6.5 3.4 -7.9 9.9z" fill="#4e90bf"/>
<path d="M1248 1862l8.3 -0.5 5.9 13.2 -8.3 -0.7z" fill="#4e91be"/>
<path d="M1199.5 1851.1l8.2 -7 6.2 8.4 -8.1 6z" fill="#589daf"/>
<path d="M1137.5 1881.6l7.9 -11.2 6.6 2.1 -7.9 10.5z" fill="#4b8bc4"/>
<path d="M1234.4 1853.1l8.4 -2.6 6 12.1 -8.4 1.4z" fill="#5499b6"/>
<path d="M1185.9 1852.6l8.1 -8.5 6.3 7 -8.1 7.6z" fill="#589eae"/>
<path d="M1123.9 1891.7l7.8 -11.5 6.6 0.9 -7.7 10.8z" fill="#4983c8"/>
<path d="M1172.3 1856.6l8.1 -9.8 6.3 5.7 -8 8.8z" fill="#569cb2"/>
<path d="M1220.9 1847.3l8.3 -4.6 6 10.8 -8.2 3.5z" fill="#5a9faa"/>
<path d="M1255.9 1861.5l8.4 0.7 5.9 14.4 -8.4 -1.9z" fill="#4f92bd"/>
<path d="M1158.6 1862.9l8 -10.8 6.5 4.2 -8 9.9z" fill="#5399b6"/>
<path d="M1207.2 1844.4l8.3 -6.4 6.2 9.5 -8.3 5.4z" fill="#5ea3a2"/>
<path d="M1144.9 1871.1l8 -11.5 6.6 2.8 -8 10.7z" fill="#5094bb"/>
<path d="M1242.3 1850.6l8.4 -1.6 6 13.2 -8.4 0.5z" fill="#569bb3"/>
<path d="M1193.6 1844.5l8.2 -8.1 6.3 8.1 -8.2 7.1z" fill="#60a49e"/>
<path d="M1131.2 1880.9l7.9 -11.9 6.7 1.5 -7.9 11.2z" fill="#4c8ec1"/>
<path d="M1117.5 1892l7.8 -12.1 6.8 0.3 -7.8 11.5z" fill="#4985c6"/>
<path d="M1179.9 1847.4l8.1 -9.6 6.4 6.7 -8.1 8.5z" fill="#5fa4a0"/>
<path d="M1228.7 1842.9l8.4 -3.8 6 12.1 -8.3 2.5z" fill="#5ea3a2"/>
<path d="M1263.9 1862.1l8.5 2.4 5.8 15.7 -8.5 -3.7z" fill="#4f92bd"/>
<path d="M1166.2 1852.7l8.1 -10.8 6.4 5.2 -8 9.8z" fill="#5ca1a6"/>
<path d="M1215 1838.3l8.3 -5.7 6.2 10.6 -8.3 4.6z" fill="#64a896"/>
<path d="M1152.4 1860.2l8 -11.6 6.6 3.7 -8 10.8z" fill="#579db0"/>
<path d="M1250.2 1849l8.5 -0.4 6 14.4 -8.5 -0.7z" fill="#579daf"/>
<path d="M1201.3 1836.8l8.3 -7.5 6.2 9.2 -8.2 6.4z" fill="#67ab91"/>
<path d="M1138.7 1869.6l7.9 -12.2 6.7 2.3 -8 11.5z" fill="#5297b8"/>
<path d="M1236.6 1839.3l8.4 -2.8 6.1 13.2 -8.5 1.6z" fill="#62a69b"/>
<path d="M1187.6 1838.3l8.2 -9.2 6.3 7.7 -8.2 8.2z" fill="#68ab90"/>
<path d="M1124.9 1880.6l7.8 -12.5 6.8 0.9 -7.9 11.9z" fill="#4e90bf"/>
<path d="M1271.9 1864.2l8.6 4.3 5.8 17.2 -8.6 -5.8z" fill="#4e90bf"/>
<path d="M1111 1892.9l7.9 -12.6 6.8 -0.4 -7.8 12.1z" fill="#4a87c5"/>
<path d="M1173.8 1842.5l8.1 -10.5 6.5 6.1 -8.1 9.6z" fill="#66a993"/>
<path d="M1222.9 1832.8l8.4 -4.9 6.1 11.9 -8.4 3.7z" fill="#69ac8d"/>
<path d="M1258.3 1848.5l8.5 1.1 5.9 15.7 -8.5 -2.3z" fill="#589eae"/>
<path d="M1160 1849.2l8.1 -11.6 6.5 4.6 -8.1 10.7z" fill="#62a69b"/>
<path d="M1209.1 1829.6l8.4 -6.9 6.2 10.4 -8.3 5.8z" fill="#6eb086"/>
<path d="M1146.2 1858.1l8 -12.4 6.6 3.1 -8 11.6z" fill="#5ba1a7"/>
<path d="M1244.6 1836.6l8.5 -1.7 6 14.4 -8.5 0.5z" fill="#64a895"/>
<path d="M1280 1868.2l8.7 6.5 5.8 18.9 -8.7 -8.3z" fill="#4c8dc2"/>
<path d="M1195.3 1829.6l8.3 -8.7 6.3 8.8 -8.2 7.6z" fill="#70b182"/>
<path d="M1132.3 1868.8l8 -12.9 6.7 1.6 -8 12.2z" fill="#549ab5"/>
<path d="M1118.4 1881l7.9 -13.2 6.8 0.3 -7.9 12.5z" fill="#4f92bd"/>
<path d="M1181.5 1832.5l8.2 -10.2 6.4 7.2 -8.2 9.2z" fill="#6fb184"/>
<path d="M1230.8 1828.1l8.5 -4 6.1 13.1 -8.5 2.8z" fill="#6eb086"/>
<path d="M1266.3 1849.4l8.7 2.9 5.8 17.1 -8.6 -4.2z" fill="#579db0"/>
<path d="M1104.5 1894.4l7.8 -13.1 6.9 -1.1 -7.8 12.6z" fill="#4a88c5"/>
<path d="M1167.6 1838.2l8.2 -11.5 6.5 5.6 -8.1 10.5z" fill="#6cae89"/>
<path d="M1217 1823.1l8.4 -6.1 6.2 11.5 -8.4 5z" fill="#74b47c"/>
<path d="M1288.2 1874.2l8.8 9.2 5.7 20.9 -8.7 -11.2z" fill="#4a87c5"/>
<path d="M1153.7 1846.4l8.1 -12.5 6.7 3.9 -8.1 11.6z" fill="#66aa92"/>
<path d="M1252.6 1835l8.6 -0.3 6 15.7 -8.6 -1z" fill="#66aa93"/>
<path d="M1203.1 1821.4l8.4 -8.1 6.3 10 -8.3 6.9z" fill="#78b579"/>
<path d="M1139.8 1856.6l8 -13.1 6.8 2.3 -8.1 12.4z" fill="#5fa4a0"/>
<path d="M1238.8 1824.3l8.5 -2.8 6.1 14.2 -8.5 1.6z" fill="#71b380"/>
<path d="M1125.9 1868.6l7.9 -13.5 6.8 0.8 -7.9 12.9z" fill="#569cb2"/>
<path d="M1189.2 1822.9l8.4 -9.8 6.4 8.3 -8.3 8.6z" fill="#79b678"/>
<path d="M1274.5 1852l8.7 4.9 5.8 18.9 -8.6 -6.6z" fill="#559bb4"/>
<path d="M1111.9 1882l7.9 -13.6 6.9 -0.6 -7.9 13.1z" fill="#5093bc"/>
<path d="M1175.3 1827.4l8.3 -11.3 6.5 6.6 -8.2 10.2z" fill="#77b57a"/>
<path d="M1224.9 1817.3l8.5 -5.2 6.2 12.7 -8.5 4z" fill="#7bb677"/>
<path d="M1296.5 1882.8l8.8 11.5 5.6 23 -8.7 -13.7z" fill="#487fca"/>
<path d="M1097.9 1896.5l7.9 -13.5 6.9 -1.8 -7.8 13.1z" fill="#4a89c4"/>
<path d="M1260.7 1834.7l8.7 1.4 5.9 17.1 -8.6 -2.9z" fill="#66aa92"/>
<path d="M1161.4 1834.6l8.2 -12.4 6.6 4.8 -8.2 11.5z" fill="#71b380"/>
<path d="M1211 1813.7l8.5 -7.3 6.3 11.2 -8.5 6.1z" fill="#81b773"/>
<path d="M1147.4 1844.2l8.1 -13.3 6.7 3.2 -8.1 12.4z" fill="#6bad8b"/>
<path d="M1246.9 1821.6l8.6 -1.5 6 15.5 -8.6 0.2z" fill="#74b47c"/>
<path d="M1282.7 1856.5l8.8 7.4 5.8 20.7 -8.8 -9.2z" fill="#5397b8"/>
<path d="M1197.1 1813.6l8.4 -9.2 6.4 9.4 -8.4 8.1z" fill="#83b871"/>
<path d="M1133.4 1855.8l8 -13.8 6.8 1.6 -8 13.1z" fill="#62a699"/>
<path d="M1304.8 1893.5l8.8 13 5.7 25.2 -8.9 -15.1z" fill="#4573ce"/>
<path d="M1119.4 1869.1l7.9 -14 6.9 0 -7.9 13.5z" fill="#589eae"/>
<path d="M1232.9 1812.3l8.6 -4 6.2 13.9 -8.6 2.9z" fill="#80b773"/>
<path d="M1183.1 1816.7l8.3 -10.8 6.5 7.6 -8.3 9.8z" fill="#82b872"/>
<path d="M1268.9 1835.9l8.7 3.4 5.9 18.7 -8.7 -5z" fill="#65a994"/>
<path d="M1105.3 1883.8l7.9 -14 7 -1.5 -7.9 13.6z" fill="#5094bb"/>
<path d="M1169.1 1822.9l8.3 -12.2 6.5 5.8 -8.2 11.2z" fill="#7eb775"/>
<path d="M1091.2 1899.2l7.9 -13.6 7 -2.7 -7.8 13.4z" fill="#4a89c4"/>
<path d="M1219 1806.8l8.5 -6.3 6.3 12.3 -8.5 5.1z" fill="#89b96d"/>
<path d="M1291 1863.3l8.8 9.5 5.8 22.7 -8.8 -11.5z" fill="#4f92bd"/>
<path d="M1155 1831.7l8.2 -13.3 6.7 4 -8.2 12.4z" fill="#77b57a"/>
<path d="M1255 1820.1l8.7 0 6 16.9 -8.7 -1.4z" fill="#76b57b"/>
<path d="M1205 1804.9l8.5 -8.4 6.3 10.5 -8.4 7.3z" fill="#8eba68"/>
<path d="M1141 1842.8l8.1 -14 6.8 2.3 -8.1 13.2z" fill="#6eb085"/>
<path d="M1313.1 1905.7l9 13.5 5.6 27.1 -8.9 -15.4z" fill="#4163d1"/>
<path d="M1241 1808.4l8.7 -2.7 6.1 15.2 -8.6 1.5z" fill="#84b870"/>
<path d="M1126.9 1855.9l8.1 -14.4 6.8 0.6 -8 13.8z" fill="#65a995"/>
<path d="M1277.1 1839l8.8 5.5 5.9 20.5 -8.8 -7.3z" fill="#62a799"/>
<path d="M1191 1806.5l8.4 -10.3 6.4 8.7 -8.4 9.2z" fill="#8fba68"/>
<path d="M1112.8 1870.5l8 -14.5 6.9 -1 -8 14.1z" fill="#5a9fab"/>
<path d="M1176.9 1811.3l8.3 -11.8 6.6 6.8 -8.3 10.8z" fill="#8cba6a"/>
<path d="M1227 1800.7l8.6 -5.2 6.3 13.5 -8.6 4.1z" fill="#91ba66"/>
<path d="M1299.3 1872.1l9 10.9 5.7 24.8 -8.9 -12.9z" fill="#4b8cc3"/>
<path d="M1098.6 1886.4l8 -14.3 7 -2.5 -7.9 14.1z" fill="#5194bb"/>
<path d="M1263.2 1820l8.8 1.9 6 18.4 -8.8 -3.4z" fill="#76b57b"/>
<path d="M1162.8 1819.1l8.3 -13.1 6.6 4.9 -8.2 12.2z" fill="#85b870"/>
<path d="M1084.5 1902.7l7.8 -13.6 7.2 -3.7 -7.9 13.7z" fill="#4a89c5"/>
<path d="M1321.6 1918.4l9 13.1 5.5 28.6 -8.9 -14.6z" fill="#4250cf"/>
<path d="M1213 1796.9l8.5 -7.6 6.4 11.8 -8.5 6.3z" fill="#99bb60"/>
<path d="M1148.6 1829.6l8.3 -14 6.7 3 -8.2 13.2z" fill="#7cb676"/>
<path d="M1285.4 1844.1l8.9 7.5 5.9 22.4 -8.9 -9.5z" fill="#5ea3a2"/>
<path d="M1249.2 1805.7l8.7 -1.3 6.1 16.6 -8.7 0z" fill="#87b96e"/>
<path d="M1198.9 1796.7l8.5 -9.6 6.4 9.9 -8.4 8.4z" fill="#9cbc5d"/>
<path d="M1134.5 1842.3l8.1 -14.6 6.9 1.2 -8.1 14z" fill="#71b380"/>
<path d="M1307.7 1882.3l9 11.7 5.7 26.6 -8.9 -13.5z" fill="#4983c7"/>
<path d="M1120.3 1856.9l8.1 -14.9 6.9 -0.5 -8 14.4z" fill="#66aa92"/>
<path d="M1235.1 1795.7l8.7 -4 6.2 14.8 -8.6 2.7z" fill="#97bb61"/>
<path d="M1184.8 1800.1l8.4 -11.4 6.5 7.9 -8.4 10.3z" fill="#9bbb5e"/>
<path d="M1271.5 1821.7l8.8 3.8 6 20.1 -8.8 -5.5z" fill="#74b47c"/>
<path d="M1106.1 1872.9l8 -14.8 7.1 -2.2 -8 14.5z" fill="#5a9faa"/>
<path d="M1330.1 1930.7l9.1 11.9 5.5 29.4 -9.1 -12.6z" fill="#4640ca"/>
<path d="M1170.6 1806.7l8.4 -12.8 6.6 5.9 -8.3 11.8z" fill="#95bb63"/>
<path d="M1091.9 1889.9l7.9 -14.4 7.2 -3.6 -8 14.3z" fill="#5094bb"/>
<path d="M1221 1789.7l8.7 -6.5 6.3 13 -8.6 5.3z" fill="#a2bc59"/>
<path d="M1293.8 1851.1l9 8.9 5.8 24.4 -8.9 -10.9z" fill="#589eae"/>
<path d="M1077.7 1906.9l7.8 -13.3 7.3 -4.7 -7.9 13.6z" fill="#4a87c5"/>
<path d="M1156.4 1816.3l8.3 -13.9 6.7 3.9 -8.2 13.1z" fill="#8cba6a"/>
<path d="M1257.4 1804.4l8.9 0.4 6 18.1 -8.8 -1.9z" fill="#89b96d"/>
<path d="M1206.9 1787.6l8.6 -8.7 6.4 11 -8.6 7.6z" fill="#a8bb55"/>
<path d="M1142.2 1828.5l8.2 -14.8 6.8 2 -8.2 14z" fill="#80b773"/>
<path d="M1316.2 1893.3l9.1 11.7 5.6 28 -9 -13.1z" fill="#477acc"/>
<path d="M1243.3 1791.8l8.8 -2.6 6.2 16.1 -8.7 1.3z" fill="#9cbc5d"/>
<path d="M1127.9 1842.8l8.2 -15.2 6.9 0.1 -8.1 14.6z" fill="#73b47d"/>
<path d="M1279.8 1825.2l9 5.6 5.9 22 -8.9 -7.5z" fill="#70b281"/>
<path d="M1192.7 1789.3l8.5 -10.7 6.5 9 -8.4 9.6z" fill="#a9bb55"/>
<path d="M1338.7 1942l9.1 10.1 5.5 29.5 -9.1 -10.2z" fill="#4936c6"/>
<path d="M1113.7 1858.9l8.1 -15.3 7 -1.7 -8.1 14.9z" fill="#67ab91"/>
<path d="M1178.5 1794.6l8.4 -12.4 6.7 6.9 -8.5 11.4z" fill="#a5bb57"/>
<path d="M1302.3 1859.5l9 9.9 5.8 26 -9 -11.6z" fill="#5398b7"/>
<path d="M1229.2 1783.5l8.7 -5.3 6.3 14.2 -8.7 4.1z" fill="#aabb54"/>
<path d="M1099.4 1876.3l8 -15 7.1 -3.4 -8 14.8z" fill="#5a9fab"/>
<path d="M1265.8 1804.7l8.8 2.2 6.1 19.7 -8.9 -3.9z" fill="#88b96d"/>
<path d="M1085.1 1894.4l7.9 -14.3 7.3 -4.8 -8 14.3z" fill="#5093bc"/>
<path d="M1164.2 1803.1l8.4 -13.7 6.7 4.8 -8.3 12.8z" fill="#9dbc5c"/>
<path d="M1324.8 1904.3l9.1 11 5.6 28.9 -9.1 -11.8z" fill="#446ecf"/>
<path d="M1215 1779.3l8.6 -7.8 6.4 12.4 -8.6 6.5z" fill="#b3ba4f"/>
<path d="M1070.8 1911.7l7.8 -12.7 7.3 -5.7 -7.8 13.3z" fill="#4985c6"/>
<path d="M1149.9 1814.5l8.3 -14.7 6.9 2.7 -8.3 14z" fill="#92ba66"/>
<path d="M1288.2 1830.4l9 7.2 5.9 23.7 -8.9 -8.9z" fill="#6cae89"/>
<path d="M1347.3 1951.6l9.3 8.6 5.4 29.1 -9.2 -8.2z" fill="#4c2fc1"/>
<path d="M1251.6 1789.2l8.8 -1 6.2 17.6 -8.8 -0.4z" fill="#a0bc5a"/>
<path d="M1135.6 1828.5l8.3 -15.4 6.9 0.7 -8.2 14.7z" fill="#83b871"/>
<path d="M1200.7 1779.1l8.6 -9.9 6.5 10.2 -8.5 8.8z" fill="#b6b94d"/>
<path d="M1310.8 1868.8l9.1 10.3 5.7 27.4 -9.1 -11.7z" fill="#4f92bd"/>
<path d="M1121.3 1844.5l8.2 -15.7 7 -1.2 -8.2 15.1z" fill="#75b47c"/>
<path d="M1237.4 1778.4l8.8 -4 6.3 15.6 -8.8 2.7z" fill="#b1ba50"/>
<path d="M1186.4 1782.8l8.6 -11.8 6.6 8 -8.5 10.8z" fill="#b5b94d"/>
<path d="M1274.1 1806.7l9 3.9 6 21.4 -8.9 -5.7z" fill="#86b96f"/>
<path d="M1107 1862.2l8.1 -15.6 7.1 -3.1 -8.1 15.3z" fill="#67aa91"/>
<path d="M1333.4 1914.7l9.2 10 5.6 29.1 -9.2 -10.2z" fill="#4163d1"/>
<path d="M1092.6 1880.9l8 -15.1 7.2 -4.7 -8 15z" fill="#589ead"/>
<path d="M1172.1 1790.1l8.5 -13.4 6.7 5.8 -8.4 12.4z" fill="#afba51"/>
<path d="M1223.1 1771.9l8.8 -6.6 6.4 13.6 -8.8 5.3z" fill="#bcb849"/>
<path d="M1078.2 1899.7l8 -13.9 7.3 -6 -8 14.3z" fill="#4e91be"/>
<path d="M1296.7 1837.1l9.1 8.3 5.8 25.4 -9 -9.9z" fill="#67aa91"/>
<path d="M1356.1 1959.8l9.3 7.4 5.4 28.2 -9.3 -6.5z" fill="#512bbd"/>
<path d="M1157.8 1800.6l8.4 -14.6 6.8 3.6 -8.4 13.7z" fill="#a4bb57"/>
<path d="M1259.9 1788.1l9 0.7 6.1 19.1 -8.9 -2.2z" fill="#a1bc5a"/>
<path d="M1063.8 1917.1l7.9 -12 7.4 -6.5 -7.9 12.8z" fill="#4983c8"/>
<path d="M1208.8 1769.7l8.7 -9.1 6.5 11.6 -8.7 7.7z" fill="#c3b646"/>
<path d="M1143.4 1813.9l8.3 -15.4 6.9 1.4 -8.3 14.7z" fill="#96bb62"/>
<path d="M1319.4 1878.5l9.2 10.1 5.6 28.3 -9.1 -11z" fill="#4b8cc3"/>
<path d="M1129 1829.7l8.3 -16 7 -0.6 -8.3 15.3z" fill="#85b96f"/>
<path d="M1245.7 1774.6l8.9 -2.5 6.2 17 -8.8 1.1z" fill="#b5b94d"/>
<path d="M1282.6 1810.3l9 5.5 6 23.1 -9 -7.2z" fill="#82b872"/>
<path d="M1194.5 1771.6l8.6 -11.2 6.6 9.3 -8.6 10z" fill="#c3b646"/>
<path d="M1342.1 1924.1l9.3 9.1 5.5 28.7 -9.3 -8.7z" fill="#4158d1"/>
<path d="M1114.6 1847.4l8.2 -16 7.1 -2.7 -8.2 15.6z" fill="#75b47c"/>
<path d="M1180.1 1777.4l8.6 -13 6.7 6.9 -8.6 11.9z" fill="#bfb748"/>
<path d="M1100.2 1866.7l8.1 -15.8 7.2 -4.6 -8.1 15.6z" fill="#66a993"/>
<path d="M1305.3 1844.9l9.1 9 5.8 26.7 -9.1 -10.4z" fill="#61a59c"/>
<path d="M1231.4 1765.6l8.8 -5.3 6.4 14.9 -8.8 4z" fill="#c4b645"/>
<path d="M1364.9 1966.8l9.4 6.4 5.4 27 -9.4 -5.2z" fill="#5428b9"/>
<path d="M1268.4 1788.7l9 2.4 6 20.7 -8.9 -4z" fill="#a0bc5a"/>
<path d="M1085.7 1886.6l8.1 -14.9 7.2 -6.2 -8 15.1z" fill="#569cb2"/>
<path d="M1165.7 1786.8l8.5 -14.5 6.8 4.6 -8.5 13.5z" fill="#b7b94c"/>
<path d="M1328.1 1888.1l9.2 9.7 5.6 28.5 -9.2 -10z" fill="#4985c6"/>
<path d="M1071.2 1905.9l8 -13.4 7.4 -7.1 -8 14z" fill="#4d8fc0"/>
<path d="M1217 1761.1l8.8 -7.9 6.4 12.8 -8.7 6.6z" fill="#cdb340"/>
<path d="M1151.3 1799.3l8.4 -15.4 6.9 2.2 -8.4 14.7z" fill="#aabb54"/>
<path d="M1056.7 1922.8l7.9 -10.9 7.5 -7.1 -7.9 11.9z" fill="#4880c9"/>
<path d="M1291.1 1815.5l9.1 6.8 5.9 24.5 -9 -8.3z" fill="#7db775"/>
<path d="M1254.1 1772.2l8.9 -0.8 6.2 18.4 -8.9 -0.6z" fill="#b8b94b"/>
<path d="M1350.9 1932.7l9.4 8.2 5.4 27.9 -9.3 -7.4z" fill="#434ecf"/>
<path d="M1136.8 1814.6l8.3 -16.1 7 0 -8.3 15.5z" fill="#99bb60"/>
<path d="M1202.6 1761l8.7 -10.4 6.6 10.6 -8.7 9.1z" fill="#d1b23f"/>
<path d="M1122.3 1832.3l8.3 -16.5 7.1 -2.2 -8.3 16z" fill="#86b96f"/>
<path d="M1313.9 1853.4l9.3 9.3 5.7 27.5 -9.2 -10.2z" fill="#5ba0a9"/>
<path d="M1373.8 1972.9l9.5 5.6 5.3 25.7 -9.5 -4.3z" fill="#5626b7"/>
<path d="M1239.7 1760.5l8.9 -3.8 6.3 16.3 -8.8 2.5z" fill="#cab442"/>
<path d="M1188.2 1765.1l8.6 -12.5 6.7 8.2 -8.6 11.2z" fill="#cfb33f"/>
<path d="M1107.8 1851.8l8.2 -16.3 7.2 -4.3 -8.2 16z" fill="#74b47c"/>
<path d="M1276.9 1790.9l9 4 6.1 22.2 -9.1 -5.5z" fill="#9dbc5c"/>
<path d="M1336.8 1897.2l9.3 9.3 5.6 28.3 -9.3 -9.1z" fill="#487fca"/>
<path d="M1093.3 1872.5l8.1 -15.8 7.3 -6.1 -8.1 15.8z" fill="#64a897"/>
<path d="M1173.7 1773.1l8.6 -14.1 6.7 5.7 -8.5 13z" fill="#c8b543"/>
<path d="M1078.8 1893.3l8 -14.7 7.4 -7.3 -8.1 15z" fill="#5499b6"/>
<path d="M1225.3 1753.5l8.8 -6.6 6.5 14.2 -8.9 5.3z" fill="#d4b03e"/>
<path d="M1299.7 1821.8l9.2 7.8 5.9 25.8 -9.2 -9.1z" fill="#77b57a"/>
<path d="M1159.2 1784.7l8.5 -15.3 6.9 3.1 -8.5 14.5z" fill="#bdb849"/>
<path d="M1359.7 1940.5l9.5 7.4 5.4 26.9 -9.4 -6.4z" fill="#4446cd"/>
<path d="M1262.5 1771.4l9 0.9 6.2 19.9 -9 -2.4z" fill="#b9b94b"/>
<path d="M1064.2 1912.5l8 -12.6 7.4 -7.8 -7.9 13.3z" fill="#4b8cc3"/>
<path d="M1049.6 1928.8l7.9 -9.8 7.6 -7.5 -8 10.9z" fill="#477ccb"/>
<path d="M1210.8 1751.2l8.8 -9.3 6.6 11.9 -8.8 7.9z" fill="#d6ac3d"/>
<path d="M1144.7 1799.4l8.4 -16.2 7 0.7 -8.5 15.5z" fill="#adba52"/>
<path d="M1322.6 1862.2l9.3 9.4 5.7 27.8 -9.2 -9.8z" fill="#559bb4"/>
<path d="M1382.8 1978.2l9.6 5 5.3 24.4 -9.6 -3.7z" fill="#5825b5"/>
<path d="M1130.1 1816.8l8.4 -16.7 7 -1.7 -8.3 16.2z" fill="#9abb5f"/>
<path d="M1248.1 1756.9l9 -2.2 6.3 17.7 -9 0.8z" fill="#cfb340"/>
<path d="M1285.4 1794.6l9.2 5.4 6 23.6 -9.1 -6.8z" fill="#98bb60"/>
<path d="M1196.3 1753.3l8.7 -11.6 6.7 9.5 -8.7 10.3z" fill="#d7ac3d"/>
<path d="M1345.6 1906l9.4 8.9 5.6 27.6 -9.4 -8.2z" fill="#4679cc"/>
<path d="M1115.5 1836.4l8.3 -16.9 7.2 -3.8 -8.3 16.4z" fill="#85b870"/>
<path d="M1101 1857.6l8.2 -16.6 7.2 -5.8 -8.2 16.3z" fill="#71b380"/>
<path d="M1181.8 1759.8l8.6 -13.6 6.8 6.8 -8.6 12.5z" fill="#d5ae3d"/>
<path d="M1308.4 1829.1l9.3 8.6 5.8 26.5 -9.2 -9.3z" fill="#71b380"/>
<path d="M1233.6 1747.2l9 -5.1 6.4 15.5 -8.9 3.8z" fill="#d7ac3d"/>
<path d="M1086.4 1879.5l8.1 -15.8 7.3 -7.4 -8.1 15.9z" fill="#60a59d"/>
<path d="M1368.7 1947.5l9.5 6.9 5.4 25.6 -9.5 -5.6z" fill="#4541cb"/>
<path d="M1271 1772.2l9.1 2.6 6.2 21.3 -9.1 -4z" fill="#b8b94c"/>
<path d="M1167.2 1770.2l8.6 -15.1 6.8 4.2 -8.5 14.1z" fill="#d0b33f"/>
<path d="M1071.7 1900.6l8.1 -14.1 7.4 -8.3 -8 14.6z" fill="#5296b9"/>
<path d="M1331.4 1871.1l9.4 9.5 5.7 27.5 -9.4 -9.3z" fill="#5296b9"/>
<path d="M1219.1 1742.4l8.9 -7.9 6.5 13.2 -8.8 6.6z" fill="#dba73c"/>
<path d="M1057.1 1919.6l8 -11.8 7.5 -8.4 -8 12.7z" fill="#4a88c5"/>
<path d="M1152.6 1784.1l8.5 -16.1 7 1.5 -8.5 15.3z" fill="#c1b747"/>
<path d="M1391.9 1983l9.7 4.5 5.2 23.1 -9.7 -3.2z" fill="#5924b3"/>
<path d="M1294 1799.6l9.3 6.7 5.9 24.7 -9.2 -7.8z" fill="#93ba65"/>
<path d="M1256.6 1754.8l9 -0.4 6.3 19 -9 -1z" fill="#d1b23f"/>
<path d="M1042.3 1935l8 -8.6 7.6 -7.8 -7.9 9.8z" fill="#4679cd"/>
<path d="M1354.5 1914.5l9.5 8.4 5.5 26.6 -9.5 -7.5z" fill="#4572ce"/>
<path d="M1138 1801l8.4 -16.8 7.1 -1 -8.4 16.2z" fill="#afba51"/>
<path d="M1204.5 1742.3l8.9 -10.6 6.6 10.8 -8.8 9.3z" fill="#dca53c"/>
<path d="M1123.3 1820.5l8.4 -17.2 7.2 -3.4 -8.4 16.7z" fill="#99bb5f"/>
<path d="M1317.1 1837.2l9.4 9.2 5.8 26.8 -9.3 -9.5z" fill="#6cae89"/>
<path d="M1108.7 1842l8.3 -17.2 7.2 -5.5 -8.3 16.8z" fill="#82b872"/>
<path d="M1242.1 1742.3l9 -3.4 6.3 16.8 -8.9 2.1z" fill="#d9a93d"/>
<path d="M1377.7 1954.1l9.6 6.3 5.4 24.2 -9.6 -5z" fill="#473dc9"/>
<path d="M1189.9 1746.9l8.8 -12.9 6.7 8.1 -8.7 11.7z" fill="#dba63c"/>
<path d="M1279.6 1774.5l9.2 4.3 6.1 22.5 -9.1 -5.5z" fill="#b5b94d"/>
<path d="M1094 1864.6l8.2 -16.6 7.4 -7.3 -8.2 16.5z" fill="#6eb085"/>
<path d="M1340.3 1880.1l9.4 9.5 5.7 26.9 -9.5 -8.9z" fill="#4f91be"/>
<path d="M1175.3 1755.9l8.7 -14.7 6.8 5.3 -8.6 13.6z" fill="#d8aa3d"/>
<path d="M1079.3 1887.3l8.2 -15.5 7.4 -8.5 -8.1 15.7z" fill="#5ca1a6"/>
<path d="M1227.5 1734.8l8.9 -6.3 6.5 14.5 -8.9 5.1z" fill="#dea03b"/>
<path d="M1401 1987.3l9.8 4.2 5.2 21.8 -9.8 -2.9z" fill="#5a23b2"/>
<path d="M1302.8 1805.9l9.3 7.9 5.9 25.4 -9.3 -8.6z" fill="#8cba6a"/>
<path d="M1064.6 1908.6l8.1 -13.6 7.5 -9 -8.1 14.2z" fill="#4f93bc"/>
<path d="M1160.6 1768.9l8.6 -16.1 7 2.5 -8.6 15.1z" fill="#d3b03e"/>
<path d="M1265.1 1754.3l9.2 1.4 6.2 20.2 -9.1 -2.6z" fill="#d1b23e"/>
<path d="M1363.5 1922.5l9.6 8.1 5.4 25.3 -9.5 -6.9z" fill="#436bd0"/>
<path d="M1049.8 1927l8.1 -10.8 7.6 -8.8 -8 11.8z" fill="#4983c7"/>
<path d="M1145.9 1785.1l8.6 -16.9 7 -0.2 -8.5 16.1z" fill="#c4b645"/>
<path d="M1212.9 1732.2l8.9 -9.2 6.6 12.1 -8.9 8z" fill="#e09b39"/>
<path d="M1325.9 1845.8l9.5 9.7 5.7 26.6 -9.4 -9.5z" fill="#66a993"/>
<path d="M1035 1941.2l8 -7.3 7.7 -7.9 -7.9 8.6z" fill="#4574ce"/>
<path d="M1131.2 1804.3l8.5 -17.4 7.1 -2.8 -8.4 16.8z" fill="#afba51"/>
<path d="M1386.8 1960.1l9.7 6 5.4 22.7 -9.7 -4.5z" fill="#483ac8"/>
<path d="M1288.3 1778.4l9.3 5.8 6 23.5 -9.2 -6.8z" fill="#b0ba50"/>
<path d="M1250.6 1739l9.1 -1.6 6.3 18 -9.1 0.4z" fill="#dba73c"/>
<path d="M1198.2 1734.7l8.8 -11.9 6.7 9.4 -8.8 10.6z" fill="#e09a39"/>
<path d="M1116.5 1825.8l8.4 -17.6 7.2 -5.1 -8.3 17.1z" fill="#97bb61"/>
<path d="M1349.2 1889l9.5 9.5 5.6 26 -9.5 -8.5z" fill="#4c8dc2"/>
<path d="M1101.8 1849l8.3 -17.4 7.3 -7.1 -8.3 17.1z" fill="#7eb774"/>
<path d="M1311.5 1813.3l9.4 8.9 5.9 25.6 -9.3 -9.1z" fill="#84b870"/>
<path d="M1183.5 1742l8.7 -14.1 6.9 6.5 -8.8 12.9z" fill="#df9e3a"/>
<path d="M1410.3 1991.3l9.8 4.1 5.2 20.3 -9.8 -2.6z" fill="#5b23b1"/>
<path d="M1087 1872.7l8.2 -16.5 7.5 -8.6 -8.3 16.6z" fill="#6aad8c"/>
<path d="M1235.9 1728.7l9.1 -4.6 6.4 15.7 -9 3.4z" fill="#e09b39"/>
<path d="M1372.5 1930.2l9.7 7.8 5.5 23.8 -9.7 -6.3z" fill="#4165d1"/>
<path d="M1273.8 1755.5l9.2 3.2 6.2 21.3 -9.2 -4.3z" fill="#d0b33f"/>
<path d="M1072.2 1895.9l8.2 -15 7.5 -9.6 -8.1 15.5z" fill="#579daf"/>
<path d="M1168.7 1753.7l8.7 -15.7 7 3.4 -8.7 14.8z" fill="#dba63c"/>
<path d="M1334.8 1854.9l9.5 10.1 5.8 26.1 -9.5 -9.5z" fill="#60a49e"/>
<path d="M1057.4 1916.9l8.1 -12.7 7.6 -9.7 -8.1 13.6z" fill="#4d8fc0"/>
<path d="M1221.3 1723.4l8.9 -7.6 6.6 13.4 -8.9 6.4z" fill="#e39337"/>
<path d="M1154 1769.2l8.6 -16.8 7 0.5 -8.6 16z" fill="#d5af3d"/>
<path d="M1042.5 1934.4l8.1 -9.7 7.7 -9 -8 10.8z" fill="#487fca"/>
<path d="M1396 1965.8l9.8 5.8 5.3 21.2 -9.8 -4.2z" fill="#4937c6"/>
<path d="M1297 1783.8l9.4 7.2 6 24.2 -9.3 -7.9z" fill="#aabb54"/>
<path d="M1259.1 1737.4l9.2 0.3 6.3 19.1 -9.1 -1.4z" fill="#dba63c"/>
<path d="M1139.2 1787.9l8.5 -17.5 7.2 -2.2 -8.6 16.8z" fill="#c4b645"/>
<path d="M1358.2 1898l9.6 9.4 5.6 24.7 -9.6 -8.1z" fill="#4a87c5"/>
<path d="M1027.6 1947.2l8 -6 7.8 -7.8 -7.9 7.3z" fill="#325199"/>
<path d="M1206.5 1723.4l8.9 -10.5 6.7 10.7 -8.9 9.2z" fill="#e48e37"/>
<path d="M1124.4 1809.2l8.5 -17.8 7.2 -4.7 -8.5 17.3z" fill="#adba52"/>
<path d="M1320.4 1821.6l9.5 9.8 5.8 25.6 -9.4 -9.7z" fill="#7db775"/>
<path d="M1109.6 1832.6l8.4 -17.8 7.3 -6.9 -8.4 17.6z" fill="#92ba65"/>
<path d="M1419.6 1995.2l10 4 5.1 18.7 -10 -2.4z" fill="#5b23b0"/>
<path d="M1244.5 1724.3l9.1 -2.7 6.4 16.8 -9.1 1.6z" fill="#e29738"/>
<path d="M1381.7 1937.6l9.8 7.6 5.3 22.2 -9.7 -6z" fill="#405fd2"/>
<path d="M1191.7 1728.6l8.9 -13.1 6.8 7.7 -8.8 11.9z" fill="#e49137"/>
<path d="M1282.5 1758.4l9.3 4.9 6.1 22.2 -9.3 -5.8z" fill="#ccb441"/>
<path d="M1094.8 1857.2l8.3 -17.3 7.4 -8.7 -8.3 17.3z" fill="#79b678"/>
<path d="M1343.8 1864.4l9.6 10.4 5.7 25.2 -9.6 -9.5z" fill="#5a9faa"/>
<path d="M1079.9 1881.8l8.3 -16.3 7.5 -9.8 -8.3 16.5z" fill="#65a994"/>
<path d="M1176.9 1738.8l8.8 -15.1 6.9 4.5 -8.7 14.1z" fill="#e19839"/>
<path d="M1065 1905l8.2 -14.4 7.6 -10.3 -8.1 15z" fill="#5399b6"/>
<path d="M1229.7 1716.2l9.1 -5.8 6.6 14.5 -9.1 4.7z" fill="#e58836"/>
<path d="M1305.9 1790.6l9.4 8.6 6 24.4 -9.4 -8.9z" fill="#a3bc58"/>
<path d="M1405.3 1971.3l9.9 5.7 5.2 19.5 -9.9 -4z" fill="#4a34c5"/>
<path d="M1162.1 1753.3l8.7 -16.6 7 1.4 -8.7 15.7z" fill="#dca43c"/>
<path d="M1267.8 1737.6l9.3 2.2 6.2 20 -9.2 -3.1z" fill="#dba63c"/>
<path d="M1050.1 1925.4l8.1 -11.8 7.7 -10 -8.1 12.8z" fill="#4b8ac4"/>
<path d="M1367.3 1906.9l9.7 9.3 5.5 23.2 -9.7 -7.8z" fill="#4982c8"/>
<path d="M1147.3 1771.4l8.6 -17.4 7.1 -1.7 -8.6 16.8z" fill="#d5ae3d"/>
<path d="M1035.2 1941.7l8 -8.5 7.8 -9 -8 9.7z" fill="#477acc"/>
<path d="M1214.9 1713.4l9.1 -8.8 6.6 11.9 -9 7.6z" fill="#e77e35"/>
<path d="M1329.3 1830.8l9.6 10.6 5.8 25 -9.5 -10z" fill="#76b57b"/>
<path d="M1132.4 1792.4l8.5 -17.9 7.2 -4.3 -8.5 17.5z" fill="#c3b646"/>
<path d="M1429 1999l10.1 4.1 5.1 17.1 -10.1 -2.4z" fill="#5c22af"/>
<path d="M1020.1 1953.2l8 -4.8 8 -7.6 -8 6z" fill="#324f9c"/>
<path d="M1390.9 1944.8l9.9 7.5 5.3 20.5 -9.8 -5.8z" fill="#4158d1"/>
<path d="M1291.3 1763l9.3 6.7 6.1 22.7 -9.3 -7.3z" fill="#c7b544"/>
<path d="M1253.1 1721.7l9.2 -0.7 6.4 17.7 -9.2 -0.2z" fill="#e39538"/>
<path d="M1117.5 1815.8l8.5 -18.1 7.3 -6.6 -8.5 17.8z" fill="#a8bb55"/>
<path d="M1200.1 1716.2l8.9 -11.6 6.8 8.8 -8.9 10.5z" fill="#e77d35"/>
<path d="M1352.9 1874.2l9.6 10.7 5.7 23.9 -9.7 -9.4z" fill="#549ab5"/>
<path d="M1102.6 1840.8l8.4 -17.9 7.4 -8.5 -8.4 17.8z" fill="#8cba6a"/>
<path d="M1087.7 1866.5l8.3 -17.1 7.5 -10.1 -8.3 17.4z" fill="#73b47d"/>
<path d="M1314.8 1798.7l9.5 9.9 5.9 24.2 -9.5 -9.8z" fill="#9abb5f"/>
<path d="M1185.2 1724.5l8.9 -14.2 6.9 5.6 -8.9 13.1z" fill="#e68636"/>
<path d="M1414.6 1976.7l10 5.7 5.3 17.9 -10 -4z" fill="#4a32c4"/>
<path d="M1238.3 1710.7l9.2 -3.7 6.5 15.5 -9.2 2.7z" fill="#e78035"/>
<path d="M1072.7 1891.5l8.3 -15.7 7.6 -10.8 -8.3 16.2z" fill="#5fa49f"/>
<path d="M1276.6 1739.6l9.3 4.2 6.2 20.7 -9.3 -4.9z" fill="#daa73c"/>
<path d="M1376.5 1915.7l9.8 9.3 5.5 21.5 -9.8 -7.6z" fill="#477dcb"/>
<path d="M1170.3 1737.6l8.8 -16 7 2.2 -8.8 15.2z" fill="#e39438"/>
<path d="M1057.8 1914.4l8.2 -13.5 7.6 -10.8 -8.1 14.3z" fill="#5094bb"/>
<path d="M1338.3 1840.8l9.7 11.3 5.7 24.1 -9.6 -10.4z" fill="#6fb184"/>
<path d="M1042.8 1933.8l8.1 -10.6 7.8 -10.1 -8.1 11.7z" fill="#4984c7"/>
<path d="M1223.4 1705l9.1 -6.7 6.7 12.9 -9.1 5.7z" fill="#e87133"/>
<path d="M1155.4 1754.9l8.7 -17.1 7.1 -1.1 -8.7 16.6z" fill="#dda23b"/>
<path d="M1438.5 2002.9l10.2 4.4 5 15.2 -10.1 -2.5z" fill="#5d22ae"/>
<path d="M1300.1 1769.2l9.5 8.5 6 22.8 -9.4 -8.6z" fill="#c0b747"/>
<path d="M1400.2 1951.9l10 7.4 5.3 18.8 -9.9 -5.7z" fill="#4251cf"/>
<path d="M1261.8 1721l9.3 1.4 6.3 18.5 -9.2 -2.2z" fill="#e39438"/>
<path d="M1027.7 1948.7l8 -7.2 8 -8.7 -8.1 8.4z" fill="#335697"/>
<path d="M1140.5 1775.5l8.6 -17.8 7.2 -3.9 -8.6 17.4z" fill="#d4af3e"/>
<path d="M1362 1884.3l9.7 10.8 5.6 22.4 -9.7 -9.3z" fill="#5195ba"/>
<path d="M1208.5 1705.1l9.1 -9.8 6.7 9.9 -9 8.8z" fill="#e86c33"/>
<path d="M1125.5 1798.7l8.6 -18.2 7.2 -6.3 -8.5 17.9z" fill="#bfb748"/>
<path d="M1012.5 1958.8l8.1 -3.7 8 -7.1 -8 4.8z" fill="#324ea1"/>
<path d="M1323.7 1808l9.6 11 5.9 23.8 -9.5 -10.6z" fill="#90ba67"/>
<path d="M1110.5 1824l8.5 -18.3 7.4 -8.4 -8.5 18.1z" fill="#a2bc59"/>
<path d="M1424.1 1982.1l10.1 5.8 5.2 16.2 -10.1 -4.1z" fill="#4c2fc2"/>
<path d="M1246.9 1707.1l9.3 -1.4 6.5 16.2 -9.3 0.7z" fill="#e87b34"/>
<path d="M1385.7 1924.5l9.9 9.2 5.5 19.8 -9.9 -7.5z" fill="#4678cd"/>
<path d="M1285.4 1743.5l9.4 6.3 6.2 21.1 -9.4 -6.7z" fill="#d8aa3d"/>
<path d="M1193.6 1711.1l9 -12.7 6.8 6.6 -8.9 11.6z" fill="#e87033"/>
<path d="M1095.5 1850.4l8.4 -17.8 7.5 -10.2 -8.4 17.9z" fill="#85b870"/>
<path d="M1080.5 1876.8l8.4 -16.7 7.5 -11.3 -8.3 17.1z" fill="#6daf87"/>
<path d="M1347.4 1851.4l9.7 11.8 5.8 23 -9.7 -10.6z" fill="#68ab8f"/>
<path d="M1178.6 1722.5l8.9 -14.9 7 3 -8.9 14.1z" fill="#e77d35"/>
<path d="M1065.5 1901.8l8.2 -14.9 7.7 -11.7 -8.2 15.7z" fill="#599fac"/>
<path d="M1232 1698.6l9.2 -4.5 6.6 13.7 -9.1 3.7z" fill="#e86833"/>
<path d="M1309 1777.1l9.6 10.1 6 22.7 -9.5 -9.9z" fill="#b7b94c"/>
<path d="M1409.6 1958.9l10 7.4 5.3 17.1 -10 -5.7z" fill="#434bce"/>
<path d="M1050.4 1923.9l8.2 -12.4 7.8 -11.2 -8.2 13.5z" fill="#4d8fc0"/>
<path d="M1448.1 2007.1l10.2 4.7 5.1 13.2 -10.2 -2.7z" fill="#5e22ac"/>
<path d="M1163.6 1738.7l8.8 -16.6 7.1 -0.4 -8.8 16z" fill="#e39237"/>
<path d="M1270.6 1722.2l9.3 3.7 6.4 19.1 -9.4 -4.3z" fill="#e29638"/>
<path d="M1371.2 1894.5l9.8 10.9 5.6 20.8 -9.8 -9.2z" fill="#4e90bf"/>
<path d="M1035.3 1942l8.1 -9.4 7.9 -9.9 -8.1 10.6z" fill="#487fc9"/>
<path d="M1148.6 1758.7l8.7 -17.6 7.2 -3.5 -8.7 17.2z" fill="#dda33c"/>
<path d="M1332.8 1818.4l9.6 12.1 5.9 22.9 -9.6 -11.2z" fill="#86b96f"/>
<path d="M1217.1 1695.8l9.1 -7.7 6.7 10.8 -9.1 6.8z" fill="#e85d32"/>
<path d="M1020.1 1955.4l8.1 -6.1 8 -8.3 -8.1 7.3z" fill="#325299"/>
<path d="M1133.6 1781.6l8.6 -18.1 7.3 -6.1 -8.6 17.8z" fill="#d3b13e"/>
<path d="M1433.6 1987.6l10.2 6.1 5.1 14.5 -10.1 -4.4z" fill="#4e2ec0"/>
<path d="M1395.1 1933.2l10 9.2 5.4 18 -10 -7.4z" fill="#4470cf"/>
<path d="M1294.3 1749.4l9.5 8.3 6.1 21.2 -9.4 -8.4z" fill="#d5ad3d"/>
<path d="M1255.7 1705.7l9.3 0.8 6.4 16.9 -9.3 -1.5z" fill="#e87934"/>
<path d="M1118.5 1806.8l8.6 -18.3 7.4 -8.4 -8.6 18.2z" fill="#b9b94b"/>
<path d="M1004.9 1964.1l8 -2.8 8.1 -6.5 -8 3.6z" fill="#334ca4"/>
<path d="M1202.1 1699.1l9 -10.7 6.9 7.4 -9.1 9.8z" fill="#e85d32"/>
<path d="M1356.6 1862.6l9.8 12.3 5.7 21.5 -9.8 -10.8z" fill="#61a59c"/>
<path d="M1103.5 1833.6l8.5 -18.1 7.4 -10.3 -8.5 18.2z" fill="#9abb5f"/>
<path d="M1088.4 1861.1l8.4 -17.4 7.6 -11.7 -8.4 17.8z" fill="#7db775"/>
<path d="M1318 1786.6l9.7 11.5 6 22.3 -9.6 -11.1z" fill="#adba52"/>
<path d="M1187 1708.3l9 -13.3 7 3.7 -9 12.6z" fill="#e86633"/>
<path d="M1419.1 1966l10.1 7.5 5.3 15.3 -10.1 -5.8z" fill="#4445cd"/>
<path d="M1073.3 1887.8l8.3 -16 7.7 -12.4 -8.3 16.7z" fill="#66aa92"/>
<path d="M1240.7 1694.2l9.3 -2 6.6 14.3 -9.3 1.5z" fill="#e86132"/>
<path d="M1457.8 2011.6l10.3 5.3 5 10.8 -10.3 -3z" fill="#5f22ab"/>
<path d="M1279.4 1725.6l9.5 6.1 6.3 19.3 -9.5 -6.3z" fill="#e19939"/>
<path d="M1380.5 1904.9l9.9 11 5.5 18.9 -9.9 -9.2z" fill="#4b8bc3"/>
<path d="M1058.1 1912.2l8.3 -13.9 7.8 -12.1 -8.3 14.9z" fill="#5499b6"/>
<path d="M1171.9 1723l9 -15.4 7 0 -8.9 15z" fill="#e87934"/>
<path d="M1341.9 1829.8l9.7 12.9 5.9 21.8 -9.8 -11.8z" fill="#7db676"/>
<path d="M1043 1933.2l8.2 -11.3 7.9 -11 -8.2 12.4z" fill="#4b8ac4"/>
<path d="M1225.7 1688.5l9.2 -5.2 6.7 11.5 -9.2 4.5z" fill="#e75230"/>
<path d="M1156.8 1742.1l8.9 -16.9 7.1 -3.2 -8.8 16.6z" fill="#e39337"/>
<path d="M1443.2 1993.4l10.3 6.6 5.1 12.6 -10.2 -4.7z" fill="#502cbe"/>
<path d="M1303.2 1757.2l9.6 10.2 6.1 21 -9.5 -10z" fill="#d2b23e"/>
<path d="M1027.7 1949.8l8.2 -8.3 8 -9.4 -8.2 9.4z" fill="#345a96"/>
<path d="M1404.5 1941.9l10.1 9.2 5.3 16.2 -10 -7.4z" fill="#4269d0"/>
<path d="M1264.5 1706.4l9.4 3.3 6.4 17.2 -9.4 -3.6z" fill="#e87b34"/>
<path d="M1141.7 1764.5l8.8 -17.7 7.3 -5.9 -8.8 17.5z" fill="#dca53c"/>
<path d="M1365.8 1874.2l9.9 12.6 5.7 19.8 -9.9 -10.9z" fill="#5a9faa"/>
<path d="M1012.4 1961.6l8.1 -5.1 8.1 -7.6 -8 6.1z" fill="#324f9b"/>
<path d="M1126.6 1789.5l8.7 -18.1 7.3 -8.3 -8.6 18z" fill="#cfb340"/>
<path d="M1210.6 1688.9l9.2 -8.3 6.8 8.1 -9.2 7.6z" fill="#e64d2f"/>
<path d="M1327.1 1797.4l9.7 12.9 6 21.4 -9.7 -12z" fill="#a2bc59"/>
<path d="M1111.5 1816.5l8.6 -18.2 7.4 -10.4 -8.6 18.3z" fill="#b1ba50"/>
<path d="M1428.6 1973.1l10.3 7.8 5.2 13.7 -10.2 -6.1z" fill="#4640ca"/>
<path d="M997.1 1968.9l8 -2 8.3 -5.9 -8.1 2.7z" fill="#334ba7"/>
<path d="M1467.5 2016.7l10.5 6 5 8.2 -10.5 -3.4z" fill="#6121a8"/>
<path d="M1096.3 1844.7l8.5 -17.9 7.6 -12 -8.5 18.2z" fill="#91ba66"/>
<path d="M1249.5 1692.2l9.3 0.5 6.6 14.7 -9.4 -0.8z" fill="#e85f32"/>
<path d="M1389.8 1915.3l10.1 11 5.5 17.1 -10 -9.2z" fill="#4985c7"/>
<path d="M1288.3 1731.3l9.6 8.3 6.2 19.3 -9.5 -8.4z" fill="#df9e3a"/>
<path d="M1195.5 1695.6l9.1 -11.2 6.9 4.3 -9.1 10.7z" fill="#e75230"/>
<path d="M1081.1 1872.7l8.5 -16.8 7.6 -12.9 -8.4 17.4z" fill="#74b47c"/>
<path d="M1351.1 1842l9.8 13.7 5.8 20.4 -9.8 -12.3z" fill="#73b47d"/>
<path d="M1065.9 1899.2l8.4 -15.2 7.8 -12.9 -8.4 16z" fill="#5fa49f"/>
<path d="M1180.3 1708.4l9.1 -13.8 7 0.5 -9 13.3z" fill="#e86132"/>
<path d="M1050.7 1922.6l8.3 -12.8 7.9 -12.2 -8.3 14z" fill="#5094bb"/>
<path d="M1312.3 1766.8l9.6 12 6.1 20.5 -9.6 -11.5z" fill="#c7b543"/>
<path d="M1234.4 1683.5l9.3 -2.5 6.7 11.9 -9.3 2.1z" fill="#e64b2f"/>
<path d="M1414 1950.6l10.2 9.3 5.3 14.5 -10.1 -7.6z" fill="#4162d1"/>
<path d="M1452.9 1999.7l10.4 7.1 5.1 10.8 -10.4 -5.3z" fill="#522abb"/>
<path d="M1273.4 1709.5l9.5 5.9 6.3 17.3 -9.4 -6z" fill="#e78035"/>
<path d="M1165.2 1726.1l8.9 -15.6 7.2 -3 -9 15.4z" fill="#e87934"/>
<path d="M1375.1 1886.1l10 12.8 5.6 18.1 -9.9 -11z" fill="#5499b6"/>
<path d="M1035.4 1942l8.3 -10.1 7.9 -10.6 -8.2 11.3z" fill="#4984c7"/>
<path d="M1150 1747.8l8.8 -16.9 7.3 -5.9 -8.8 16.8z" fill="#e29538"/>
<path d="M1336.3 1809.5l9.8 14.1 5.9 20.4 -9.8 -13z" fill="#95bb63"/>
<path d="M1020.1 1956.9l8.1 -7.2 8.1 -8.7 -8.1 8.3z" fill="#335697"/>
<path d="M1219.2 1681l9.3 -5.6 6.8 8.5 -9.2 5.1z" fill="#e5412e"/>
<path d="M1134.8 1772.4l8.8 -17.6 7.3 -8.4 -8.8 17.7z" fill="#d9a93d"/>
<path d="M1438.3 1980.5l10.3 8.1 5.2 12.2 -10.3 -6.6z" fill="#473bc8"/>
<path d="M1399.3 1925.7l10.1 11 5.5 15.4 -10.1 -9.2z" fill="#487eca"/>
<path d="M1297.3 1739.1l9.7 10.5 6.2 19 -9.6 -10.3z" fill="#dca53c"/>
<path d="M1258.3 1692.5l9.4 3.2 6.6 14.9 -9.5 -3.3z" fill="#e86032"/>
<path d="M1004.7 1967.1l8.1 -4.2 8.2 -6.8 -8.1 5.1z" fill="#324d9e"/>
<path d="M1119.6 1799.3l8.7 -18 7.4 -10.4 -8.7 18.1z" fill="#c7b544"/>
<path d="M1360.4 1855l9.9 14.2 5.7 18.7 -9.9 -12.5z" fill="#6bad8b"/>
<path d="M1204.1 1684.9l9.1 -8.7 7 4.8 -9.2 8.2z" fill="#e5412e"/>
<path d="M1104.3 1827.9l8.6 -17.9 7.6 -12.3 -8.6 18.2z" fill="#a7bb56"/>
<path d="M1089.1 1856.9l8.5 -17.2 7.7 -13.6 -8.6 17.8z" fill="#86b96f"/>
<path d="M989.2 1973.4l8 -1.4 8.4 -5.4 -8.1 2z" fill="#3449a8"/>
<path d="M1321.4 1778.1l9.7 13.6 6.1 19.8 -9.7 -12.9z" fill="#bbb84a"/>
<path d="M1073.8 1884.9l8.5 -15.9 7.7 -13.8 -8.4 16.8z" fill="#6daf88"/>
<path d="M1423.6 1959.4l10.3 9.4 5.3 12.9 -10.3 -7.8z" fill="#4159d1"/>
<path d="M1188.8 1695.3l9.2 -11.6 7 0.8 -9.1 11.3z" fill="#e64c2f"/>
<path d="M1462.7 2006.4l10.5 7.9 5 8.9 -10.4 -6z" fill="#5527b8"/>
<path d="M1243.2 1681.1l9.4 0.2 6.6 12.1 -9.4 -0.5z" fill="#e5482f"/>
<path d="M1384.5 1898.2l10.1 12.9 5.6 16.2 -10 -11z" fill="#5093bc"/>
<path d="M1282.3 1715l9.6 8.5 6.3 17.1 -9.5 -8.3z" fill="#e58936"/>
<path d="M1058.5 1910.6l8.4 -14.1 7.8 -13.2 -8.3 15.1z" fill="#589eae"/>
<path d="M1173.6 1711.3l9 -13.8 7.2 -3 -9.1 13.8z" fill="#e86132"/>
<path d="M1043.2 1932.6l8.3 -11.7 7.9 -11.8 -8.2 12.9z" fill="#4d8fc0"/>
<path d="M1345.5 1822.8l9.9 15 5.9 19.1 -9.9 -13.7z" fill="#88b96e"/>
<path d="M1228 1675.6l9.3 -2.8 6.8 8.8 -9.3 2.5z" fill="#e33a2c"/>
<path d="M1158.3 1731.8l9 -15.6 7.2 -6 -8.9 15.7z" fill="#e77d35"/>
<path d="M1027.8 1950.2l8.2 -8.9 8.1 -9.9 -8.2 10.1z" fill="#487fca"/>
<path d="M1448 1988.2l10.4 8.6 5.2 10.7 -10.4 -7.2z" fill="#4936c6"/>
<path d="M1306.4 1748.9l9.7 12.5 6.2 18.5 -9.7 -12z" fill="#d7ab3d"/>
<path d="M1408.8 1936.1l10.2 11 5.5 13.6 -10.2 -9.2z" fill="#4678cd"/>
<path d="M1267.2 1695.4l9.5 6 6.5 14.9 -9.5 -5.9z" fill="#e86532"/>
<path d="M1143.1 1755.7l8.8 -16.7 7.4 -8.5 -8.9 16.9z" fill="#e09a39"/>
<path d="M1369.7 1868.4l10 14.5 5.7 17.1 -9.9 -12.8z" fill="#62a799"/>
<path d="M1012.3 1963.2l8.2 -6.1 8.2 -7.8 -8.2 7.1z" fill="#325298"/>
<path d="M1127.8 1782.4l8.7 -17.5 7.5 -10.7 -8.8 17.7z" fill="#d6ad3d"/>
<path d="M1212.7 1676.6l9.3 -5.8 6.9 5 -9.3 5.6z" fill="#e3382b"/>
<path d="M1330.6 1790.9l9.8 15 6 18.8 -9.8 -14z" fill="#aeba52"/>
<path d="M1112.5 1811l8.6 -17.7 7.6 -12.6 -8.7 18z" fill="#bcb849"/>
<path d="M996.8 1972.1l8.1 -3.4 8.4 -6.1 -8.2 4.2z" fill="#324ba1"/>
<path d="M1433.3 1968.3l10.3 9.4 5.3 11.6 -10.3 -8.1z" fill="#4250cf"/>
<path d="M1097.1 1840.6l8.6 -17.3 7.7 -14.1 -8.6 17.9z" fill="#9bbb5e"/>
<path d="M1394 1910.4l10.2 12.7 5.5 14.5 -10.1 -11z" fill="#4c8dc2"/>
<path d="M1291.4 1722.9l9.6 10.9 6.3 16.8 -9.6 -10.5z" fill="#e39438"/>
<path d="M1252 1681.2l9.5 3.1 6.6 12.1 -9.4 -3.1z" fill="#e5492f"/>
<path d="M1197.4 1684.3l9.2 -8.8 7 0.9 -9.1 8.7z" fill="#e43b2d"/>
<path d="M1081.8 1869.9l8.5 -16.5 7.7 -14.5 -8.5 17.2z" fill="#7cb676"/>
<path d="M1354.8 1837l10 15.7 5.8 17.6 -9.9 -14.3z" fill="#7cb676"/>
<path d="M981.2 1977.5l8.1 -0.9 8.4 -4.9 -8 1.4z" fill="#3548aa"/>
<path d="M1066.4 1897.4l8.5 -15 7.8 -14.2 -8.4 16z" fill="#65a995"/>
<path d="M1182.1 1698.2l9.1 -11.6 7.2 -2.9 -9.2 11.6z" fill="#e64c2f"/>
<path d="M1051 1921.7l8.4 -12.9 7.9 -13 -8.3 14.1z" fill="#5398b7"/>
<path d="M1315.6 1760.7l9.8 14.3 6.1 17.8 -9.8 -13.6z" fill="#d2b23e"/>
<path d="M1457.8 1996.3l10.6 9.1 5.1 9.5 -10.5 -7.9z" fill="#4b30c3"/>
<path d="M1418.5 1946.5l10.3 10.8 5.4 12.2 -10.3 -9.3z" fill="#446fcf"/>
<path d="M1236.8 1672.9l9.4 0.1 6.7 8.9 -9.4 -0.2z" fill="#e3382b"/>
<path d="M1276.2 1701l9.6 8.7 6.5 14.7 -9.6 -8.5z" fill="#e86e33"/>
<path d="M1035.6 1941.8l8.3 -10.4 8 -11.1 -8.3 11.7z" fill="#4a89c4"/>
<path d="M1166.8 1717l9 -13.7 7.2 -6.1 -9 13.9z" fill="#e86533"/>
<path d="M1379.2 1882.2l10.1 14.5 5.6 15.3 -10 -12.8z" fill="#5a9faa"/>
<path d="M1151.4 1739.9l9 -15.4 7.3 -8.7 -9 15.6z" fill="#e68636"/>
<path d="M1020 1957.5l8.3 -7.8 8.2 -8.9 -8.3 8.9z" fill="#345a96"/>
<path d="M1339.9 1805.1l9.9 16.3 5.9 17.5 -9.8 -15z" fill="#9fbc5b"/>
<path d="M1221.5 1671l9.3 -2.9 6.9 5.1 -9.3 2.8z" fill="#e13329"/>
<path d="M1136 1765.9l8.9 -16.5 7.4 -11 -8.8 16.8z" fill="#dea13b"/>
<path d="M1443 1977.2l10.5 9.6 5.2 10.6 -10.4 -8.6z" fill="#4446cd"/>
<path d="M1403.6 1922.5l10.2 12.4 5.6 13 -10.2 -11z" fill="#4986c6"/>
<path d="M1300.5 1733.1l9.7 13.1 6.3 16.2 -9.7 -12.5z" fill="#df9d3a"/>
<path d="M1004.5 1969l8.2 -5.1 8.3 -7.2 -8.2 6.1z" fill="#324f9a"/>
<path d="M1120.7 1794.3l8.7 -17 7.6 -13 -8.8 17.4z" fill="#d1b23e"/>
<path d="M1261 1684l9.6 6.1 6.5 12 -9.5 -5.9z" fill="#e64e30"/>
<path d="M1364.2 1851.9l10.1 16.1 5.8 15.9 -10 -14.5z" fill="#71b280"/>
<path d="M1105.3 1824.3l8.7 -17.2 7.6 -14.5 -8.7 17.6z" fill="#b0ba50"/>
<path d="M1206.1 1675.9l9.3 -5.8 7 0.8 -9.3 5.9z" fill="#e1342a"/>
<path d="M988.8 1976.7l8.2 -2.6 8.4 -5.7 -8.1 3.4z" fill="#324aa4"/>
<path d="M1089.8 1854.4l8.7 -16.6 7.7 -15.3 -8.6 17.3z" fill="#8eba69"/>
<path d="M1324.8 1774.1l9.9 16 6.1 16.9 -9.9 -15.1z" fill="#c4b645"/>
<path d="M1074.4 1883.3l8.5 -15.5 7.9 -15.2 -8.6 16.5z" fill="#72b37f"/>
<path d="M1428.2 1956.7l10.4 10.6 5.3 11.1 -10.3 -9.4z" fill="#4265d1"/>
<path d="M1190.7 1687.2l9.3 -8.7 7 -3.1 -9.2 8.8z" fill="#e43b2d"/>
<path d="M1245.7 1672.9l9.5 3.2 6.7 8.8 -9.5 -3.1z" fill="#e3392c"/>
<path d="M1388.7 1895.9l10.2 14.4 5.6 13.7 -10.1 -12.8z" fill="#5398b7"/>
<path d="M1285.3 1709.1l9.7 11.3 6.4 14.3 -9.7 -10.9z" fill="#e77b34"/>
<path d="M1058.9 1909.6l8.5 -13.9 7.9 -14.1 -8.4 15z" fill="#447678"/>
<path d="M973.1 1981.2l8.1 -0.2 8.6 -4.6 -8.1 0.8z" fill="#3647ab"/>
<path d="M1043.4 1932.1l8.4 -11.7 8.1 -12.3 -8.4 12.9z" fill="#4f92bd"/>
<path d="M1175.3 1704l9.2 -11.3 7.2 -6.4 -9.2 11.6z" fill="#e65030"/>
<path d="M1349.2 1820.4l10 17.2 5.9 16.1 -9.9 -15.7z" fill="#8fba67"/>
<path d="M1027.8 1950.2l8.4 -9.2 8.1 -10.2 -8.3 10.5z" fill="#4983c7"/>
<path d="M1159.9 1725.4l9 -13.5 7.3 -9 -9 13.7z" fill="#e86e33"/>
<path d="M1230.3 1668.2l9.5 0.2 6.8 5 -9.4 -0.1z" fill="#e03028"/>
<path d="M1452.9 1986.3l10.6 9.8 5.1 9.9 -10.5 -9.1z" fill="#463fca"/>
<path d="M1309.7 1745.4l9.8 15 6.2 15.5 -9.8 -14.3z" fill="#dba73c"/>
<path d="M1413.3 1934.3l10.3 12.1 5.5 11.6 -10.3 -10.8z" fill="#487fca"/>
<path d="M1270 1689.7l9.7 9 6.5 11.8 -9.6 -8.8z" fill="#e75831"/>
<path d="M1144.4 1750.3l9 -14.9 7.4 -11.4 -9 15.3z" fill="#e49237"/>
<path d="M1373.7 1867.1l10.1 16.2 5.8 14.3 -10.1 -14.6z" fill="#67ab91"/>
<path d="M1012.2 1964.2l8.3 -6.6 8.3 -8.3 -8.3 7.8z" fill="#335697"/>
<path d="M1128.9 1778.2l8.9 -16 7.5 -13.4 -8.8 16.4z" fill="#daa83c"/>
<path d="M1214.9 1670.3l9.4 -2.7 6.9 0.7 -9.3 2.9z" fill="#e02f28"/>
<path d="M1334.1 1789.2l10 17.3 6 15.8 -9.9 -16.2z" fill="#b5ba4e"/>
<path d="M1113.5 1808.1l8.8 -16.5 7.6 -15.1 -8.8 17.1z" fill="#908532"/>
<path d="M996.5 1974.4l8.2 -4.2 8.4 -6.7 -8.2 5.1z" fill="#324e9e"/>
<path d="M1438 1966.7l10.5 10.4 5.3 10.4 -10.5 -9.7z" fill="#415cd1"/>
<path d="M1098 1838.7l8.7 -16.4 7.7 -16 -8.7 17.1z" fill="#778941"/>
<path d="M1398.3 1909.6l10.3 14 5.6 12.1 -10.3 -12.5z" fill="#4f91be"/>
<path d="M1294.4 1719.7l9.8 13.6 6.4 13.7 -9.8 -13z" fill="#e58c36"/>
<path d="M1254.7 1675.8l9.6 6.3 6.6 8.6 -9.5 -6.1z" fill="#e43c2d"/>
<path d="M1199.4 1678.9l9.4 -5.6 7 -3.3 -9.3 5.8z" fill="#e1332a"/>
<path d="M1082.5 1868.7l8.6 -15.8 7.8 -16 -8.6 16.6z" fill="#5f8654"/>
<path d="M980.7 1981.1l8.2 -1.8 8.5 -5.5 -8.1 2.6z" fill="#334aa6"/>
<path d="M1358.6 1836.6l10.1 17.6 5.9 14.7 -10 -16.1z" fill="#81b773"/>
<path d="M1066.9 1896.6l8.6 -14.5 7.9 -15.2 -8.6 15.6z" fill="#4d7e68"/>
<path d="M1183.9 1693.2l9.3 -8.4 7.2 -6.6 -9.3 8.7z" fill="#e43f2d"/>
<path d="M1051.3 1921.1l8.5 -12.6 8 -13.5 -8.4 13.8z" fill="#3f7283"/>
<path d="M1318.9 1759.5l9.9 16.8 6.2 14.7 -9.8 -15.9z" fill="#d5af3d"/>
<path d="M1423 1945.8l10.5 11.6 5.4 10.6 -10.4 -10.7z" fill="#4677cd"/>
<path d="M1239.2 1668.3l9.6 3.3 6.8 4.9 -9.5 -3.2z" fill="#e13129"/>
<path d="M964.9 1984.7l8.1 0.5 8.7 -4.5 -8.1 0.3z" fill="#3647ad"/>
<path d="M1279.1 1698.2l9.8 11.7 6.5 11.3 -9.8 -11.3z" fill="#e86533"/>
<path d="M1035.7 1941.6l8.4 -10.4 8.2 -11.4 -8.4 11.6z" fill="#38688e"/>
<path d="M1383.3 1882.4l10.2 16 5.7 12.7 -10.2 -14.4z" fill="#5ea3a2"/>
<path d="M1168.4 1712.6l9.2 -11 7.3 -9.4 -9.2 11.4z" fill="#ab4224"/>
<path d="M1152.9 1736.2l9.1 -13.1 7.4 -11.8 -9.1 13.5z" fill="#aa5a27"/>
<path d="M1020 1958l8.4 -8 8.2 -9.5 -8.3 9.2z" fill="#355d94"/>
<path d="M1343.5 1805.5l10 18.3 6 14.7 -9.9 -17.1z" fill="#a4bc58"/>
<path d="M1223.8 1667.6l9.4 0.4 7 0.6 -9.5 -0.2z" fill="#df2d27"/>
<path d="M1137.3 1763.1l9 -14.6 7.5 -13.8 -9 14.9z" fill="#a5722a"/>
<path d="M1447.9 1976.6l10.6 10 5.3 10.1 -10.6 -9.8z" fill="#4251cf"/>
<path d="M1303.7 1732.5l9.8 15.7 6.4 13 -9.9 -15z" fill="#e19939"/>
<path d="M1408 1922.8l10.4 13.3 5.5 11 -10.3 -12.1z" fill="#4b8bc4"/>
<path d="M1004.3 1970.5l8.2 -5.5 8.4 -7.9 -8.2 6.7z" fill="#325399"/>
<path d="M1263.7 1681.7l9.7 9.4 6.6 8.2 -9.6 -9z" fill="#e5462e"/>
<path d="M1121.8 1792.5l8.9 -15.5 7.6 -15.6 -8.9 16z" fill="#9c812d"/>
<path d="M1368.2 1853.2l10.1 17.6 5.9 13.3 -10.2 -16.2z" fill="#74b47c"/>
<path d="M1106.2 1823.2l8.8 -15.9 7.7 -16.6 -8.8 16.5z" fill="#868838"/>
<path d="M1208.2 1673.5l9.4 -2.4 7.1 -3.6 -9.4 2.7z" fill="#b82621"/>
<path d="M988.4 1979.5l8.3 -3.2 8.5 -6.4 -8.2 4.1z" fill="#324da2"/>
<path d="M1090.6 1853.8l8.7 -15.6 7.8 -16.8 -8.7 16.4z" fill="#6c894a"/>
<path d="M1328.3 1775.3l10 18.2 6.1 13.9 -9.9 -17.3z" fill="#c8b543"/>
<path d="M1075 1883l8.6 -14.7 7.9 -16.2 -8.6 15.7z" fill="#57855a"/>
<path d="M1432.9 1956.7l10.5 10.9 5.4 10.1 -10.5 -10.4z" fill="#436dcf"/>
<path d="M1192.7 1685.2l9.3 -5.2 7.2 -7 -9.4 5.6z" fill="#b32b22"/>
<path d="M1248.2 1671.3l9.7 6.6 6.7 4.6 -9.6 -6.3z" fill="#e2352a"/>
<path d="M1392.9 1897.5l10.3 15.3 5.7 11.5 -10.3 -14z" fill="#559bb4"/>
<path d="M1288.3 1709.2l9.8 14.1 6.5 10.7 -9.8 -13.6z" fill="#e87634"/>
<path d="M1059.3 1909.3l8.6 -13.2 8 -14.8 -8.5 14.4z" fill="#477973"/>
<path d="M972.5 1985.2l8.2 -0.8 8.7 -5.4 -8.2 1.8z" fill="#3449a9"/>
<path d="M1177.1 1702.2l9.2 -8 7.3 -9.8 -9.3 8.4z" fill="#ae3824"/>
<path d="M1043.6 1931.9l8.5 -11.3 8.2 -12.8 -8.5 12.6z" fill="#3c6e88"/>
<path d="M1353 1822.8l10.1 18.8 6 13.4 -10.1 -17.6z" fill="#92ba65"/>
<path d="M956.6 1987.9l8.1 1.4 8.8 -4.3 -8.1 -0.6z" fill="#3848b0"/>
<path d="M1027.9 1950.5l8.4 -9 8.3 -10.9 -8.4 10.4z" fill="#366491"/>
<path d="M1232.7 1667.9l9.6 3.6 6.9 0.3 -9.6 -3.3z" fill="#c72923"/>
<path d="M1161.5 1723.8l9.1 -10.5 7.4 -12.3 -9.2 11z" fill="#ad4d26"/>
<path d="M1313 1747.2l9.9 17.5 6.3 12.3 -9.9 -16.7z" fill="#dca63c"/>
<path d="M1417.8 1935.4l10.5 12.5 5.5 10.1 -10.5 -11.6z" fill="#4983c8"/>
<path d="M1272.9 1690.5l9.7 12.1 6.6 7.8 -9.7 -11.7z" fill="#db502e"/>
<path d="M1377.7 1869.9l10.3 17.3 5.8 11.9 -10.2 -15.9z" fill="#69ac8d"/>
<path d="M1145.8 1749.3l9.1 -12.6 7.5 -14.3 -9.1 13z" fill="#aa6828"/>
<path d="M1012.1 1965.4l8.3 -6.8 8.4 -9.1 -8.3 8z" fill="#345a97"/>
<path d="M1130.2 1777.8l9 -14.1 7.6 -16 -9 14.5z" fill="#a37b2d"/>
<path d="M1217.1 1671.1l9.5 0.7 7 -3.9 -9.4 -0.4z" fill="#c62823"/>
<path d="M1337.7 1792.5l10.1 19.2 6.1 12.9 -10 -18.3z" fill="#b6b94d"/>
<path d="M1114.5 1808.2l8.9 -14.9 7.7 -17.2 -8.9 15.5z" fill="#958631"/>
<path d="M996.2 1976.6l8.3 -4.4 8.5 -7.6 -8.3 5.5z" fill="#33529d"/>
<path d="M1442.8 1967.1l10.7 10 5.3 10.1 -10.6 -10.1z" fill="#4164d1"/>
<path d="M1098.8 1839.1l8.9 -15.1 7.8 -17.6 -8.9 15.9z" fill="#7b8a40"/>
<path d="M1297.6 1722.4l9.9 16.2 6.4 10.2 -9.9 -15.6z" fill="#e58b36"/>
<path d="M1402.6 1912l10.4 14.5 5.7 10.3 -10.4 -13.3z" fill="#5094bb"/>
<path d="M1257.3 1677.4l9.8 9.7 6.7 4.3 -9.7 -9.4z" fill="#de392b"/>
<path d="M1201.5 1680.2l9.4 -2.1 7.2 -7.3 -9.5 2.4z" fill="#c02b23"/>
<path d="M1083.1 1869.2l8.8 -14.7 7.9 -17.2 -8.8 15.6z" fill="#628852"/>
<path d="M1362.5 1840.6l10.2 18.8 6 12.2 -10.2 -17.6z" fill="#82b872"/>
<path d="M980.3 1984.5l8.2 -2 8.7 -6.5 -8.3 3.1z" fill="#334da6"/>
<path d="M1067.4 1896.9l8.7 -13.5 8 -16 -8.7 14.7z" fill="#508165"/>
<path d="M1185.8 1694.6l9.4 -4.8 7.2 -10.3 -9.3 5.3z" fill="#ba3225"/>
<path d="M1322.4 1763.7l10 18.9 6.2 11.6 -10 -18.2z" fill="#d5af3d"/>
<path d="M1051.7 1921.3l8.5 -11.9 8.2 -14.1 -8.6 13.2z" fill="#41757f"/>
<path d="M1241.7 1671.2l9.7 6.7 6.9 0.1 -9.7 -6.5z" fill="#e03128"/>
<path d="M964.2 1989.3l8.2 0.3 8.8 -5.5 -8.2 0.8z" fill="#3649ad"/>
<path d="M1427.7 1947.2l10.5 11.3 5.5 9.7 -10.5 -10.9z" fill="#477bcb"/>
<path d="M1282.1 1701.8l9.8 14.6 6.6 7.4 -9.8 -14.1z" fill="#e66532"/>
<path d="M1387.4 1886.3l10.4 16.5 5.7 10.7 -10.3 -15.3z" fill="#5fa4a0"/>
<path d="M1170.1 1713.8l9.3 -7.6 7.4 -12.6 -9.3 8z" fill="#b44426"/>
<path d="M1035.8 1942l8.6 -9.9 8.2 -12.2 -8.5 11.3z" fill="#396a8d"/>
<path d="M1347.2 1810.6l10.2 19.7 6 12 -10.1 -18.7z" fill="#a3bc58"/>
<path d="M1154.4 1737.4l9.2 -10.2 7.5 -14.7 -9.2 10.6z" fill="#af5b27"/>
<path d="M1020 1959.1l8.4 -7.7 8.4 -10.5 -8.4 9.1z" fill="#366194"/>
<path d="M948.2 1990.9l8.1 2.7 8.9 -4.5 -8.1 -1.4z" fill="#3949b4"/>
<path d="M1226.1 1671.7l9.6 3.8 7 -4.1 -9.6 -3.6z" fill="#d92c26"/>
<path d="M1138.7 1764.5l9.1 -12.2 7.5 -16.5 -9.1 12.6z" fill="#a8732b"/>
<path d="M1306.9 1737.7l10 18 6.4 9.6 -10 -17.4z" fill="#de9939"/>
<path d="M1412.5 1925.7l10.5 13.2 5.6 9.5 -10.5 -12.4z" fill="#4c8dc2"/>
<path d="M1004 1972.5l8.4 -5.4 8.5 -8.9 -8.3 6.7z" fill="#34589a"/>
<path d="M1266.5 1686.5l9.8 12.4 6.7 4 -9.8 -12.1z" fill="#ed4c32"/>
<path d="M1122.9 1794.1l9.1 -13.5 7.6 -17.8 -9 14.1z" fill="#9f822e"/>
<path d="M1372.1 1858.4l10.3 18.4 5.9 11.1 -10.2 -17.3z" fill="#74b47c"/>
<path d="M1210.4 1678.2l9.5 1 7.1 -7.7 -9.5 -0.7z" fill="#cc2c25"/>
<path d="M1107.2 1824.9l8.9 -14.3 7.8 -18.3 -8.9 14.9z" fill="#898a38"/>
<path d="M988 1982.7l8.4 -3.2 8.6 -7.7 -8.3 4.4z" fill="#3451a2"/>
<path d="M1091.4 1855.4l8.8 -14.2 7.9 -18.2 -8.8 15.1z" fill="#6f8b49"/>
<path d="M1331.8 1781.5l10.1 19.9 6.2 11 -10 -19.2z" fill="#c2b243"/>
<path d="M1075.6 1884.2l8.8 -13.6 7.9 -17 -8.7 14.6z" fill="#598659"/>
<path d="M1194.6 1690l9.5 -1.7 7.2 -10.7 -9.4 2.1z" fill="#c53126"/>
<path d="M1250.9 1677.5l9.7 9.8 6.8 -0.1 -9.7 -9.6z" fill="#f53f32"/>
<path d="M1437.6 1957.9l10.7 9.9 5.5 9.9 -10.7 -10.1z" fill="#4574ce"/>
<path d="M1291.4 1715.5l9.9 16.6 6.5 7 -9.9 -16.2z" fill="#ee7f37"/>
<path d="M1397.2 1901.9l10.4 15.4 5.8 9.8 -10.4 -14.5z" fill="#569cb2"/>
<path d="M1059.8 1910.1l8.6 -12.2 8.1 -15.4 -8.6 13.5z" fill="#4a7c70"/>
<path d="M972 1989.7l8.3 -0.8 8.7 -6.8 -8.2 2.1z" fill="#344cab"/>
<path d="M1178.9 1706.6l9.4 -4.5 7.3 -13 -9.4 4.8z" fill="#be3f27"/>
<path d="M1356.8 1829.3l10.2 19.7 6.1 11.1 -10.2 -18.8z" fill="#91ba66"/>
<path d="M1043.9 1932.7l8.6 -10.5 8.2 -13.6 -8.6 11.9z" fill="#3e7187"/>
<path d="M1235.2 1675.2l9.7 6.9 6.9 -4.3 -9.7 -6.7z" fill="#f2382f"/>
<path d="M955.8 1993.5l8.3 1.6 8.8 -5.8 -8.2 -0.3z" fill="#384ab2"/>
<path d="M1163.1 1727.7l9.3 -7.2 7.4 -15.1 -9.3 7.6z" fill="#b75328"/>
<path d="M1316.3 1754.6l10.1 19.4 6.3 9.2 -10 -18.9z" fill="#dcaa3d"/>
<path d="M1027.9 1951.9l8.6 -8.6 8.3 -11.8 -8.5 9.9z" fill="#386791"/>
<path d="M1422.4 1938.2l10.6 11.5 5.6 9.3 -10.6 -11.2z" fill="#4986c6"/>
<path d="M1275.8 1698.1l9.9 14.9 6.6 3.7 -9.8 -14.5z" fill="#f96438"/>
<path d="M1381.9 1875.8l10.4 17.6 5.8 10 -10.3 -16.5z" fill="#69ac8e"/>
<path d="M1147.3 1752.9l9.2 -9.8 7.5 -16.8 -9.2 10.2z" fill="#ae6b29"/>
<path d="M1012 1967.5l8.4 -6.4 8.5 -10.3 -8.5 7.7z" fill="#355e97"/>
<path d="M1219.4 1679.1l9.6 4 7.1 -7.9 -9.6 -3.9z" fill="#e3332a"/>
<path d="M1131.4 1781.3l9.2 -11.8 7.6 -18.2 -9.1 12.2z" fill="#a57d2d"/>
<path d="M939.6 1993.7l8.2 4.4 9 -4.7 -8.1 -2.8z" fill="#3b4bb9"/>
<path d="M1341.4 1800.3l10.2 20.4 6.1 10.3 -10.1 -19.7z" fill="#b1b84e"/>
<path d="M1115.6 1811.4l9 -12.9 7.8 -19 -9 13.6z" fill="#978732"/>
<path d="M995.9 1979.8l8.4 -4.1 8.6 -9.1 -8.4 5.5z" fill="#34569f"/>
<path d="M1300.8 1731.1l10 18.4 6.5 6.6 -10 -17.9z" fill="#f09a3c"/>
<path d="M1260.1 1686.7l9.8 12.5 6.8 -0.2 -9.8 -12.4z" fill="#ff5139"/>
<path d="M1099.7 1842l9 -13.5 7.9 -18.9 -9 14.2z" fill="#7d8c40"/>
<path d="M1407.1 1916.5l10.5 13.8 5.7 9.1 -10.5 -13.1z" fill="#5195ba"/>
<path d="M1203.6 1688.3l9.5 1.3 7.2 -10.9 -9.5 -1z" fill="#d33428"/>
<path d="M1083.9 1871.4l8.8 -13.2 8 -18 -8.9 14.2z" fill="#648a52"/>
<path d="M1366.5 1848l10.3 19.3 6 10.2 -10.3 -18.5z" fill="#7cb270"/>
<path d="M979.8 1989l8.3 -1.8 8.8 -8.1 -8.4 3.2z" fill="#3450a9"/>
<path d="M1067.9 1898.6l8.8 -12.3 8.1 -16.6 -8.7 13.5z" fill="#528363"/>
<path d="M1187.7 1702.3l9.5 -1.4 7.3 -13.3 -9.4 1.7z" fill="#c83d29"/>
<path d="M1325.8 1772.9l10.2 20.3 6.3 8.8 -10.1 -19.9z" fill="#d8b741"/>
<path d="M1244.3 1681.6l9.8 9.9 6.9 -4.3 -9.7 -9.9z" fill="#ff4638"/>
<path d="M1052 1922.8l8.7 -10.9 8.2 -14.9 -8.7 12.3z" fill="#44777c"/>
<path d="M1285.1 1712.1l10 16.8 6.6 3.5 -9.9 -16.6z" fill="#ff7e3d"/>
<path d="M963.6 1995.1l8.3 0.6 8.9 -7.2 -8.3 0.8z" fill="#374cb1"/>
<path d="M1432.4 1949.1l10.8 9.6 5.5 9.6 -10.7 -9.9z" fill="#487fc9"/>
<path d="M1171.9 1720.8l9.4 -4.2 7.4 -15.3 -9.4 4.5z" fill="#c24f2a"/>
<path d="M1391.7 1892.5l10.5 16.2 5.8 9.2 -10.5 -15.4z" fill="#5fa4a0"/>
<path d="M1036 1943.9l8.6 -9.1 8.4 -13.3 -8.7 10.5z" fill="#3b6d8c"/>
<path d="M1351 1819.6l10.3 20.4 6.1 9.7 -10.3 -19.8z" fill="#9fbc5b"/>
<path d="M1156 1743.6l9.3 -7 7.5 -17 -9.3 7.2z" fill="#b8652a"/>
<path d="M1228.5 1682.8l9.7 7 7 -8 -9.7 -7z" fill="#fa3f33"/>
<path d="M1019.9 1961.6l8.6 -7.1 8.5 -11.8 -8.6 8.5z" fill="#376494"/>
<path d="M947.3 1997.9l8.3 3.3 9 -6.4 -8.3 -1.6z" fill="#3a4ab8"/>
<path d="M1140.1 1770.1l9.2 -9.5 7.6 -18.5 -9.2 9.9z" fill="#ac782c"/>
<path d="M1310.2 1748.4l10.1 19.7 6.5 6.4 -10.1 -19.4z" fill="#eead42"/>
<path d="M1269.4 1698.4l9.9 14.9 6.7 -0.2 -9.9 -14.9z" fill="#ff683e"/>
<path d="M1417 1929.6l10.7 11.8 5.6 8.9 -10.6 -11.6z" fill="#4d8fc0"/>
<path d="M1003.8 1976l8.5 -4.9 8.6 -10.5 -8.5 6.3z" fill="#365c9d"/>
<path d="M1124.1 1799.2l9.2 -11.4 7.7 -19.3 -9.1 11.7z" fill="#a1842e"/>
<path d="M1212.6 1689.5l9.7 4.2 7.1 -11.1 -9.6 -4.1z" fill="#e83b2e"/>
<path d="M1376.2 1866.3l10.5 18.4 5.9 9.3 -10.4 -17.6z" fill="#6fae7b"/>
<path d="M931 1996.3l8.2 6.6 9.1 -5.1 -8.2 -4.4z" fill="#3e4fc3"/>
<path d="M1108.2 1829.3l9 -12.3 7.9 -19.6 -9.1 13z" fill="#8a8b39"/>
<path d="M1335.4 1792.1l10.3 20.8 6.2 8.3 -10.2 -20.4z" fill="#c6bf4c"/>
<path d="M987.7 1987.4l8.4 -2.7 8.7 -9.5 -8.4 4.1z" fill="#3554a6"/>
<path d="M1092.2 1859l9 -12.6 7.9 -18.9 -8.9 13.4z" fill="#718c49"/>
<path d="M1196.7 1700.9l9.6 1.5 7.3 -13.5 -9.6 -1.3z" fill="#d7402b"/>
<path d="M1253.5 1690.9l9.9 12.5 6.9 -4.3 -9.8 -12.6z" fill="#ff583e"/>
<path d="M1294.5 1727.9l10.1 18.5 6.6 3.4 -10.1 -18.4z" fill="#ff9b41"/>
<path d="M1076.2 1887l8.9 -12.1 8.1 -17.7 -8.9 13.2z" fill="#5b8859"/>
<path d="M1401.6 1907.9l10.6 14.4 5.7 8.6 -10.5 -13.9z" fill="#569cb2"/>
<path d="M971.4 1995.8l8.4 -0.3 8.8 -8.7 -8.3 1.8z" fill="#364fb0"/>
<path d="M1060.2 1912.6l8.8 -11 8.2 -16.2 -8.8 12.3z" fill="#4b7e6e"/>
<path d="M1180.7 1716.8l9.5 -1.3 7.4 -15.4 -9.4 1.4z" fill="#cb4e2b"/>
<path d="M1360.7 1838.9l10.4 20 6 9 -10.3 -19.4z" fill="#8cba6b"/>
<path d="M1044.1 1935.3l8.8 -9.5 8.3 -14.7 -8.7 11z" fill="#3f7387"/>
<path d="M1237.7 1689.3l9.8 9.9 7 -8 -9.8 -9.9z" fill="#ff4d3b"/>
<path d="M1319.8 1767l10.2 20.6 6.4 6.1 -10.2 -20.4z" fill="#e8bb45"/>
<path d="M1164.8 1736.9l9.4 -4.1 7.5 -17.1 -9.4 4.2z" fill="#c2612b"/>
<path d="M955.1 2001.1l8.3 2.2 9 -7.9 -8.3 -0.7z" fill="#3a4bb7"/>
<path d="M1278.7 1712.5l10 16.8 6.8 -0.3 -10 -16.8z" fill="#ff8242"/>
<path d="M1028 1954.9l8.7 -7.6 8.4 -13.2 -8.6 9.1z" fill="#396a91"/>
<path d="M1427.1 1940.8l10.8 9.4 5.6 9.1 -10.8 -9.6z" fill="#4a89c4"/>
<path d="M1148.8 1761.1l9.3 -6.9 7.6 -18.6 -9.3 7z" fill="#b6762d"/>
<path d="M1386.1 1883.7l10.5 16.9 5.9 8.6 -10.5 -16.2z" fill="#64a58b"/>
<path d="M1221.7 1693.4l9.8 7 7.1 -11.1 -9.7 -7z" fill="#fd4836"/>
<path d="M1011.8 1971.4l8.6 -5.6 8.6 -11.9 -8.6 7z" fill="#37619a"/>
<path d="M1132.8 1788.4l9.2 -9.2 7.7 -19.7 -9.2 9.6z" fill="#a9822f"/>
<path d="M938.7 2002.6l8.3 5.3 9.1 -7 -8.3 -3.3z" fill="#3d4bc0"/>
<path d="M1345.1 1811.8l10.3 20.9 6.2 7.8 -10.3 -20.4z" fill="#b3c358"/>
<path d="M1116.7 1817.6l9.2 -10.8 7.8 -20.1 -9.1 11.4z" fill="#968934"/>
<path d="M1262.9 1702.6l9.9 14.8 6.9 -4.2 -10 -14.9z" fill="#ff6f43"/>
<path d="M1304 1745.3l10.2 19.8 6.5 3.3 -10.1 -19.7z" fill="#fdb146"/>
<path d="M995.6 1984.9l8.5 -3.4 8.7 -11 -8.5 4.9z" fill="#365aa3"/>
<path d="M1205.7 1702.3l9.7 4.3 7.3 -13.6 -9.7 -4.2z" fill="#ea4930"/>
<path d="M1100.7 1847.1l9 -11.5 8 -19.7 -9.1 12.3z" fill="#7d8d41"/>
<path d="M1411.6 1921.5l10.7 12.1 5.7 8.3 -10.7 -11.8z" fill="#5196b9"/>
<path d="M922.2 1998.9l8.2 9.3 9.3 -5.6 -8.2 -6.5z" fill="#4456d4"/>
<path d="M1084.6 1875.6l9 -11.5 8 -18.7 -8.9 12.5z" fill="#658b53"/>
<path d="M1370.5 1857.8l10.5 19 6 8.4 -10.4 -18.4z" fill="#7cb676"/>
<path d="M979.3 1995.5l8.5 -1.1 8.8 -10.2 -8.4 2.7z" fill="#3652ad"/>
<path d="M1189.7 1715.5l9.6 1.6 7.4 -15.5 -9.6 -1.5z" fill="#da522e"/>
<path d="M1068.5 1902.2l8.9 -10.9 8.2 -17.3 -8.9 12z" fill="#538463"/>
<path d="M1329.4 1786.4l10.3 21.1 6.3 5.9 -10.2 -20.9z" fill="#dbc54b"/>
<path d="M1246.9 1698.5l9.9 12.4 7 -7.8 -9.9 -12.6z" fill="#ff6141"/>
<path d="M1288.2 1728.3l10.1 18.5 6.7 -0.3 -10.1 -18.5z" fill="#ff9e46"/>
<path d="M1052.4 1926.4l8.8 -9.7 8.3 -16 -8.8 11z" fill="#45797c"/>
<path d="M1173.7 1733l9.5 -1.3 7.5 -17.1 -9.5 1.3z" fill="#cb602d"/>
<path d="M963 2003.3l8.3 1.3 9 -9.6 -8.4 0.3z" fill="#394cb5"/>
<path d="M1396 1899.7l10.7 15 5.8 8.1 -10.6 -14.4z" fill="#5ea3a1"/>
<path d="M1036.2 1947.8l8.7 -8.1 8.4 -14.7 -8.7 9.5z" fill="#3c6f8d"/>
<path d="M1230.9 1699.9l9.9 9.7 7.1 -11 -9.8 -9.8z" fill="#ff5a3d"/>
<path d="M1157.6 1754.5l9.4 -4.1 7.6 -18.6 -9.4 4.1z" fill="#c0742d"/>
<path d="M1354.8 1831.5l10.5 20.5 6.1 7.4 -10.4 -20z" fill="#9ec366"/>
<path d="M946.5 2007.7l8.4 4.2 9 -9 -8.3 -2.3z" fill="#3d48bd"/>
<path d="M1019.9 1966.2l8.7 -6.2 8.5 -13.4 -8.6 7.6z" fill="#386797"/>
<path d="M1313.6 1764l10.2 20.6 6.5 3.2 -10.2 -20.6z" fill="#f7c149"/>
<path d="M1141.5 1779.7l9.3 -6.8 7.7 -19.8 -9.3 6.9z" fill="#b28230"/>
<path d="M1272.3 1716.5l10 16.7 6.8 -4 -10 -16.9z" fill="#ff8946"/>
<path d="M1214.9 1706.3l9.7 6.9 7.3 -13.5 -9.8 -7z" fill="#fc5838"/>
<path d="M1125.4 1807.4l9.2 -8.9 7.8 -20.4 -9.2 9.2z" fill="#a48b30"/>
<path d="M1003.6 1981.7l8.6 -4.1 8.7 -12.4 -8.6 5.6z" fill="#3760a1"/>
<path d="M1421.7 1933l10.8 9.3 5.7 8.4 -10.8 -9.4z" fill="#4e91be"/>
<path d="M1380.4 1875.8l10.6 17.6 5.9 7.7 -10.5 -16.9z" fill="#6eaf81"/>
<path d="M930 2007.7l8.3 7.9 9.2 -8 -8.3 -5.4z" fill="#444ed0"/>
<path d="M1109.2 1836.2l9.2 -10.2 7.9 -20.3 -9.1 10.8z" fill="#898d3c"/>
<path d="M1339.1 1806.3l10.4 21.1 6.3 5.7 -10.4 -20.9z" fill="#c5ca57"/>
<path d="M1198.8 1716.9l9.7 4.3 7.3 -15.4 -9.7 -4.3z" fill="#eb5b32"/>
<path d="M1256.3 1710.1l10 14.5 6.9 -7.5 -10 -14.8z" fill="#ff7946"/>
<path d="M1093.1 1864.7l9.1 -10.7 8 -19.5 -9.1 11.6z" fill="#708d4b"/>
<path d="M987.3 1994.5l8.5 -1.9 8.8 -11.7 -8.5 3.4z" fill="#3756ab"/>
<path d="M1297.7 1745.7l10.2 19.7 6.6 -0.2 -10.1 -19.8z" fill="#ffb74a"/>
<path d="M1076.9 1892l9 -10.5 8.1 -18.5 -8.9 11.6z" fill="#5b895b"/>
<path d="M1182.6 1731.7l9.7 1.4 7.4 -16.9 -9.6 -1.6z" fill="#da6630"/>
<path d="M1406.1 1914l10.7 12.5 5.8 7.6 -10.7 -12.1z" fill="#579cb1"/>
<path d="M970.9 2004.6l8.4 0.4 9 -11.2 -8.5 1.2z" fill="#374fb4"/>
<path d="M1060.7 1917.3l8.9 -9.6 8.3 -17.3 -8.9 10.9z" fill="#4c7f6f"/>
<path d="M1364.7 1850.8l10.5 19.6 6.1 6.9 -10.5 -19.1z" fill="#8bbf74"/>
<path d="M1240.2 1709l9.9 12 7.1 -10.7 -9.9 -12.3z" fill="#ff6e42"/>
<path d="M1323.2 1783.5l10.4 21.1 6.4 3.1 -10.3 -21.1z" fill="#edcc4c"/>
<path d="M1044.4 1940.2l8.8 -8.3 8.4 -16 -8.8 9.6z" fill="#407488"/>
<path d="M1166.5 1750.5l9.5 -1.4 7.6 -18.4 -9.5 1.3z" fill="#c8742f"/>
<path d="M1281.7 1732.2l10.2 18.2 6.8 -3.7 -10.1 -18.5z" fill="#ffa549"/>
<path d="M954.4 2011.7l8.4 3.1 9.1 -10.7 -8.4 -1.3z" fill="#3c48bb"/>
<path d="M1028.1 1960.4l8.8 -6.6 8.5 -14.9 -8.7 8.1z" fill="#3a6c94"/>
<path d="M1150.3 1773.2l9.5 -4.2 7.7 -19.7 -9.5 4.1z" fill="#bb8230"/>
<path d="M1224.1 1712.7l9.9 9.5 7.2 -13.3 -9.9 -9.7z" fill="#ff693e"/>
<path d="M1390.4 1892.5l10.7 15.5 5.9 7.2 -10.7 -15z" fill="#63a48e"/>
<path d="M1134.1 1799l9.4 -6.7 7.8 -20.6 -9.4 6.8z" fill="#ad8b31"/>
<path d="M1348.9 1826.2l10.4 20.8 6.3 5.3 -10.4 -20.4z" fill="#b0cc63"/>
<path d="M1011.8 1977.9l8.6 -4.7 8.7 -13.9 -8.7 6.2z" fill="#39649e"/>
<path d="M937.8 2015.2l8.4 6.4 9.2 -10.2 -8.4 -4.2z" fill="#4347ca"/>
<path d="M1265.7 1723.7l10.1 16.4 6.9 -7.2 -10.1 -16.7z" fill="#ff9249"/>
<path d="M1307.3 1764.2l10.3 20.6 6.6 -0.1 -10.2 -20.6z" fill="#ffc84e"/>
<path d="M1117.9 1826.6l9.3 -8.5 7.9 -20.7 -9.3 8.9z" fill="#968f38"/>
<path d="M1207.9 1720.8l9.8 6.8 7.4 -15.2 -9.8 -6.9z" fill="#fb6a39"/>
<path d="M995.3 1992.7l8.7 -2.6 8.7 -13.2 -8.6 4.2z" fill="#375ba8"/>
<path d="M1101.6 1854.6l9.2 -9.5 8.1 -20.2 -9.2 10.2z" fill="#7c9044"/>
<path d="M1416.2 1925.9l10.9 9.5 5.8 7.4 -10.9 -9.3z" fill="#5397b8"/>
<path d="M1374.6 1869.3l10.6 18.1 6.1 6.4 -10.6 -17.6z" fill="#7bb97d"/>
<path d="M1085.4 1882.1l9.1 -9.7 8.1 -19.4 -9.1 10.6z" fill="#648c55"/>
<path d="M1191.7 1733l9.8 3.9 7.4 -16.7 -9.7 -4.2z" fill="#e96f34"/>
<path d="M1249.6 1720.3l10 14.1 7.1 -10.3 -10 -14.5z" fill="#ff8547"/>
<path d="M978.9 2005l8.5 -0.4 8.9 -12.7 -8.5 2z" fill="#3752b2"/>
<path d="M1333 1803.4l10.4 21.2 6.4 3.1 -10.4 -21.2z" fill="#d6d258"/>
<path d="M1069.1 1908.3l9 -9.4 8.3 -18.4 -9 10.5z" fill="#538565"/>
<path d="M1291.3 1749.4l10.2 19.4 6.8 -3.5 -10.2 -19.7z" fill="#ffbd4d"/>
<path d="M1175.5 1749.1l9.6 1.2 7.6 -18.2 -9.6 -1.4z" fill="#d77a32"/>
<path d="M1052.7 1932.4l9 -8.3 8.4 -17.4 -9 9.7z" fill="#467a7e"/>
<path d="M962.3 2014.7l8.5 2.1 9.1 -12.4 -8.5 -0.4z" fill="#3b48b8"/>
<path d="M1233.4 1721.5l10 11.7 7.1 -12.9 -9.9 -12z" fill="#ff7e43"/>
<path d="M1400.5 1907.2l10.8 13.1 5.9 6.6 -10.8 -12.5z" fill="#589898"/>
<path d="M1159.2 1769.2l9.6 -1.6 7.7 -19.5 -9.6 1.4z" fill="#c38431"/>
<path d="M1036.4 1954.2l8.8 -6.9 8.5 -16.3 -8.8 8.3z" fill="#3d7190"/>
<path d="M1358.7 1845.8l10.6 19.9 6.2 5 -10.5 -19.5z" fill="#9bc972"/>
<path d="M1275.2 1739.1l10.2 17.8 6.9 -6.8 -10.2 -18.2z" fill="#ffae4c"/>
<path d="M1317 1783.6l10.4 21.1 6.5 0 -10.3 -21.2z" fill="#fad34f"/>
<path d="M945.7 2021.4l8.5 5.1 9.1 -12.3 -8.4 -3.1z" fill="#4143c4"/>
<path d="M1142.9 1792.6l9.5 -4.2 7.8 -20.5 -9.5 4.2z" fill="#b58d33"/>
<path d="M1019.9 1973.5l8.8 -5.2 8.7 -15.3 -8.8 6.6z" fill="#3a699c"/>
<path d="M1217.2 1727.1l9.9 9.1 7.3 -14.9 -9.9 -9.4z" fill="#ff7b3f"/>
<path d="M1126.6 1818.5l9.4 -6.4 7.9 -21 -9.4 6.7z" fill="#a39236"/>
<path d="M1003.5 1990.3l8.7 -3.3 8.7 -14.6 -8.7 4.7z" fill="#3961a6"/>
<path d="M1384.6 1886.5l10.8 16.1 6 5.8 -10.7 -15.6z" fill="#6daf88"/>
<path d="M1110.3 1845.6l9.3 -8 8 -20.7 -9.3 8.5z" fill="#889341"/>
<path d="M1259 1733.5l10.2 15.9 7 -9.8 -10.1 -16.4z" fill="#ff9e4a"/>
<path d="M1342.8 1823.4l10.5 20.9 6.4 2.9 -10.5 -20.7z" fill="#c0d464"/>
<path d="M1200.9 1736.6l9.8 6.4 7.5 -16.3 -9.9 -6.8z" fill="#f87e3a"/>
<path d="M1301 1767.6l10.3 20.3 6.7 -3.2 -10.3 -20.6z" fill="#ffce51"/>
<path d="M1094 1872.9l9.2 -8.7 8.1 -20.2 -9.2 9.5z" fill="#6f9050"/>
<path d="M986.9 2004.7l8.7 -1.2 8.9 -14.2 -8.7 2.7z" fill="#3755b0"/>
<path d="M1077.6 1899.5l9.1 -8.8 8.2 -19.4 -9.1 9.7z" fill="#5b8b5e"/>
<path d="M1184.6 1750.2l9.8 3.6 7.5 -17.8 -9.7 -4z" fill="#e48335"/>
<path d="M1242.8 1732.5l10.1 13.6 7.1 -12.4 -10 -14.1z" fill="#ff9447"/>
<path d="M970.3 2016.8l8.6 1.1 9 -14 -8.5 0.4z" fill="#3a4ab6"/>
<path d="M1410.7 1919.7l10.9 10 5.8 6.1 -10.9 -9.5z" fill="#589daf"/>
<path d="M1368.7 1864.6l10.7 18.6 6.2 4.5 -10.7 -18.1z" fill="#88c47d"/>
<path d="M1061.2 1924.6l9 -8.2 8.4 -18.5 -9.1 9.3z" fill="#4c8173"/>
<path d="M1326.8 1803.5l10.5 21.2 6.5 0 -10.4 -21.2z" fill="#e4da5a"/>
<path d="M1168.3 1767.6l9.6 0.8 7.7 -19.2 -9.7 -1.1z" fill="#d18b34"/>
<path d="M1284.8 1755.9l10.3 19 6.8 -6.4 -10.2 -19.4z" fill="#ffc450"/>
<path d="M1044.7 1947.7l9 -7 8.5 -17.6 -9 8.4z" fill="#41768d"/>
<path d="M953.7 2026.3l8.5 3.9 9.1 -14.1 -8.5 -2.1z" fill="#3f40be"/>
<path d="M1226.5 1735.6l10 11.2 7.3 -14.4 -10 -11.6z" fill="#ff8f44"/>
<path d="M1151.9 1788.6l9.6 -1.9 7.7 -20.3 -9.5 1.7z" fill="#bd9034"/>
<path d="M1028.2 1968.7l8.9 -5.6 8.6 -16.7 -8.8 6.9z" fill="#3b6e99"/>
<path d="M1394.8 1901.8l10.8 13.7 6 5.1 -10.8 -13z" fill="#61a391"/>
<path d="M1135.5 1812.4l9.5 -4.2 7.9 -21 -9.5 4.3z" fill="#ae9534"/>
<path d="M1352.7 1843.2l10.7 20.2 6.3 2.5 -10.6 -19.8z" fill="#aad372"/>
<path d="M1268.6 1748.4l10.2 17.4 7 -9.3 -10.2 -17.9z" fill="#ffba4e"/>
<path d="M1310.7 1786.8l10.4 20.8 6.7 -3 -10.4 -21.1z" fill="#ffd953"/>
<path d="M1011.7 1987.3l8.8 -3.8 8.7 -16 -8.8 5.2z" fill="#3a65a4"/>
<path d="M1210.2 1742.6l9.9 8.6 7.4 -15.9 -9.9 -9.1z" fill="#ff8f3f"/>
<path d="M1119.1 1838.1l9.4 -6.2 8 -21 -9.4 6.4z" fill="#93963e"/>
<path d="M995.1 2003.6l8.7 -1.8 8.9 -15.6 -8.7 3.3z" fill="#3859ad"/>
<path d="M1102.6 1864.6l9.3 -7.4 8.2 -20.7 -9.3 8z" fill="#7a944b"/>
<path d="M1193.8 1753.5l9.9 6 7.5 -17.4 -9.9 -6.4z" fill="#f1923b"/>
<path d="M1252.3 1745.2l10.2 15.4 7.1 -11.9 -10.2 -15.8z" fill="#ffad4b"/>
<path d="M1378.8 1882.2l10.8 16.8 6.1 3.9 -10.7 -16.2z" fill="#79bd85"/>
<path d="M1086.2 1891.2l9.2 -7.9 8.2 -20.3 -9.2 8.8z" fill="#648f5a"/>
<path d="M1336.7 1823.5l10.5 21 6.5 -0.1 -10.5 -20.9z" fill="#cddd66"/>
<path d="M1294.5 1773.8l10.4 19.9 6.8 -6 -10.4 -20.3z" fill="#ffd454"/>
<path d="M978.4 2017.9l8.7 0.3 9 -15.5 -8.7 1.2z" fill="#384cb5"/>
<path d="M1069.7 1916.9l9.1 -7.8 8.4 -19.5 -9.2 8.8z" fill="#53876b"/>
<path d="M1177.4 1768.3l9.8 3.2 7.6 -18.8 -9.8 -3.6z" fill="#dd9437"/>
<path d="M1236 1746.1l10 13.1 7.3 -13.9 -10.1 -13.6z" fill="#ffa548"/>
<path d="M961.7 2030l8.6 2.8 9.1 -15.7 -8.6 -1.1z" fill="#3d3fb8"/>
<path d="M1053.2 1941.1l9 -7 8.5 -18.7 -9.1 8.2z" fill="#467c85"/>
<path d="M1160.9 1786.8l9.7 0.5 7.8 -20 -9.7 -0.8z" fill="#c99737"/>
<path d="M1362.8 1862.3l10.7 19 6.3 2.1 -10.7 -18.6z" fill="#96cf80"/>
<path d="M1405 1914.9l11 10.8 5.9 4.3 -10.9 -10z" fill="#579696"/>
<path d="M1278.2 1764.7l10.3 18.6 7 -8.8 -10.3 -19.1z" fill="#ffcb52"/>
<path d="M1036.6 1963.5l8.9 -5.8 8.6 -18 -8.9 7.1z" fill="#3e7396"/>
<path d="M1320.5 1806.4l10.5 21.2 6.6 -3 -10.4 -21.2z" fill="#ede05d"/>
<path d="M1144.4 1808.3l9.7 -2 7.8 -20.7 -9.6 1.8z" fill="#b69835"/>
<path d="M1219.5 1750.7l10.1 10.7 7.3 -15.5 -10 -11.2z" fill="#ffa245"/>
<path d="M1020 1983.7l8.9 -4.2 8.7 -17.3 -8.9 5.5z" fill="#3b69a1"/>
<path d="M1127.9 1832.2l9.6 -4.1 7.9 -21.1 -9.5 4.2z" fill="#9e993d"/>
<path d="M1261.9 1759.7l10.2 16.8 7.1 -11.3 -10.2 -17.4z" fill="#ffc150"/>
<path d="M1003.3 2001.9l8.8 -2.4 8.9 -16.9 -8.8 3.8z" fill="#395eab"/>
<path d="M1203.1 1759.1l9.9 8.1 7.5 -16.9 -9.9 -8.7z" fill="#fca241"/>
<path d="M1389 1898.2l10.9 14.5 6.1 3.1 -10.9 -13.8z" fill="#6cb091"/>
<path d="M1346.6 1843.3l10.7 20.5 6.4 -0.4 -10.6 -20.1z" fill="#b6dd75"/>
<path d="M1111.4 1857.6l9.4 -5.8 8.1 -21.1 -9.4 6.2z" fill="#859847"/>
<path d="M1304.3 1792.6l10.4 20.6 6.8 -5.8 -10.4 -20.9z" fill="#ffdf55"/>
<path d="M1094.9 1883.7l9.3 -6.8 8.2 -20.8 -9.3 7.4z" fill="#6c9357"/>
<path d="M986.6 2018.2l8.7 -0.5 9 -16.8 -8.7 1.9z" fill="#3750b3"/>
<path d="M1186.6 1771.3l9.9 5.4 7.6 -18.3 -9.9 -5.9z" fill="#e9a03d"/>
<path d="M1245.5 1758.4l10.2 14.8 7.2 -13.3 -10.2 -15.4z" fill="#ffba4d"/>
<path d="M1078.3 1909.6l9.2 -7.1 8.4 -20.4 -9.3 8z" fill="#5a8d64"/>
<path d="M969.8 2032.7l8.7 1.7 9.1 -17.1 -8.7 -0.3z" fill="#3c40b6"/>
<path d="M1372.9 1880.3l10.8 17.4 6.2 1.5 -10.8 -16.8z" fill="#86c989"/>
<path d="M1287.9 1782.2l10.4 19.5 6.9 -8.4 -10.3 -19.9z" fill="#ffd955"/>
<path d="M1330.4 1826.4l10.6 21 6.6 -3 -10.6 -21z" fill="#d5e46a"/>
<path d="M1170.1 1787.2l9.8 2.7 7.7 -19.5 -9.8 -3.2z" fill="#d5a03a"/>
<path d="M1061.7 1934.5l9.1 -6.8 8.5 -19.7 -9.1 7.8z" fill="#4c827c"/>
<path d="M1229 1760.7l10.1 12.6 7.4 -15 -10.1 -13.1z" fill="#ffb54a"/>
<path d="M1045 1958l9.1 -5.9 8.6 -19.1 -9.1 7.1z" fill="#417792"/>
<path d="M1153.5 1806.4l9.7 0.2 7.9 -20.5 -9.7 -0.5z" fill="#c09e38"/>
<path d="M1028.4 1979.8l8.9 -4.6 8.7 -18.5 -8.9 5.8z" fill="#3c6e9f"/>
<path d="M1271.5 1775.5l10.4 18.1 7 -10.9 -10.3 -18.5z" fill="#ffd254"/>
<path d="M1136.9 1828.3l9.6 -2.1 8 -21 -9.6 2z" fill="#a79c3c"/>
<path d="M1356.7 1862.6l10.8 19.5 6.3 -0.8 -10.7 -19z" fill="#a1d984"/>
<path d="M1314.1 1812l10.6 21 6.7 -5.7 -10.5 -21.1z" fill="#efe561"/>
<path d="M1399.3 1912l11 11.8 6 2.1 -11 -10.8z" fill="#61a497"/>
<path d="M1212.5 1766.7l10 10.2 7.5 -16.5 -10 -10.7z" fill="#ffb046"/>
<path d="M1011.6 1999.7l8.9 -3 8.9 -18.2 -8.9 4.3z" fill="#3a63a9"/>
<path d="M1120.3 1852.1l9.5 -3.9 8.1 -21.3 -9.5 4.1z" fill="#8e9c46"/>
<path d="M1255.1 1772.3l10.3 16.3 7.1 -12.8 -10.2 -16.8z" fill="#ffca51"/>
<path d="M1195.9 1776.4l10 7.6 7.6 -17.8 -10 -8.1z" fill="#f3ad43"/>
<path d="M994.8 2017.8l8.9 -1.2 8.9 -18.1 -8.8 2.5z" fill="#3754b1"/>
<path d="M1103.7 1877.3l9.4 -5.4 8.2 -21.2 -9.4 5.7z" fill="#769853"/>
<path d="M1297.8 1800.6l10.5 20.3 6.8 -8.1 -10.4 -20.6z" fill="#ffe359"/>
<path d="M1340.4 1846.2l10.7 20.7 6.6 -3.2 -10.7 -20.5z" fill="#bee578"/>
<path d="M1383.1 1896.8l10.9 15.5 6.2 0.5 -10.9 -14.5z" fill="#79c095"/>
<path d="M1087 1902.9l9.3 -6.2 8.4 -21 -9.4 6.8z" fill="#619260"/>
<path d="M978 2034.3l8.8 0.8 9 -18.3 -8.7 0.5z" fill="#3b42b4"/>
<path d="M1179.3 1789.7l9.9 5 7.7 -19 -9.9 -5.5z" fill="#dfaa3e"/>
<path d="M1070.3 1928.1l9.3 -6.2 8.4 -20.6 -9.2 7.1z" fill="#528874"/>
<path d="M1238.6 1772.5l10.2 14.3 7.3 -14.4 -10.2 -14.8z" fill="#ffc44f"/>
<path d="M1162.7 1806.5l9.8 2.4 7.8 -20.1 -9.8 -2.8z" fill="#cba73b"/>
<path d="M1053.6 1952.5l9.2 -5.8 8.5 -20.1 -9.1 6.8z" fill="#447c8f"/>
<path d="M1281.3 1792.5l10.4 19.1 7 -10.4 -10.4 -19.5z" fill="#ffde56"/>
<path d="M1324.1 1831.8l10.6 21 6.7 -5.6 -10.6 -21.1z" fill="#d7e96e"/>
<path d="M1366.8 1881.1l10.9 18.2 6.4 -1.5 -10.9 -17.5z" fill="#91d58f"/>
<path d="M1222 1776.2l10.1 12.1 7.4 -15.9 -10.1 -12.6z" fill="#ffbf4c"/>
<path d="M1036.8 1975.5l9.1 -4.8 8.7 -19.6 -9.1 5.9z" fill="#3d729c"/>
<path d="M1146 1826.2l9.7 0 8 -20.8 -9.7 -0.2z" fill="#b1a33d"/>
<path d="M1020 1996.9l9 -3.5 8.8 -19.3 -9 4.6z" fill="#3b67a6"/>
<path d="M1129.3 1848.3l9.6 -2.1 8.1 -21.2 -9.6 2.1z" fill="#979f45"/>
<path d="M1264.8 1787.6l10.4 17.6 7.1 -12.3 -10.3 -18.1z" fill="#ffd755"/>
<path d="M1205.3 1783.5l10.1 9.7 7.6 -17.3 -10.1 -10.2z" fill="#fabb48"/>
<path d="M1307.7 1819.7l10.5 20.8 6.9 -7.9 -10.6 -21z" fill="#ece965"/>
<path d="M1350.5 1865.8l10.8 19.9 6.5 -3.7 -10.7 -19.5z" fill="#a8e289"/>
<path d="M1003.2 2016.7l8.9 -1.9 8.9 -19.2 -8.9 3z" fill="#3858af"/>
<path d="M1112.6 1872.2l9.5 -3.8 8.2 -21.4 -9.5 3.9z" fill="#7f9c51"/>
<path d="M1393.4 1911.5l11.1 13 6.1 -0.6 -11 -11.9z" fill="#6eb59e"/>
<path d="M1188.6 1794.4l10.1 7.1 7.6 -18.5 -10 -7.7z" fill="#e9b643"/>
<path d="M1095.8 1897l9.5 -4.9 8.3 -21.4 -9.5 5.4z" fill="#69965e"/>
<path d="M986.3 2035.1l8.8 -0.1 9.1 -19.5 -8.9 1.3z" fill="#3945b2"/>
<path d="M1248.2 1786l10.3 15.8 7.3 -14 -10.3 -16.3z" fill="#ffd253"/>
<path d="M1079 1922.2l9.4 -5.5 8.4 -21.2 -9.3 6.2z" fill="#588d6e"/>
<path d="M1291.2 1810.5l10.5 20 6.9 -10.1 -10.5 -20.3z" fill="#fce65e"/>
<path d="M1334.1 1851.6l10.8 20.9 6.6 -5.8 -10.7 -20.7z" fill="#c0e97d"/>
<path d="M1171.9 1808.7l10 4.6 7.8 -19.7 -10 -5z" fill="#d4b03e"/>
<path d="M1377.1 1898.3l11 16.5 6.3 -2.6 -11 -15.4z" fill="#84ce9b"/>
<path d="M1062.2 1947.1l9.3 -5.5 8.5 -20.9 -9.2 6.3z" fill="#4a8187"/>
<path d="M1231.5 1787.6l10.3 13.8 7.4 -15.4 -10.2 -14.3z" fill="#ffcc50"/>
<path d="M1155.2 1826.2l9.8 2 7.9 -20.5 -9.8 -2.4z" fill="#bbab40"/>
<path d="M1045.4 1971l9.2 -4.9 8.6 -20.5 -9.1 5.8z" fill="#407699"/>
<path d="M1274.6 1804.2l10.5 18.7 7 -11.9 -10.4 -19.1z" fill="#ffe258"/>
<path d="M1317.6 1839.3l10.7 21.1 6.8 -8 -10.6 -21z" fill="#d5ec72"/>
<path d="M1214.8 1792.6l10.2 11.6 7.5 -16.8 -10.1 -12.1z" fill="#fdc74c"/>
<path d="M1028.5 1993.6l9.1 -3.7 8.8 -20.3 -9.1 4.8z" fill="#3c6ba4"/>
<path d="M1138.4 1846.3l9.7 -0.2 8.1 -21.1 -9.8 0z" fill="#9fa546"/>
<path d="M1360.7 1884.7l10.9 18.9 6.5 -4.5 -10.9 -18.2z" fill="#98dd95"/>
<path d="M1011.6 2015l9 -2.5 8.9 -20.2 -9 3.5z" fill="#395dad"/>
<path d="M1121.6 1868.6l9.6 -2.1 8.2 -21.5 -9.6 2.1z" fill="#86a04f"/>
<path d="M1257.9 1800.8l10.4 17.2 7.3 -13.5 -10.4 -17.6z" fill="#ffdd55"/>
<path d="M1198.1 1801l10.1 9.2 7.6 -18 -10 -9.7z" fill="#f0c248"/>
<path d="M1104.7 1892.3l9.6 -3.5 8.3 -21.6 -9.6 3.7z" fill="#709a5d"/>
<path d="M994.6 2035l8.9 -0.8 9.1 -20.5 -8.9 1.9z" fill="#3849b2"/>
<path d="M1301.1 1829.3l10.6 20.6 6.9 -9.9 -10.6 -20.8z" fill="#e6ec6a"/>
<path d="M1344.3 1871.4l10.8 20.4 6.6 -6.3 -10.8 -20z" fill="#aae68e"/>
<path d="M1387.5 1913.9l11.1 14.4 6.2 -3.9 -11 -13z" fill="#79c4a9"/>
<path d="M1087.9 1917l9.4 -4.5 8.4 -21.6 -9.4 4.9z" fill="#5d9369"/>
<path d="M1181.3 1812.9l10 6.7 7.8 -19.2 -10 -7.1z" fill="#debc43"/>
<path d="M1241.2 1800.5l10.4 15.4 7.3 -14.9 -10.3 -15.9z" fill="#ffd853"/>
<path d="M1071 1941.9l9.3 -4.9 8.6 -21.5 -9.4 5.5z" fill="#4f8780"/>
<path d="M1284.5 1821.8l10.5 19.7 7.1 -11.7 -10.5 -19.9z" fill="#f2e963"/>
<path d="M1164.4 1828l10 4.2 7.9 -20.1 -9.9 -4.6z" fill="#c3b444"/>
<path d="M1327.7 1859.2l10.8 21.1 6.8 -8.1 -10.8 -20.9z" fill="#beeb82"/>
<path d="M1054 1966.4l9.3 -4.7 8.7 -21.3 -9.3 5.5z" fill="#437b96"/>
<path d="M1371 1902.6l11 17.5 6.4 -5.5 -10.9 -16.5z" fill="#8ad7a3"/>
<path d="M1224.4 1803.4l10.3 13.4 7.5 -16.3 -10.2 -13.8z" fill="#fed350"/>
<path d="M1147.6 1846.1l9.8 1.8 8.1 -20.8 -9.9 -2.1z" fill="#a8ae49"/>
<path d="M1037.1 1990.1l9.2 -4 8.8 -21.1 -9.2 4.8z" fill="#3d6fa2"/>
<path d="M1267.8 1817l10.5 18.4 7.2 -13.2 -10.5 -18.7z" fill="#f9e55e"/>
<path d="M1130.7 1866.5l9.7 -0.3 8.2 -21.3 -9.8 0.2z" fill="#8ea64f"/>
<path d="M1020.1 2012.7l9.1 -2.9 8.9 -21.1 -9.1 3.8z" fill="#3a62ab"/>
<path d="M1207.6 1809.6l10.2 11.1 7.7 -17.5 -10.2 -11.6z" fill="#f4ce4d"/>
<path d="M1311.1 1848.7l10.8 21.1 6.8 -9.9 -10.7 -21.1z" fill="#cfee77"/>
<path d="M1354.5 1890.7l11 19.7 6.5 -7.1 -10.9 -18.9z" fill="#9ae29a"/>
<path d="M1113.8 1888.9l9.6 -2 8.3 -21.6 -9.7 2z" fill="#769e5c"/>
<path d="M1003 2034.3l9.1 -1.6 9 -21.3 -9 2.4z" fill="#374eb1"/>
<path d="M1190.7 1819.2l10.2 8.7 7.7 -18.7 -10.1 -9.2z" fill="#e2c74b"/>
<path d="M1251 1815l10.4 16.8 7.4 -14.6 -10.5 -17.2z" fill="#fbe159"/>
<path d="M1096.8 1912.7l9.6 -3.4 8.4 -21.8 -9.6 3.6z" fill="#639766"/>
<path d="M1294.4 1840.3l10.7 20.5 7 -11.5 -10.6 -20.6z" fill="#dced70"/>
<path d="M1337.9 1879.1l10.9 20.9 6.7 -8.6 -10.9 -20.4z" fill="#a9e893"/>
<path d="M1079.8 1937.2l9.5 -4.2 8.5 -21.8 -9.5 4.6z" fill="#548c7a"/>
<path d="M1173.8 1831.9l10.1 6.3 7.9 -19.7 -10.1 -6.7z" fill="#cabe4b"/>
<path d="M1381.4 1919.2l11.2 15.8 6.3 -7 -11.1 -14.3z" fill="#7fcdb3"/>
<path d="M1234.1 1816l10.4 14.9 7.5 -15.9 -10.4 -15.3z" fill="#f8dc56"/>
<path d="M1062.8 1962l9.4 -4.4 8.6 -21.8 -9.3 4.9z" fill="#467f94"/>
<path d="M1156.9 1847.7l9.9 3.8 8 -20.4 -9.9 -4.2z" fill="#afb64d"/>
<path d="M1277.7 1834.3l10.6 19.4 7.1 -12.9 -10.5 -19.7z" fill="#e5eb69"/>
<path d="M1045.8 1986.3l9.3 -4 8.7 -21.8 -9.3 4.7z" fill="#3e749f"/>
<path d="M1321.2 1868.6l10.9 21.2 6.8 -10 -10.8 -21.1z" fill="#b8ec89"/>
<path d="M1217.3 1820l10.3 12.9 7.6 -17.1 -10.3 -13.3z" fill="#efd754"/>
<path d="M1139.9 1866.2l9.9 1.5 8.1 -21 -9.9 -1.8z" fill="#96ae53"/>
<path d="M1364.8 1909.3l11.1 18.6 6.5 -8.1 -11 -17.6z" fill="#8bdaab"/>
<path d="M1028.7 2010l9.2 -3.3 8.9 -21.8 -9.2 4z" fill="#3b66a9"/>
<path d="M1260.8 1830.8l10.6 18.1 7.3 -14.3 -10.5 -18.4z" fill="#ebe864"/>
<path d="M1122.9 1886.9l9.8 -0.4 8.2 -21.5 -9.8 0.3z" fill="#7da35c"/>
<path d="M1011.6 2032.9l9.1 -2.2 9 -22.1 -9.1 2.9z" fill="#3753b0"/>
<path d="M1200.3 1827.3l10.2 10.6 7.8 -18.2 -10.2 -11.1z" fill="#e1d053"/>
<path d="M1304.5 1859.6l10.8 21 6.9 -11.4 -10.7 -21.1z" fill="#c6ee7f"/>
<path d="M1105.8 1909.5l9.7 -2.1 8.4 -21.8 -9.7 2.1z" fill="#699b66"/>
<path d="M1348.2 1898.8l11 20.4 6.6 -9.3 -10.9 -19.6z" fill="#97e3a0"/>
<path d="M1183.3 1837.8l10.2 8.2 7.8 -19.2 -10.1 -8.7z" fill="#cdc953"/>
<path d="M1243.9 1830l10.5 16.5 7.4 -15.6 -10.4 -16.8z" fill="#ebe460"/>
<path d="M1088.8 1933.3l9.5 -3.3 8.6 -21.9 -9.6 3.4z" fill="#599176"/>
<path d="M1287.7 1852.6l10.7 20.2 7.1 -12.7 -10.7 -20.4z" fill="#d1ee76"/>
<path d="M1071.7 1957.8l9.5 -3.9 8.6 -22.1 -9.5 4.2z" fill="#4a848e"/>
<path d="M1166.3 1851.3l10.1 5.8 7.9 -20.1 -10 -6.2z" fill="#b5bf53"/>
<path d="M1331.5 1888.6l10.9 21.3 6.8 -10.4 -10.9 -20.9z" fill="#a4e898"/>
<path d="M1227 1832.1l10.4 14.6 7.6 -16.7 -10.4 -15z" fill="#e6df5e"/>
<path d="M1054.5 1982.5l9.4 -4 8.8 -22.2 -9.4 4.4z" fill="#41779d"/>
<path d="M1375.3 1927l11.2 17.3 6.4 -9.7 -11.1 -15.8z" fill="#7fcfbe"/>
<path d="M1149.2 1867.6l10 3.5 8.1 -20.7 -10 -3.9z" fill="#9cb657"/>
<path d="M1037.4 2007l9.3 -3.6 8.9 -22.4 -9.3 4.1z" fill="#3c6aa6"/>
<path d="M1270.8 1847.8l10.6 19.2 7.3 -14.1 -10.6 -19.4z" fill="#d8ec71"/>
<path d="M1210 1837.3l10.3 12.4 7.7 -17.8 -10.3 -12.9z" fill="#dcd95c"/>
<path d="M1314.7 1879.4l10.8 21.4 7 -11.6 -10.9 -21.2z" fill="#afeb91"/>
<path d="M1132.1 1886.5l9.9 1.3 8.2 -21.3 -9.8 -1.5z" fill="#84ab5f"/>
<path d="M1020.2 2030.9l9.2 -2.7 9 -22.7 -9.2 3.3z" fill="#3858ae"/>
<path d="M1358.6 1918.1l11.1 19.7 6.6 -10.3 -11.1 -18.7z" fill="#89d9b5"/>
<path d="M1115 1907.5l9.8 -0.6 8.3 -21.6 -9.8 0.4z" fill="#6e9f66"/>
<path d="M1253.8 1845.5l10.6 17.7 7.4 -15.2 -10.5 -18z" fill="#dbe96c"/>
<path d="M1192.9 1845.5l10.3 10.2 7.8 -18.8 -10.3 -10.6z" fill="#cdd25b"/>
<path d="M1297.8 1871.7l10.8 20.9 7.1 -12.7 -10.8 -21z" fill="#bbed87"/>
<path d="M1097.8 1930.1l9.7 -2.1 8.5 -21.9 -9.7 2.1z" fill="#5d9573"/>
<path d="M1341.8 1908.7l11 21 6.8 -11 -11 -20.4z" fill="#93e2a8"/>
<path d="M1175.8 1856.7l10.2 7.9 7.9 -19.7 -10.1 -8.3z" fill="#b9c95c"/>
<path d="M1080.6 1954.1l9.6 -3.3 8.6 -22.1 -9.6 3.3z" fill="#4e8888"/>
<path d="M1236.8 1845.8l10.5 16.1 7.5 -16.3 -10.4 -16.5z" fill="#dae569"/>
<path d="M1063.4 1978.8l9.5 -3.8 8.7 -22.4 -9.5 4z" fill="#437b9b"/>
<path d="M1280.8 1865.8l10.8 20.1 7.2 -13.8 -10.7 -20.3z" fill="#c4ed7f"/>
<path d="M1158.6 1870.8l10.1 5.5 8.1 -20.3 -10.1 -5.9z" fill="#a1bf5d"/>
<path d="M1324.9 1899.6l11 21.5 6.9 -11.8 -11 -21.3z" fill="#9de79f"/>
<path d="M1219.7 1848.9l10.5 14.2 7.6 -17.4 -10.4 -14.5z" fill="#d4e066"/>
<path d="M1046.1 2003.6l9.5 -3.7 8.8 -22.6 -9.4 4z" fill="#3d6ea4"/>
<path d="M1369 1936.7l11.3 18.7 6.5 -11.7 -11.2 -17.3z" fill="#7ccecb"/>
<path d="M1141.4 1887.6l10 3.2 8.3 -20.9 -10 -3.5z" fill="#8ab363"/>
<path d="M1028.9 2028.4l9.3 -3.2 9 -23 -9.3 3.5z" fill="#395dac"/>
<path d="M1263.8 1862.2l10.7 18.9 7.4 -15 -10.7 -19.1z" fill="#c9ec79"/>
<path d="M1202.6 1855l10.4 12 7.7 -18.3 -10.3 -12.5z" fill="#c9da65"/>
<path d="M1124.2 1906.8l9.9 1.1 8.4 -21.3 -9.9 -1.4z" fill="#74a769"/>
<path d="M1308 1891.4l10.9 21.5 7 -12.8 -10.8 -21.4z" fill="#a7e997"/>
<path d="M1352.2 1928.6l11.1 20.6 6.7 -12 -11.1 -19.7z" fill="#85d6bf"/>
<path d="M1107 1928.1l9.8 -0.8 8.4 -21.7 -9.8 0.6z" fill="#619a71"/>
<path d="M1185.4 1864.1l10.3 9.7 7.9 -19.2 -10.3 -10.2z" fill="#b9d265"/>
<path d="M1246.7 1860.9l10.6 17.4 7.5 -16 -10.5 -17.7z" fill="#cbea74"/>
<path d="M1089.7 1951l9.7 -2.3 8.6 -21.9 -9.7 2.1z" fill="#528d84"/>
<path d="M1291 1884.8l10.8 20.9 7.2 -13.8 -10.8 -21z" fill="#afeb91"/>
<path d="M1168.2 1876l10.2 7.4 8 -20 -10.2 -7.8z" fill="#a5c766"/>
<path d="M1335.3 1919.9l11.1 21.6 6.8 -12.4 -11 -21.1z" fill="#8dddb3"/>
<path d="M1072.4 1975.2l9.6 -3.3 8.7 -22.3 -9.6 3.2z" fill="#457f99"/>
<path d="M1229.6 1862.2l10.5 15.7 7.7 -17 -10.6 -16z" fill="#c8e571"/>
<path d="M1055 2000.2l9.5 -3.8 8.9 -22.7 -9.5 3.8z" fill="#3e72a3"/>
<path d="M1150.9 1890.6l10.1 5.1 8.2 -20.5 -10.1 -5.5z" fill="#8eba69"/>
<path d="M1273.9 1880l10.8 19.9 7.3 -14.8 -10.8 -20.1z" fill="#b6eb8a"/>
<path d="M1037.7 2025.4l9.4 -3.5 9 -23.3 -9.5 3.7z" fill="#3a63aa"/>
<path d="M1212.4 1866.3l10.4 13.7 7.8 -17.9 -10.4 -14.2z" fill="#c1e06f"/>
<path d="M1318.3 1911.7l11 21.8 7 -13.1 -11 -21.5z" fill="#95e4a7"/>
<path d="M1133.6 1907.8l10 2.8 8.3 -21 -10 -3.2z" fill="#79ae6e"/>
<path d="M1362.7 1948.1l11.3 19.9 6.6 -13.2 -11.2 -18.7z" fill="#77cad9"/>
<path d="M1256.7 1877.3l10.8 18.7 7.4 -15.8 -10.7 -18.9z" fill="#baea84"/>
<path d="M1195.1 1873.2l10.4 11.5 7.9 -18.8 -10.4 -11.9z" fill="#b5d86f"/>
<path d="M1116.2 1927.3l9.9 0.7 8.5 -21.3 -9.9 -1.1z" fill="#66a173"/>
<path d="M1301.2 1904.5l11 21.5 7.1 -13.9 -10.9 -21.4z" fill="#9de79f"/>
<path d="M1098.8 1948.8l9.9 -1.1 8.6 -21.7 -9.9 0.8z" fill="#569182"/>
<path d="M1345.7 1940.3l11.2 21.4 6.8 -13.2 -11.1 -20.6z" fill="#7ed1cd"/>
<path d="M1177.8 1882.9l10.3 9.3 8 -19.5 -10.3 -9.8z" fill="#a5ce70"/>
<path d="M1239.5 1877l10.7 17.1 7.6 -16.7 -10.6 -17.4z" fill="#bae780"/>
<path d="M1081.4 1972l9.8 -2.6 8.7 -22 -9.7 2.3z" fill="#488398"/>
<path d="M1284.1 1898.8l10.9 20.8 7.2 -14.7 -10.8 -20.9z" fill="#a4e899"/>
<path d="M1160.4 1895.3l10.3 7.1 8.1 -20.2 -10.2 -7.4z" fill="#91c372"/>
<path d="M1064 1996.6l9.6 -3.6 8.9 -22.4 -9.6 3.3z" fill="#4076a1"/>
<path d="M1328.7 1932.2l11.1 22 6.9 -13.4 -11 -21.6z" fill="#86d8c0"/>
<path d="M1222.2 1879.1l10.6 15.3 7.8 -17.5 -10.6 -15.7z" fill="#b7e37d"/>
<path d="M1046.5 2022.1l9.6 -3.9 8.9 -23.1 -9.5 3.8z" fill="#3b67a8"/>
<path d="M1143 1910.4l10.2 4.7 8.3 -20.6 -10.2 -5.1z" fill="#7db573"/>
<path d="M1266.9 1894.9l10.8 19.7 7.4 -15.5 -10.8 -20z" fill="#a8e893"/>
<path d="M1204.9 1884l10.5 13.3 7.9 -18.4 -10.5 -13.7z" fill="#aedd7c"/>
<path d="M1311.5 1924.7l11.1 22 7.1 -14 -11 -21.8z" fill="#8ddeb4"/>
<path d="M1125.6 1927.9l10 2.4 8.5 -20.9 -10.1 -2.8z" fill="#6ba877"/>
<path d="M1356.3 1960.5l11.3 21 6.7 -14.2 -11.2 -20z" fill="#71c4e6"/>
<path d="M1249.6 1893.1l10.7 18.4 7.6 -16.4 -10.7 -18.7z" fill="#aae78f"/>
<path d="M1108.1 1947.7l10 0.3 8.5 -21.2 -9.9 -0.8z" fill="#5a9783"/>
<path d="M1187.5 1891.6l10.4 11.1 8 -19.1 -10.4 -11.5z" fill="#a2d47c"/>
<path d="M1294.3 1918.4l11 21.5 7.3 -14.7 -11 -21.5z" fill="#93e2a9"/>
<path d="M1090.6 1969.5l9.9 -1.5 8.7 -21.6 -9.9 1.2z" fill="#4c8795"/>
<path d="M1339.2 1953l11.2 22 6.9 -14.1 -11.2 -21.3z" fill="#77cbdd"/>
<path d="M1170.1 1901.9l10.3 8.9 8.2 -19.7 -10.4 -9.3z" fill="#92ca7c"/>
<path d="M1232.2 1893.5l10.7 16.8 7.7 -17.2 -10.6 -17.1z" fill="#a9e48c"/>
<path d="M1073.1 1993.2l9.7 -3 8.9 -22 -9.8 2.6z" fill="#427aa0"/>
<path d="M1277.1 1913.5l10.9 20.7 7.4 -15.5 -10.9 -20.8z" fill="#98e5a0"/>
<path d="M1152.6 1914.8l10.2 6.6 8.3 -20.2 -10.2 -7z" fill="#81bd7b"/>
<path d="M1055.5 2018.4l9.7 -4 8.9 -22.6 -9.6 3.5z" fill="#3c6ba6"/>
<path d="M1214.8 1896.5l10.6 14.9 7.9 -18 -10.6 -15.3z" fill="#a5df89"/>
<path d="M1322 1945.5l11.1 22.2 7.1 -14.2 -11.1 -22z" fill="#7ed1cf"/>
<path d="M1135.1 1930.1l10.1 4.3 8.4 -20.5 -10.1 -4.7z" fill="#6faf7d"/>
<path d="M1259.7 1910.4l10.9 19.5 7.5 -16.2 -10.8 -19.7z" fill="#9ce49c"/>
<path d="M1197.3 1902l10.6 12.9 8 -18.7 -10.5 -13.3z" fill="#9dd887"/>
<path d="M1117.5 1947.9l10.1 2 8.5 -20.8 -10 -2.4z" fill="#5f9e87"/>
<path d="M1304.7 1938.6l11.1 22.1 7.2 -14.8 -11.1 -22z" fill="#85d7c2"/>
<path d="M1349.8 1973.8l11.3 21.7 6.9 -14.8 -11.3 -21z" fill="#6dbeed"/>
<path d="M1099.9 1968l10 -0.2 8.6 -21 -9.9 -0.3z" fill="#4f8c94"/>
<path d="M1242.3 1909.3l10.8 18.1 7.7 -16.9 -10.8 -18.4z" fill="#9de398"/>
<path d="M1179.8 1910.2l10.5 10.7 8.1 -19.3 -10.4 -11.1z" fill="#91cf86"/>
<path d="M1287.4 1933l11 21.4 7.4 -15.4 -11 -21.5z" fill="#8adbb7"/>
<path d="M1082.3 1990.3l9.8 -2.1 8.9 -21.4 -9.9 1.5z" fill="#447e9f"/>
<path d="M1162.3 1920.9l10.3 8.5 8.3 -19.8 -10.4 -8.8z" fill="#83c485"/>
<path d="M1332.5 1966.5l11.3 22.4 7 -14.7 -11.2 -22z" fill="#71c4e9"/>
<path d="M1224.8 1910.5l10.8 16.4 7.8 -17.6 -10.7 -16.8z" fill="#9be095"/>
<path d="M1064.6 2014.6l9.8 -3.7 8.9 -22 -9.7 3.1z" fill="#3d70a5"/>
<path d="M1144.6 1934.1l10.3 6.2 8.4 -20.1 -10.2 -6.6z" fill="#72b586"/>
<path d="M1270 1928.8l10.9 20.4 7.5 -15.9 -10.9 -20.7z" fill="#8edeae"/>
<path d="M1207.3 1914.1l10.6 14.6 8 -18.3 -10.6 -15z" fill="#96da92"/>
<path d="M1315.2 1959.4l11.2 22.5 7.1 -15 -11.1 -22.2z" fill="#76cae0"/>
<path d="M1127 1949.7l10.2 3.9 8.5 -20.3 -10.2 -4.3z" fill="#63a48d"/>
<path d="M1252.5 1926.3l10.9 19.3 7.6 -16.6 -10.8 -19.6z" fill="#90dfa7"/>
<path d="M1189.7 1920.2l10.6 12.5 8 -18.9 -10.5 -12.8z" fill="#8ed390"/>
<path d="M1109.3 1967.8l10.1 1.5 8.6 -20.6 -10 -2z" fill="#549398"/>
<path d="M1297.8 1953.2l11.1 22 7.3 -15.4 -11.1 -22z" fill="#7ccfd3"/>
<path d="M1343.1 1987.6l11.4 22.4 7 -15.3 -11.3 -21.8z" fill="#69b8f4"/>
<path d="M1091.6 1988.3l10 -0.9 8.8 -20.8 -10 0.2z" fill="#4782a0"/>
<path d="M1172 1928.8l10.5 10.3 8.2 -19.3 -10.4 -10.7z" fill="#83ca8f"/>
<path d="M1234.9 1925.9l10.9 17.8 7.7 -17.3 -10.8 -18.1z" fill="#90dea2"/>
<path d="M1073.8 2011.1l9.9 -2.9 8.9 -21.2 -9.8 2.1z" fill="#3f74a5"/>
<path d="M1280.3 1948.1l11.1 21.3 7.4 -15.9 -11 -21.4z" fill="#81d3c7"/>
<path d="M1154.3 1939.9l10.4 8 8.4 -19.6 -10.4 -8.5z" fill="#75bb92"/>
<path d="M1325.8 1980.6l11.3 22.6 7.1 -15.2 -11.3 -22.4z" fill="#6cbdf0"/>
<path d="M1217.3 1927.8l10.8 16.1 7.9 -18 -10.7 -16.4z" fill="#8eda9f"/>
<path d="M1136.6 1953.3l10.3 5.7 8.5 -19.8 -10.3 -6.2z" fill="#66aa96"/>
<path d="M1262.8 1944.4l11 20.3 7.6 -16.4 -11 -20.5z" fill="#84d5be"/>
<path d="M1199.7 1932l10.6 14.2 8.1 -18.6 -10.7 -14.5z" fill="#89d49e"/>
<path d="M1308.3 1973.9l11.3 22.5 7.2 -15.4 -11.2 -22.4z" fill="#70c3ea"/>
<path d="M1118.8 1969.1l10.2 3.3 8.7 -20 -10.2 -3.8z" fill="#57999f"/>
<path d="M1245.2 1942.7l10.9 18.9 7.7 -17 -10.9 -19.2z" fill="#86d6b7"/>
<path d="M1181.9 1938.5l10.6 12.1 8.2 -19 -10.5 -12.4z" fill="#81cb9e"/>
<path d="M1101 1987.4l10.1 0.8 8.8 -20.1 -10.1 -1.5z" fill="#4a88a4"/>
<path d="M1290.8 1968.1l11.2 22 7.4 -15.8 -11.2 -22z" fill="#73c7e5"/>
<path d="M1083.1 2008.3l10 -1.6 9 -20.5 -10 0.9z" fill="#4179a6"/>
<path d="M1336.4 2002l11.5 22.7 7 -15.6 -11.4 -22.3z" fill="#65affa"/>
<path d="M1164.1 1947.4l10.6 9.9 8.3 -19.3 -10.5 -10.3z" fill="#76bfa0"/>
<path d="M1227.5 1942.9l10.8 17.5 7.9 -17.7 -10.8 -17.8z" fill="#85d4b3"/>
<path d="M1273.2 1963.5l11.1 21.1 7.5 -16.2 -11.1 -21.3z" fill="#77cbda"/>
<path d="M1146.3 1958.6l10.4 7.7 8.5 -19.5 -10.4 -8z" fill="#69b0a3"/>
<path d="M1209.7 1945.3l10.8 15.8 8 -18.3 -10.7 -16z" fill="#82d0b0"/>
<path d="M1318.9 1995.2l11.4 22.7 7.2 -15.5 -11.3 -22.7z" fill="#67b6f7"/>
<path d="M1128.4 1972.2l10.4 5.2 8.6 -19.5 -10.3 -5.7z" fill="#5a9fa8"/>
<path d="M1255.5 1960.5l11 20 7.7 -16.7 -11 -20.3z" fill="#7accd1"/>
<path d="M1191.9 1949.9l10.7 13.9 8.2 -18.7 -10.7 -14.2z" fill="#7dcaaf"/>
<path d="M1301.3 1988.8l11.3 22.5 7.4 -15.7 -11.3 -22.5z" fill="#6bbbf1"/>
<path d="M1110.5 1988.1l10.2 2.7 8.8 -19.5 -10.2 -3.3z" fill="#4e8fac"/>
<path d="M1237.7 1959.3l11 18.7 7.8 -17.4 -10.9 -18.9z" fill="#7bcdca"/>
<path d="M1174.1 1956.7l10.6 11.8 8.3 -19 -10.6 -12.1z" fill="#75c1b0"/>
<path d="M1092.6 2006.7l10.1 0 8.9 -19.6 -10.1 -0.8z" fill="#447ea8"/>
<path d="M1283.7 1983.4l11.2 21.8 7.5 -16 -11.2 -22z" fill="#6dbfec"/>
<path d="M1156.1 1965.8l10.6 9.5 8.4 -19.1 -10.5 -9.9z" fill="#6bb5b2"/>
<path d="M1329.6 2016.6l11.5 22.9 7.2 -15.7 -11.5 -22.7z" fill="#63a6ff"/>
<path d="M1219.9 1960.1l10.9 17.2 8 -18 -10.9 -17.4z" fill="#7acbc5"/>
<path d="M1265.9 1979.3l11.2 20.9 7.6 -16.5 -11.1 -21.1z" fill="#6fc2e7"/>
<path d="M1138.2 1977l10.4 7.2 8.6 -19 -10.4 -7.7z" fill="#5ea6b5"/>
<path d="M1202 1962.9l10.8 15.5 8.2 -18.4 -10.8 -15.7z" fill="#77c6c3"/>
<path d="M1312 2010l11.4 22.7 7.3 -15.7 -11.4 -22.7z" fill="#65adfc"/>
<path d="M1120.2 1990.6l10.3 4.7 8.7 -19 -10.3 -5.2z" fill="#5195b4"/>
<path d="M1248.1 1976.9l11.1 19.7 7.8 -17.1 -11.1 -20z" fill="#70c3e3"/>
<path d="M1184.1 1967.8l10.7 13.6 8.3 -18.7 -10.7 -13.9z" fill="#72c0c3"/>
<path d="M1294.2 2003.9l11.4 22.3 7.4 -15.8 -11.3 -22.5z" fill="#66b3f8"/>
<path d="M1102.1 2006.7l10.2 2 8.9 -19 -10.2 -2.7z" fill="#4784af"/>
<path d="M1230.2 1976.2l11 18.4 8 -17.6 -11 -18.7z" fill="#70c3dd"/>
<path d="M1166.1 1974.7l10.6 11.5 8.5 -18.8 -10.7 -11.8z" fill="#6ab7c3"/>
<path d="M1276.4 1999l11.3 21.5 7.6 -16.2 -11.2 -21.8z" fill="#68b7f3"/>
<path d="M1148 1983.8l10.6 9.2 8.6 -18.8 -10.6 -9.5z" fill="#5faac5"/>
<path d="M1322.7 2031.5l11.6 22.9 7.2 -15.8 -11.5 -22.9z" fill="#609cff"/>
<path d="M1212.2 1977.5l11 16.9 8.1 -18.2 -10.9 -17.1z" fill="#6fc1d9"/>
<path d="M1258.5 1995.4l11.2 20.6 7.8 -16.8 -11.2 -20.8z" fill="#6abaee"/>
<path d="M1129.9 1995l10.5 6.7 8.7 -18.5 -10.4 -7.2z" fill="#559bbf"/>
<path d="M1194.2 1980.5l10.9 15.3 8.2 -18.5 -10.8 -15.4z" fill="#6cbdd7"/>
<path d="M1304.9 2025l11.5 22.6 7.4 -15.7 -11.4 -22.8z" fill="#62a3ff"/>
<path d="M1111.8 2008.5l10.3 4.1 8.9 -18.3 -10.3 -4.8z" fill="#4b8bb9"/>
<path d="M1240.6 1993.5l11.1 19.5 7.9 -17.4 -11.1 -19.7z" fill="#6abbea"/>
<path d="M1176.1 1985.5l10.8 13.4 8.4 -18.6 -10.8 -13.6z" fill="#67b6d5"/>
<path d="M1287.1 2019.3l11.3 22.1 7.6 -16.1 -11.3 -22.3z" fill="#63a9fc"/>
<path d="M1222.5 1993.4l11.1 18.1 8.1 -17.9 -11.1 -18.4z" fill="#6abae6"/>
<path d="M1158 1992.4l10.7 11.2 8.5 -18.5 -10.6 -11.5z" fill="#61add1"/>
<path d="M1269.1 2014.8l11.3 21.3 7.7 -16.5 -11.2 -21.6z" fill="#64aef9"/>
<path d="M1139.8 2001.3l10.6 8.9 8.7 -18.3 -10.6 -9.2z" fill="#59a1cb"/>
<path d="M1204.4 1994.9l11 16.7 8.2 -18.3 -10.9 -16.9z" fill="#68b7e3"/>
<path d="M1315.7 2046.3l11.6 22.9 7.4 -15.7 -11.5 -22.9z" fill="#5d8eff"/>
<path d="M1251.1 2011.8l11.2 20.3 7.9 -17 -11.2 -20.6z" fill="#65b1f5"/>
<path d="M1121.5 2012.3l10.5 6.3 8.9 -17.9 -10.5 -6.8z" fill="#4f91c4"/>
<path d="M1186.3 1998.1l10.9 15 8.3 -18.4 -10.8 -15.2z" fill="#65b3e0"/>
<path d="M1297.8 2040.1l11.5 22.5 7.5 -15.9 -11.4 -22.6z" fill="#5f98ff"/>
<path d="M1233 2010.4l11.1 19.2 8.1 -17.6 -11.2 -19.5z" fill="#64b2f1"/>
<path d="M1168.1 2002.9l10.8 13.3 8.5 -18.4 -10.8 -13.4z" fill="#61addd"/>
<path d="M1279.8 2034.9l11.4 21.8 7.7 -16.2 -11.4 -22.1z" fill="#619fff"/>
<path d="M1214.8 2010.6l11.1 17.9 8.2 -18 -11.1 -18.2z" fill="#64b1ee"/>
<path d="M1149.8 2009.6l10.7 11 8.6 -18 -10.6 -11.3z" fill="#5ba4d8"/>
<path d="M1261.7 2031l11.3 21 7.9 -16.8 -11.4 -21.3z" fill="#61a3fd"/>
<path d="M1131.4 2018.2l10.6 8.6 8.9 -17.7 -10.6 -8.8z" fill="#5398d1"/>
<path d="M1196.5 2012.2l11.1 16.6 8.3 -18.3 -11 -16.7z" fill="#62afeb"/>
<path d="M1308.7 2061.3l11.6 22.7 7.4 -15.7 -11.5 -22.9z" fill="#5a80ff"/>
<path d="M1243.5 2028.5l11.3 20 8 -17.3 -11.3 -20.4z" fill="#62a6fa"/>
<path d="M1178.2 2015.4l11 15 8.4 -18.3 -10.8 -15.1z" fill="#60abe8"/>
<path d="M1290.6 2055.5l11.5 22.2 7.6 -16 -11.5 -22.5z" fill="#5c89ff"/>
<path d="M1225.2 2027.5l11.3 18.9 8.1 -17.8 -11.2 -19.2z" fill="#61a7f6"/>
<path d="M1159.9 2019.9l10.8 13.2 8.6 -18 -10.8 -13.2z" fill="#5ca5e4"/>
<path d="M1272.4 2050.8l11.5 21.5 7.7 -16.5 -11.4 -21.8z" fill="#5d91ff"/>
<path d="M1206.9 2027.8l11.2 17.9 8.2 -18.2 -11 -18z" fill="#60a6f3"/>
<path d="M1141.4 2026.2l10.8 10.9 8.8 -17.5 -10.7 -11z" fill="#579bde"/>
<path d="M1254.1 2047.4l11.4 20.7 8 -17.1 -11.4 -21z" fill="#5e97ff"/>
<path d="M1188.5 2029.5l11.1 16.5 8.4 -18.2 -11 -16.6z" fill="#5fa4f1"/>
<path d="M1301.5 2076.4l11.6 22.4 7.6 -15.7 -11.6 -22.7z" fill="#5b6fff"/>
<path d="M1235.8 2045.3l11.3 19.9 8.1 -17.7 -11.2 -20z" fill="#5f9bfe"/>
<path d="M1170.1 2032.3l10.9 15.1 8.6 -18.1 -10.9 -15z" fill="#5da0ed"/>
<path d="M1283.2 2071l11.6 21.9 7.7 -16.1 -11.5 -22.2z" fill="#597aff"/>
<path d="M1217.4 2044.6l11.3 18.9 8.2 -18.1 -11.2 -19z" fill="#5e9bfb"/>
<path d="M1151.6 2036.4l10.8 13.2 8.8 -17.5 -10.8 -13.2z" fill="#599ae9"/>
<path d="M1264.9 2066.9l11.5 21.2 7.9 -16.8 -11.5 -21.5z" fill="#5982ff"/>
<path d="M1198.9 2045.1l11.2 17.8 8.4 -18.3 -11.1 -17.8z" fill="#5d9bf8"/>
<path d="M1246.5 2064l11.4 20.5 8.1 -17.4 -11.4 -20.7z" fill="#5a87ff"/>
<path d="M1180.4 2046.5l11.1 16.6 8.6 -18.1 -11.1 -16.5z" fill="#5c99f6"/>
<path d="M1294.1 2091.7l11.8 22 7.7 -15.8 -11.7 -22.4z" fill="#5e5fff"/>
<path d="M1228 2062.4l11.4 19.6 8.2 -17.9 -11.3 -19.8z" fill="#5b8bff"/>
<path d="M1161.8 2048.8l11 15.3 8.7 -17.7 -10.9 -15.1z" fill="#5a96f3"/>
<path d="M1275.8 2086.9l11.6 21.5 7.8 -16.4 -11.5 -21.9z" fill="#5c69ff"/>
<path d="M1209.5 2061.8l11.3 18.9 8.3 -18.3 -11.2 -18.8z" fill="#5a8cff"/>
<path d="M1257.3 2083.3l11.5 20.9 8.1 -17.1 -11.6 -21.2z" fill="#5a71ff"/>
<path d="M1190.9 2062.2l11.1 17.9 8.6 -18.3 -11.2 -17.8z" fill="#5a8dfc"/>
<path d="M1238.7 2080.9l11.5 20.3 8.2 -17.7 -11.4 -20.5z" fill="#5877ff"/>
<path d="M1172.2 2063.2l11.1 16.8 8.7 -17.9 -11.1 -16.6z" fill="#598cfa"/>
<path d="M1286.7 2107.1l11.8 21.6 7.8 -15.9 -11.7 -22z" fill="#6153fb"/>
<path d="M1220.1 2079.6l11.4 19.6 8.4 -18.2 -11.4 -19.6z" fill="#577bff"/>
<path d="M1268.2 2103l11.7 21.1 7.9 -16.7 -11.6 -21.5z" fill="#5f59fe"/>
<path d="M1201.4 2079.1l11.3 18.9 8.5 -18.4 -11.2 -18.8z" fill="#567dff"/>
<path d="M1249.6 2100l11.6 20.6 8.1 -17.4 -11.6 -20.9z" fill="#5c5eff"/>
<path d="M1182.6 2079.1l11.3 18.2 8.6 -18.2 -11.2 -18z" fill="#567dff"/>
<path d="M1230.9 2098.1l11.5 20 8.3 -18 -11.5 -20.2z" fill="#5b63ff"/>
<path d="M1279.2 2122.9l11.8 21.1 7.9 -16.2 -11.7 -21.6z" fill="#6447f5"/>
<path d="M1212.1 2096.9l11.4 19.6 8.5 -18.4 -11.4 -19.6z" fill="#5a67ff"/>
<path d="M1260.5 2119.4l11.7 20.7 8.1 -17 -11.7 -21.1z" fill="#624df7"/>
<path d="M1193.2 2096.2l11.4 19.2 8.6 -18.4 -11.3 -19z" fill="#596aff"/>
<path d="M1241.7 2117l11.7 20.3 8.2 -17.7 -11.6 -20.6z" fill="#6051f8"/>
<path d="M1222.9 2115.4l11.5 20 8.5 -18.3 -11.6 -20.1z" fill="#5f54f9"/>
<path d="M1271.6 2138.9l11.8 20.5 8.1 -16.4 -11.8 -21.1z" fill="#6b3fec"/>
<path d="M1203.9 2114.3l11.5 19.8 8.6 -18.6 -11.4 -19.6z" fill="#5d56fa"/>
<path d="M1252.7 2136.2l11.8 20.2 8.2 -17.3 -11.7 -20.7z" fill="#6742ef"/>
<path d="M1233.8 2134.3l11.7 20.1 8.3 -18.1 -11.6 -20.3z" fill="#6444f2"/>
<path d="M1214.8 2133l11.6 20.1 8.5 -18.7 -11.5 -20z" fill="#6346f3"/>
<path d="M1263.8 2155.3l11.9 19.9 8.2 -16.7 -11.9 -20.6z" fill="#7238e2"/>
<path d="M1244.8 2153.3l11.8 19.8 8.4 -17.7 -11.8 -20.3z" fill="#6f3ae5"/>
<path d="M1225.7 2151.9l11.7 20 8.5 -18.5 -11.6 -20.1z" fill="#6d3ce7"/>
<path d="M1256 2172l11.9 19.3 8.3 -17.1 -11.9 -19.9z" fill="#7b32d3"/>
<path d="M1236.8 2170.8l11.8 19.5 8.5 -18.2 -11.8 -19.9z" fill="#7833d8"/>
<path d="M1248 2189.2l12 18.6 8.4 -17.5 -12 -19.3z" fill="#852fc1"/>
</g>
<path d="M1385.9 1943.2L1373.4 1966.9L1362.7 1989.6L1370.1 1994.8L1379.0 1999.7L1397.1 2007.3L1415.5 2013.0L1462.8 2025.0L1483.6 2031.4L1473.5 2014.1L1443.4 1958.5L1432.8 1942.0L1427.4 1935.0L1421.8 1929.2L1416.1 1925.0L1410.2 1923.0L1404.2 1923.7L1398.1 1927.4L1392.0 1934.1L1385.9 1943.2Z" fill="url(#bkf)"/>
<path d="M923.5 2074.9L1259.9 2206.8M1259.9 2206.8L1482.4 2040.8M919.2 1666.8L1260.6 1709.6M1260.6 1709.6L1486.0 1655.2M1486.0 1655.2L1178.2 1628.8M1178.2 1628.8L919.2 1666.8M923.5 2074.9L919.2 1666.8M1259.9 2206.8L1260.6 1709.6M1482.4 2040.8L1486.0 1655.2" stroke="#666" stroke-width="1.0" fill="none"/>
<path d="M929.6 2077.3L929.5 2069.2M943.0 2082.6L942.9 2074.4M956.6 2087.9L956.5 2079.7M970.4 2093.3L970.3 2078.8M984.5 2098.9L984.5 2090.5M998.9 2104.5L998.8 2096.1M1013.5 2110.2L1013.4 2101.7M1028.4 2116.1L1028.3 2107.5M1043.6 2122.0L1043.5 2106.9M1059.0 2128.1L1059.0 2119.3M1074.8 2134.3L1074.7 2125.4M1090.8 2140.5L1090.8 2131.6M1107.2 2147.0L1107.1 2138.0M1123.8 2153.5L1123.8 2137.6M1140.8 2160.2L1140.8 2151.0M1158.2 2167.0L1158.2 2157.7M1175.9 2173.9L1175.8 2164.6M1193.9 2181.0L1193.9 2171.5M1212.3 2188.2L1212.3 2171.5M1231.1 2195.6L1231.1 2185.9M1250.3 2203.1L1250.3 2193.4M919.5 1666.7L919.6 1675.0M936.6 1664.2L936.7 1678.5M953.3 1661.8L953.3 1669.8M969.5 1659.4L969.6 1667.4M985.3 1657.1L985.4 1664.9M1000.8 1654.8L1000.8 1662.6M1015.8 1652.6L1015.9 1666.0M1030.6 1650.4L1030.6 1658.0M1044.9 1648.3L1045.0 1655.8M1058.9 1646.3L1059.0 1653.7M1072.6 1644.3L1072.7 1651.6M1086.0 1642.3L1086.1 1655.0M1099.1 1640.4L1099.1 1647.5M1111.9 1638.5L1111.9 1645.6M1124.4 1636.7L1124.4 1643.7M1136.7 1634.9L1136.7 1641.8M1148.6 1633.1L1148.7 1645.1M1160.3 1631.4L1160.4 1638.2M1171.8 1629.7L1171.8 1636.4" stroke="#888" stroke-width="1.1" fill="none"/>
<text x="970" y="2131.6" font-size="21" font-weight="bold" font-family="'Liberation Sans',Arial,sans-serif" text-anchor="middle">5</text>
<text x="1042.4" y="2160.6" font-size="21" font-weight="bold" font-family="'Liberation Sans',Arial,sans-serif" text-anchor="middle">6</text>
<text x="1122.6" y="2192.4" font-size="21" font-weight="bold" font-family="'Liberation Sans',Arial,sans-serif" text-anchor="middle">7</text>
<text x="1212.3" y="2227.8" font-size="21" font-weight="bold" font-family="'Liberation Sans',Arial,sans-serif" text-anchor="middle">8</text>
<text x="934.2" y="1642" font-size="21" font-weight="bold" font-family="'Liberation Sans',Arial,sans-serif" text-anchor="middle">11</text>
<text x="1014.2" y="1630.5" font-size="21" font-weight="bold" font-family="'Liberation Sans',Arial,sans-serif" text-anchor="middle">12</text>
<text x="1084.9" y="1620.6" font-size="21" font-weight="bold" font-family="'Liberation Sans',Arial,sans-serif" text-anchor="middle">13</text>
<text x="1148.5" y="1610" font-size="21" font-weight="bold" font-family="'Liberation Sans',Arial,sans-serif" text-anchor="middle">14</text>
<text x="1020.4" y="1549.6" font-size="29" font-family="'Liberation Sans',Arial,sans-serif" textLength="82.5" lengthAdjust="spacingAndGlyphs">Y(<tspan font-style="italic">μ</tspan>m)</text>
<text x="1031.3" y="2250.8" font-size="29" font-family="'Liberation Sans',Arial,sans-serif" textLength="88" lengthAdjust="spacingAndGlyphs">X (<tspan font-style="italic">μ</tspan>m)</text>
<g transform="translate(909.9,2067.1) rotate(-90)" font-size="25.3" font-family="'Liberation Sans',Arial,sans-serif">
<text x="0" y="0" font-weight="bold" textLength="247.4" lengthAdjust="spacingAndGlyphs">Deconvolution value</text>
<text transform="translate(250.45,-2.36) scale(1.431,1)" font-size="19.98" font-family="'Liberation Sans','Noto Sans CJK SC',sans-serif" font-weight="300">（</text>
<text x="282.4" y="0" font-weight="bold" textLength="49.6" lengthAdjust="spacingAndGlyphs">A.U.</text>
<text transform="translate(335.16,-2.36) scale(1.534,1)" font-size="19.98" font-family="'Liberation Sans','Noto Sans CJK SC',sans-serif" font-weight="300">）</text>
</g>
<linearGradient id="cgf" x1="0" y1="0" x2="0" y2="1"><stop offset="0.00" stop-color="#dc2323"/><stop offset="0.06" stop-color="#e43c2d"/><stop offset="0.12" stop-color="#e85f32"/><stop offset="0.16" stop-color="#e87834"/><stop offset="0.20" stop-color="#e49137"/><stop offset="0.26" stop-color="#dca53c"/><stop offset="0.31" stop-color="#d2b23e"/><stop offset="0.36" stop-color="#b9b94b"/><stop offset="0.42" stop-color="#a0bc5a"/><stop offset="0.47" stop-color="#87b96e"/><stop offset="0.53" stop-color="#73b47d"/><stop offset="0.58" stop-color="#64a896"/><stop offset="0.63" stop-color="#559bb4"/><stop offset="0.69" stop-color="#4b8cc3"/><stop offset="0.75" stop-color="#4678cd"/><stop offset="0.80" stop-color="#405fd2"/><stop offset="0.84" stop-color="#4446cd"/><stop offset="0.89" stop-color="#4b30c3"/><stop offset="0.94" stop-color="#5a23b2"/><stop offset="1.00" stop-color="#731c8c"/></linearGradient>
<rect x="1497" y="1658.2" width="22.299999999999955" height="378.70000000000005" fill="url(#cgf)" stroke="#aaa" stroke-width="0.6"/>
<path d="M1519.3 2036.9h4M1519.3 2025.4h4M1519.3 2013.9h4M1519.3 2002.4h4M1519.3 1990.9h6M1519.3 1979.3h4M1519.3 1967.8h4M1519.3 1956.3h4M1519.3 1944.8h4M1519.3 1933.3h6M1519.3 1921.8h4M1519.3 1910.3h4M1519.3 1898.8h4M1519.3 1887.3h4M1519.3 1875.8h6M1519.3 1864.2h4M1519.3 1852.7h4M1519.3 1841.2h4M1519.3 1829.7h4M1519.3 1818.2h6M1519.3 1806.7h4M1519.3 1795.2h4M1519.3 1783.7h4M1519.3 1772.2h4M1519.3 1760.6h6M1519.3 1749.1h4M1519.3 1737.6h4M1519.3 1726.1h4M1519.3 1714.6h4M1519.3 1703.1h6M1519.3 1691.6h4M1519.3 1680.1h4M1519.3 1668.6h4" stroke="#c8c8c8" stroke-width="1"/>
<path d="M1497.8 1658.2V2036.9" stroke="#000" stroke-opacity="0.35" stroke-width="1.5"/>
<text x="1528.5" y="1712" font-size="29.5" font-weight="bold" font-family="'Liberation Sans',Arial,sans-serif" textLength="92.5" lengthAdjust="spacingAndGlyphs">40 000</text>
<text x="1528.5" y="1771" font-size="29.5" font-weight="bold" font-family="'Liberation Sans',Arial,sans-serif" textLength="92.5" lengthAdjust="spacingAndGlyphs">35 000</text>
<text x="1528.5" y="1828" font-size="29.5" font-weight="bold" font-family="'Liberation Sans',Arial,sans-serif" textLength="92.5" lengthAdjust="spacingAndGlyphs">30 000</text>
<text x="1528.5" y="1885.5" font-size="29.5" font-weight="bold" font-family="'Liberation Sans',Arial,sans-serif" textLength="92.5" lengthAdjust="spacingAndGlyphs">25 000</text>
<text x="1528.5" y="1943" font-size="29.5" font-weight="bold" font-family="'Liberation Sans',Arial,sans-serif" textLength="92.5" lengthAdjust="spacingAndGlyphs">20 000</text>
<text x="1528.5" y="2001" font-size="29.5" font-weight="bold" font-family="'Liberation Sans',Arial,sans-serif" textLength="92.5" lengthAdjust="spacingAndGlyphs">15 000</text>
<text x="1135.2" y="2298.8" font-size="37.5" text-anchor="middle" font-family="'Liberation Serif','Times New Roman',serif">(f)</text>
</svg></body></html>
